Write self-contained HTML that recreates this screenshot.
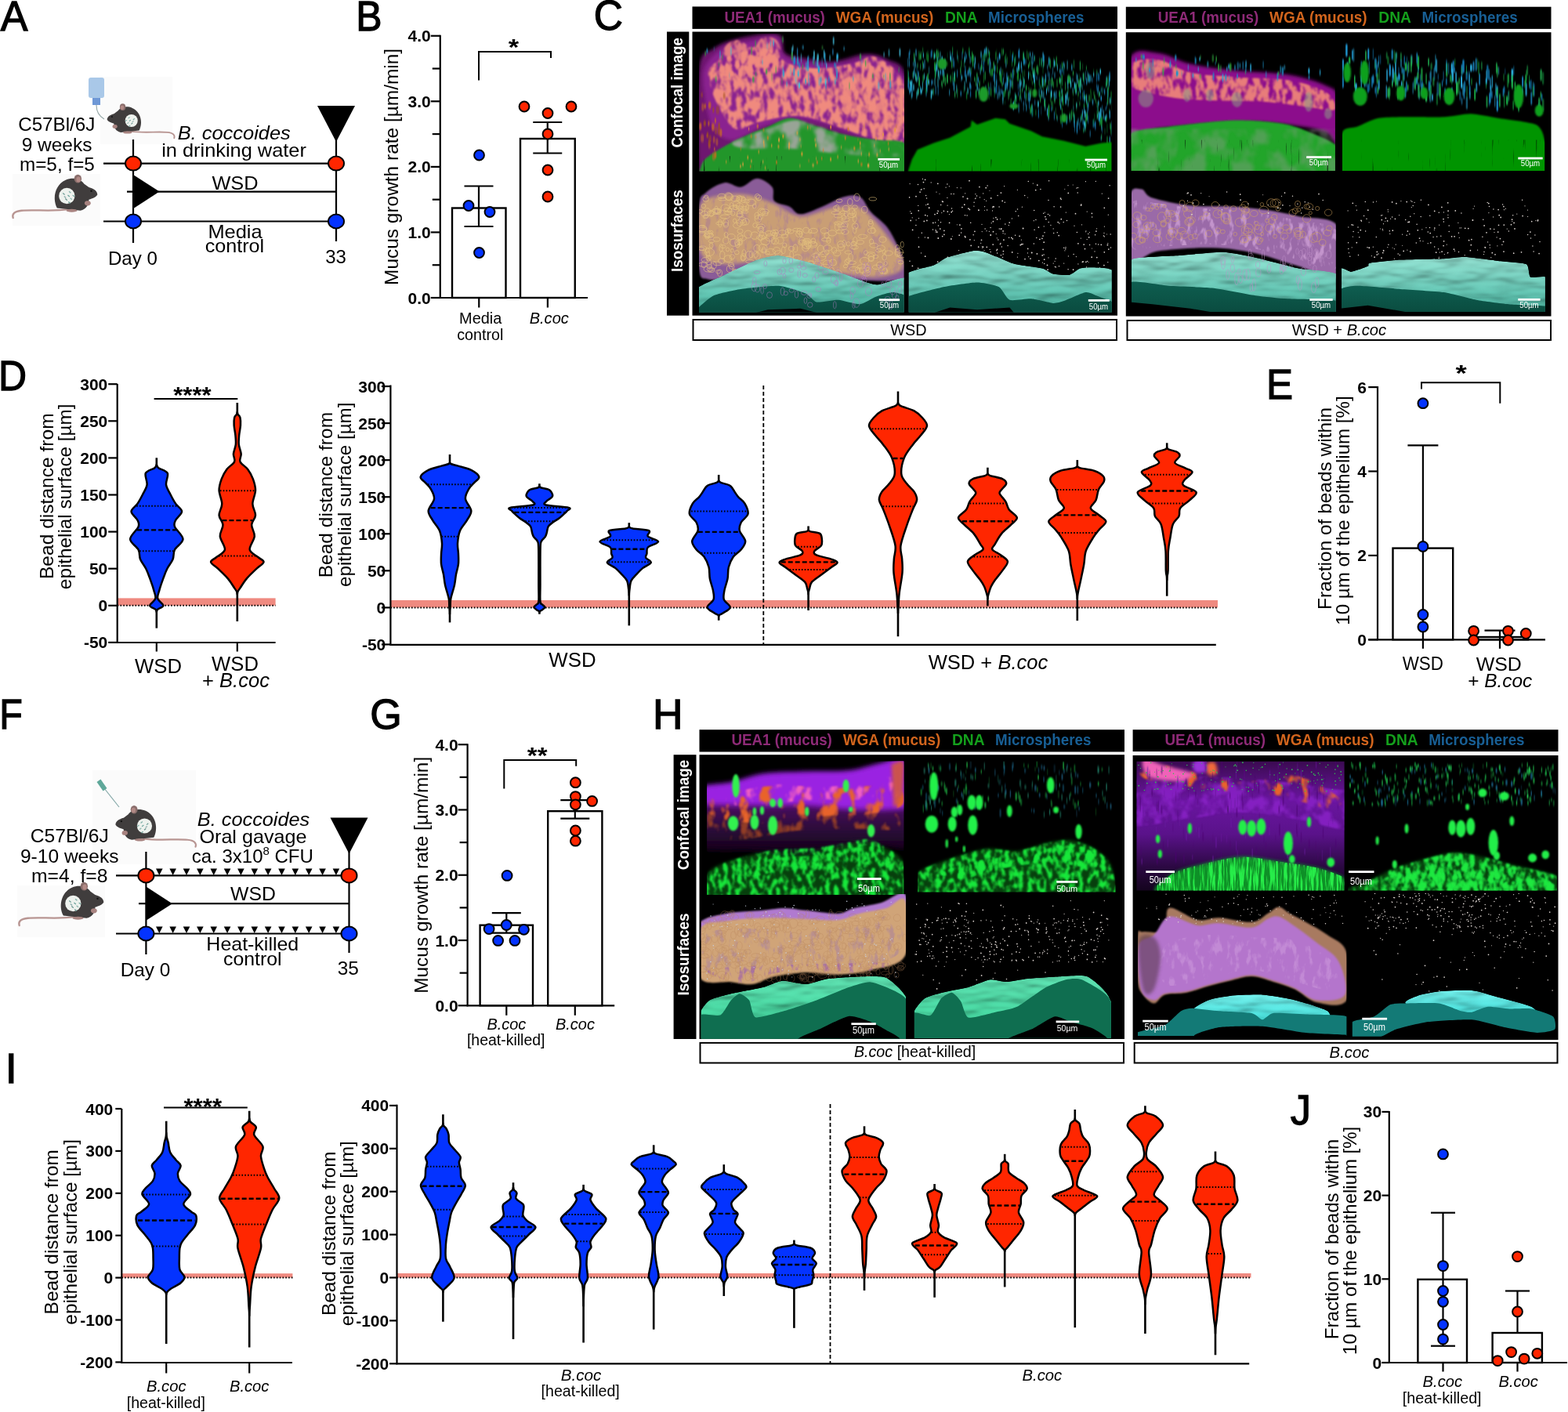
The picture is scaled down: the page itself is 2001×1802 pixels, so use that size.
<!DOCTYPE html>
<html><head><meta charset="utf-8"><title>Figure</title>
<style>
html,body{margin:0;padding:0;background:#fff;}
body{width:2001px;height:1802px;overflow:hidden;}
svg{display:block;font-family:'Liberation Sans', Arial, sans-serif;}
</style></head><body>
<svg xmlns="http://www.w3.org/2000/svg" width="2001" height="1802" viewBox="0 0 2001 1802">
<defs><filter id="b1" x="-20%" y="-20%" width="140%" height="140%"><feGaussianBlur stdDeviation="1"/></filter>
<filter id="b2" x="-20%" y="-20%" width="140%" height="140%"><feGaussianBlur stdDeviation="2"/></filter>
<filter id="b3" x="-20%" y="-20%" width="140%" height="140%"><feGaussianBlur stdDeviation="3.5"/></filter>
<filter id="bs" x="-50%" y="-50%" width="200%" height="200%"><feGaussianBlur stdDeviation="0.6 1.6"/></filter>
<filter id="mt1" x="-8%" y="-8%" width="116%" height="116%"><feTurbulence type="fractalNoise" baseFrequency="0.15 0.07" numOctaves="3" seed="3" result="n"/><feColorMatrix in="n" type="matrix" values="0 0 0 0 0  0 0 0 0 0  0 0 0 0 0  5 0 0 0 -1.75" result="a"/><feComposite in="SourceGraphic" in2="a" operator="in" result="c"/><feGaussianBlur in="c" stdDeviation="0.8"/></filter>
<filter id="mt2" x="-8%" y="-8%" width="116%" height="116%"><feTurbulence type="fractalNoise" baseFrequency="0.08 0.04" numOctaves="3" seed="7" result="n"/><feColorMatrix in="n" type="matrix" values="0 0 0 0 0  0 0 0 0 0  0 0 0 0 0  6 0 0 0 -2.9" result="a"/><feComposite in="SourceGraphic" in2="a" operator="in" result="c"/><feGaussianBlur in="c" stdDeviation="0.8"/></filter>
<filter id="st1" x="-8%" y="-8%" width="116%" height="116%"><feTurbulence type="fractalNoise" baseFrequency="0.30 0.025" numOctaves="3" seed="11" result="n"/><feColorMatrix in="n" type="matrix" values="0 0 0 0 0  0 0 0 0 0  0 0 0 0 0  6 0 0 0 -3" result="a"/><feComposite in="SourceGraphic" in2="a" operator="in" result="c"/><feGaussianBlur in="c" stdDeviation="0.5"/></filter>
<filter id="st2" x="-8%" y="-8%" width="116%" height="116%"><feTurbulence type="fractalNoise" baseFrequency="0.35 0.03" numOctaves="3" seed="5" result="n"/><feColorMatrix in="n" type="matrix" values="0 0 0 0 0  0 0 0 0 0  0 0 0 0 0  5 0 0 0 -2.2" result="a"/><feComposite in="SourceGraphic" in2="a" operator="in" result="c"/><feGaussianBlur in="c" stdDeviation="0.5"/></filter>
<filter id="mt3" x="-8%" y="-8%" width="116%" height="116%"><feTurbulence type="fractalNoise" baseFrequency="0.12 0.06" numOctaves="3" seed="9" result="n"/><feColorMatrix in="n" type="matrix" values="0 0 0 0 0  0 0 0 0 0  0 0 0 0 0  5 0 0 0 -2.6" result="a"/><feComposite in="SourceGraphic" in2="a" operator="in" result="c"/><feGaussianBlur in="c" stdDeviation="0.6"/></filter>
<filter id="gs1" x="-8%" y="-8%" width="116%" height="116%"><feTurbulence type="fractalNoise" baseFrequency="0.05 0.035" numOctaves="3" seed="21" result="n"/><feColorMatrix in="n" type="matrix" values="0 0 0 0 0  0 0 0 0 0  0 0 0 0 0  4 0 0 0 -1.7" result="a"/><feComposite in="SourceGraphic" in2="a" operator="in" result="c"/><feGaussianBlur in="c" stdDeviation="1.5"/></filter>
<filter id="gs2" x="-8%" y="-8%" width="116%" height="116%"><feTurbulence type="fractalNoise" baseFrequency="0.25 0.08" numOctaves="3" seed="22" result="n"/><feColorMatrix in="n" type="matrix" values="0 0 0 0 0  0 0 0 0 0  0 0 0 0 0  6 0 0 0 -2.6" result="a"/><feComposite in="SourceGraphic" in2="a" operator="in" result="c"/><feGaussianBlur in="c" stdDeviation="0.6"/></filter>
<filter id="dk1" x="-8%" y="-8%" width="116%" height="116%"><feTurbulence type="fractalNoise" baseFrequency="0.30 0.02" numOctaves="3" seed="31" result="n"/><feColorMatrix in="n" type="matrix" values="0 0 0 0 0  0 0 0 0 0  0 0 0 0 0  6 0 0 0 -4.2" result="a"/><feComposite in="SourceGraphic" in2="a" operator="in" result="c"/><feGaussianBlur in="c" stdDeviation="0.4"/></filter>
<filter id="bump" x="0" y="0" width="100%" height="100%"><feTurbulence type="fractalNoise" baseFrequency="0.025 0.07" numOctaves="2" seed="4" result="n"/><feDiffuseLighting in="n" surfaceScale="4" lighting-color="#fff" result="l"><feDistantLight azimuth="250" elevation="55"/></feDiffuseLighting><feComposite in="l" in2="SourceGraphic" operator="arithmetic" k1="1.0" k2="0" k3="0.12" k4="0" result="m"/><feComposite in="m" in2="SourceGraphic" operator="in"/></filter>
<clipPath id="cl1"><rect x="892" y="42.8" width="262" height="175.8"/></clipPath>
<clipPath id="cl2"><rect x="1158.3" y="42.8" width="260.2" height="175.8"/></clipPath>
<clipPath id="cl3"><rect x="892" y="220.8" width="261.6" height="177.8"/></clipPath>
<linearGradient id="tealtop" x1="0" y1="0" x2="0" y2="1"><stop offset="0" stop-color="#90dccd"/><stop offset="0.6" stop-color="#62c2b0"/><stop offset="1" stop-color="#3c9e8c"/></linearGradient>
<linearGradient id="tealfront" x1="0" y1="0" x2="0" y2="1"><stop offset="0" stop-color="#0e5e50"/><stop offset="1" stop-color="#0a4a3e"/></linearGradient>
<clipPath id="cl4"><rect x="1159.7" y="220.8" width="259.1" height="177.8"/></clipPath>
<clipPath id="cl5"><rect x="1443.6" y="42.8" width="260.3" height="175.2"/></clipPath>
<clipPath id="cl6"><rect x="1713" y="42.8" width="258.2" height="175.2"/></clipPath>
<clipPath id="cl7"><rect x="1444" y="220.8" width="260.8" height="177.2"/></clipPath>
<clipPath id="cl8"><rect x="1712" y="220.8" width="259.9" height="177.2"/></clipPath>
<linearGradient id="minttop" x1="0" y1="0" x2="0" y2="1"><stop offset="0" stop-color="#5ee0b0"/><stop offset="1" stop-color="#34c890"/></linearGradient>
<linearGradient id="cyantop" x1="0" y1="0" x2="0" y2="1"><stop offset="0" stop-color="#70eae6"/><stop offset="1" stop-color="#40d8d4"/></linearGradient>
<filter id="gsp" x="-8%" y="-8%" width="116%" height="116%"><feTurbulence type="fractalNoise" baseFrequency="0.17 0.09" numOctaves="3" seed="41" result="n"/><feColorMatrix in="n" type="matrix" values="0 0 0 0 0  0 0 0 0 0  0 0 0 0 0  5 0 0 0 -2.2" result="a"/><feComposite in="SourceGraphic" in2="a" operator="in" result="c"/><feGaussianBlur in="c" stdDeviation="0.8"/></filter>
<filter id="gsp2" x="-8%" y="-8%" width="116%" height="116%"><feTurbulence type="fractalNoise" baseFrequency="0.16 0.08" numOctaves="3" seed="43" result="n"/><feColorMatrix in="n" type="matrix" values="0 0 0 0 0  0 0 0 0 0  0 0 0 0 0  5 0 0 0 -2.3" result="a"/><feComposite in="SourceGraphic" in2="a" operator="in" result="c"/><feGaussianBlur in="c" stdDeviation="0.8"/></filter>
<filter id="vio" x="-8%" y="-8%" width="116%" height="116%"><feTurbulence type="fractalNoise" baseFrequency="0.06 0.05" numOctaves="3" seed="51" result="n"/><feColorMatrix in="n" type="matrix" values="0 0 0 0 0  0 0 0 0 0  0 0 0 0 0  4 0 0 0 -1.6" result="a"/><feComposite in="SourceGraphic" in2="a" operator="in" result="c"/><feGaussianBlur in="c" stdDeviation="1.2"/></filter>
<filter id="org" x="-8%" y="-8%" width="116%" height="116%"><feTurbulence type="fractalNoise" baseFrequency="0.07 0.04" numOctaves="3" seed="52" result="n"/><feColorMatrix in="n" type="matrix" values="0 0 0 0 0  0 0 0 0 0  0 0 0 0 0  6 0 0 0 -3.2" result="a"/><feComposite in="SourceGraphic" in2="a" operator="in" result="c"/><feGaussianBlur in="c" stdDeviation="1"/></filter>
<filter id="pnk" x="-8%" y="-8%" width="116%" height="116%"><feTurbulence type="fractalNoise" baseFrequency="0.07 0.04" numOctaves="3" seed="53" result="n"/><feColorMatrix in="n" type="matrix" values="0 0 0 0 0  0 0 0 0 0  0 0 0 0 0  6 0 0 0 -3.4" result="a"/><feComposite in="SourceGraphic" in2="a" operator="in" result="c"/><feGaussianBlur in="c" stdDeviation="1"/></filter>
<clipPath id="cl9"><rect x="902.2" y="971.5" width="251.1" height="170.5"/></clipPath>
<linearGradient id="hdk" x1="0" y1="0" x2="0" y2="1"><stop offset="0" stop-color="#6a1888"/><stop offset="0.5" stop-color="#3a0c4c"/><stop offset="1" stop-color="#120316"/></linearGradient>
<clipPath id="cl10"><rect x="1171" y="971.5" width="252.4" height="167.1"/></clipPath>
<clipPath id="cl11"><rect x="1171" y="971.5" width="252.4" height="167.1"/></clipPath>
<clipPath id="cl12"><rect x="894.7" y="1141" width="261.3" height="184.5"/></clipPath>
<clipPath id="cl13"><rect x="1166.9" y="1141" width="251" height="183.8"/></clipPath>
<clipPath id="cl14"><rect x="1450.5" y="971.7" width="265.1" height="164.7"/></clipPath>
<linearGradient id="hpur" x1="0" y1="0" x2="0" y2="1"><stop offset="0" stop-color="#3a0a50"/><stop offset="0.3" stop-color="#6a16a0"/><stop offset="0.55" stop-color="#5a128a"/><stop offset="0.8" stop-color="#2a0840"/><stop offset="1" stop-color="#100318"/></linearGradient>
<clipPath id="cl15"><rect x="1720.3" y="971.7" width="266.5" height="164.7"/></clipPath>
<clipPath id="cl16"><rect x="1720.3" y="971.7" width="266.5" height="164.7"/></clipPath>
<clipPath id="cl17"><rect x="1452" y="1140" width="266.4" height="182"/></clipPath>
<clipPath id="cl18"><rect x="1725.8" y="1140" width="260.7" height="182.8"/></clipPath></defs>
<rect width="2001" height="1802" fill="#fff"/>
<text x="18" y="38.75" font-size="53.5" text-anchor="middle" stroke="#000" stroke-width="1.3" textLength="34.7" lengthAdjust="spacingAndGlyphs">A</text>
<text x="470.88" y="38.75" font-size="53.5" text-anchor="middle" stroke="#000" stroke-width="1.3" textLength="33.3" lengthAdjust="spacingAndGlyphs">B</text>
<text x="776.45" y="38.2" font-size="53.5" text-anchor="middle" stroke="#000" stroke-width="1.3" textLength="37.21" lengthAdjust="spacingAndGlyphs">C</text>
<text x="16" y="497.6" font-size="53.5" text-anchor="middle" stroke="#000" stroke-width="1.3" textLength="36.05" lengthAdjust="spacingAndGlyphs">D</text>
<text x="1633" y="508.6" font-size="53.5" text-anchor="middle" stroke="#000" stroke-width="1.3" textLength="34.05" lengthAdjust="spacingAndGlyphs">E</text>
<text x="14.05" y="929.8" font-size="53.5" text-anchor="middle" stroke="#000" stroke-width="1.3" textLength="29.55" lengthAdjust="spacingAndGlyphs">F</text>
<text x="492.5" y="930.3" font-size="53.5" text-anchor="middle" stroke="#000" stroke-width="1.3" textLength="40.52" lengthAdjust="spacingAndGlyphs">G</text>
<text x="852.35" y="929.6" font-size="53.5" text-anchor="middle" stroke="#000" stroke-width="1.3" textLength="38.56" lengthAdjust="spacingAndGlyphs">H</text>
<text x="14.35" y="1382" font-size="53.5" text-anchor="middle" stroke="#000" stroke-width="1.3" textLength="15.03" lengthAdjust="spacingAndGlyphs">I</text>
<text x="1659.85" y="1435" font-size="53.5" text-anchor="middle" stroke="#000" stroke-width="1.3" textLength="26.28" lengthAdjust="spacingAndGlyphs">J</text>
<rect x="128" y="98" width="92" height="86" fill="#fbfbfb"/>
<rect x="16" y="222" width="112" height="66" fill="#fbfbfb"/>
<g transform="translate(164 154) scale(-0.62 0.62)">
<path d="M-4,22 C-30,26 -60,22 -80,24 C-92,25 -96,30 -94,36" fill="none" stroke="#b89592" stroke-width="3" stroke-linecap="round"/>
<path d="M-22,20 C-30,5 -26,-18 -8,-26 C4,-31 16,-28 22,-20 L30,-14 C38,-12 44,-8 44,-2 C42,2 36,4 30,6 C30,14 26,22 16,24 Z" fill="#403d3d"/>
<ellipse cx="12" cy="-28" rx="6" ry="7" fill="#8a6e6c"/><ellipse cx="13" cy="-27" rx="3.5" ry="4.5" fill="#b38a86"/>
<ellipse cx="28" cy="12" rx="5" ry="4" fill="#a88380"/><ellipse cx="2" cy="24" rx="9" ry="2.5" fill="#a88380"/>
<circle cx="-6" cy="0" r="13" fill="#eef2ee"/>
<rect x="-12" y="-5" width="4" height="1.6" fill="#6a9c94" transform="rotate(40 -12 -5)"/>
<rect x="-2" y="-8" width="4" height="1.6" fill="#7fb0a8" transform="rotate(40 -2 -8)"/>
<rect x="-8" y="4" width="4" height="1.6" fill="#5b8a84" transform="rotate(40 -8 4)"/>
<rect x="0" y="3" width="4" height="1.6" fill="#8fb8b0" transform="rotate(40 0 3)"/>
<rect x="-4" y="-2" width="4" height="1.6" fill="#6aa29a" transform="rotate(40 -4 -2)"/>
<rect x="4" y="-2" width="4" height="1.6" fill="#77a9a0" transform="rotate(40 4 -2)"/>
<rect x="-10" y="0" width="4" height="1.6" fill="#8aa" transform="rotate(40 -10 0)"/>
<rect x="-3" y="9" width="4" height="1.6" fill="#6a9c94" transform="rotate(40 -3 9)"/>
<circle cx="34" cy="-8" r="1.6" fill="#111"/>
</g>
<g transform="translate(90 250) scale(0.78 0.78)">
<path d="M-4,22 C-30,26 -60,22 -80,24 C-92,25 -96,30 -94,36" fill="none" stroke="#b89592" stroke-width="3" stroke-linecap="round"/>
<path d="M-22,20 C-30,5 -26,-18 -8,-26 C4,-31 16,-28 22,-20 L30,-14 C38,-12 44,-8 44,-2 C42,2 36,4 30,6 C30,14 26,22 16,24 Z" fill="#403d3d"/>
<ellipse cx="12" cy="-28" rx="6" ry="7" fill="#8a6e6c"/><ellipse cx="13" cy="-27" rx="3.5" ry="4.5" fill="#b38a86"/>
<ellipse cx="28" cy="12" rx="5" ry="4" fill="#a88380"/><ellipse cx="2" cy="24" rx="9" ry="2.5" fill="#a88380"/>
<circle cx="-6" cy="0" r="13" fill="#eef2ee"/>
<rect x="-12" y="-5" width="4" height="1.6" fill="#6a9c94" transform="rotate(40 -12 -5)"/>
<rect x="-2" y="-8" width="4" height="1.6" fill="#7fb0a8" transform="rotate(40 -2 -8)"/>
<rect x="-8" y="4" width="4" height="1.6" fill="#5b8a84" transform="rotate(40 -8 4)"/>
<rect x="0" y="3" width="4" height="1.6" fill="#8fb8b0" transform="rotate(40 0 3)"/>
<rect x="-4" y="-2" width="4" height="1.6" fill="#6aa29a" transform="rotate(40 -4 -2)"/>
<rect x="4" y="-2" width="4" height="1.6" fill="#77a9a0" transform="rotate(40 4 -2)"/>
<rect x="-10" y="0" width="4" height="1.6" fill="#8aa" transform="rotate(40 -10 0)"/>
<rect x="-3" y="9" width="4" height="1.6" fill="#6a9c94" transform="rotate(40 -3 9)"/>
<circle cx="34" cy="-8" r="1.6" fill="#111"/>
</g>
<rect x="113" y="99" width="20" height="26" rx="3" fill="#a9c8e8"/>
<rect x="118" y="125" width="10" height="9" fill="#6f98d6"/>
<path d="M123,134 C123,142 126,148 133,152" fill="none" stroke="#9aa" stroke-width="1.2"/>
<line x1="170" y1="178" x2="170" y2="310" stroke="#000" stroke-width="2.2"/>
<line x1="429" y1="175" x2="429" y2="308" stroke="#000" stroke-width="2.2"/>
<line x1="132" y1="208.6" x2="429" y2="208.6" stroke="#000" stroke-width="2.2"/>
<line x1="132" y1="282.5" x2="429" y2="282.5" stroke="#000" stroke-width="2.2"/>
<line x1="162" y1="244.6" x2="429" y2="244.6" stroke="#000" stroke-width="2.2"/>
<polygon points="170,223 203.5,244.6 170,266.2" fill="#000"/>
<polygon points="405,135 453,135 429,181" fill="#000"/>
<ellipse cx="170" cy="208.6" rx="10" ry="9" fill="#FF2600" stroke="#000" stroke-width="2"/>
<ellipse cx="429" cy="208.6" rx="10" ry="9" fill="#FF2600" stroke="#000" stroke-width="2"/>
<ellipse cx="170" cy="282.5" rx="10" ry="9" fill="#0433FF" stroke="#000" stroke-width="2"/>
<ellipse cx="429" cy="282.5" rx="10" ry="9" fill="#0433FF" stroke="#000" stroke-width="2"/>
<text x="72.25" y="166.7" font-size="24" textLength="98.18" lengthAdjust="spacingAndGlyphs" text-anchor="middle">C57Bl/6J</text>
<text x="72.55" y="192.5" font-size="24" textLength="89.78" lengthAdjust="spacingAndGlyphs" text-anchor="middle">9 weeks</text>
<text x="72.9" y="218" font-size="24" textLength="95.88" lengthAdjust="spacingAndGlyphs" text-anchor="middle">m=5, f=5</text>
<text x="298.75" y="178" font-size="24" textLength="144.18" lengthAdjust="spacingAndGlyphs" text-anchor="middle" font-style="italic">B. coccoides</text>
<text x="298.5" y="200" font-size="24" textLength="184.68" lengthAdjust="spacingAndGlyphs" text-anchor="middle">in drinking water</text>
<text x="300" y="242" font-size="24" textLength="59.18" lengthAdjust="spacingAndGlyphs" text-anchor="middle">WSD</text>
<text x="300" y="303.5" font-size="24" textLength="69.18" lengthAdjust="spacingAndGlyphs" text-anchor="middle">Media</text>
<text x="299.4" y="321.5" font-size="24" textLength="75.43" lengthAdjust="spacingAndGlyphs" text-anchor="middle">control</text>
<text x="169.4" y="338" font-size="24" textLength="62.93" lengthAdjust="spacingAndGlyphs" text-anchor="middle">Day 0</text>
<text x="428.5" y="335.5" font-size="24" textLength="26.68" lengthAdjust="spacingAndGlyphs" text-anchor="middle">33</text>
<rect x="118" y="983" width="132" height="120" fill="#fbfbfb"/>
<rect x="22" y="1130" width="112" height="66" fill="#fbfbfb"/>
<g transform="translate(180 1054) scale(-0.74 0.74)">
<path d="M-4,22 C-30,26 -60,22 -80,24 C-92,25 -96,30 -94,36" fill="none" stroke="#b89592" stroke-width="3" stroke-linecap="round"/>
<path d="M-22,20 C-30,5 -26,-18 -8,-26 C4,-31 16,-28 22,-20 L30,-14 C38,-12 44,-8 44,-2 C42,2 36,4 30,6 C30,14 26,22 16,24 Z" fill="#403d3d"/>
<ellipse cx="12" cy="-28" rx="6" ry="7" fill="#8a6e6c"/><ellipse cx="13" cy="-27" rx="3.5" ry="4.5" fill="#b38a86"/>
<ellipse cx="28" cy="12" rx="5" ry="4" fill="#a88380"/><ellipse cx="2" cy="24" rx="9" ry="2.5" fill="#a88380"/>
<circle cx="-6" cy="0" r="13" fill="#eef2ee"/>
<rect x="-12" y="-5" width="4" height="1.6" fill="#6a9c94" transform="rotate(40 -12 -5)"/>
<rect x="-2" y="-8" width="4" height="1.6" fill="#7fb0a8" transform="rotate(40 -2 -8)"/>
<rect x="-8" y="4" width="4" height="1.6" fill="#5b8a84" transform="rotate(40 -8 4)"/>
<rect x="0" y="3" width="4" height="1.6" fill="#8fb8b0" transform="rotate(40 0 3)"/>
<rect x="-4" y="-2" width="4" height="1.6" fill="#6aa29a" transform="rotate(40 -4 -2)"/>
<rect x="4" y="-2" width="4" height="1.6" fill="#77a9a0" transform="rotate(40 4 -2)"/>
<rect x="-10" y="0" width="4" height="1.6" fill="#8aa" transform="rotate(40 -10 0)"/>
<rect x="-3" y="9" width="4" height="1.6" fill="#6a9c94" transform="rotate(40 -3 9)"/>
<circle cx="34" cy="-8" r="1.6" fill="#111"/>
</g>
<g transform="translate(98 1153) scale(0.78 0.78)">
<path d="M-4,22 C-30,26 -60,22 -80,24 C-92,25 -96,30 -94,36" fill="none" stroke="#b89592" stroke-width="3" stroke-linecap="round"/>
<path d="M-22,20 C-30,5 -26,-18 -8,-26 C4,-31 16,-28 22,-20 L30,-14 C38,-12 44,-8 44,-2 C42,2 36,4 30,6 C30,14 26,22 16,24 Z" fill="#403d3d"/>
<ellipse cx="12" cy="-28" rx="6" ry="7" fill="#8a6e6c"/><ellipse cx="13" cy="-27" rx="3.5" ry="4.5" fill="#b38a86"/>
<ellipse cx="28" cy="12" rx="5" ry="4" fill="#a88380"/><ellipse cx="2" cy="24" rx="9" ry="2.5" fill="#a88380"/>
<circle cx="-6" cy="0" r="13" fill="#eef2ee"/>
<rect x="-12" y="-5" width="4" height="1.6" fill="#6a9c94" transform="rotate(40 -12 -5)"/>
<rect x="-2" y="-8" width="4" height="1.6" fill="#7fb0a8" transform="rotate(40 -2 -8)"/>
<rect x="-8" y="4" width="4" height="1.6" fill="#5b8a84" transform="rotate(40 -8 4)"/>
<rect x="0" y="3" width="4" height="1.6" fill="#8fb8b0" transform="rotate(40 0 3)"/>
<rect x="-4" y="-2" width="4" height="1.6" fill="#6aa29a" transform="rotate(40 -4 -2)"/>
<rect x="4" y="-2" width="4" height="1.6" fill="#77a9a0" transform="rotate(40 4 -2)"/>
<rect x="-10" y="0" width="4" height="1.6" fill="#8aa" transform="rotate(40 -10 0)"/>
<rect x="-3" y="9" width="4" height="1.6" fill="#6a9c94" transform="rotate(40 -3 9)"/>
<circle cx="34" cy="-8" r="1.6" fill="#111"/>
</g>
<path d="M133,1006 L152,1030" stroke="#8aa" stroke-width="1.2"/>
<rect x="127" y="995" width="6" height="14" fill="#5fa89a" transform="rotate(-35 130 1002)"/>
<line x1="186.4" y1="1087" x2="186.4" y2="1218" stroke="#000" stroke-width="2.2"/>
<line x1="445.5" y1="1083.5" x2="445.5" y2="1216" stroke="#000" stroke-width="2.2"/>
<line x1="148" y1="1117.4" x2="445.5" y2="1117.4" stroke="#000" stroke-width="2.2"/>
<line x1="148" y1="1191.5" x2="445.5" y2="1191.5" stroke="#000" stroke-width="2.2"/>
<line x1="177" y1="1153.2" x2="445.5" y2="1153.2" stroke="#000" stroke-width="2.2"/>
<polygon points="186.4,1131.6 219.9,1153.2 186.4,1174.8" fill="#000"/>
<polygon points="421.5,1043.5 469.5,1043.5 445.5,1089.5" fill="#000"/>
<polygon points="199,1108.4 207.6,1108.4 203.3,1117" fill="#000"/>
<polygon points="199,1182.5 207.6,1182.5 203.3,1191.1" fill="#000"/>
<polygon points="216.35,1108.4 224.95,1108.4 220.65,1117" fill="#000"/>
<polygon points="216.35,1182.5 224.95,1182.5 220.65,1191.1" fill="#000"/>
<polygon points="233.71,1108.4 242.31,1108.4 238.01,1117" fill="#000"/>
<polygon points="233.71,1182.5 242.31,1182.5 238.01,1191.1" fill="#000"/>
<polygon points="251.06,1108.4 259.66,1108.4 255.36,1117" fill="#000"/>
<polygon points="251.06,1182.5 259.66,1182.5 255.36,1191.1" fill="#000"/>
<polygon points="268.42,1108.4 277.02,1108.4 272.72,1117" fill="#000"/>
<polygon points="268.42,1182.5 277.02,1182.5 272.72,1191.1" fill="#000"/>
<polygon points="285.77,1108.4 294.37,1108.4 290.07,1117" fill="#000"/>
<polygon points="285.77,1182.5 294.37,1182.5 290.07,1191.1" fill="#000"/>
<polygon points="303.12,1108.4 311.72,1108.4 307.42,1117" fill="#000"/>
<polygon points="303.12,1182.5 311.72,1182.5 307.42,1191.1" fill="#000"/>
<polygon points="320.48,1108.4 329.08,1108.4 324.78,1117" fill="#000"/>
<polygon points="320.48,1182.5 329.08,1182.5 324.78,1191.1" fill="#000"/>
<polygon points="337.83,1108.4 346.43,1108.4 342.13,1117" fill="#000"/>
<polygon points="337.83,1182.5 346.43,1182.5 342.13,1191.1" fill="#000"/>
<polygon points="355.18,1108.4 363.78,1108.4 359.48,1117" fill="#000"/>
<polygon points="355.18,1182.5 363.78,1182.5 359.48,1191.1" fill="#000"/>
<polygon points="372.54,1108.4 381.14,1108.4 376.84,1117" fill="#000"/>
<polygon points="372.54,1182.5 381.14,1182.5 376.84,1191.1" fill="#000"/>
<polygon points="389.89,1108.4 398.49,1108.4 394.19,1117" fill="#000"/>
<polygon points="389.89,1182.5 398.49,1182.5 394.19,1191.1" fill="#000"/>
<polygon points="407.25,1108.4 415.85,1108.4 411.55,1117" fill="#000"/>
<polygon points="407.25,1182.5 415.85,1182.5 411.55,1191.1" fill="#000"/>
<polygon points="424.6,1108.4 433.2,1108.4 428.9,1117" fill="#000"/>
<polygon points="424.6,1182.5 433.2,1182.5 428.9,1191.1" fill="#000"/>
<ellipse cx="186.4" cy="1117.4" rx="10" ry="9" fill="#FF2600" stroke="#000" stroke-width="2"/>
<ellipse cx="445.5" cy="1117.4" rx="10" ry="9" fill="#FF2600" stroke="#000" stroke-width="2"/>
<ellipse cx="186.4" cy="1191.5" rx="10" ry="9" fill="#0433FF" stroke="#000" stroke-width="2"/>
<ellipse cx="445.5" cy="1191.5" rx="10" ry="9" fill="#0433FF" stroke="#000" stroke-width="2"/>
<text x="88.75" y="1075.3" font-size="24" textLength="99.98" lengthAdjust="spacingAndGlyphs" text-anchor="middle">C57Bl/6J</text>
<text x="88.7" y="1100.8" font-size="24" textLength="125.48" lengthAdjust="spacingAndGlyphs" text-anchor="middle">9-10 weeks</text>
<text x="88.7" y="1126.4" font-size="24" textLength="97.48" lengthAdjust="spacingAndGlyphs" text-anchor="middle">m=4, f=8</text>
<text x="323.55" y="1054.4" font-size="24" textLength="143.38" lengthAdjust="spacingAndGlyphs" text-anchor="middle" font-style="italic">B. coccoides</text>
<text x="322.95" y="1076" font-size="24" textLength="136.98" lengthAdjust="spacingAndGlyphs" text-anchor="middle">Oral gavage</text>
<text x="322.3" y="1100.8" font-size="24" text-anchor="middle">ca. 3x10<tspan dy="-10" font-size="15">8</tspan><tspan dy="10"> CFU</tspan></text>
<text x="323" y="1148.6" font-size="24" textLength="57.78" lengthAdjust="spacingAndGlyphs" text-anchor="middle">WSD</text>
<text x="322.3" y="1213.2" font-size="24" textLength="117.88" lengthAdjust="spacingAndGlyphs" text-anchor="middle">Heat-killed</text>
<text x="322.3" y="1231.8" font-size="24" textLength="74.48" lengthAdjust="spacingAndGlyphs" text-anchor="middle">control</text>
<text x="185.5" y="1246.3" font-size="24" textLength="63.68" lengthAdjust="spacingAndGlyphs" text-anchor="middle">Day 0</text>
<text x="444.25" y="1243.8" font-size="24" textLength="27.18" lengthAdjust="spacingAndGlyphs" text-anchor="middle">35</text>
<line x1="561.75" y1="44.75" x2="561.75" y2="381" stroke="#000" stroke-width="2.2"/>
<line x1="560.75" y1="380" x2="750" y2="380" stroke="#000" stroke-width="2.2"/>
<line x1="549.75" y1="380" x2="561.75" y2="380" stroke="#000" stroke-width="2.2"/>
<text x="549.8" y="387.5" font-size="21" text-anchor="end" font-weight="bold">0.0</text>
<line x1="549.75" y1="296.44" x2="561.75" y2="296.44" stroke="#000" stroke-width="2.2"/>
<text x="549.8" y="303.94" font-size="21" text-anchor="end" font-weight="bold">1.0</text>
<line x1="549.75" y1="212.88" x2="561.75" y2="212.88" stroke="#000" stroke-width="2.2"/>
<text x="549.8" y="220.38" font-size="21" text-anchor="end" font-weight="bold">2.0</text>
<line x1="549.75" y1="129.31" x2="561.75" y2="129.31" stroke="#000" stroke-width="2.2"/>
<text x="549.8" y="136.81" font-size="21" text-anchor="end" font-weight="bold">3.0</text>
<line x1="549.75" y1="45.75" x2="561.75" y2="45.75" stroke="#000" stroke-width="2.2"/>
<text x="549.8" y="53.25" font-size="21" text-anchor="end" font-weight="bold">4.0</text>
<line x1="551.75" y1="338.22" x2="561.75" y2="338.22" stroke="#000" stroke-width="2.2"/>
<line x1="551.75" y1="254.66" x2="561.75" y2="254.66" stroke="#000" stroke-width="2.2"/>
<line x1="551.75" y1="171.09" x2="561.75" y2="171.09" stroke="#000" stroke-width="2.2"/>
<line x1="551.75" y1="87.53" x2="561.75" y2="87.53" stroke="#000" stroke-width="2.2"/>
<rect x="577" y="265.5" width="68.5" height="114.5" fill="#fff" stroke="#000" stroke-width="2.4"/>
<line x1="611.25" y1="380" x2="611.25" y2="392.5" stroke="#000" stroke-width="2.2"/>
<rect x="664" y="177" width="69.75" height="203" fill="#fff" stroke="#000" stroke-width="2.4"/>
<line x1="698.88" y1="380" x2="698.88" y2="392.5" stroke="#000" stroke-width="2.2"/>
<line x1="611" y1="237.5" x2="611" y2="289" stroke="#000" stroke-width="2.2"/>
<line x1="592.5" y1="237.5" x2="629.5" y2="237.5" stroke="#000" stroke-width="2.2"/>
<line x1="592.5" y1="289" x2="629.5" y2="289" stroke="#000" stroke-width="2.2"/>
<line x1="698.75" y1="156" x2="698.75" y2="195.5" stroke="#000" stroke-width="2.2"/>
<line x1="680.25" y1="156" x2="717.25" y2="156" stroke="#000" stroke-width="2.2"/>
<line x1="680.25" y1="195.5" x2="717.25" y2="195.5" stroke="#000" stroke-width="2.2"/>
<circle cx="611.5" cy="198" r="6.4" fill="#0433FF" stroke="#000" stroke-width="2"/>
<circle cx="598" cy="262.5" r="6.4" fill="#0433FF" stroke="#000" stroke-width="2"/>
<circle cx="625" cy="270.5" r="6.4" fill="#0433FF" stroke="#000" stroke-width="2"/>
<circle cx="611.5" cy="322.5" r="6.4" fill="#0433FF" stroke="#000" stroke-width="2"/>
<circle cx="669" cy="136" r="6.4" fill="#FF2600" stroke="#000" stroke-width="2"/>
<circle cx="729" cy="136" r="6.4" fill="#FF2600" stroke="#000" stroke-width="2"/>
<circle cx="699" cy="144.5" r="6.4" fill="#FF2600" stroke="#000" stroke-width="2"/>
<circle cx="699" cy="171" r="6.4" fill="#FF2600" stroke="#000" stroke-width="2"/>
<circle cx="699" cy="217" r="6.4" fill="#FF2600" stroke="#000" stroke-width="2"/>
<circle cx="699" cy="251" r="6.4" fill="#FF2600" stroke="#000" stroke-width="2"/>
<text x="508.3" y="212.9" font-size="24.2" textLength="302.09" lengthAdjust="spacingAndGlyphs" text-anchor="middle" transform="rotate(-90 508.3 212.9)">Mucus growth rate [µm/min]</text>
<text x="613.2" y="412.8" font-size="19.7" textLength="54.18" lengthAdjust="spacingAndGlyphs" text-anchor="middle">Media</text>
<text x="612.8" y="433.6" font-size="19.7" textLength="58.98" lengthAdjust="spacingAndGlyphs" text-anchor="middle">control</text>
<text x="700.75" y="412.8" font-size="19.7" textLength="50.08" lengthAdjust="spacingAndGlyphs" text-anchor="middle" font-style="italic">B.coc</text>
<polyline points="611,102.5 611,66 703,66 703,74" fill="none" stroke="#000" stroke-width="2"/>
<text x="655.35" y="69.9" font-size="30" textLength="13.4" lengthAdjust="spacingAndGlyphs" text-anchor="middle" font-weight="bold">*</text>
<line x1="596.6" y1="949.2" x2="596.6" y2="1284.3" stroke="#000" stroke-width="2.2"/>
<line x1="595.6" y1="1283.3" x2="784.2" y2="1283.3" stroke="#000" stroke-width="2.2"/>
<line x1="584.6" y1="1283.3" x2="596.6" y2="1283.3" stroke="#000" stroke-width="2.2"/>
<text x="584.6" y="1290.8" font-size="21" text-anchor="end" font-weight="bold">0.0</text>
<line x1="584.6" y1="1200.03" x2="596.6" y2="1200.03" stroke="#000" stroke-width="2.2"/>
<text x="584.6" y="1207.53" font-size="21" text-anchor="end" font-weight="bold">1.0</text>
<line x1="584.6" y1="1116.75" x2="596.6" y2="1116.75" stroke="#000" stroke-width="2.2"/>
<text x="584.6" y="1124.25" font-size="21" text-anchor="end" font-weight="bold">2.0</text>
<line x1="584.6" y1="1033.47" x2="596.6" y2="1033.47" stroke="#000" stroke-width="2.2"/>
<text x="584.6" y="1040.97" font-size="21" text-anchor="end" font-weight="bold">3.0</text>
<line x1="584.6" y1="950.2" x2="596.6" y2="950.2" stroke="#000" stroke-width="2.2"/>
<text x="584.6" y="957.7" font-size="21" text-anchor="end" font-weight="bold">4.0</text>
<line x1="586.6" y1="1241.66" x2="596.6" y2="1241.66" stroke="#000" stroke-width="2.2"/>
<line x1="586.6" y1="1158.39" x2="596.6" y2="1158.39" stroke="#000" stroke-width="2.2"/>
<line x1="586.6" y1="1075.11" x2="596.6" y2="1075.11" stroke="#000" stroke-width="2.2"/>
<line x1="586.6" y1="991.84" x2="596.6" y2="991.84" stroke="#000" stroke-width="2.2"/>
<rect x="612.6" y="1180.7" width="67.4" height="102.6" fill="#fff" stroke="#000" stroke-width="2.4"/>
<line x1="646.3" y1="1283.3" x2="646.3" y2="1295.8" stroke="#000" stroke-width="2.2"/>
<rect x="699.2" y="1035.2" width="69.2" height="248.1" fill="#fff" stroke="#000" stroke-width="2.4"/>
<line x1="733.8" y1="1283.3" x2="733.8" y2="1295.8" stroke="#000" stroke-width="2.2"/>
<line x1="646.3" y1="1165.1" x2="646.3" y2="1190.7" stroke="#000" stroke-width="2.2"/>
<line x1="627.8" y1="1165.1" x2="664.8" y2="1165.1" stroke="#000" stroke-width="2.2"/>
<line x1="627.8" y1="1190.7" x2="664.8" y2="1190.7" stroke="#000" stroke-width="2.2"/>
<line x1="733.8" y1="1021.2" x2="733.8" y2="1044.6" stroke="#000" stroke-width="2.2"/>
<line x1="715.3" y1="1021.2" x2="752.3" y2="1021.2" stroke="#000" stroke-width="2.2"/>
<line x1="715.3" y1="1044.6" x2="752.3" y2="1044.6" stroke="#000" stroke-width="2.2"/>
<circle cx="647.1" cy="1117.4" r="6.4" fill="#0433FF" stroke="#000" stroke-width="2"/>
<circle cx="646.3" cy="1180.5" r="6.4" fill="#0433FF" stroke="#000" stroke-width="2"/>
<circle cx="624.1" cy="1185.6" r="6.4" fill="#0433FF" stroke="#000" stroke-width="2"/>
<circle cx="668.5" cy="1186.3" r="6.4" fill="#0433FF" stroke="#000" stroke-width="2"/>
<circle cx="635.6" cy="1200.4" r="6.4" fill="#0433FF" stroke="#000" stroke-width="2"/>
<circle cx="657" cy="1200.4" r="6.4" fill="#0433FF" stroke="#000" stroke-width="2"/>
<circle cx="734.4" cy="998.7" r="6.4" fill="#FF2600" stroke="#000" stroke-width="2"/>
<circle cx="734.4" cy="1016.6" r="6.4" fill="#FF2600" stroke="#000" stroke-width="2"/>
<circle cx="755.6" cy="1022.4" r="6.4" fill="#FF2600" stroke="#000" stroke-width="2"/>
<circle cx="734.4" cy="1026.8" r="6.4" fill="#FF2600" stroke="#000" stroke-width="2"/>
<circle cx="734.4" cy="1060" r="6.4" fill="#FF2600" stroke="#000" stroke-width="2"/>
<circle cx="734.4" cy="1073.2" r="6.4" fill="#FF2600" stroke="#000" stroke-width="2"/>
<text x="546.3" y="1116.8" font-size="24.2" textLength="302.09" lengthAdjust="spacingAndGlyphs" text-anchor="middle" transform="rotate(-90 546.3 1116.8)">Mucus growth rate [µm/min]</text>
<text x="646.35" y="1314" font-size="19.7" textLength="49.88" lengthAdjust="spacingAndGlyphs" text-anchor="middle" font-style="italic">B.coc</text>
<text x="645.7" y="1334.4" font-size="19.7" textLength="99.58" lengthAdjust="spacingAndGlyphs" text-anchor="middle">[heat-killed]</text>
<text x="733.9" y="1314" font-size="19.7" textLength="49.98" lengthAdjust="spacingAndGlyphs" text-anchor="middle" font-style="italic">B.coc</text>
<polyline points="643.3,1006.4 643.3,970.1 735.2,970.1 735.2,977.8" fill="none" stroke="#000" stroke-width="2"/>
<text x="685.65" y="974.4" font-size="30" textLength="25.6" lengthAdjust="spacingAndGlyphs" text-anchor="middle" font-weight="bold">**</text>
<rect x="149.7" y="763.38" width="201.9" height="9.42" fill="#EF8A80"/>
<line x1="149.7" y1="772.8" x2="351.6" y2="772.8" stroke="#000" stroke-width="2" stroke-dasharray="1.6 2.2"/>
<line x1="199.8" y1="584.31" x2="199.8" y2="801.65" stroke="#000" stroke-width="2.6"/>
<path d="M199.8,592.86 C200.22,593.59 199.99,595.42 202.31,597.25 C204.63,599.08 212.1,600.31 213.72,603.85 C215.34,607.39 211.4,614.02 212.01,618.5 C212.62,622.98 215.35,626.64 217.38,630.71 C219.42,634.78 221.78,639.26 224.22,642.92 C226.66,646.58 232.03,649.23 232.03,652.69 C232.03,656.15 225.73,660.42 224.22,663.68 C222.71,666.93 221.45,668.15 223,672.22 C224.55,676.29 233.5,683.21 233.5,688.1 C233.5,692.98 225.16,697.25 223,701.53 C220.84,705.8 222.19,709.67 220.56,713.74 C218.93,717.81 215.27,721.88 213.23,725.95 C211.2,730.02 209.98,733.68 208.35,738.16 C206.72,742.63 204.64,748.53 203.46,752.81 C202.28,757.08 200.45,760.46 201.27,763.8 C202.08,767.13 208.33,770.52 208.35,772.83 C208.36,775.14 202.76,776.32 201.34,777.67 C199.91,779.01 200.06,780.35 199.8,780.89 C199.54,780.35 199.69,779.01 198.26,777.67 C196.84,776.32 191.24,775.14 191.25,772.83 C191.27,770.52 197.52,767.13 198.33,763.8 C199.15,760.46 197.32,757.08 196.14,752.81 C194.96,748.53 192.88,742.63 191.25,738.16 C189.62,733.68 188.4,730.02 186.37,725.95 C184.33,721.88 180.67,717.81 179.04,713.74 C177.41,709.67 178.76,705.8 176.6,701.53 C174.44,697.25 166.1,692.98 166.1,688.1 C166.1,683.21 175.05,676.29 176.6,672.22 C178.15,668.15 176.89,666.93 175.38,663.68 C173.87,660.42 167.57,656.15 167.57,652.69 C167.57,649.23 172.94,646.58 175.38,642.92 C177.82,639.26 180.18,634.78 182.22,630.71 C184.25,626.64 186.98,622.98 187.59,618.5 C188.2,614.02 184.26,607.39 185.88,603.85 C187.5,600.31 194.97,599.08 197.29,597.25 C199.61,595.42 199.38,593.59 199.8,592.86 Z" fill="#0433FF" stroke="#000" stroke-width="2.5" stroke-linejoin="round"/>
<line x1="175.05" y1="676.37" x2="224.55" y2="676.37" stroke="#000" stroke-width="2.4" stroke-dasharray="6 3"/>
<line x1="174.24" y1="645.85" x2="225.36" y2="645.85" stroke="#000" stroke-width="2" stroke-dasharray="1.6 2.2"/>
<line x1="178.14" y1="703.24" x2="221.46" y2="703.24" stroke="#000" stroke-width="2" stroke-dasharray="1.6 2.2"/>
<line x1="302.8" y1="513.98" x2="302.8" y2="793.1" stroke="#000" stroke-width="2.6"/>
<path d="M302.8,525.7 C302.91,526.19 302.85,527.41 303.46,528.63 C304.07,529.85 305.88,530.67 306.46,533.03 C307.05,535.39 307.15,539.13 306.95,542.8 C306.75,546.46 305.61,550.94 305.24,555.01 C304.88,559.08 304.35,563.15 304.75,567.22 C305.16,571.29 307.4,575.76 307.68,579.43 C307.97,583.09 305.04,585.94 306.46,589.19 C307.89,592.45 313.5,595.3 316.23,598.96 C318.96,602.63 321.2,606.7 322.82,611.17 C324.45,615.65 326.08,620.53 326,625.82 C325.92,631.12 322.34,637.63 322.34,642.92 C322.34,648.21 326.2,653.09 326,657.57 C325.8,662.05 321.32,665.3 321.12,669.78 C320.91,674.26 325.19,679.14 324.78,684.43 C324.37,689.72 317.86,697.05 318.67,701.53 C319.49,706 326.69,708.65 329.66,711.29 C332.63,713.94 336.91,714.96 336.5,717.4 C336.09,719.84 330.8,722.49 327.22,725.95 C323.64,729.41 318.47,734.09 315.01,738.16 C311.55,742.23 308.39,747.55 306.46,750.37 C304.54,753.18 304.07,753.75 303.46,755.05 C302.85,756.36 302.91,757.66 302.8,758.18 C302.69,757.66 302.75,756.36 302.14,755.05 C301.53,753.75 301.06,753.18 299.14,750.37 C297.21,747.55 294.05,742.23 290.59,738.16 C287.13,734.09 281.96,729.41 278.38,725.95 C274.8,722.49 269.51,719.84 269.1,717.4 C268.69,714.96 272.97,713.94 275.94,711.29 C278.91,708.65 286.11,706 286.93,701.53 C287.74,697.05 281.23,689.72 280.82,684.43 C280.41,679.14 284.69,674.26 284.48,669.78 C284.28,665.3 279.8,662.05 279.6,657.57 C279.4,653.09 283.26,648.21 283.26,642.92 C283.26,637.63 279.68,631.12 279.6,625.82 C279.52,620.53 281.15,615.65 282.78,611.17 C284.4,606.7 286.64,602.63 289.37,598.96 C292.1,595.3 297.71,592.45 299.14,589.19 C300.56,585.94 297.63,583.09 297.92,579.43 C298.2,575.76 300.44,571.29 300.85,567.22 C301.25,563.15 300.72,559.08 300.36,555.01 C299.99,550.94 298.85,546.46 298.65,542.8 C298.45,539.13 298.55,535.39 299.14,533.03 C299.72,530.67 301.53,529.85 302.14,528.63 C302.75,527.41 302.69,526.19 302.8,525.7 Z" fill="#FF2600" stroke="#000" stroke-width="2.5" stroke-linejoin="round"/>
<line x1="283.44" y1="664.16" x2="322.16" y2="664.16" stroke="#000" stroke-width="2.4" stroke-dasharray="6 3"/>
<line x1="280.91" y1="626.31" x2="324.69" y2="626.31" stroke="#000" stroke-width="2" stroke-dasharray="1.6 2.2"/>
<line x1="279.06" y1="709.58" x2="326.54" y2="709.58" stroke="#000" stroke-width="2" stroke-dasharray="1.6 2.2"/>
<line x1="149.7" y1="490" x2="149.7" y2="821" stroke="#000" stroke-width="2.2"/>
<line x1="148.7" y1="820" x2="351.6" y2="820" stroke="#000" stroke-width="2.2"/>
<line x1="138.2" y1="490.2" x2="149.7" y2="490.2" stroke="#000" stroke-width="2.2"/>
<text x="137.3" y="497.7" font-size="21" text-anchor="end" font-weight="bold">300</text>
<line x1="138.2" y1="537.3" x2="149.7" y2="537.3" stroke="#000" stroke-width="2.2"/>
<text x="137.3" y="544.8" font-size="21" text-anchor="end" font-weight="bold">250</text>
<line x1="138.2" y1="584.4" x2="149.7" y2="584.4" stroke="#000" stroke-width="2.2"/>
<text x="137.3" y="591.9" font-size="21" text-anchor="end" font-weight="bold">200</text>
<line x1="138.2" y1="631.5" x2="149.7" y2="631.5" stroke="#000" stroke-width="2.2"/>
<text x="137.3" y="639" font-size="21" text-anchor="end" font-weight="bold">150</text>
<line x1="138.2" y1="678.6" x2="149.7" y2="678.6" stroke="#000" stroke-width="2.2"/>
<text x="137.3" y="686.1" font-size="21" text-anchor="end" font-weight="bold">100</text>
<line x1="138.2" y1="725.7" x2="149.7" y2="725.7" stroke="#000" stroke-width="2.2"/>
<text x="137.3" y="733.2" font-size="21" text-anchor="end" font-weight="bold">50</text>
<line x1="138.2" y1="772.8" x2="149.7" y2="772.8" stroke="#000" stroke-width="2.2"/>
<text x="137.3" y="780.3" font-size="21" text-anchor="end" font-weight="bold">0</text>
<line x1="138.2" y1="819.9" x2="149.7" y2="819.9" stroke="#000" stroke-width="2.2"/>
<text x="137.3" y="827.4" font-size="21" text-anchor="end" font-weight="bold">-50</text>
<line x1="199.8" y1="820" x2="199.8" y2="831.5" stroke="#000" stroke-width="2.2"/>
<line x1="302.8" y1="820" x2="302.8" y2="831.5" stroke="#000" stroke-width="2.2"/>
<line x1="196.6" y1="509" x2="303.3" y2="509" stroke="#000" stroke-width="2.2"/>
<text x="245.4" y="513.9" font-size="30" textLength="48.5" lengthAdjust="spacingAndGlyphs" text-anchor="middle" font-weight="bold">****</text>
<text x="68" y="633.2" font-size="24" textLength="211.68" lengthAdjust="spacingAndGlyphs" text-anchor="middle" transform="rotate(-90 68 633.2)">Bead distance from</text>
<text x="91.5" y="633.8" font-size="24" textLength="236.68" lengthAdjust="spacingAndGlyphs" text-anchor="middle" transform="rotate(-90 91.5 633.8)">epithelial surface [µm]</text>
<text x="202.1" y="859" font-size="25.5" textLength="59.98" lengthAdjust="spacingAndGlyphs" text-anchor="middle">WSD</text>
<text x="300" y="855.5" font-size="25.5" textLength="59.78" lengthAdjust="spacingAndGlyphs" text-anchor="middle">WSD</text>
<text x="301" y="876.5" font-size="25.5" textLength="85.78" lengthAdjust="spacingAndGlyphs" text-anchor="middle">+ <tspan font-style="italic">B.coc</tspan></text>
<rect x="498.4" y="765.99" width="1055.6" height="9.41" fill="#EF8A80"/>
<line x1="498.4" y1="775.4" x2="1554" y2="775.4" stroke="#000" stroke-width="2" stroke-dasharray="1.6 2.2"/>
<line x1="974.3" y1="492" x2="974.3" y2="822" stroke="#000" stroke-width="1.8" stroke-dasharray="5 3"/>
<line x1="574" y1="579.98" x2="574" y2="794.39" stroke="#000" stroke-width="2.6"/>
<path d="M574,590.63 C574.32,590.9 574.14,591.56 575.92,592.23 C577.69,592.89 580.42,593.34 584.65,594.63 C588.88,595.91 596.86,597.62 601.3,599.95 C605.74,602.28 610.62,605.94 611.29,608.61 C611.95,611.27 607.45,613.38 605.3,615.93 C603.14,618.49 600.26,620.48 598.37,623.92 C596.48,627.36 593.49,631.91 593.98,636.57 C594.46,641.24 600.97,647.34 601.3,651.89 C601.63,656.44 598.35,659.66 595.97,663.88 C593.6,668.09 589.05,672.31 587.05,677.19 C585.05,682.08 584.34,688.29 583.99,693.17 C583.63,698.06 584.76,702.05 584.92,706.49 C585.08,710.93 585.41,715.37 584.92,719.81 C584.43,724.25 582.81,728.69 581.99,733.13 C581.17,737.56 581.1,741.34 579.99,746.44 C578.88,751.55 576.22,759.32 575.33,763.76 C574.44,768.19 574.87,770.46 574.67,773.08 C574.46,775.7 574.23,777.69 574.12,779.47 C574.01,781.25 574.02,783.02 574,783.73 C573.98,783.02 573.99,781.25 573.88,779.47 C573.77,777.69 573.54,775.7 573.33,773.08 C573.13,770.46 573.56,768.19 572.67,763.76 C571.78,759.32 569.12,751.55 568.01,746.44 C566.9,741.34 566.83,737.56 566.01,733.13 C565.19,728.69 563.57,724.25 563.08,719.81 C562.59,715.37 562.92,710.93 563.08,706.49 C563.24,702.05 564.37,698.06 564.01,693.17 C563.66,688.29 562.95,682.08 560.95,677.19 C558.95,672.31 554.4,668.09 552.03,663.88 C549.65,659.66 546.37,656.44 546.7,651.89 C547.03,647.34 553.54,641.24 554.02,636.57 C554.51,631.91 551.52,627.36 549.63,623.92 C547.74,620.48 544.86,618.49 542.7,615.93 C540.55,613.38 536.05,611.27 536.71,608.61 C537.38,605.94 542.26,602.28 546.7,599.95 C551.14,597.62 559.12,595.91 563.35,594.63 C567.58,593.34 570.31,592.89 572.08,592.23 C573.86,591.56 573.68,590.9 574,590.63 Z" fill="#0433FF" stroke="#000" stroke-width="2.5" stroke-linejoin="round"/>
<line x1="549.68" y1="648.16" x2="598.32" y2="648.16" stroke="#000" stroke-width="2.4" stroke-dasharray="6 3"/>
<line x1="545.87" y1="618.2" x2="602.13" y2="618.2" stroke="#000" stroke-width="2" stroke-dasharray="1.6 2.2"/>
<line x1="563.6" y1="684.78" x2="584.4" y2="684.78" stroke="#000" stroke-width="2" stroke-dasharray="1.6 2.2"/>
<line x1="688.4" y1="617.26" x2="688.4" y2="783.73" stroke="#000" stroke-width="2.6"/>
<path d="M688.4,620.59 C688.78,620.9 688.57,621.68 690.68,622.46 C692.79,623.24 698.66,623.46 701.05,625.26 C703.45,627.05 705.71,630.8 705.05,633.25 C704.38,635.69 698.45,638.02 697.06,639.9 C695.66,641.79 691.88,643.23 696.66,644.57 C701.43,645.9 721.18,646.67 725.69,647.89 C730.19,649.12 724.69,650.56 723.69,651.89 C722.69,653.22 721.36,654.33 719.7,655.88 C718.03,657.44 716.03,659.44 713.7,661.21 C711.37,662.99 708.04,664.76 705.71,666.54 C703.38,668.31 701.05,669.65 699.72,671.87 C698.39,674.09 698.39,677.64 697.72,679.86 C697.06,682.08 696.83,683.41 695.72,685.18 C694.61,686.96 692.08,688.07 691.06,690.51 C690.04,692.95 689.86,690.51 689.6,699.83 C689.33,709.15 689.49,735.12 689.47,746.44 C689.44,757.76 688.98,763.53 689.47,767.75 C689.95,771.97 691.42,770.53 692.4,771.75 C693.37,772.97 695.44,773.97 695.33,775.08 C695.21,776.19 692.78,777.58 691.73,778.4 C690.68,779.23 689.55,779.56 689,780 C688.44,780.45 688.5,780.89 688.4,781.07 C688.3,780.89 688.36,780.45 687.8,780 C687.25,779.56 686.12,779.23 685.07,778.4 C684.02,777.58 681.59,776.19 681.47,775.08 C681.36,773.97 683.43,772.97 684.4,771.75 C685.38,770.53 686.85,771.97 687.33,767.75 C687.82,763.53 687.36,757.76 687.33,746.44 C687.31,735.12 687.47,709.15 687.2,699.83 C686.94,690.51 686.76,692.95 685.74,690.51 C684.72,688.07 682.19,686.96 681.08,685.18 C679.97,683.41 679.74,682.08 679.08,679.86 C678.41,677.64 678.41,674.09 677.08,671.87 C675.75,669.65 673.42,668.31 671.09,666.54 C668.76,664.76 665.43,662.99 663.1,661.21 C660.77,659.44 658.77,657.44 657.1,655.88 C655.44,654.33 654.11,653.22 653.11,651.89 C652.11,650.56 646.61,649.12 651.11,647.89 C655.62,646.67 675.37,645.9 680.14,644.57 C684.92,643.23 681.14,641.79 679.74,639.9 C678.35,638.02 672.42,635.69 671.75,633.25 C671.09,630.8 673.35,627.05 675.75,625.26 C678.14,623.46 684.01,623.24 686.12,622.46 C688.23,621.68 688.02,620.9 688.4,620.59 Z" fill="#0433FF" stroke="#000" stroke-width="2.5" stroke-linejoin="round"/>
<line x1="656.31" y1="653.89" x2="720.49" y2="653.89" stroke="#000" stroke-width="2.4" stroke-dasharray="6 3"/>
<line x1="652.31" y1="647.89" x2="724.49" y2="647.89" stroke="#000" stroke-width="2" stroke-dasharray="1.6 2.2"/>
<line x1="670.29" y1="665.21" x2="706.51" y2="665.21" stroke="#000" stroke-width="2" stroke-dasharray="1.6 2.2"/>
<line x1="802.8" y1="667.2" x2="802.8" y2="798.38" stroke="#000" stroke-width="2.6"/>
<path d="M802.8,672.53 C803.56,672.84 803.14,673.62 807.35,674.4 C811.57,675.17 824.87,675.51 828.1,677.19 C831.34,678.88 824.77,682.19 826.77,684.52 C828.77,686.85 840.09,688.85 840.09,691.18 C840.09,693.51 829.21,695.95 826.77,698.5 C824.33,701.05 825.88,704.27 825.44,706.49 C825,708.71 823.22,709.93 824.11,711.82 C825,713.7 831.43,715.59 830.77,717.81 C830.1,720.03 823.22,722.58 820.11,725.14 C817.01,727.69 814.56,730.46 812.12,733.13 C809.68,735.79 806.91,738.01 805.46,741.12 C804.02,744.22 803.89,749.2 803.47,751.77 C803.04,754.34 803.03,755.23 802.92,756.56 C802.81,757.9 802.82,759.23 802.8,759.76 C802.78,759.23 802.79,757.9 802.68,756.56 C802.57,755.23 802.56,754.34 802.13,751.77 C801.71,749.2 801.58,744.22 800.14,741.12 C798.69,738.01 795.92,735.79 793.48,733.13 C791.04,730.46 788.59,727.69 785.49,725.14 C782.38,722.58 775.5,720.03 774.83,717.81 C774.17,715.59 780.6,713.7 781.49,711.82 C782.38,709.93 780.6,708.71 780.16,706.49 C779.72,704.27 781.27,701.05 778.83,698.5 C776.39,695.95 765.51,693.51 765.51,691.18 C765.51,688.85 776.83,686.85 778.83,684.52 C780.83,682.19 774.26,678.88 777.5,677.19 C780.73,675.51 794.03,675.17 798.25,674.4 C802.46,673.62 802.04,672.84 802.8,672.53 Z" fill="#0433FF" stroke="#000" stroke-width="2.5" stroke-linejoin="round"/>
<line x1="780.41" y1="700.76" x2="825.19" y2="700.76" stroke="#000" stroke-width="2.4" stroke-dasharray="6 3"/>
<line x1="770.71" y1="689.18" x2="834.89" y2="689.18" stroke="#000" stroke-width="2" stroke-dasharray="1.6 2.2"/>
<line x1="776.77" y1="717.14" x2="828.83" y2="717.14" stroke="#000" stroke-width="2" stroke-dasharray="1.6 2.2"/>
<line x1="917.2" y1="605.94" x2="917.2" y2="791.72" stroke="#000" stroke-width="2.6"/>
<path d="M917.2,613.27 C917.64,613.71 917.4,614.82 919.84,615.93 C922.28,617.04 928.74,617.71 931.85,619.93 C934.96,622.15 936.73,626.81 938.51,629.25 C940.28,631.69 940.51,632.36 942.5,634.58 C944.5,636.8 948.5,639.02 950.49,642.57 C952.49,646.12 955.27,651.89 954.49,655.88 C953.71,659.88 947.61,662.99 945.83,666.54 C944.06,670.09 942.95,673.2 943.83,677.19 C944.72,681.19 950.83,686.51 951.16,690.51 C951.49,694.51 948.38,697.83 945.83,701.16 C943.28,704.49 938.51,706.71 935.84,710.49 C933.18,714.26 931.07,719.14 929.85,723.8 C928.63,728.46 929.41,733.57 928.52,738.45 C927.63,743.34 925.3,748.66 924.52,753.1 C923.75,757.54 922.64,761.42 923.86,765.09 C925.08,768.75 932.07,772.19 931.85,775.08 C931.63,777.96 924.81,780.78 922.53,782.4 C920.25,784.02 919.05,784.13 918.16,784.8 C917.27,785.46 917.36,786.13 917.2,786.39 C917.04,786.13 917.13,785.46 916.24,784.8 C915.35,784.13 914.15,784.02 911.87,782.4 C909.59,780.78 902.77,777.96 902.55,775.08 C902.33,772.19 909.32,768.75 910.54,765.09 C911.76,761.42 910.65,757.54 909.88,753.1 C909.1,748.66 906.77,743.34 905.88,738.45 C904.99,733.57 905.77,728.46 904.55,723.8 C903.33,719.14 901.22,714.26 898.56,710.49 C895.89,706.71 891.12,704.49 888.57,701.16 C886.02,697.83 882.91,694.51 883.24,690.51 C883.57,686.51 889.68,681.19 890.57,677.19 C891.45,673.2 890.34,670.09 888.57,666.54 C886.79,662.99 880.69,659.88 879.91,655.88 C879.13,651.89 881.91,646.12 883.91,642.57 C885.9,639.02 889.9,636.8 891.9,634.58 C893.89,632.36 894.12,631.69 895.89,629.25 C897.67,626.81 899.44,622.15 902.55,619.93 C905.66,617.71 912.12,617.04 914.56,615.93 C917,614.82 916.76,613.71 917.2,613.27 Z" fill="#0433FF" stroke="#000" stroke-width="2.5" stroke-linejoin="round"/>
<line x1="890.81" y1="678.92" x2="943.59" y2="678.92" stroke="#000" stroke-width="2.4" stroke-dasharray="6 3"/>
<line x1="882.11" y1="652.56" x2="952.29" y2="652.56" stroke="#000" stroke-width="2" stroke-dasharray="1.6 2.2"/>
<line x1="894.76" y1="705.83" x2="939.64" y2="705.83" stroke="#000" stroke-width="2" stroke-dasharray="1.6 2.2"/>
<line x1="1031.6" y1="671.46" x2="1031.6" y2="778.96" stroke="#000" stroke-width="2.6"/>
<path d="M1031.6,676.62 C1032.04,676.91 1031.79,677.62 1034.23,678.34 C1036.67,679.06 1043.79,679.34 1046.22,680.92 C1048.65,682.5 1048.51,685.22 1048.8,687.8 C1049.09,690.38 1049.52,693.82 1047.94,696.4 C1046.36,698.98 1040.34,701.27 1039.34,703.28 C1038.34,705.28 1038.34,706.72 1041.92,708.44 C1045.5,710.16 1056.4,712.02 1060.84,713.6 C1065.28,715.17 1068.58,716.18 1068.58,717.9 C1068.58,719.62 1064.42,721.19 1060.84,723.92 C1057.26,726.64 1051.24,731.08 1047.08,734.24 C1042.92,737.39 1038.25,739.97 1035.9,742.84 C1033.55,745.7 1033.65,749.32 1032.98,751.44 C1032.3,753.56 1032.08,754.42 1031.85,755.57 C1031.62,756.71 1031.64,757.86 1031.6,758.32 C1031.56,757.86 1031.58,756.71 1031.35,755.57 C1031.12,754.42 1030.9,753.56 1030.22,751.44 C1029.55,749.32 1029.65,745.7 1027.3,742.84 C1024.95,739.97 1020.28,737.39 1016.12,734.24 C1011.96,731.08 1005.94,726.64 1002.36,723.92 C998.78,721.19 994.62,719.62 994.62,717.9 C994.62,716.18 997.92,715.17 1002.36,713.6 C1006.8,712.02 1017.7,710.16 1021.28,708.44 C1024.86,706.72 1024.86,705.28 1023.86,703.28 C1022.86,701.27 1016.84,698.98 1015.26,696.4 C1013.68,693.82 1014.11,690.38 1014.4,687.8 C1014.69,685.22 1014.55,682.5 1016.98,680.92 C1019.41,679.34 1026.53,679.06 1028.97,678.34 C1031.41,677.62 1031.16,676.91 1031.6,676.62 Z" fill="#FF2600" stroke="#000" stroke-width="2.5" stroke-linejoin="round"/>
<line x1="996.75" y1="717.38" x2="1066.45" y2="717.38" stroke="#000" stroke-width="2.4" stroke-dasharray="6 3"/>
<line x1="1018.18" y1="697.77" x2="1045.02" y2="697.77" stroke="#000" stroke-width="2" stroke-dasharray="1.6 2.2"/>
<line x1="1007.69" y1="727.01" x2="1055.51" y2="727.01" stroke="#000" stroke-width="2" stroke-dasharray="1.6 2.2"/>
<line x1="1146" y1="499.46" x2="1146" y2="812.15" stroke="#000" stroke-width="2.6"/>
<path d="M1146,514.08 C1146.62,514.77 1146.28,516.49 1149.72,518.21 C1153.16,519.93 1162.1,521.93 1166.64,524.4 C1171.18,526.87 1174.24,529.85 1176.96,533 C1179.68,536.15 1183.27,539.59 1182.98,543.32 C1182.69,547.05 1178.25,551.35 1175.24,555.36 C1172.23,559.37 1168.5,562.53 1164.92,567.4 C1161.34,572.27 1156.18,578.29 1153.74,584.6 C1151.3,590.91 1149.73,599.79 1150.3,605.24 C1150.87,610.69 1154.46,613.55 1157.18,617.28 C1159.9,621.01 1164.49,624.16 1166.64,627.6 C1168.79,631.04 1170.37,634.19 1170.08,637.92 C1169.79,641.65 1167.07,644.51 1164.92,649.96 C1162.77,655.41 1159.76,662.86 1157.18,670.6 C1154.6,678.34 1150.44,689.23 1149.44,696.4 C1148.44,703.56 1150.82,707.86 1151.16,713.6 C1151.5,719.33 1152.08,723.63 1151.5,730.8 C1150.93,737.96 1148.55,749.43 1147.72,756.6 C1146.89,763.76 1146.79,770.07 1146.52,773.8 C1146.24,777.52 1146.18,777.52 1146.09,778.96 C1146.01,780.39 1146.02,781.82 1146,782.4 C1145.98,781.82 1145.99,780.39 1145.91,778.96 C1145.82,777.52 1145.76,777.52 1145.48,773.8 C1145.21,770.07 1145.11,763.76 1144.28,756.6 C1143.45,749.43 1141.07,737.96 1140.5,730.8 C1139.92,723.63 1140.5,719.33 1140.84,713.6 C1141.18,707.86 1143.56,703.56 1142.56,696.4 C1141.56,689.23 1137.4,678.34 1134.82,670.6 C1132.24,662.86 1129.23,655.41 1127.08,649.96 C1124.93,644.51 1122.21,641.65 1121.92,637.92 C1121.63,634.19 1123.21,631.04 1125.36,627.6 C1127.51,624.16 1132.1,621.01 1134.82,617.28 C1137.54,613.55 1141.13,610.69 1141.7,605.24 C1142.27,599.79 1140.7,590.91 1138.26,584.6 C1135.82,578.29 1130.66,572.27 1127.08,567.4 C1123.5,562.53 1119.77,559.37 1116.76,555.36 C1113.75,551.35 1109.31,547.05 1109.02,543.32 C1108.73,539.59 1112.32,536.15 1115.04,533 C1117.76,529.85 1120.82,526.87 1125.36,524.4 C1129.9,521.93 1138.84,519.93 1142.28,518.21 C1145.72,516.49 1145.38,514.77 1146,514.08 Z" fill="#FF2600" stroke="#000" stroke-width="2.5" stroke-linejoin="round"/>
<line x1="1139.52" y1="584.94" x2="1152.48" y2="584.94" stroke="#000" stroke-width="2.4" stroke-dasharray="6 3"/>
<line x1="1112.76" y1="547.28" x2="1179.24" y2="547.28" stroke="#000" stroke-width="2" stroke-dasharray="1.6 2.2"/>
<line x1="1126.66" y1="646.17" x2="1165.34" y2="646.17" stroke="#000" stroke-width="2" stroke-dasharray="1.6 2.2"/>
<line x1="1260.4" y1="596.73" x2="1260.4" y2="773.45" stroke="#000" stroke-width="2.6"/>
<path d="M1260.4,604.38 C1260.96,604.83 1260.65,605.96 1263.76,607.09 C1266.88,608.23 1275.69,609.5 1279.09,611.17 C1282.5,612.84 1284.33,614.85 1284.19,617.12 C1284.05,619.39 1279.66,622.64 1278.24,624.77 C1276.83,626.89 1274.84,627.32 1275.69,629.86 C1276.54,632.41 1281.36,636.66 1283.34,640.06 C1285.32,643.46 1285.18,646.86 1287.59,650.25 C1290,653.65 1297.22,657.34 1297.78,660.45 C1298.35,663.57 1294.24,665.55 1290.99,668.95 C1287.73,672.34 1281.78,676.59 1278.24,680.84 C1274.7,685.09 1271.73,691.04 1269.75,694.44 C1267.76,697.83 1265.21,698.97 1266.35,701.23 C1267.48,703.5 1273.29,705.48 1276.54,708.03 C1279.8,710.58 1285.46,713.13 1285.89,716.53 C1286.31,719.92 1281.78,724.45 1279.09,728.42 C1276.4,732.38 1272.15,736.92 1269.75,740.31 C1267.34,743.71 1266.06,745.7 1264.65,748.81 C1263.23,751.93 1261.93,756.8 1261.25,759.01 C1260.57,761.21 1260.69,761.21 1260.55,762.06 C1260.41,762.91 1260.43,763.76 1260.4,764.1 C1260.37,763.76 1260.39,762.91 1260.25,762.06 C1260.11,761.21 1260.23,761.21 1259.55,759.01 C1258.87,756.8 1257.57,751.93 1256.15,748.81 C1254.74,745.7 1253.46,743.71 1251.05,740.31 C1248.65,736.92 1244.4,732.38 1241.71,728.42 C1239.02,724.45 1234.49,719.92 1234.91,716.53 C1235.34,713.13 1241,710.58 1244.26,708.03 C1247.51,705.48 1253.32,703.5 1254.45,701.23 C1255.59,698.97 1253.04,697.83 1251.05,694.44 C1249.07,691.04 1246.1,685.09 1242.56,680.84 C1239.02,676.59 1233.07,672.34 1229.81,668.95 C1226.56,665.55 1222.45,663.57 1223.02,660.45 C1223.58,657.34 1230.8,653.65 1233.21,650.25 C1235.62,646.86 1235.48,643.46 1237.46,640.06 C1239.44,636.66 1244.26,632.41 1245.11,629.86 C1245.96,627.32 1243.97,626.89 1242.56,624.77 C1241.14,622.64 1236.75,619.39 1236.61,617.12 C1236.47,614.85 1238.3,612.84 1241.71,611.17 C1245.11,609.5 1253.92,608.23 1257.04,607.09 C1260.15,605.96 1259.84,604.83 1260.4,604.38 Z" fill="#FF2600" stroke="#000" stroke-width="2.5" stroke-linejoin="round"/>
<line x1="1228.02" y1="665.21" x2="1292.78" y2="665.21" stroke="#000" stroke-width="2.4" stroke-dasharray="6 3"/>
<line x1="1237.6" y1="642.61" x2="1283.2" y2="642.61" stroke="#000" stroke-width="2" stroke-dasharray="1.6 2.2"/>
<line x1="1242.65" y1="710.58" x2="1278.15" y2="710.58" stroke="#000" stroke-width="2" stroke-dasharray="1.6 2.2"/>
<line x1="1374.8" y1="587.04" x2="1374.8" y2="792.14" stroke="#000" stroke-width="2.6"/>
<path d="M1374.8,595.03 C1375.46,595.43 1375.09,596.42 1378.78,597.41 C1382.46,598.4 1392.03,599.25 1396.89,600.98 C1401.75,602.7 1405.95,605.51 1407.94,607.77 C1409.92,610.04 1409.78,611.74 1408.78,614.57 C1407.79,617.4 1403.69,620.8 1401.99,624.77 C1400.29,628.73 1400.29,634.4 1398.59,638.36 C1396.89,642.33 1391.23,645.44 1391.79,648.56 C1392.36,651.67 1398.73,654.22 1401.99,657.05 C1405.24,659.88 1411.19,662.43 1411.33,665.55 C1411.48,668.66 1405.53,672.34 1402.84,675.74 C1400.15,679.14 1398.02,681.41 1395.19,685.94 C1392.36,690.47 1387.83,697.27 1385.85,702.93 C1383.86,708.6 1384.29,714.26 1383.3,719.92 C1382.3,725.59 1381.09,731.25 1379.9,736.92 C1378.71,742.58 1376.97,750.06 1376.16,753.91 C1375.35,757.76 1375.27,758.33 1375.04,760.03 C1374.82,761.72 1374.84,763.42 1374.8,764.1 C1374.76,763.42 1374.78,761.72 1374.56,760.03 C1374.33,758.33 1374.25,757.76 1373.44,753.91 C1372.63,750.06 1370.89,742.58 1369.7,736.92 C1368.51,731.25 1367.3,725.59 1366.3,719.92 C1365.31,714.26 1365.74,708.6 1363.75,702.93 C1361.77,697.27 1357.24,690.47 1354.41,685.94 C1351.58,681.41 1349.45,679.14 1346.76,675.74 C1344.07,672.34 1338.12,668.66 1338.27,665.55 C1338.41,662.43 1344.36,659.88 1347.61,657.05 C1350.87,654.22 1357.24,651.67 1357.81,648.56 C1358.37,645.44 1352.71,642.33 1351.01,638.36 C1349.31,634.4 1349.31,628.73 1347.61,624.77 C1345.91,620.8 1341.81,617.4 1340.82,614.57 C1339.82,611.74 1339.68,610.04 1341.66,607.77 C1343.65,605.51 1347.85,602.7 1352.71,600.98 C1357.57,599.25 1367.14,598.4 1370.82,597.41 C1374.51,596.42 1374.14,595.43 1374.8,595.03 Z" fill="#FF2600" stroke="#000" stroke-width="2.5" stroke-linejoin="round"/>
<line x1="1348.44" y1="657.39" x2="1401.16" y2="657.39" stroke="#000" stroke-width="2.4" stroke-dasharray="6 3"/>
<line x1="1348.9" y1="625.11" x2="1400.7" y2="625.11" stroke="#000" stroke-width="2" stroke-dasharray="1.6 2.2"/>
<line x1="1351.15" y1="679.99" x2="1398.45" y2="679.99" stroke="#000" stroke-width="2" stroke-dasharray="1.6 2.2"/>
<line x1="1489.2" y1="565.29" x2="1489.2" y2="760.71" stroke="#000" stroke-width="2.6"/>
<path d="M1489.2,571.24 C1489.61,571.64 1489.38,572.63 1491.65,573.62 C1493.91,574.61 1500.51,575.74 1502.79,577.19 C1505.08,578.63 1505.91,580.02 1505.34,582.29 C1504.78,584.55 1498.12,588.23 1499.4,590.78 C1500.67,593.33 1509.31,595.6 1512.99,597.58 C1516.67,599.56 1521.77,600.13 1521.49,602.68 C1521.2,605.23 1513.13,610.04 1511.29,612.87 C1509.45,615.7 1507.89,617.12 1510.44,619.67 C1512.99,622.22 1525.31,625.05 1526.58,628.16 C1527.86,631.28 1521.49,634.96 1518.09,638.36 C1514.69,641.76 1508.46,645.16 1506.19,648.56 C1503.93,651.95 1506.05,655.35 1504.49,658.75 C1502.94,662.15 1498.69,664.42 1496.85,668.95 C1495.01,673.48 1494.44,680.27 1493.45,685.94 C1492.46,691.6 1491.38,695.85 1490.9,702.93 C1490.42,710.01 1490.8,722.98 1490.56,728.42 C1490.32,733.86 1489.67,733.57 1489.44,735.56 C1489.22,737.54 1489.24,739.52 1489.2,740.31 C1489.16,739.52 1489.18,737.54 1488.96,735.56 C1488.73,733.57 1488.08,733.86 1487.84,728.42 C1487.6,722.98 1487.98,710.01 1487.5,702.93 C1487.02,695.85 1485.94,691.6 1484.95,685.94 C1483.96,680.27 1483.39,673.48 1481.55,668.95 C1479.71,664.42 1475.46,662.15 1473.91,658.75 C1472.35,655.35 1474.47,651.95 1472.21,648.56 C1469.94,645.16 1463.71,641.76 1460.31,638.36 C1456.91,634.96 1450.54,631.28 1451.82,628.16 C1453.09,625.05 1465.41,622.22 1467.96,619.67 C1470.51,617.12 1468.95,615.7 1467.11,612.87 C1465.27,610.04 1457.2,605.23 1456.91,602.68 C1456.63,600.13 1461.73,599.56 1465.41,597.58 C1469.09,595.6 1477.73,593.33 1479,590.78 C1480.28,588.23 1473.62,584.55 1473.06,582.29 C1472.49,580.02 1473.32,578.63 1475.61,577.19 C1477.89,575.74 1484.49,574.61 1486.75,573.62 C1489.02,572.63 1488.79,571.64 1489.2,571.24 Z" fill="#FF2600" stroke="#000" stroke-width="2.5" stroke-linejoin="round"/>
<line x1="1456.25" y1="626.47" x2="1522.15" y2="626.47" stroke="#000" stroke-width="2.4" stroke-dasharray="6 3"/>
<line x1="1461.17" y1="605.73" x2="1517.23" y2="605.73" stroke="#000" stroke-width="2" stroke-dasharray="1.6 2.2"/>
<line x1="1466.47" y1="642.61" x2="1511.93" y2="642.61" stroke="#000" stroke-width="2" stroke-dasharray="1.6 2.2"/>
<line x1="498.4" y1="491.4" x2="498.4" y2="823.8" stroke="#000" stroke-width="2.2"/>
<line x1="497.4" y1="822.8" x2="1551.8" y2="822.8" stroke="#000" stroke-width="2.2"/>
<line x1="486.9" y1="493.04" x2="498.4" y2="493.04" stroke="#000" stroke-width="2.2"/>
<text x="492.3" y="500.54" font-size="21" text-anchor="end" font-weight="bold">300</text>
<line x1="486.9" y1="540.1" x2="498.4" y2="540.1" stroke="#000" stroke-width="2.2"/>
<text x="492.3" y="547.6" font-size="21" text-anchor="end" font-weight="bold">250</text>
<line x1="486.9" y1="587.16" x2="498.4" y2="587.16" stroke="#000" stroke-width="2.2"/>
<text x="492.3" y="594.66" font-size="21" text-anchor="end" font-weight="bold">200</text>
<line x1="486.9" y1="634.22" x2="498.4" y2="634.22" stroke="#000" stroke-width="2.2"/>
<text x="492.3" y="641.72" font-size="21" text-anchor="end" font-weight="bold">150</text>
<line x1="486.9" y1="681.28" x2="498.4" y2="681.28" stroke="#000" stroke-width="2.2"/>
<text x="492.3" y="688.78" font-size="21" text-anchor="end" font-weight="bold">100</text>
<line x1="486.9" y1="728.34" x2="498.4" y2="728.34" stroke="#000" stroke-width="2.2"/>
<text x="492.3" y="735.84" font-size="21" text-anchor="end" font-weight="bold">50</text>
<line x1="486.9" y1="775.4" x2="498.4" y2="775.4" stroke="#000" stroke-width="2.2"/>
<text x="492.3" y="782.9" font-size="21" text-anchor="end" font-weight="bold">0</text>
<line x1="486.9" y1="822.46" x2="498.4" y2="822.46" stroke="#000" stroke-width="2.2"/>
<text x="492.3" y="829.96" font-size="21" text-anchor="end" font-weight="bold">-50</text>
<text x="424" y="631.6" font-size="24" textLength="211.48" lengthAdjust="spacingAndGlyphs" text-anchor="middle" transform="rotate(-90 424 631.6)">Bead distance from</text>
<text x="447.5" y="631.25" font-size="24" textLength="235.38" lengthAdjust="spacingAndGlyphs" text-anchor="middle" transform="rotate(-90 447.5 631.25)">epithelial surface [µm]</text>
<text x="730.5" y="851.3" font-size="25.5" textLength="60.28" lengthAdjust="spacingAndGlyphs" text-anchor="middle">WSD</text>
<text x="1261" y="854.1" font-size="25.5" textLength="152.69" lengthAdjust="spacingAndGlyphs" text-anchor="middle">WSD + <tspan font-style="italic">B.coc</tspan></text>
<rect x="155.3" y="1625.21" width="218.1" height="5.39" fill="#EF8A80"/>
<line x1="155.3" y1="1630.6" x2="373.4" y2="1630.6" stroke="#000" stroke-width="2" stroke-dasharray="1.6 2.2"/>
<line x1="212.2" y1="1430.66" x2="212.2" y2="1715" stroke="#000" stroke-width="2.6"/>
<path d="M212.2,1445.87 C212.27,1446.69 212.23,1448.73 212.64,1450.78 C213.05,1452.82 213.91,1454.86 214.65,1458.14 C215.4,1461.41 215.47,1466.72 217.11,1470.4 C218.74,1474.08 222.22,1477.35 224.47,1480.22 C226.72,1483.08 230.19,1484.71 230.6,1487.58 C231.01,1490.44 227.12,1494.12 226.92,1497.39 C226.72,1500.66 227.33,1503.93 229.37,1507.2 C231.42,1510.47 236.94,1514.15 239.19,1517.02 C241.44,1519.88 243.69,1521.11 242.87,1524.38 C242.05,1527.65 234.08,1532.96 234.28,1536.64 C234.48,1540.32 241.44,1544 244.09,1546.46 C246.75,1548.91 249.41,1548.5 250.23,1551.36 C251.05,1554.23 250.84,1559.54 249,1563.63 C247.16,1567.72 242.05,1572.22 239.19,1575.9 C236.32,1579.58 233.46,1582.85 231.83,1585.71 C230.19,1588.57 229.86,1589.8 229.37,1593.07 C228.88,1596.34 228.88,1600.84 228.88,1605.34 C228.88,1609.84 228.27,1615.97 229.37,1620.06 C230.48,1624.15 235.3,1627.01 235.51,1629.87 C235.71,1632.73 233.46,1634.78 230.6,1637.23 C227.74,1639.69 221.22,1642.63 218.33,1644.59 C215.45,1646.56 214.33,1647.78 213.3,1649.01 C212.28,1650.24 212.38,1651.46 212.2,1651.95 C212.02,1651.46 212.12,1650.24 211.1,1649.01 C210.07,1647.78 208.95,1646.56 206.07,1644.59 C203.18,1642.63 196.66,1639.69 193.8,1637.23 C190.94,1634.78 188.69,1632.73 188.89,1629.87 C189.1,1627.01 193.92,1624.15 195.03,1620.06 C196.13,1615.97 195.52,1609.84 195.52,1605.34 C195.52,1600.84 195.52,1596.34 195.03,1593.07 C194.54,1589.8 194.21,1588.57 192.57,1585.71 C190.94,1582.85 188.08,1579.58 185.21,1575.9 C182.35,1572.22 177.24,1567.72 175.4,1563.63 C173.56,1559.54 173.35,1554.23 174.17,1551.36 C174.99,1548.5 177.65,1548.91 180.31,1546.46 C182.96,1544 189.92,1540.32 190.12,1536.64 C190.32,1532.96 182.35,1527.65 181.53,1524.38 C180.71,1521.11 182.96,1519.88 185.21,1517.02 C187.46,1514.15 192.98,1510.47 195.03,1507.2 C197.07,1503.93 197.68,1500.66 197.48,1497.39 C197.28,1494.12 193.39,1490.44 193.8,1487.58 C194.21,1484.71 197.68,1483.08 199.93,1480.22 C202.18,1477.35 205.66,1474.08 207.29,1470.4 C208.93,1466.72 209,1461.41 209.75,1458.14 C210.49,1454.86 211.35,1452.82 211.76,1450.78 C212.17,1448.73 212.13,1446.69 212.2,1445.87 Z" fill="#0433FF" stroke="#000" stroke-width="2.5" stroke-linejoin="round"/>
<line x1="175.99" y1="1557.5" x2="248.41" y2="1557.5" stroke="#000" stroke-width="2.4" stroke-dasharray="6 3"/>
<line x1="182.73" y1="1524.38" x2="241.67" y2="1524.38" stroke="#000" stroke-width="2" stroke-dasharray="1.6 2.2"/>
<line x1="195.41" y1="1590.62" x2="228.99" y2="1590.62" stroke="#000" stroke-width="2" stroke-dasharray="1.6 2.2"/>
<line x1="318.2" y1="1417.65" x2="318.2" y2="1719.42" stroke="#000" stroke-width="2.6"/>
<path d="M318.2,1427.47 C318.46,1428.2 318.31,1430.04 319.75,1431.88 C321.18,1433.72 326.02,1435.77 326.79,1438.51 C327.55,1441.25 322.9,1444.23 324.33,1448.32 C325.76,1452.41 333.94,1458.54 335.37,1463.04 C336.8,1467.54 332.72,1470.81 332.92,1475.31 C333.12,1479.81 335.17,1485.53 336.6,1490.03 C338.03,1494.53 339.26,1497.8 341.51,1502.3 C343.76,1506.79 347.64,1512.52 350.09,1517.02 C352.55,1521.51 356.64,1524.79 356.23,1529.28 C355.82,1533.78 350.3,1538.69 347.64,1544 C344.98,1549.32 342.73,1555.04 340.28,1561.18 C337.83,1567.31 334.15,1575.49 332.92,1580.8 C331.69,1586.12 334.15,1586.94 332.92,1593.07 C331.69,1599.21 327.6,1609.43 325.56,1617.61 C323.52,1625.78 321.76,1633.96 320.65,1642.14 C319.55,1650.32 319.32,1661.36 318.94,1666.67 C318.55,1671.99 318.46,1671.99 318.33,1674.03 C318.21,1676.08 318.22,1678.12 318.2,1678.94 C318.18,1678.12 318.19,1676.08 318.07,1674.03 C317.94,1671.99 317.85,1671.99 317.46,1666.67 C317.08,1661.36 316.85,1650.32 315.75,1642.14 C314.64,1633.96 312.88,1625.78 310.84,1617.61 C308.8,1609.43 304.71,1599.21 303.48,1593.07 C302.25,1586.94 304.71,1586.12 303.48,1580.8 C302.25,1575.49 298.57,1567.31 296.12,1561.18 C293.67,1555.04 291.42,1549.32 288.76,1544 C286.1,1538.69 280.58,1533.78 280.17,1529.28 C279.76,1524.79 283.85,1521.51 286.31,1517.02 C288.76,1512.52 292.64,1506.79 294.89,1502.3 C297.14,1497.8 298.37,1494.53 299.8,1490.03 C301.23,1485.53 303.28,1479.81 303.48,1475.31 C303.68,1470.81 299.6,1467.54 301.03,1463.04 C302.46,1458.54 310.64,1452.41 312.07,1448.32 C313.5,1444.23 308.85,1441.25 309.61,1438.51 C310.38,1435.77 315.22,1433.72 316.65,1431.88 C318.09,1430.04 317.94,1428.2 318.2,1427.47 Z" fill="#FF2600" stroke="#000" stroke-width="2.5" stroke-linejoin="round"/>
<line x1="281.66" y1="1529.77" x2="354.74" y2="1529.77" stroke="#000" stroke-width="2.4" stroke-dasharray="6 3"/>
<line x1="297.07" y1="1499.84" x2="339.33" y2="1499.84" stroke="#000" stroke-width="2" stroke-dasharray="1.6 2.2"/>
<line x1="297.78" y1="1562.4" x2="338.62" y2="1562.4" stroke="#000" stroke-width="2" stroke-dasharray="1.6 2.2"/>
<line x1="155.3" y1="1415" x2="155.3" y2="1740" stroke="#000" stroke-width="2.2"/>
<line x1="154.3" y1="1739" x2="372.9" y2="1739" stroke="#000" stroke-width="2.2"/>
<line x1="147.3" y1="1415" x2="155.3" y2="1415" stroke="#000" stroke-width="2.2"/>
<text x="144.3" y="1422.5" font-size="21" text-anchor="end" font-weight="bold">400</text>
<line x1="147.3" y1="1468.9" x2="155.3" y2="1468.9" stroke="#000" stroke-width="2.2"/>
<text x="144.3" y="1476.4" font-size="21" text-anchor="end" font-weight="bold">300</text>
<line x1="147.3" y1="1522.8" x2="155.3" y2="1522.8" stroke="#000" stroke-width="2.2"/>
<text x="144.3" y="1530.3" font-size="21" text-anchor="end" font-weight="bold">200</text>
<line x1="147.3" y1="1576.7" x2="155.3" y2="1576.7" stroke="#000" stroke-width="2.2"/>
<text x="144.3" y="1584.2" font-size="21" text-anchor="end" font-weight="bold">100</text>
<line x1="147.3" y1="1630.6" x2="155.3" y2="1630.6" stroke="#000" stroke-width="2.2"/>
<text x="144.3" y="1638.1" font-size="21" text-anchor="end" font-weight="bold">0</text>
<line x1="147.3" y1="1684.5" x2="155.3" y2="1684.5" stroke="#000" stroke-width="2.2"/>
<text x="144.3" y="1692" font-size="21" text-anchor="end" font-weight="bold">-100</text>
<line x1="147.3" y1="1738.4" x2="155.3" y2="1738.4" stroke="#000" stroke-width="2.2"/>
<text x="144.3" y="1745.9" font-size="21" text-anchor="end" font-weight="bold">-200</text>
<line x1="212.2" y1="1739" x2="212.2" y2="1752.5" stroke="#000" stroke-width="2.2"/>
<line x1="318.2" y1="1739" x2="318.2" y2="1752.5" stroke="#000" stroke-width="2.2"/>
<line x1="209" y1="1413.5" x2="315.8" y2="1413.5" stroke="#000" stroke-width="2.2"/>
<text x="258.8" y="1421.6" font-size="30" textLength="48.7" lengthAdjust="spacingAndGlyphs" text-anchor="middle" font-weight="bold">****</text>
<text x="74.5" y="1572.3" font-size="24" textLength="210.18" lengthAdjust="spacingAndGlyphs" text-anchor="middle" transform="rotate(-90 74.5 1572.3)">Bead distance from</text>
<text x="98" y="1572.3" font-size="24" textLength="236.68" lengthAdjust="spacingAndGlyphs" text-anchor="middle" transform="rotate(-90 98 1572.3)">epithelial surface [µm]</text>
<text x="212.25" y="1776.3" font-size="19.7" textLength="50.48" lengthAdjust="spacingAndGlyphs" text-anchor="middle" font-style="italic">B.coc</text>
<text x="211.85" y="1797.2" font-size="19.7" textLength="100.28" lengthAdjust="spacingAndGlyphs" text-anchor="middle">[heat-killed]</text>
<text x="318.2" y="1776.3" font-size="19.7" textLength="50.38" lengthAdjust="spacingAndGlyphs" text-anchor="middle" font-style="italic">B.coc</text>
<rect x="506.5" y="1625.01" width="1090" height="5.49" fill="#EF8A80"/>
<line x1="506.5" y1="1630.5" x2="1596.5" y2="1630.5" stroke="#000" stroke-width="2" stroke-dasharray="1.6 2.2"/>
<line x1="1059.5" y1="1409" x2="1059.5" y2="1740" stroke="#000" stroke-width="1.8" stroke-dasharray="5 3"/>
<line x1="565.4" y1="1422.2" x2="565.4" y2="1686.86" stroke="#000" stroke-width="2.6"/>
<path d="M565.4,1433.75 C565.53,1434.22 565.46,1435.41 566.2,1436.59 C566.94,1437.77 568.79,1438.96 569.84,1440.85 C570.89,1442.75 571.91,1445 572.5,1447.96 C573.1,1450.92 572.06,1455.36 573.39,1458.61 C574.73,1461.87 578.13,1464.54 580.5,1467.5 C582.87,1470.46 586.71,1473.71 587.6,1476.38 C588.49,1479.04 585.83,1480.82 585.83,1483.48 C585.83,1486.15 587.16,1489.11 587.6,1492.36 C588.05,1495.62 587.45,1499.62 588.49,1503.02 C589.53,1506.42 593.82,1509.24 593.82,1512.79 C593.82,1516.34 590.41,1520.63 588.49,1524.33 C586.57,1528.03 584.35,1531.14 582.27,1534.99 C580.2,1538.84 577.54,1543.28 576.06,1547.42 C574.58,1551.57 574.28,1555.42 573.39,1559.86 C572.5,1564.3 571.47,1569.33 570.73,1574.07 C569.99,1578.8 569.25,1582.95 568.95,1588.28 C568.66,1593.61 568.06,1601.3 568.95,1606.04 C569.84,1610.78 572.5,1612.55 574.28,1616.7 C576.06,1620.84 580.2,1626.76 579.61,1630.91 C579.02,1635.05 572.94,1639.08 570.73,1641.56 C568.52,1644.05 567.25,1644.64 566.36,1645.83 C565.47,1647.01 565.56,1648.19 565.4,1648.67 C565.24,1648.19 565.33,1647.01 564.44,1645.83 C563.55,1644.64 562.28,1644.05 560.07,1641.56 C557.86,1639.08 551.78,1635.05 551.19,1630.91 C550.6,1626.76 554.74,1620.84 556.52,1616.7 C558.3,1612.55 560.96,1610.78 561.85,1606.04 C562.74,1601.3 562.14,1593.61 561.85,1588.28 C561.55,1582.95 560.81,1578.8 560.07,1574.07 C559.33,1569.33 558.3,1564.3 557.41,1559.86 C556.52,1555.42 556.22,1551.57 554.74,1547.42 C553.26,1543.28 550.6,1538.84 548.53,1534.99 C546.45,1531.14 544.23,1528.03 542.31,1524.33 C540.39,1520.63 536.98,1516.34 536.98,1512.79 C536.98,1509.24 541.27,1506.42 542.31,1503.02 C543.35,1499.62 542.75,1495.62 543.2,1492.36 C543.64,1489.11 544.97,1486.15 544.97,1483.48 C544.97,1480.82 542.31,1479.04 543.2,1476.38 C544.09,1473.71 547.93,1470.46 550.3,1467.5 C552.67,1464.54 556.07,1461.87 557.41,1458.61 C558.74,1455.36 557.7,1450.92 558.3,1447.96 C558.89,1445 559.91,1442.75 560.96,1440.85 C562.01,1438.96 563.86,1437.77 564.6,1436.59 C565.34,1435.41 565.27,1434.22 565.4,1433.75 Z" fill="#0433FF" stroke="#000" stroke-width="2.5" stroke-linejoin="round"/>
<line x1="538.59" y1="1513.68" x2="592.21" y2="1513.68" stroke="#000" stroke-width="2.4" stroke-dasharray="6 3"/>
<line x1="545.11" y1="1488.81" x2="585.69" y2="1488.81" stroke="#000" stroke-width="2" stroke-dasharray="1.6 2.2"/>
<line x1="554.17" y1="1543.87" x2="576.63" y2="1543.87" stroke="#000" stroke-width="2" stroke-dasharray="1.6 2.2"/>
<line x1="655" y1="1509.24" x2="655" y2="1709.06" stroke="#000" stroke-width="2.6"/>
<path d="M655,1515.45 C655.13,1515.93 655.06,1517.11 655.8,1518.29 C656.54,1519.48 658.98,1520.66 659.44,1522.56 C659.9,1524.45 657.22,1527.29 658.55,1529.66 C659.88,1532.03 665.81,1534.7 667.43,1536.77 C669.06,1538.84 668.32,1539.73 668.32,1542.1 C668.32,1544.46 666.69,1548.31 667.43,1550.98 C668.17,1553.64 670.1,1555.57 672.76,1558.08 C675.43,1560.6 683.12,1563.11 683.42,1566.07 C683.72,1569.03 677.5,1572.74 674.54,1575.84 C671.58,1578.95 668.17,1582.06 665.66,1584.72 C663.14,1587.39 660.86,1588.57 659.44,1591.83 C658.02,1595.09 657.58,1599.23 657.13,1604.26 C656.69,1609.3 656.24,1617.58 656.78,1622.02 C657.31,1626.47 660.39,1628.54 660.33,1630.91 C660.27,1633.27 657.27,1633.39 656.42,1636.23 C655.58,1639.08 655.49,1644.7 655.26,1647.96 C655.02,1651.21 655.04,1654.47 655,1655.77 C654.96,1654.47 654.98,1651.21 654.74,1647.96 C654.51,1644.7 654.42,1639.08 653.58,1636.23 C652.73,1633.39 649.73,1633.27 649.67,1630.91 C649.61,1628.54 652.69,1626.47 653.22,1622.02 C653.76,1617.58 653.31,1609.3 652.87,1604.26 C652.42,1599.23 651.98,1595.09 650.56,1591.83 C649.14,1588.57 646.86,1587.39 644.34,1584.72 C641.83,1582.06 638.42,1578.95 635.46,1575.84 C632.5,1572.74 626.28,1569.03 626.58,1566.07 C626.88,1563.11 634.57,1560.6 637.24,1558.08 C639.9,1555.57 641.83,1553.64 642.57,1550.98 C643.31,1548.31 641.68,1544.46 641.68,1542.1 C641.68,1539.73 640.94,1538.84 642.57,1536.77 C644.19,1534.7 650.12,1532.03 651.45,1529.66 C652.78,1527.29 650.1,1524.45 650.56,1522.56 C651.02,1520.66 653.46,1519.48 654.2,1518.29 C654.94,1517.11 654.87,1515.93 655,1515.45 Z" fill="#0433FF" stroke="#000" stroke-width="2.5" stroke-linejoin="round"/>
<line x1="627.78" y1="1566.07" x2="682.22" y2="1566.07" stroke="#000" stroke-width="2.4" stroke-dasharray="6 3"/>
<line x1="642.7" y1="1552.4" x2="667.3" y2="1552.4" stroke="#000" stroke-width="2" stroke-dasharray="1.6 2.2"/>
<line x1="638.44" y1="1577.62" x2="671.56" y2="1577.62" stroke="#000" stroke-width="2" stroke-dasharray="1.6 2.2"/>
<line x1="744.6" y1="1511.9" x2="744.6" y2="1713.5" stroke="#000" stroke-width="2.6"/>
<path d="M744.6,1517.23 C744.92,1517.7 744.74,1518.89 746.52,1520.07 C748.29,1521.26 754.1,1522.44 755.26,1524.33 C756.42,1526.23 752.59,1528.48 753.48,1531.44 C754.37,1534.4 757.33,1538.25 760.59,1542.1 C763.84,1545.94 771.54,1550.98 773.02,1554.53 C774.5,1558.08 771.84,1559.86 769.47,1563.41 C767.1,1566.96 761.47,1572.29 758.81,1575.84 C756.15,1579.4 754.22,1582.06 753.48,1584.72 C752.74,1587.39 754.96,1589.46 754.37,1591.83 C753.78,1594.2 750.91,1595.38 749.93,1598.93 C748.95,1602.49 748.51,1607.82 748.51,1613.14 C748.51,1618.47 750.34,1626.47 749.93,1630.91 C749.51,1635.35 746.87,1635.64 746.02,1639.79 C745.18,1643.93 745.09,1651.33 744.86,1655.77 C744.62,1660.21 744.64,1664.65 744.6,1666.43 C744.56,1664.65 744.58,1660.21 744.34,1655.77 C744.11,1651.33 744.02,1643.93 743.18,1639.79 C742.33,1635.64 739.69,1635.35 739.27,1630.91 C738.86,1626.47 740.69,1618.47 740.69,1613.14 C740.69,1607.82 740.25,1602.49 739.27,1598.93 C738.29,1595.38 735.42,1594.2 734.83,1591.83 C734.24,1589.46 736.46,1587.39 735.72,1584.72 C734.98,1582.06 733.05,1579.4 730.39,1575.84 C727.73,1572.29 722.1,1566.96 719.73,1563.41 C717.36,1559.86 714.7,1558.08 716.18,1554.53 C717.66,1550.98 725.36,1545.94 728.61,1542.1 C731.87,1538.25 734.83,1534.4 735.72,1531.44 C736.61,1528.48 732.78,1526.23 733.94,1524.33 C735.1,1522.44 740.91,1521.26 742.68,1520.07 C744.46,1518.89 744.28,1517.7 744.6,1517.23 Z" fill="#0433FF" stroke="#000" stroke-width="2.5" stroke-linejoin="round"/>
<line x1="720.22" y1="1561.63" x2="768.98" y2="1561.63" stroke="#000" stroke-width="2.4" stroke-dasharray="6 3"/>
<line x1="721.82" y1="1550.09" x2="767.38" y2="1550.09" stroke="#000" stroke-width="2" stroke-dasharray="1.6 2.2"/>
<line x1="736.6" y1="1584.19" x2="752.6" y2="1584.19" stroke="#000" stroke-width="2" stroke-dasharray="1.6 2.2"/>
<line x1="834.2" y1="1461.28" x2="834.2" y2="1696.63" stroke="#000" stroke-width="2.6"/>
<path d="M834.2,1470.16 C834.73,1470.57 834.44,1471.61 837.4,1472.65 C840.36,1473.68 848.35,1474.87 851.96,1476.38 C855.57,1477.89 857.29,1480.08 859.07,1481.71 C860.84,1483.33 863.21,1484.37 862.62,1486.15 C862.03,1487.92 857.88,1490.14 855.51,1492.36 C853.15,1494.58 850.19,1496.8 848.41,1499.47 C846.63,1502.13 844.71,1505.68 844.86,1508.35 C845.01,1511.01 847.97,1513.08 849.3,1515.45 C850.63,1517.82 853.29,1519.89 852.85,1522.56 C852.41,1525.22 847.82,1528.77 846.63,1531.44 C845.45,1534.1 844.71,1535.88 845.75,1538.54 C846.78,1541.21 852.7,1544.46 852.85,1547.42 C853,1550.38 848.41,1553.05 846.63,1556.31 C844.86,1559.56 843.82,1563.41 842.19,1566.96 C840.56,1570.52 837.96,1572.88 836.86,1577.62 C835.77,1582.36 835.47,1589.46 835.62,1595.38 C835.77,1601.3 836.95,1607.52 837.75,1613.14 C838.55,1618.77 840.77,1624.39 840.42,1629.13 C840.06,1633.87 836.61,1638.78 835.62,1641.56 C834.63,1644.35 834.69,1644.64 834.46,1645.83 C834.22,1647.01 834.24,1648.19 834.2,1648.67 C834.16,1648.19 834.18,1647.01 833.94,1645.83 C833.71,1644.64 833.77,1644.35 832.78,1641.56 C831.79,1638.78 828.34,1633.87 827.98,1629.13 C827.63,1624.39 829.85,1618.77 830.65,1613.14 C831.45,1607.52 832.63,1601.3 832.78,1595.38 C832.93,1589.46 832.63,1582.36 831.54,1577.62 C830.44,1572.88 827.84,1570.52 826.21,1566.96 C824.58,1563.41 823.54,1559.56 821.77,1556.31 C819.99,1553.05 815.4,1550.38 815.55,1547.42 C815.7,1544.46 821.62,1541.21 822.65,1538.54 C823.69,1535.88 822.95,1534.1 821.77,1531.44 C820.58,1528.77 815.99,1525.22 815.55,1522.56 C815.11,1519.89 817.77,1517.82 819.1,1515.45 C820.43,1513.08 823.39,1511.01 823.54,1508.35 C823.69,1505.68 821.77,1502.13 819.99,1499.47 C818.21,1496.8 815.25,1494.58 812.89,1492.36 C810.52,1490.14 806.37,1487.92 805.78,1486.15 C805.19,1484.37 807.56,1483.33 809.33,1481.71 C811.11,1480.08 812.83,1477.89 816.44,1476.38 C820.05,1474.87 828.04,1473.68 831,1472.65 C833.96,1471.61 833.67,1470.57 834.2,1470.16 Z" fill="#0433FF" stroke="#000" stroke-width="2.5" stroke-linejoin="round"/>
<line x1="817.46" y1="1521.14" x2="850.94" y2="1521.14" stroke="#000" stroke-width="2.4" stroke-dasharray="6 3"/>
<line x1="813.07" y1="1491.47" x2="855.33" y2="1491.47" stroke="#000" stroke-width="2" stroke-dasharray="1.6 2.2"/>
<line x1="817.03" y1="1547.07" x2="851.37" y2="1547.07" stroke="#000" stroke-width="2" stroke-dasharray="1.6 2.2"/>
<line x1="923.8" y1="1486.15" x2="923.8" y2="1654" stroke="#000" stroke-width="2.6"/>
<path d="M923.8,1495.03 C924.33,1495.56 924.04,1496.89 927,1498.22 C929.96,1499.56 937.8,1501.04 941.56,1503.02 C945.32,1505 947.78,1508.05 949.55,1510.12 C951.33,1512.2 953.26,1513.08 952.22,1515.45 C951.18,1517.82 946.45,1521.08 943.34,1524.33 C940.23,1527.59 934.75,1531.73 933.57,1534.99 C932.38,1538.25 934.9,1541.5 936.23,1543.87 C937.57,1546.24 941.27,1546.54 941.56,1549.2 C941.86,1551.87 937.42,1556.6 938.01,1559.86 C938.6,1563.11 943.34,1566.37 945.11,1568.74 C946.89,1571.11 948.96,1571.4 948.67,1574.07 C948.37,1576.73 945.85,1581.17 943.34,1584.72 C940.82,1588.28 936.23,1592.13 933.57,1595.38 C930.9,1598.64 928.63,1600.71 927.35,1604.26 C926.08,1607.82 925.78,1612.55 925.93,1616.7 C926.08,1620.84 928.46,1625.81 928.24,1629.13 C928.02,1632.45 925.34,1634.52 924.6,1636.59 C923.86,1638.66 923.93,1640.73 923.8,1641.56 C923.67,1640.73 923.74,1638.66 923,1636.59 C922.26,1634.52 919.58,1632.45 919.36,1629.13 C919.14,1625.81 921.52,1620.84 921.67,1616.7 C921.82,1612.55 921.52,1607.82 920.25,1604.26 C918.97,1600.71 916.7,1598.64 914.03,1595.38 C911.37,1592.13 906.78,1588.28 904.26,1584.72 C901.75,1581.17 899.23,1576.73 898.93,1574.07 C898.64,1571.4 900.71,1571.11 902.49,1568.74 C904.26,1566.37 909,1563.11 909.59,1559.86 C910.18,1556.6 905.74,1551.87 906.04,1549.2 C906.33,1546.54 910.03,1546.24 911.37,1543.87 C912.7,1541.5 915.22,1538.25 914.03,1534.99 C912.85,1531.73 907.37,1527.59 904.26,1524.33 C901.15,1521.08 896.42,1517.82 895.38,1515.45 C894.34,1513.08 896.27,1512.2 898.05,1510.12 C899.82,1508.05 902.28,1505 906.04,1503.02 C909.8,1501.04 917.64,1499.56 920.6,1498.22 C923.56,1496.89 923.27,1495.56 923.8,1495.03 Z" fill="#0433FF" stroke="#000" stroke-width="2.5" stroke-linejoin="round"/>
<line x1="907.59" y1="1548.85" x2="940.01" y2="1548.85" stroke="#000" stroke-width="2.4" stroke-dasharray="6 3"/>
<line x1="899.25" y1="1518.12" x2="948.35" y2="1518.12" stroke="#000" stroke-width="2" stroke-dasharray="1.6 2.2"/>
<line x1="900.58" y1="1574.96" x2="947.02" y2="1574.96" stroke="#000" stroke-width="2" stroke-dasharray="1.6 2.2"/>
<line x1="1013.4" y1="1582.59" x2="1013.4" y2="1694.85" stroke="#000" stroke-width="2.6"/>
<path d="M1013.4,1587.39 C1014.04,1587.74 1013.68,1588.63 1017.24,1589.52 C1020.79,1590.41 1030.91,1591.15 1034.71,1592.72 C1038.52,1594.29 1039.75,1596.71 1040.04,1598.93 C1040.34,1601.15 1036.19,1603.82 1036.49,1606.04 C1036.79,1608.26 1041.67,1609.89 1041.82,1612.26 C1041.97,1614.62 1037.97,1617.73 1037.38,1620.25 C1036.79,1622.76 1038.41,1624.99 1038.27,1627.35 C1038.12,1629.72 1037.08,1632.53 1036.49,1634.46 C1035.9,1636.38 1037.38,1637.57 1034.71,1638.9 C1032.05,1640.23 1023.84,1641.59 1020.5,1642.45 C1017.17,1643.31 1015.86,1643.61 1014.68,1644.05 C1013.49,1644.49 1013.61,1644.94 1013.4,1645.12 C1013.19,1644.94 1013.31,1644.49 1012.12,1644.05 C1010.94,1643.61 1009.63,1643.31 1006.3,1642.45 C1002.96,1641.59 994.75,1640.23 992.09,1638.9 C989.42,1637.57 990.9,1636.38 990.31,1634.46 C989.72,1632.53 988.68,1629.72 988.53,1627.35 C988.39,1624.99 990.01,1622.76 989.42,1620.25 C988.83,1617.73 984.83,1614.62 984.98,1612.26 C985.13,1609.89 990.01,1608.26 990.31,1606.04 C990.61,1603.82 986.46,1601.15 986.76,1598.93 C987.05,1596.71 988.28,1594.29 992.09,1592.72 C995.89,1591.15 1006.01,1590.41 1009.56,1589.52 C1013.12,1588.63 1012.76,1587.74 1013.4,1587.39 Z" fill="#0433FF" stroke="#000" stroke-width="2.5" stroke-linejoin="round"/>
<line x1="987.17" y1="1614.03" x2="1039.63" y2="1614.03" stroke="#000" stroke-width="2.4" stroke-dasharray="6 3"/>
<line x1="990.44" y1="1603.91" x2="1036.36" y2="1603.91" stroke="#000" stroke-width="2" stroke-dasharray="1.6 2.2"/>
<line x1="989.73" y1="1627.35" x2="1037.07" y2="1627.35" stroke="#000" stroke-width="2" stroke-dasharray="1.6 2.2"/>
<line x1="1103" y1="1437.3" x2="1103" y2="1646.89" stroke="#000" stroke-width="2.6"/>
<path d="M1103,1446.18 C1103.48,1446.6 1103.21,1447.63 1105.88,1448.67 C1108.54,1449.7 1115.47,1450.74 1118.99,1452.4 C1122.5,1454.06 1126.24,1456.1 1126.98,1458.61 C1127.72,1461.13 1124.31,1464.54 1123.43,1467.5 C1122.54,1470.46 1121.5,1473.42 1121.65,1476.38 C1121.8,1479.34 1122.69,1482.3 1124.31,1485.26 C1125.94,1488.22 1130.98,1490.59 1131.42,1494.14 C1131.86,1497.69 1129.35,1502.72 1126.98,1506.57 C1124.61,1510.42 1120.32,1513.08 1117.21,1517.23 C1114.1,1521.37 1108.92,1527.29 1108.33,1531.44 C1107.74,1535.58 1112.03,1538.54 1113.66,1542.1 C1115.29,1545.65 1118.25,1549.2 1118.1,1552.75 C1117.95,1556.31 1114.69,1559.27 1112.77,1563.41 C1110.84,1567.55 1107.74,1572.29 1106.55,1577.62 C1105.37,1582.95 1105.96,1589.46 1105.66,1595.38 C1105.37,1601.3 1105.17,1608.41 1104.78,1613.14 C1104.39,1617.88 1103.62,1620.84 1103.32,1623.8 C1103.02,1626.76 1103.05,1629.72 1103,1630.91 C1102.95,1629.72 1102.98,1626.76 1102.68,1623.8 C1102.38,1620.84 1101.61,1617.88 1101.22,1613.14 C1100.83,1608.41 1100.63,1601.3 1100.34,1595.38 C1100.04,1589.46 1100.63,1582.95 1099.45,1577.62 C1098.26,1572.29 1095.16,1567.55 1093.23,1563.41 C1091.31,1559.27 1088.05,1556.31 1087.9,1552.75 C1087.75,1549.2 1090.71,1545.65 1092.34,1542.1 C1093.97,1538.54 1098.26,1535.58 1097.67,1531.44 C1097.08,1527.29 1091.9,1521.37 1088.79,1517.23 C1085.68,1513.08 1081.39,1510.42 1079.02,1506.57 C1076.65,1502.72 1074.14,1497.69 1074.58,1494.14 C1075.02,1490.59 1080.06,1488.22 1081.69,1485.26 C1083.31,1482.3 1084.2,1479.34 1084.35,1476.38 C1084.5,1473.42 1083.46,1470.46 1082.57,1467.5 C1081.69,1464.54 1078.28,1461.13 1079.02,1458.61 C1079.76,1456.1 1083.5,1454.06 1087.01,1452.4 C1090.53,1450.74 1097.46,1449.7 1100.12,1448.67 C1102.79,1447.63 1102.52,1446.6 1103,1446.18 Z" fill="#FF2600" stroke="#000" stroke-width="2.5" stroke-linejoin="round"/>
<line x1="1077.37" y1="1498.58" x2="1128.63" y2="1498.58" stroke="#000" stroke-width="2.4" stroke-dasharray="6 3"/>
<line x1="1085.39" y1="1476.91" x2="1120.61" y2="1476.91" stroke="#000" stroke-width="2" stroke-dasharray="1.6 2.2"/>
<line x1="1096.87" y1="1528.24" x2="1109.13" y2="1528.24" stroke="#000" stroke-width="2" stroke-dasharray="1.6 2.2"/>
<line x1="1192.6" y1="1511.01" x2="1192.6" y2="1655.77" stroke="#000" stroke-width="2.6"/>
<path d="M1192.6,1516.34 C1192.87,1516.76 1192.72,1517.79 1194.2,1518.83 C1195.68,1519.86 1200.42,1520.75 1201.48,1522.56 C1202.55,1524.36 1201.33,1526.41 1200.59,1529.66 C1199.85,1532.92 1197.93,1538.54 1197.04,1542.1 C1196.15,1545.65 1195.12,1547.42 1195.26,1550.98 C1195.41,1554.53 1197.63,1559.86 1197.93,1563.41 C1198.22,1566.96 1195.86,1569.63 1197.04,1572.29 C1198.22,1574.96 1201.04,1577.03 1205.03,1579.4 C1209.03,1581.76 1219.54,1583.84 1221.02,1586.5 C1222.5,1589.17 1216.28,1592.13 1213.91,1595.38 C1211.55,1598.64 1209.18,1602.49 1206.81,1606.04 C1204.44,1609.59 1201.86,1614.21 1199.7,1616.7 C1197.55,1619.18 1195.06,1619.78 1193.88,1620.96 C1192.69,1622.14 1192.81,1623.33 1192.6,1623.8 C1192.39,1623.33 1192.51,1622.14 1191.32,1620.96 C1190.14,1619.78 1187.65,1619.18 1185.5,1616.7 C1183.34,1614.21 1180.76,1609.59 1178.39,1606.04 C1176.02,1602.49 1173.65,1598.64 1171.29,1595.38 C1168.92,1592.13 1162.7,1589.17 1164.18,1586.5 C1165.66,1583.84 1176.17,1581.76 1180.17,1579.4 C1184.16,1577.03 1186.98,1574.96 1188.16,1572.29 C1189.34,1569.63 1186.98,1566.96 1187.27,1563.41 C1187.57,1559.86 1189.79,1554.53 1189.94,1550.98 C1190.08,1547.42 1189.05,1545.65 1188.16,1542.1 C1187.27,1538.54 1185.35,1532.92 1184.61,1529.66 C1183.87,1526.41 1182.65,1524.36 1183.72,1522.56 C1184.78,1520.75 1189.52,1519.86 1191,1518.83 C1192.48,1517.79 1192.33,1516.76 1192.6,1516.34 Z" fill="#FF2600" stroke="#000" stroke-width="2.5" stroke-linejoin="round"/>
<line x1="1167.8" y1="1589.52" x2="1217.4" y2="1589.52" stroke="#000" stroke-width="2.4" stroke-dasharray="6 3"/>
<line x1="1188.96" y1="1572.65" x2="1196.24" y2="1572.65" stroke="#000" stroke-width="2" stroke-dasharray="1.6 2.2"/>
<line x1="1176.39" y1="1601.24" x2="1208.81" y2="1601.24" stroke="#000" stroke-width="2" stroke-dasharray="1.6 2.2"/>
<line x1="1282.2" y1="1472.82" x2="1282.2" y2="1642.45" stroke="#000" stroke-width="2.6"/>
<path d="M1282.2,1479.93 C1282.33,1480.28 1282.26,1481.17 1283,1482.06 C1283.74,1482.95 1285.89,1482.95 1286.64,1485.26 C1287.4,1487.57 1285.9,1492.95 1287.53,1495.91 C1289.16,1498.88 1293.15,1500.65 1296.41,1503.02 C1299.67,1505.39 1304.7,1507.76 1307.07,1510.12 C1309.44,1512.49 1311.21,1514.56 1310.62,1517.23 C1310.03,1519.89 1304.85,1522.85 1303.51,1526.11 C1302.18,1529.37 1303.22,1533.21 1302.63,1536.77 C1302.03,1540.32 1299.37,1543.58 1299.96,1547.42 C1300.55,1551.27 1305.73,1556.01 1306.18,1559.86 C1306.62,1563.71 1304.85,1566.67 1302.63,1570.52 C1300.41,1574.36 1295.67,1579.4 1292.86,1582.95 C1290.04,1586.5 1287.42,1589.82 1285.75,1591.83 C1284.08,1593.84 1283.43,1594.14 1282.84,1595.03 C1282.25,1595.91 1282.31,1596.8 1282.2,1597.16 C1282.09,1596.8 1282.15,1595.91 1281.56,1595.03 C1280.97,1594.14 1280.32,1593.84 1278.65,1591.83 C1276.98,1589.82 1274.36,1586.5 1271.54,1582.95 C1268.73,1579.4 1263.99,1574.36 1261.77,1570.52 C1259.55,1566.67 1257.78,1563.71 1258.22,1559.86 C1258.67,1556.01 1263.85,1551.27 1264.44,1547.42 C1265.03,1543.58 1262.37,1540.32 1261.77,1536.77 C1261.18,1533.21 1262.22,1529.37 1260.89,1526.11 C1259.55,1522.85 1254.37,1519.89 1253.78,1517.23 C1253.19,1514.56 1254.96,1512.49 1257.33,1510.12 C1259.7,1507.76 1264.73,1505.39 1267.99,1503.02 C1271.25,1500.65 1275.24,1498.88 1276.87,1495.91 C1278.5,1492.95 1277,1487.57 1277.76,1485.26 C1278.51,1482.95 1280.66,1482.95 1281.4,1482.06 C1282.14,1481.17 1282.07,1480.28 1282.2,1479.93 Z" fill="#FF2600" stroke="#000" stroke-width="2.5" stroke-linejoin="round"/>
<line x1="1263.42" y1="1538.54" x2="1300.98" y2="1538.54" stroke="#000" stroke-width="2.4" stroke-dasharray="6 3"/>
<line x1="1256.4" y1="1519.01" x2="1308" y2="1519.01" stroke="#000" stroke-width="2" stroke-dasharray="1.6 2.2"/>
<line x1="1260.13" y1="1561.99" x2="1304.27" y2="1561.99" stroke="#000" stroke-width="2" stroke-dasharray="1.6 2.2"/>
<line x1="1371.8" y1="1416.04" x2="1371.8" y2="1694.34" stroke="#000" stroke-width="2.6"/>
<path d="M1371.8,1427.36 C1371.97,1427.8 1371.88,1428.9 1372.82,1430 C1373.76,1431.1 1376.37,1431.73 1377.46,1433.96 C1378.55,1436.19 1378.56,1440.57 1379.35,1443.4 C1380.13,1446.23 1380.45,1448.11 1382.18,1450.94 C1383.91,1453.77 1388.31,1456.6 1389.72,1460.38 C1391.14,1464.15 1391.14,1470.13 1390.67,1473.58 C1390.2,1477.04 1388.62,1478.3 1386.89,1481.13 C1385.16,1483.96 1382.11,1487.11 1380.29,1490.57 C1378.47,1494.03 1376.89,1498.11 1375.95,1501.89 C1375.01,1505.66 1373.44,1510.38 1374.63,1513.21 C1375.83,1516.04 1378.88,1516.67 1383.12,1518.87 C1387.37,1521.07 1398.84,1523.9 1400.1,1526.42 C1401.36,1528.93 1394.28,1531.13 1390.67,1533.96 C1387.05,1536.79 1381.35,1541.07 1378.4,1543.4 C1375.46,1545.72 1374.09,1546.67 1372.99,1547.92 C1371.89,1549.18 1372,1550.44 1371.8,1550.94 C1371.6,1550.44 1371.71,1549.18 1370.61,1547.92 C1369.51,1546.67 1368.14,1545.72 1365.2,1543.4 C1362.25,1541.07 1356.55,1536.79 1352.93,1533.96 C1349.32,1531.13 1342.24,1528.93 1343.5,1526.42 C1344.76,1523.9 1356.23,1521.07 1360.48,1518.87 C1364.72,1516.67 1367.77,1516.04 1368.97,1513.21 C1370.16,1510.38 1368.59,1505.66 1367.65,1501.89 C1366.71,1498.11 1365.13,1494.03 1363.31,1490.57 C1361.49,1487.11 1358.44,1483.96 1356.71,1481.13 C1354.98,1478.3 1353.4,1477.04 1352.93,1473.58 C1352.46,1470.13 1352.46,1464.15 1353.88,1460.38 C1355.29,1456.6 1359.69,1453.77 1361.42,1450.94 C1363.15,1448.11 1363.47,1446.23 1364.25,1443.4 C1365.04,1440.57 1365.05,1436.19 1366.14,1433.96 C1367.23,1431.73 1369.84,1431.1 1370.78,1430 C1371.72,1428.9 1371.63,1427.8 1371.8,1427.36 Z" fill="#FF2600" stroke="#000" stroke-width="2.5" stroke-linejoin="round"/>
<line x1="1358.3" y1="1481.7" x2="1385.3" y2="1481.7" stroke="#000" stroke-width="2.4" stroke-dasharray="6 3"/>
<line x1="1354.83" y1="1463.77" x2="1388.77" y2="1463.77" stroke="#000" stroke-width="2" stroke-dasharray="1.6 2.2"/>
<line x1="1345.97" y1="1525.85" x2="1397.63" y2="1525.85" stroke="#000" stroke-width="2" stroke-dasharray="1.6 2.2"/>
<line x1="1461.4" y1="1411.32" x2="1461.4" y2="1701.89" stroke="#000" stroke-width="2.6"/>
<path d="M1461.4,1417.92 C1461.8,1418.36 1461.58,1419.47 1463.78,1420.57 C1465.98,1421.67 1471.23,1421.98 1474.61,1424.53 C1477.98,1427.08 1483.88,1432.08 1484.04,1435.85 C1484.2,1439.62 1478.54,1443.4 1475.55,1447.17 C1472.56,1450.94 1468.22,1454.72 1466.12,1458.49 C1464.01,1462.26 1463.22,1466.35 1462.91,1469.81 C1462.59,1473.27 1462.12,1476.1 1464.23,1479.25 C1466.34,1482.39 1472.25,1484.91 1475.55,1488.68 C1478.85,1492.45 1483.57,1497.8 1484.04,1501.89 C1484.51,1505.97 1480.27,1509.43 1478.38,1513.21 C1476.49,1516.98 1472.41,1521.38 1472.72,1524.53 C1473.04,1527.67 1477.44,1529.09 1480.27,1532.08 C1483.1,1535.06 1489.7,1538.68 1489.7,1542.45 C1489.7,1546.23 1482.94,1550.16 1480.27,1554.72 C1477.59,1559.28 1475.55,1564.15 1473.66,1569.81 C1471.78,1575.47 1470.21,1583.96 1468.95,1588.68 C1467.69,1593.4 1466.12,1591.82 1466.12,1598.11 C1466.12,1604.4 1469.26,1618.55 1468.95,1626.42 C1468.63,1634.28 1465.4,1640.25 1464.23,1645.28 C1463.06,1650.31 1462.38,1653.46 1461.91,1656.6 C1461.44,1659.75 1461.48,1662.89 1461.4,1664.15 C1461.32,1662.89 1461.36,1659.75 1460.89,1656.6 C1460.42,1653.46 1459.74,1650.31 1458.57,1645.28 C1457.4,1640.25 1454.17,1634.28 1453.85,1626.42 C1453.54,1618.55 1456.68,1604.4 1456.68,1598.11 C1456.68,1591.82 1455.11,1593.4 1453.85,1588.68 C1452.59,1583.96 1451.02,1575.47 1449.14,1569.81 C1447.25,1564.15 1445.21,1559.28 1442.53,1554.72 C1439.86,1550.16 1433.1,1546.23 1433.1,1542.45 C1433.1,1538.68 1439.7,1535.06 1442.53,1532.08 C1445.36,1529.09 1449.76,1527.67 1450.08,1524.53 C1450.39,1521.38 1446.31,1516.98 1444.42,1513.21 C1442.53,1509.43 1438.29,1505.97 1438.76,1501.89 C1439.23,1497.8 1443.95,1492.45 1447.25,1488.68 C1450.55,1484.91 1456.46,1482.39 1458.57,1479.25 C1460.68,1476.1 1460.21,1473.27 1459.89,1469.81 C1459.58,1466.35 1458.79,1462.26 1456.68,1458.49 C1454.58,1454.72 1450.24,1450.94 1447.25,1447.17 C1444.26,1443.4 1438.6,1439.62 1438.76,1435.85 C1438.92,1432.08 1444.82,1427.08 1448.19,1424.53 C1451.57,1421.98 1456.82,1421.67 1459.02,1420.57 C1461.22,1419.47 1461,1418.36 1461.4,1417.92 Z" fill="#FF2600" stroke="#000" stroke-width="2.5" stroke-linejoin="round"/>
<line x1="1442.36" y1="1533.58" x2="1480.44" y2="1533.58" stroke="#000" stroke-width="2.4" stroke-dasharray="6 3"/>
<line x1="1444.2" y1="1495.28" x2="1478.6" y2="1495.28" stroke="#000" stroke-width="2" stroke-dasharray="1.6 2.2"/>
<line x1="1445.22" y1="1558.11" x2="1477.58" y2="1558.11" stroke="#000" stroke-width="2" stroke-dasharray="1.6 2.2"/>
<line x1="1551" y1="1469.43" x2="1551" y2="1729.25" stroke="#000" stroke-width="2.6"/>
<path d="M1551,1481.13 C1551.45,1481.64 1551.2,1482.89 1553.72,1484.15 C1556.23,1485.41 1562.62,1486.04 1566.09,1488.68 C1569.57,1491.32 1573.01,1495.28 1574.58,1500 C1576.16,1504.72 1574.74,1511.64 1575.53,1516.98 C1576.31,1522.33 1579.93,1527.67 1579.3,1532.08 C1578.67,1536.48 1574.74,1539.62 1571.75,1543.4 C1568.77,1547.17 1563.74,1550.31 1561.38,1554.72 C1559.02,1559.12 1557.92,1564.15 1557.6,1569.81 C1557.29,1575.47 1558.7,1583.02 1559.49,1588.68 C1560.28,1594.34 1562.32,1597.48 1562.32,1603.77 C1562.32,1610.06 1560.59,1617.92 1559.49,1626.42 C1558.39,1634.91 1556.82,1645.28 1555.72,1654.72 C1554.62,1664.15 1553.62,1676.42 1552.89,1683.02 C1552.16,1689.62 1551.65,1691.19 1551.34,1694.34 C1551.03,1697.48 1551.06,1700.63 1551,1701.89 C1550.94,1700.63 1550.97,1697.48 1550.66,1694.34 C1550.35,1691.19 1549.84,1689.62 1549.11,1683.02 C1548.38,1676.42 1547.38,1664.15 1546.28,1654.72 C1545.18,1645.28 1543.61,1634.91 1542.51,1626.42 C1541.41,1617.92 1539.68,1610.06 1539.68,1603.77 C1539.68,1597.48 1541.72,1594.34 1542.51,1588.68 C1543.3,1583.02 1544.71,1575.47 1544.4,1569.81 C1544.08,1564.15 1542.98,1559.12 1540.62,1554.72 C1538.26,1550.31 1533.23,1547.17 1530.25,1543.4 C1527.26,1539.62 1523.33,1536.48 1522.7,1532.08 C1522.07,1527.67 1525.69,1522.33 1526.47,1516.98 C1527.26,1511.64 1525.84,1504.72 1527.42,1500 C1528.99,1495.28 1532.43,1491.32 1535.91,1488.68 C1539.38,1486.04 1545.77,1485.41 1548.28,1484.15 C1550.8,1482.89 1550.55,1481.64 1551,1481.13 Z" fill="#FF2600" stroke="#000" stroke-width="2.5" stroke-linejoin="round"/>
<line x1="1527.04" y1="1536.79" x2="1574.96" y2="1536.79" stroke="#000" stroke-width="2.4" stroke-dasharray="6 3"/>
<line x1="1527.78" y1="1515.09" x2="1574.22" y2="1515.09" stroke="#000" stroke-width="2" stroke-dasharray="1.6 2.2"/>
<line x1="1541.59" y1="1600" x2="1560.41" y2="1600" stroke="#000" stroke-width="2" stroke-dasharray="1.6 2.2"/>
<line x1="506.5" y1="1409.8" x2="506.5" y2="1741.3" stroke="#000" stroke-width="2.2"/>
<line x1="505.5" y1="1740.3" x2="1594.2" y2="1740.3" stroke="#000" stroke-width="2.2"/>
<line x1="497" y1="1410.9" x2="506.5" y2="1410.9" stroke="#000" stroke-width="2.2"/>
<text x="496.2" y="1418.4" font-size="21" text-anchor="end" font-weight="bold">400</text>
<line x1="497" y1="1465.8" x2="506.5" y2="1465.8" stroke="#000" stroke-width="2.2"/>
<text x="496.2" y="1473.3" font-size="21" text-anchor="end" font-weight="bold">300</text>
<line x1="497" y1="1520.7" x2="506.5" y2="1520.7" stroke="#000" stroke-width="2.2"/>
<text x="496.2" y="1528.2" font-size="21" text-anchor="end" font-weight="bold">200</text>
<line x1="497" y1="1575.6" x2="506.5" y2="1575.6" stroke="#000" stroke-width="2.2"/>
<text x="496.2" y="1583.1" font-size="21" text-anchor="end" font-weight="bold">100</text>
<line x1="497" y1="1630.5" x2="506.5" y2="1630.5" stroke="#000" stroke-width="2.2"/>
<text x="496.2" y="1638" font-size="21" text-anchor="end" font-weight="bold">0</text>
<line x1="497" y1="1685.4" x2="506.5" y2="1685.4" stroke="#000" stroke-width="2.2"/>
<text x="496.2" y="1692.9" font-size="21" text-anchor="end" font-weight="bold">-100</text>
<line x1="497" y1="1740.3" x2="506.5" y2="1740.3" stroke="#000" stroke-width="2.2"/>
<text x="496.2" y="1747.8" font-size="21" text-anchor="end" font-weight="bold">-200</text>
<text x="428" y="1574.2" font-size="24" textLength="209.68" lengthAdjust="spacingAndGlyphs" text-anchor="middle" transform="rotate(-90 428 1574.2)">Bead distance from</text>
<text x="451.5" y="1574.2" font-size="24" textLength="236.08" lengthAdjust="spacingAndGlyphs" text-anchor="middle" transform="rotate(-90 451.5 1574.2)">epithelial surface [µm]</text>
<text x="741.5" y="1761.7" font-size="19.7" textLength="51.58" lengthAdjust="spacingAndGlyphs" text-anchor="middle" font-style="italic">B.coc</text>
<text x="740.7" y="1781.8" font-size="19.7" textLength="100.18" lengthAdjust="spacingAndGlyphs" text-anchor="middle">[heat-killed]</text>
<text x="1329.85" y="1762" font-size="19.7" textLength="50.68" lengthAdjust="spacingAndGlyphs" text-anchor="middle" font-style="italic">B.coc</text>
<line x1="1758" y1="493" x2="1758" y2="817.3" stroke="#000" stroke-width="2.2"/>
<line x1="1746.2" y1="816.3" x2="1972" y2="816.3" stroke="#000" stroke-width="2.2"/>
<line x1="1746.2" y1="494.1" x2="1758" y2="494.1" stroke="#000" stroke-width="2.2"/>
<text x="1743.9" y="501.6" font-size="21" text-anchor="end" font-weight="bold">6</text>
<line x1="1746.2" y1="601.5" x2="1758" y2="601.5" stroke="#000" stroke-width="2.2"/>
<text x="1743.9" y="609" font-size="21" text-anchor="end" font-weight="bold">4</text>
<line x1="1746.2" y1="708.9" x2="1758" y2="708.9" stroke="#000" stroke-width="2.2"/>
<text x="1743.9" y="716.4" font-size="21" text-anchor="end" font-weight="bold">2</text>
<line x1="1746.2" y1="816.3" x2="1758" y2="816.3" stroke="#000" stroke-width="2.2"/>
<text x="1743.9" y="823.8" font-size="21" text-anchor="end" font-weight="bold">0</text>
<line x1="1815.9" y1="816.3" x2="1815.9" y2="827.8" stroke="#000" stroke-width="2.2"/>
<line x1="1914" y1="816.3" x2="1914" y2="827.8" stroke="#000" stroke-width="2.2"/>
<rect x="1777.5" y="699.6" width="76.7" height="116.7" fill="#fff" stroke="#000" stroke-width="2.4"/>
<rect x="1880.6" y="813" width="69.4" height="3.3" fill="#fff" stroke="#000" stroke-width="2.4"/>
<line x1="1815.9" y1="568.4" x2="1815.9" y2="816.3" stroke="#000" stroke-width="2.2"/>
<line x1="1796.4" y1="568.4" x2="1835.4" y2="568.4" stroke="#000" stroke-width="2.2"/>
<line x1="1914" y1="804.6" x2="1914" y2="816.3" stroke="#000" stroke-width="2.2"/>
<line x1="1894.5" y1="804.6" x2="1933.5" y2="804.6" stroke="#000" stroke-width="2.2"/>
<circle cx="1815.9" cy="514.7" r="6.4" fill="#0433FF" stroke="#000" stroke-width="2"/>
<circle cx="1815.9" cy="697.4" r="6.4" fill="#0433FF" stroke="#000" stroke-width="2"/>
<circle cx="1815.9" cy="784.5" r="6.4" fill="#0433FF" stroke="#000" stroke-width="2"/>
<circle cx="1815.9" cy="800" r="6.4" fill="#0433FF" stroke="#000" stroke-width="2"/>
<circle cx="1880.6" cy="805.3" r="6.4" fill="#FF2600" stroke="#000" stroke-width="2"/>
<circle cx="1880.6" cy="817" r="6.4" fill="#FF2600" stroke="#000" stroke-width="2"/>
<circle cx="1924.5" cy="805.3" r="6.4" fill="#FF2600" stroke="#000" stroke-width="2"/>
<circle cx="1924.5" cy="817" r="6.4" fill="#FF2600" stroke="#000" stroke-width="2"/>
<circle cx="1947.3" cy="808.5" r="6.4" fill="#FF2600" stroke="#000" stroke-width="2"/>
<text x="1698.5" y="649" font-size="24" textLength="258.08" lengthAdjust="spacingAndGlyphs" text-anchor="middle" transform="rotate(-90 1698.5 649)">Fraction of beads within</text>
<text x="1722" y="651.5" font-size="24" textLength="292.28" lengthAdjust="spacingAndGlyphs" text-anchor="middle" transform="rotate(-90 1722 651.5)">10 µm of the epithelium [%]</text>
<text x="1815.75" y="855" font-size="24" textLength="52.18" lengthAdjust="spacingAndGlyphs" text-anchor="middle">WSD</text>
<text x="1912.75" y="856" font-size="24" textLength="58.18" lengthAdjust="spacingAndGlyphs" text-anchor="middle">WSD</text>
<text x="1914.25" y="876.5" font-size="24" textLength="82.18" lengthAdjust="spacingAndGlyphs" text-anchor="middle">+ <tspan font-style="italic">B.coc</tspan></text>
<polyline points="1814,496.4 1814,488.3 1914.3,488.3 1914.3,514.7" fill="none" stroke="#000" stroke-width="2"/>
<text x="1864.7" y="485.8" font-size="30" textLength="14.3" lengthAdjust="spacingAndGlyphs" text-anchor="middle" font-weight="bold">*</text>
<line x1="1772.8" y1="1417.9" x2="1772.8" y2="1740" stroke="#000" stroke-width="2.2"/>
<line x1="1763.5" y1="1739" x2="2000" y2="1739" stroke="#000" stroke-width="2.2"/>
<line x1="1763.5" y1="1418.9" x2="1772.8" y2="1418.9" stroke="#000" stroke-width="2.2"/>
<text x="1763.1" y="1426.4" font-size="21" text-anchor="end" font-weight="bold">30</text>
<line x1="1763.5" y1="1525.6" x2="1772.8" y2="1525.6" stroke="#000" stroke-width="2.2"/>
<text x="1763.1" y="1533.1" font-size="21" text-anchor="end" font-weight="bold">20</text>
<line x1="1763.5" y1="1632.3" x2="1772.8" y2="1632.3" stroke="#000" stroke-width="2.2"/>
<text x="1763.1" y="1639.8" font-size="21" text-anchor="end" font-weight="bold">10</text>
<line x1="1763.5" y1="1739" x2="1772.8" y2="1739" stroke="#000" stroke-width="2.2"/>
<text x="1763.1" y="1746.5" font-size="21" text-anchor="end" font-weight="bold">0</text>
<line x1="1841.5" y1="1739" x2="1841.5" y2="1750.5" stroke="#000" stroke-width="2.2"/>
<line x1="1936.5" y1="1739" x2="1936.5" y2="1750.5" stroke="#000" stroke-width="2.2"/>
<rect x="1809.4" y="1632.8" width="62.6" height="106.2" fill="#fff" stroke="#000" stroke-width="2.4"/>
<rect x="1904.6" y="1701" width="63.3" height="38" fill="#fff" stroke="#000" stroke-width="2.4"/>
<line x1="1841.5" y1="1547.7" x2="1841.5" y2="1717.7" stroke="#000" stroke-width="2.2"/>
<line x1="1826" y1="1547.7" x2="1857" y2="1547.7" stroke="#000" stroke-width="2.2"/>
<line x1="1826" y1="1717.7" x2="1857" y2="1717.7" stroke="#000" stroke-width="2.2"/>
<line x1="1936.5" y1="1647.5" x2="1936.5" y2="1701" stroke="#000" stroke-width="2.2"/>
<line x1="1921" y1="1647.5" x2="1952" y2="1647.5" stroke="#000" stroke-width="2.2"/>
<circle cx="1841.5" cy="1472.9" r="6.4" fill="#0433FF" stroke="#000" stroke-width="2"/>
<circle cx="1841.5" cy="1615.6" r="6.4" fill="#0433FF" stroke="#000" stroke-width="2"/>
<circle cx="1841.5" cy="1647.5" r="6.4" fill="#0433FF" stroke="#000" stroke-width="2"/>
<circle cx="1841.5" cy="1661.3" r="6.4" fill="#0433FF" stroke="#000" stroke-width="2"/>
<circle cx="1841.5" cy="1690.5" r="6.4" fill="#0433FF" stroke="#000" stroke-width="2"/>
<circle cx="1841.5" cy="1709.1" r="6.4" fill="#0433FF" stroke="#000" stroke-width="2"/>
<circle cx="1936.5" cy="1603.6" r="6.4" fill="#FF2600" stroke="#000" stroke-width="2"/>
<circle cx="1936.5" cy="1674" r="6.4" fill="#FF2600" stroke="#000" stroke-width="2"/>
<circle cx="1928.6" cy="1725.6" r="6.4" fill="#FF2600" stroke="#000" stroke-width="2"/>
<circle cx="1961.8" cy="1727.3" r="6.4" fill="#FF2600" stroke="#000" stroke-width="2"/>
<circle cx="1911.2" cy="1736.6" r="6.4" fill="#FF2600" stroke="#000" stroke-width="2"/>
<circle cx="1945.1" cy="1734.1" r="6.4" fill="#FF2600" stroke="#000" stroke-width="2"/>
<text x="1708" y="1581.5" font-size="24" textLength="255.58" lengthAdjust="spacingAndGlyphs" text-anchor="middle" transform="rotate(-90 1708 1581.5)">Fraction of beads within</text>
<text x="1731.5" y="1583.3" font-size="24" textLength="291.18" lengthAdjust="spacingAndGlyphs" text-anchor="middle" transform="rotate(-90 1731.5 1583.3)">10 µm of the epithelium [%]</text>
<text x="1840.8" y="1769.7" font-size="19.7" textLength="50.38" lengthAdjust="spacingAndGlyphs" text-anchor="middle" font-style="italic">B.coc</text>
<text x="1937.7" y="1769.7" font-size="19.7" textLength="50.38" lengthAdjust="spacingAndGlyphs" text-anchor="middle" font-style="italic">B.coc</text>
<text x="1840.2" y="1790.6" font-size="19.7" textLength="100.78" lengthAdjust="spacingAndGlyphs" text-anchor="middle">[heat-killed]</text>
<rect x="883.5" y="8.4" width="542.5" height="28.5" fill="#000"/>
<text x="988.65" y="28.5" font-size="20" textLength="128.5" lengthAdjust="spacingAndGlyphs" text-anchor="middle" font-weight="bold" fill="#8e2a77">UEA1 (mucus)</text>
<text x="1129.05" y="28.5" font-size="20" textLength="124.7" lengthAdjust="spacingAndGlyphs" text-anchor="middle" font-weight="bold" fill="#d2651d">WGA (mucus)</text>
<text x="1226.8" y="28.5" font-size="20" textLength="41.6" lengthAdjust="spacingAndGlyphs" text-anchor="middle" font-weight="bold" fill="#14a01c">DNA</text>
<text x="1322.3" y="28.5" font-size="20" textLength="122.4" lengthAdjust="spacingAndGlyphs" text-anchor="middle" font-weight="bold" fill="#185f95">Microspheres</text>
<rect x="1436.8" y="8.7" width="542.7" height="28.2" fill="#000"/>
<text x="1541.95" y="28.8" font-size="20" textLength="128.5" lengthAdjust="spacingAndGlyphs" text-anchor="middle" font-weight="bold" fill="#8e2a77">UEA1 (mucus)</text>
<text x="1682.35" y="28.8" font-size="20" textLength="124.7" lengthAdjust="spacingAndGlyphs" text-anchor="middle" font-weight="bold" fill="#d2651d">WGA (mucus)</text>
<text x="1780.1" y="28.8" font-size="20" textLength="41.6" lengthAdjust="spacingAndGlyphs" text-anchor="middle" font-weight="bold" fill="#14a01c">DNA</text>
<text x="1875.6" y="28.8" font-size="20" textLength="122.4" lengthAdjust="spacingAndGlyphs" text-anchor="middle" font-weight="bold" fill="#185f95">Microspheres</text>
<rect x="851" y="40.5" width="28.3" height="362.2" fill="#000"/>
<text x="870.55" y="118.2" font-size="20.5" textLength="140.44" lengthAdjust="spacingAndGlyphs" text-anchor="middle" font-weight="bold" fill="#fff" transform="rotate(-90 870.55 118.2)">Confocal image</text>
<text x="870.55" y="294.6" font-size="20.5" textLength="104.84" lengthAdjust="spacingAndGlyphs" text-anchor="middle" font-weight="bold" fill="#fff" transform="rotate(-90 870.55 294.6)">Isosurfaces</text>
<rect x="883.5" y="40.5" width="542.5" height="362.2" fill="#000"/>
<rect x="1436.8" y="41.2" width="542.7" height="362.4" fill="#000"/>
<rect x="884.5" y="408" width="540.5" height="26" fill="#fff" stroke="#000" stroke-width="2"/>
<text x="1159.4" y="427.5" font-size="19.5" textLength="46.27" lengthAdjust="spacingAndGlyphs" text-anchor="middle">WSD</text>
<rect x="1438.5" y="409" width="540.5" height="25" fill="#fff" stroke="#000" stroke-width="2"/>
<text x="1708.9" y="428" font-size="19.5" textLength="120.36" lengthAdjust="spacingAndGlyphs" text-anchor="middle">WSD + <tspan font-style="italic">B.coc</tspan></text>
<g clip-path="url(#cl1)">
<path d="M892,88.45 C895.11,62.15 901.8,68.84 910.69,62.15 C919.57,55.46 931.45,51.3 945.29,48.31 C959.14,45.31 984.28,40.92 993.74,44.15 C1003.2,47.38 996.28,62.61 1002.05,67.69 C1007.82,72.76 1018.2,72.76 1028.35,74.61 C1038.5,76.45 1050.27,79.68 1062.96,78.76 C1075.64,77.84 1092.95,69.53 1104.48,69.07 C1116.02,68.61 1123.63,71.15 1132.17,75.99 C1140.71,80.84 1151.78,77.61 1155.7,98.14 C1159.62,118.67 1164.24,184.66 1155.7,199.19 C1147.17,213.73 1122.25,191.12 1104.48,185.35 C1086.72,179.58 1065.26,169.2 1049.11,164.58 C1032.96,159.97 1021.43,156.51 1007.58,157.66 C993.74,158.82 979.9,164.58 966.06,171.51 C952.21,178.43 934.91,192.27 924.53,199.19 C914.15,206.11 909.19,209.57 903.76,213.03 C898.34,216.5 893.96,240.72 892,219.96 C890.04,199.19 888.88,114.75 892,88.45 Z" fill="#6e1470" filter="url(#b2)"/>
<path d="M899.61,85.68 C903.76,75.3 914.61,66.3 924.53,60.76 C934.45,55.23 948.06,54.53 959.14,52.46 C970.21,50.38 984.05,45.08 990.97,48.31 C997.89,51.54 993.28,66.3 1000.66,71.84 C1008.05,77.38 1022.58,79.91 1035.27,81.53 C1047.96,83.14 1064.11,82.91 1076.8,81.53 C1089.49,80.14 1101.02,72.53 1111.41,73.22 C1121.79,73.91 1131.71,79.68 1139.09,85.68 C1146.47,91.68 1152.93,92.6 1155.7,109.21 C1158.47,125.83 1164.24,174.27 1155.7,185.35 C1147.17,196.42 1121.1,180.04 1104.48,175.66 C1087.87,171.28 1071.03,163.2 1056.03,159.05 C1041.04,154.89 1028.35,150.28 1014.51,150.74 C1000.66,151.2 986.13,157.2 972.98,161.82 C959.83,166.43 945.98,177.97 935.6,178.43 C925.22,178.89 916.68,173.81 910.69,164.58 C904.69,155.36 901.46,136.21 899.61,123.06 C897.77,109.91 895.46,96.06 899.61,85.68 Z" fill="#8a2490" filter="url(#b2)"/>
<path d="M906.53,85.68 C911.84,78.99 926.14,72.99 938.37,69.07 C950.6,65.15 968.36,60.07 979.9,62.15 C991.43,64.22 996.05,77.38 1007.58,81.53 C1019.12,85.68 1035.27,87.3 1049.11,87.07 C1062.96,86.83 1079.11,82.45 1090.64,80.14 C1102.18,77.84 1107.76,68.84 1118.33,73.22 C1128.89,77.61 1148.09,88.91 1154.04,106.45 C1159.99,123.98 1159.99,166.43 1154.04,178.43 C1148.09,190.42 1131.2,180.73 1118.33,178.43 C1105.45,176.12 1090.64,169.2 1076.8,164.58 C1062.96,159.97 1046.81,153.51 1035.27,150.74 C1023.73,147.97 1019.12,147.05 1007.58,147.97 C996.05,148.9 977.59,153.51 966.06,156.28 C954.52,159.05 946.45,167.81 938.37,164.58 C930.3,161.35 922.91,146.13 917.61,136.9 C912.3,127.67 908.38,117.75 906.53,109.21 C904.69,100.68 901.23,92.37 906.53,85.68 Z" fill="#f08a7e" filter="url(#mt1)"/>
<path d="M917.61,88.45 C914.15,82.22 920.61,66.99 924.53,60.76 C928.45,54.53 935.14,51.07 941.14,51.07 C947.14,51.07 955.21,61.23 960.52,60.76 C965.83,60.3 967.9,49.92 972.98,48.31 C978.05,46.69 987.05,46.69 990.97,51.07 C994.9,55.46 998.36,67.22 996.51,74.61 C994.66,81.99 988.44,91.45 979.9,95.37 C971.36,99.29 955.67,99.29 945.29,98.14 C934.91,96.99 921.07,94.68 917.61,88.45 Z" fill="#f08a7e" filter="url(#mt1)" opacity="0.85"/>
<path d="M1056.03,109.21 C1058.34,99.52 1079.11,89.14 1090.64,85.68 C1102.18,82.22 1114.87,83.37 1125.25,88.45 C1135.63,93.53 1148.32,103.45 1152.93,116.14 C1157.55,128.82 1158.7,156.97 1152.93,164.58 C1147.17,172.2 1131.02,165.28 1118.33,161.82 C1105.64,158.36 1087.18,152.59 1076.8,143.82 C1066.42,135.05 1053.73,118.9 1056.03,109.21 Z" fill="#f08a7e" filter="url(#mt2)" opacity="0.9"/>
<path d="M892,219.96 C893.84,216.73 894.19,208.88 899.61,203.34 C905.03,197.81 915.76,191.81 924.53,186.73 C933.3,181.66 942.99,177.04 952.21,172.89 C961.44,168.74 970.67,165.51 979.9,161.82 C989.13,158.12 998.36,151.2 1007.58,150.74 C1016.81,150.28 1023.73,155.59 1035.27,159.05 C1046.81,162.51 1062.96,168.28 1076.8,171.51 C1090.64,174.74 1105.18,176.35 1118.33,178.43 C1131.48,180.5 1149.01,176.58 1155.7,183.96 C1162.39,191.35 1203,216.26 1158.47,222.72 C1113.94,229.18 932.95,223.19 888.54,222.72 C844.12,222.26 890.15,223.19 892,219.96 Z" fill="#22962a" filter="url(#b1)"/>
<path d="M935.6,181.2 C940.22,177.04 966.75,169.2 979.9,164.58 C993.05,159.97 1002.97,153.97 1014.51,153.51 C1026.04,153.05 1036.42,158.12 1049.11,161.82 C1061.8,165.51 1074.49,171.97 1090.64,175.66 C1106.79,179.35 1136.78,180.04 1146.01,183.96 C1155.24,187.89 1157.55,197.12 1146.01,199.19 C1134.48,201.27 1099.87,198.04 1076.8,196.42 C1053.73,194.81 1028.35,190.66 1007.58,189.5 C986.82,188.35 964.21,190.89 952.21,189.5 C940.22,188.12 930.99,185.35 935.6,181.2 Z" fill="#98a496" filter="url(#gs1)"/>
<path d="M892,199.19 L1154.32,199.19 L1154.32,219.96 L892,219.96 Z" fill="#000" filter="url(#dk1)" opacity="0.85"/>
<g filter="url(#bs)" stroke-linecap="round" fill="none"><path d="M926.7 205.7v1.9M975.1 184.8v2.5M976.6 213.2v2.3M968.3 192.4v2.6M1040.2 177.8v1.7M1069.1 198.9v2.7" stroke="#e89a30" stroke-width="1.5" stroke-opacity="0.75"/><path d="M1060.1 202.5v1.8M999.4 172.8v2.1M1060.2 161v2.3M1142.2 164.8v2.6M1023.4 195.3v2.5" stroke="#e89a30" stroke-width="2" stroke-opacity="1"/><path d="M1048.7 201.4v1.5M1078.7 175.1v2.3M957.8 211.4v1.9M1030.7 161.5v2.3" stroke="#d87a20" stroke-width="1.5" stroke-opacity="1"/><path d="M1135.9 209v1.1M1100.4 164.4v1.2" stroke="#e89a30" stroke-width="1" stroke-opacity="0.75"/><path d="M1119.4 196.6v2.4M1041.1 184.1v2.3M945 211.5v1.5M1007 186.5v2.8M958.9 205v1.3M1017.4 168.8v1.9" stroke="#f0a040" stroke-width="2" stroke-opacity="0.75"/><path d="M1134.3 189.5v1.9M1099.3 194.9v2.7M1073.6 186.9v2.1M1123.3 191.7v1.6M1095.3 204.2v2.7M1115.8 185v1.6M973.7 205.5v2.1" stroke="#f0a040" stroke-width="1.5" stroke-opacity="0.75"/><path d="M966.8 160.1v2.2M1099.4 209.1v1.6" stroke="#d87a20" stroke-width="2.5" stroke-opacity="0.75"/><path d="M1133.6 181.8v2.8M1050.6 190.4v2.8M1090.8 188.3v2.7M964.5 174.1v1.4M911.8 189v2.6M902.3 172.5v1.4M1032.1 204.4v1.3M1143.9 160.4v1.3" stroke="#d87a20" stroke-width="1.5" stroke-opacity="0.75"/><path d="M1020.8 211v1.5" stroke="#f0a040" stroke-width="2" stroke-opacity="0.5"/><path d="M1097.7 181.6v2.4M1117.9 175.7v2.4M954.3 199.7v2.5M984.7 185v1.7" stroke="#e89a30" stroke-width="1.5" stroke-opacity="1"/><path d="M1082.5 163.8v2M1042.8 206.6v1.5M979.8 175v1.9" stroke="#d87a20" stroke-width="2" stroke-opacity="1"/><path d="M993.5 185.7v2.5M1109.2 195.8v2.4M1090.1 188.6v1.4" stroke="#e89a30" stroke-width="2" stroke-opacity="0.75"/><path d="M991 205.9v2.4M958.7 172.9v2.1M974.5 165.2v1.3" stroke="#d87a20" stroke-width="2" stroke-opacity="0.75"/><path d="M1022.2 185.7v2" stroke="#f0a040" stroke-width="1.5" stroke-opacity="0.5"/><path d="M1094.9 177.5v1.4M945.3 188.7v2.6" stroke="#d87a20" stroke-width="1" stroke-opacity="0.75"/><path d="M1102.8 159.8v2.7" stroke="#e89a30" stroke-width="1.5" stroke-opacity="0.5"/><path d="M1097.8 187.3v2.3" stroke="#e89a30" stroke-width="2" stroke-opacity="0.5"/><path d="M948.1 208.2v2.8M974.6 180.1v2.7M955.6 163.8v1.3" stroke="#f0a040" stroke-width="1.5" stroke-opacity="1"/><path d="M1020.9 177.2v1.5" stroke="#f0a040" stroke-width="2.5" stroke-opacity="0.5"/><path d="M1108.1 210.3v2" stroke="#f0a040" stroke-width="2.5" stroke-opacity="1"/><path d="M1127 170.8v1.7M1007.2 182.7v1.9M994.1 177.3v2.7" stroke="#f0a040" stroke-width="2" stroke-opacity="1"/><path d="M1041.6 201.1v2.6" stroke="#f0a040" stroke-width="1" stroke-opacity="0.75"/><path d="M1037.6 210.3v1.2" stroke="#f0a040" stroke-width="2.5" stroke-opacity="0.75"/><path d="M1034.2 162.7v2.4" stroke="#e89a30" stroke-width="1" stroke-opacity="0.5"/></g>
<g filter="url(#bs)" stroke-linecap="round" fill="none"><path d="M915.8 137v6.7" stroke="#a05018" stroke-width="4" stroke-opacity="0.5"/><path d="M917.4 164.8v6.5M903 170v4.8M917.6 158.1v6.6" stroke="#a05018" stroke-width="2.5" stroke-opacity="0.75"/><path d="M895.7 119.2v3.7" stroke="#a05018" stroke-width="2.5" stroke-opacity="0.5"/><path d="M911.2 175.5v5.5M905.3 184.2v3.9M896.8 133.2v6.8M914.9 178v6.4" stroke="#c86a20" stroke-width="3" stroke-opacity="0.5"/><path d="M896.2 173.3v6.1M910.8 196.4v6.3" stroke="#c86a20" stroke-width="4" stroke-opacity="0.5"/><path d="M919.9 165.9v6.9M893.8 158.2v6M912.9 195v5.5" stroke="#c86a20" stroke-width="3" stroke-opacity="0.75"/><path d="M905.2 179.9v4.6M899.3 155.3v4.2" stroke="#a05018" stroke-width="3" stroke-opacity="0.75"/><path d="M912.9 151.7v4.5M904.4 155.4v4.3" stroke="#c86a20" stroke-width="2" stroke-opacity="0.75"/><path d="M909.9 159v6.3M905.7 131.7v5.3" stroke="#c86a20" stroke-width="3.5" stroke-opacity="0.75"/><path d="M899.6 133.7v3.9" stroke="#c86a20" stroke-width="2.5" stroke-opacity="0.75"/><path d="M924.2 119.8v4.9" stroke="#a05018" stroke-width="3" stroke-opacity="0.5"/><path d="M910.3 138.3v4.4" stroke="#a05018" stroke-width="2" stroke-opacity="0.75"/><path d="M906.1 174.2v5.6M913.8 163.6v6.1" stroke="#a05018" stroke-width="3.5" stroke-opacity="0.5"/></g>
<g filter="url(#bs)" stroke-linecap="round" fill="none"><path d="M1031 73.7v6.3M1020.5 82v4.6M1013.9 75.3v6.4" stroke="#2080c0" stroke-width="2" stroke-opacity="0.75"/><path d="M1037.7 72.8v7.8M1012.6 73.5v7.7" stroke="#2aa0d0" stroke-width="2" stroke-opacity="0.5"/><path d="M1054.7 81.3v5.3M1051.6 64.6v9.5M1010.9 61.1v8.3" stroke="#40c0e0" stroke-width="1.5" stroke-opacity="0.75"/><path d="M1052.6 68.1v8.4M1013.3 87.9v7.9M1018.7 92.5v4.8M1017.8 73.3v8.6M1031.2 78.2v10.6M1028.1 101.1v5.1" stroke="#2aa0d0" stroke-width="2" stroke-opacity="0.75"/><path d="M1022.5 69.3v10" stroke="#40c0e0" stroke-width="1.5" stroke-opacity="0.5"/><path d="M1041.4 78.4v6.3" stroke="#2080c0" stroke-width="2" stroke-opacity="0.5"/><path d="M1054.1 106.9v5.8M1017.6 61.9v9.2M1062.9 62.9v6.5M1057.7 98.4v5.9M1019.4 79.1v5.1" stroke="#2080c0" stroke-width="1.5" stroke-opacity="0.75"/><path d="M1043.7 69.9v5.8" stroke="#40c0e0" stroke-width="2.5" stroke-opacity="0.75"/><path d="M1067.8 92.5v8.6" stroke="#2080c0" stroke-width="1" stroke-opacity="1"/><path d="M1029 80.1v8.6" stroke="#2aa0d0" stroke-width="2.5" stroke-opacity="0.5"/><path d="M1019.9 106.2v5.2" stroke="#40c0e0" stroke-width="2" stroke-opacity="1"/><path d="M1066.7 81.1v9.2M1031.7 94.3v9" stroke="#2aa0d0" stroke-width="1.5" stroke-opacity="0.5"/><path d="M1014.1 72.5v5.5M1015.5 98.4v6.4" stroke="#40c0e0" stroke-width="2" stroke-opacity="0.5"/><path d="M1053.4 102.4v5" stroke="#40c0e0" stroke-width="1.5" stroke-opacity="1"/><path d="M1068.4 72.8v5.7M1043.4 74.6v10.5M1038.9 65.8v10.1" stroke="#40c0e0" stroke-width="2" stroke-opacity="0.75"/><path d="M1052.9 77.5v4.8" stroke="#2080c0" stroke-width="1.5" stroke-opacity="0.5"/><path d="M1065.1 80.8v4.3" stroke="#2080c0" stroke-width="1.5" stroke-opacity="1"/><path d="M1049.1 73.6v10.1" stroke="#2aa0d0" stroke-width="1" stroke-opacity="0.5"/><path d="M1068.2 89v9.7" stroke="#2aa0d0" stroke-width="1.5" stroke-opacity="0.75"/><path d="M1014.2 74v6" stroke="#2080c0" stroke-width="2" stroke-opacity="1"/><path d="M1068.6 69.5v4.6M1044.9 85.3v6.2" stroke="#2aa0d0" stroke-width="2.5" stroke-opacity="1"/></g>
<g filter="url(#bs)" stroke-linecap="round" fill="none"><path d="M964.5 93.1v3.6M959.2 60.7v8.1M1049.5 59.3v3.1M964.1 52.5v6" stroke="#30a040" stroke-width="2" stroke-opacity="0.5"/><path d="M1128.2 67.4v4.4M1059.1 71.3v5.6M1045.5 100.1v7.8M1011.9 58.5v5.8M1134.5 63.7v7.2M1017.3 105.7v2.8M932.8 61.3v8.2M1054.5 100.2v2.9M1032.4 105v3.4" stroke="#40b8d8" stroke-width="2" stroke-opacity="0.5"/><path d="M1010.8 67.9v8M1098 69.9v5M961.4 98.9v5.1M978.1 89.4v4" stroke="#30a040" stroke-width="2.5" stroke-opacity="0.75"/><path d="M1130.2 94.3v7.6M983.5 52.6v5.8" stroke="#2aa0d0" stroke-width="1.5" stroke-opacity="0.5"/><path d="M902.4 63.1v3.8M1047.5 99v5.8M1136.3 104.4v7.5" stroke="#2aa0d0" stroke-width="2" stroke-opacity="0.75"/><path d="M999.8 90.4v6.6" stroke="#2aa0d0" stroke-width="2.5" stroke-opacity="0.75"/><path d="M1077.2 60.6v3.2M1004.1 104.9v4.7M1088.8 98.5v4.2M918.9 65.7v8.1M1031.6 72.1v3.1" stroke="#2aa0d0" stroke-width="2" stroke-opacity="0.5"/><path d="M913.6 98.4v5.2M998.9 47.7v5.5M1038.6 78.8v2.8" stroke="#30a040" stroke-width="2.5" stroke-opacity="0.5"/><path d="M1135.9 93.8v8.3M1104.6 77.5v6.4M900.1 66.1v4.4M1024.4 83v3.7" stroke="#30a040" stroke-width="1.5" stroke-opacity="0.75"/><path d="M998 99.2v7.6M984.9 94.2v8" stroke="#30a040" stroke-width="2" stroke-opacity="0.25"/><path d="M1148.4 62.9v8.1M1063.7 48.3v7.8" stroke="#40b8d8" stroke-width="2" stroke-opacity="0.75"/><path d="M999.1 85.2v5.3" stroke="#40b8d8" stroke-width="2" stroke-opacity="0.25"/><path d="M930.8 93.8v5.2M911.4 60.3v4.2M1053.7 76.7v4.2" stroke="#2aa0d0" stroke-width="1.5" stroke-opacity="0.25"/><path d="M1065.8 101.2v5.4M1030.9 83.8v5.5M1024.7 59.1v2.9" stroke="#2aa0d0" stroke-width="2.5" stroke-opacity="0.5"/><path d="M1099.9 77.1v3.8" stroke="#2aa0d0" stroke-width="2" stroke-opacity="0.25"/><path d="M1018.9 90.3v5.2M1121.4 105.9v7.3" stroke="#40b8d8" stroke-width="2.5" stroke-opacity="0.5"/><path d="M1084 106.1v7.2M922 70.6v5.1M1127.8 95.9v2.8M1147.2 86.8v5.3M917.4 80.6v3.5M990.2 85.6v7.3" stroke="#30a040" stroke-width="1.5" stroke-opacity="0.5"/><path d="M1113.8 95.4v3.5" stroke="#30a040" stroke-width="2" stroke-opacity="0.75"/><path d="M1009.1 87.1v7.6M979.1 55.4v6" stroke="#40b8d8" stroke-width="2.5" stroke-opacity="0.25"/><path d="M973 77.1v4.7" stroke="#40b8d8" stroke-width="1.5" stroke-opacity="0.5"/><path d="M987.2 51.4v6.7" stroke="#40b8d8" stroke-width="1.5" stroke-opacity="0.75"/></g>
<rect x="1120.4" y="201.9" width="27.6" height="2.8" fill="#fff"/>
<text x="1134" y="213.7" font-size="10.5" textLength="24.36" lengthAdjust="spacingAndGlyphs" text-anchor="middle" fill="#fff">50µm</text>
</g>
<g clip-path="url(#cl2)">
<g filter="url(#bs)" stroke-linecap="round" fill="none"><path d="M1258 109.5v6.3M1256.1 67.5v10.8M1231.9 66.6v10.2" stroke="#1e90c8" stroke-width="1.5" stroke-opacity="0.5"/><path d="M1338 135.2v9.9M1328.4 110.9v8M1345.8 116.4v6.7M1412.4 131.1v7.2M1354.6 123.4v7.3M1399.6 106.9v5.2M1352.7 121.6v6.4M1238.9 92.4v11.1M1357.6 87.6v7.7M1353.3 82.5v4.4" stroke="#1e90c8" stroke-width="1" stroke-opacity="0.5"/><path d="M1166 108.1v7.1M1290.1 102.3v8.8M1400.5 145.8v4.6M1182.8 97.8v7M1395.7 93.1v4.3M1312.6 91.8v9M1252 65.9v7.3M1159.2 103v7.5M1366.6 103.9v7.8M1374.9 95.3v11M1235.1 112.4v7.1M1178.3 67.8v5.6M1161.4 103.7v4.6M1386.7 121.3v10.6M1318.5 91.6v7.5M1355.3 123.6v5.7M1379.6 106.6v4.2M1197.3 89.7v8.5M1249.2 112.7v7.5" stroke="#30c0d8" stroke-width="1" stroke-opacity="1"/><path d="M1169 63.3v8.1M1303.1 103.4v5.3M1314.4 117.4v11M1357.5 79.8v4.6M1279.9 116.8v10.4M1182.4 103.3v9.9M1196.8 73.3v6.8M1378.6 114.3v4.5M1235.2 90v6.5M1314.6 67.1v4.8M1330.7 102.2v8.6M1336.5 138.4v9.2M1335.5 113.2v6.9M1416.2 174.7v8.5M1306.9 101.7v9.9M1373.2 110.4v9.7" stroke="#2aa8d8" stroke-width="1" stroke-opacity="1"/><path d="M1363.1 125.9v9.1M1374.6 154.8v7.1M1416.4 126.6v6.1M1165.5 91v9.1M1290.5 94.1v5.5M1177.4 104.9v10.1M1317.3 133.8v6.9M1198.8 90v11.1M1349.4 82.4v7.5M1362.1 77.9v10.7M1338.1 148.6v4.4M1331.6 78.7v7M1232.8 96.5v6.8M1331.8 117.2v8.5M1345.1 117.8v4.5M1197 100.2v10.4M1408.2 140.9v11.1M1333.8 134.1v6.7M1251.1 86.4v8.1M1301.9 105.4v10.9M1202.2 73.8v10.7M1378.6 102.6v10.8M1271.4 103.5v6.7M1392 96.3v7.3M1218.2 92.4v11M1279.9 125.6v6.8M1352.4 88.6v4.6M1300.5 78.6v7.1M1166.9 87.2v9.3M1277.1 86.5v7.2M1179.5 94v7.1M1285.4 99.1v10.3M1231.1 104v11.1M1367.8 82.2v6.9M1369.2 112.4v5.8M1303.5 79.5v7.2M1193 100.2v8.6M1295.4 119.1v7.5M1262.8 83.5v9.2M1188.8 116.5v8.2M1269.4 97.7v10.5M1411.9 146.4v5.3" stroke="#30c0d8" stroke-width="1" stroke-opacity="0.75"/><path d="M1401 135.2v5.3M1412.2 146.5v4.3M1182 115.8v6.9M1194.1 109.5v10.6M1405.2 174v4.9M1323.1 97.2v4.6M1367.8 84v5.7M1381.8 142.2v10.2M1231.9 84.2v7.3M1419.8 108.3v6.5M1161 63.6v5.9M1285.7 109.5v4.5M1418.3 159.8v5.7M1159.2 91.6v11.1M1345.4 142.9v9.4M1388.1 133.2v7.6M1391.2 166.9v7.4M1216.8 74v11.1M1339.8 74.8v5.2M1221.6 89.6v8.9M1416.3 124.4v6.2M1411.1 136.5v4.3M1318.1 76.1v5.4M1276.2 113.8v8.5M1261.2 62.8v5.5M1182.5 109.9v6.4M1377.4 107.3v8.3M1401.5 109v8.2M1353.5 133.4v6M1164.1 112.7v10.6" stroke="#1e90c8" stroke-width="1" stroke-opacity="0.75"/><path d="M1418.9 155.2v6.7M1371.1 154.8v7.3M1175 111.9v7.7M1163.7 103.1v8.7M1160.3 67v8.2M1226.3 116.8v5.3M1238 106.1v6.5M1168.5 94.7v7.7M1374.5 159.6v10.1M1416.1 92.4v11.2M1300.6 63.1v10.6M1190 102.8v4.4M1353.4 99.9v5.9M1278.4 114.4v5M1386.7 99.8v7.7M1346 119v8.6M1319.8 90.4v7.3M1189 64.3v8.1M1333.4 125.4v10.1M1217.9 92.7v8.3M1163.5 118.4v6.3M1403.4 117.3v4.6" stroke="#1e90c8" stroke-width="1.5" stroke-opacity="0.75"/><path d="M1355.5 95.2v7.8M1158.5 89.6v11M1277.1 94.1v10.1M1349 101.6v9M1298.4 96.2v6M1355 96.5v6.9M1270.9 66.7v9.4M1292.6 93.9v6.4M1261.4 106v6.3M1382.7 163.5v5.1M1402.9 142.6v6.7M1254.6 112.9v6M1181.9 111.7v7.2M1329.9 101.2v10M1233.6 117.7v8.3M1403.5 148.8v10.7M1313.9 78.9v5.5M1292.7 66.9v7.3M1320.4 100.8v10.2M1315.4 137.6v7.1" stroke="#108a30" stroke-width="1.5" stroke-opacity="0.75"/><path d="M1326.4 115.1v8.3M1226.9 77.2v7.8M1302.3 95.2v7.3M1327.4 108.4v4.7M1343.3 130.1v9.8M1353.7 101.9v10.9M1259.4 61.1v11M1170.6 116v6.6M1404.5 148.6v10.1M1340.6 118.4v10.7M1324.8 86.2v8.5" stroke="#18a040" stroke-width="1.5" stroke-opacity="0.5"/><path d="M1283.8 76.3v9.2M1199.9 66.6v7.2M1317.1 79.3v9.6M1204 82.6v9.9M1356.1 121.4v8.9M1358.2 82.1v5M1405.8 159.2v6.7M1252.9 77v10.7M1220.7 108.9v9.9M1169.8 116.9v9.1" stroke="#30c0d8" stroke-width="1.5" stroke-opacity="0.5"/><path d="M1184.1 94.6v7.4M1338.3 144.5v4.9M1309.6 109.1v6.1M1241.9 69.9v7.1M1193.6 88v11.1M1252.4 83.2v6.4M1352.1 116.6v6.6M1159.6 99v6.9M1200.3 80.5v4.9M1245.6 115.5v9.2M1338.5 134.3v9.5" stroke="#18a040" stroke-width="1.5" stroke-opacity="1"/><path d="M1281.4 116.4v7.2M1192.8 79.7v9.7M1174.5 69.4v6M1306.6 72.2v10.2M1411.8 149.2v5.9M1299 88.4v10.3M1356.5 125.4v8.6M1277.7 95.4v10.2M1418.3 117.2v8.7M1404.7 146.1v10.3M1184.2 69.7v8.8" stroke="#108a30" stroke-width="1.5" stroke-opacity="1"/><path d="M1262.5 66v5.2M1376.9 102.3v8.7M1365.2 97.7v8.2M1209 95.2v10.3M1342.6 99.8v9.7M1352.3 99.5v6.5M1333.2 127.4v8.6M1384.7 121.8v5.5M1173.1 98.7v11.1M1386.9 145.1v8.5M1358.8 147v5.7" stroke="#20b050" stroke-width="1.5" stroke-opacity="1"/><path d="M1256.5 63.3v7.4M1206 76.5v11.1M1405.3 123.1v4.8M1306.6 74.3v7.1M1161.4 110.1v7.1" stroke="#1e90c8" stroke-width="1.5" stroke-opacity="1"/><path d="M1256.8 115.8v11M1412.9 158.5v10.8M1331.6 107.5v7.6M1312.5 110.8v4.6M1345.1 121.8v6M1295.8 119.9v7M1396.9 145.4v9.4M1262.3 118.8v7.9M1395.6 88.6v4.5M1164.4 92.6v6M1307.5 73.5v7.8M1401.5 136.7v9.5M1331 83.3v10.7M1272.4 78.4v10.1M1406.3 110.8v9.3M1369.2 91.8v5.6M1283.3 114.3v8.3M1310.4 119.1v9.6M1289.3 112.4v8.4M1365.7 142.6v8.8M1237.3 61v5.4M1249.8 102.9v7.6M1222.8 71.8v7.9" stroke="#108a30" stroke-width="1" stroke-opacity="0.5"/><path d="M1162.9 103.8v5.8M1213.3 72.6v4.3M1384.8 141.5v8.1M1175.9 114.3v4.6M1404.3 88.7v5.4M1192.4 69.4v5.3M1185.2 102.3v5.2M1293.3 130.6v9M1324.9 129.6v6.6M1341.7 116.1v7.8M1383.8 154.8v5.4" stroke="#30c0d8" stroke-width="1.5" stroke-opacity="1"/><path d="M1300.6 83.1v6.6M1201.9 103.5v6.1M1355.5 114.1v10.7M1413.6 122.7v10.4M1380.2 146v7.1M1396.9 121.7v5M1360.1 119.9v4.8M1246.8 93.6v4.8M1316.2 134.1v9.6M1402.6 117.5v5.4M1166.6 68.2v10.2M1268.1 79.5v10.8M1243.9 98.8v4.8M1413.8 112.5v8.7M1323.1 85.3v6.3M1204 95.4v10.4M1369.9 142.9v6.1M1280.4 63.1v6.1M1218.4 92.9v10.9M1417 157.4v7.2M1261.1 75.1v7.1M1195.5 64v10.3" stroke="#20b050" stroke-width="1.5" stroke-opacity="0.75"/><path d="M1292.4 108.2v5.5M1209.2 67.3v6.6M1258.1 70.7v7.6M1377.6 94.3v5.8M1357.2 81.5v10.6M1282.4 128.2v4.5" stroke="#108a30" stroke-width="0.5" stroke-opacity="0.75"/><path d="M1262.3 112.1v8.1M1317.3 138.5v9.4M1284.9 93.3v7.7M1171.5 90.9v10.8M1382 153.6v5M1355.6 85v7.1M1353.7 88.8v7.4M1289.1 101.5v7.5M1388.6 131.9v4.5M1401.5 93.5v8.8M1383.3 122.5v4.4M1271.8 102.1v8.5M1238.5 116.6v6.9M1269 94.9v4.2M1238.1 87.6v9.7M1271.8 111.5v7M1370.7 146.7v10.3M1182 102.4v6.8M1417 126v5.8" stroke="#1478b0" stroke-width="1.5" stroke-opacity="0.75"/><path d="M1326.1 112.6v10.9M1252.5 69v6.4M1306.2 128.9v5.2M1341.7 108.4v7.6M1407.7 112v6.4M1303.5 124.6v5.6M1370.7 146.5v8.8M1362.1 103.2v5.4M1373.4 93.1v8.5M1276.4 69.3v5.1M1170 82.3v9.3M1305.2 107.9v7.8M1406.8 162.5v6.8M1387.8 90.6v6.6M1271.7 95.6v6.3M1383.5 102.9v4.9M1326.1 98.4v10M1226.7 92.9v10.8M1308.1 74.8v9.2" stroke="#1478b0" stroke-width="1" stroke-opacity="0.5"/><path d="M1239.7 86.3v8.1M1177.4 80.7v9.2M1230.3 78.6v7.3M1340.5 101.4v7.1M1357.4 144v4.7M1387.5 142.2v11.1M1202.5 107.8v4.3M1225.8 87.8v8.2M1184 65.4v4.8M1173 68.2v8.3M1316 95.1v7.7M1221.6 65.2v9.6M1305.8 69.2v6.3M1346.8 78.9v5.1" stroke="#20b050" stroke-width="1" stroke-opacity="0.5"/><path d="M1231.2 72.9v6.6M1373.3 107.3v10.2M1244.4 72.9v8.1M1247.2 106.4v8.5M1401.8 129v5.2M1188.4 115.3v10.5M1171.4 113.6v7.3M1362 117.8v9.2M1192.8 68.6v5.1M1301.6 102.1v8.7M1237 86.7v6.1M1169.9 98.2v6M1296.4 122.1v4.4M1382.5 93.7v8M1412.2 98.5v10.9M1373.8 131.6v5.4M1329.6 115.7v8.4M1227.5 96.9v4.3M1388.9 94.2v10M1379.2 99.7v7.4M1189.9 115.1v5M1285.8 98.6v10.2" stroke="#30c0d8" stroke-width="1.5" stroke-opacity="0.75"/><path d="M1195.4 85v4.3M1359.5 105.1v10M1355.7 104.4v4.7M1362.9 110.6v9.1M1290.1 125.9v10.7M1194.9 78.3v10.4M1326.7 74.1v10M1192 66v9M1195.1 67.1v4.9M1294 89.5v6.2M1317.4 103.3v4.5M1348.4 146.9v5.1M1215.7 60.4v9.6M1336.5 109.4v5.6M1411.3 105.3v6.5M1304.5 113.1v4.2M1344.5 104.2v7.3M1312.4 67.7v8.4M1287.3 96.9v7.4M1174.6 81.8v6.5M1221.8 113.4v10.9M1256.6 67.4v10.4M1172.5 112.4v7.3M1369.6 117.2v4.6M1400.1 130.5v6.8M1355.5 138.3v10.2M1396 116.8v5" stroke="#18a040" stroke-width="1" stroke-opacity="0.75"/><path d="M1309.8 133.2v8.2M1325.3 139.2v11M1341.9 136.1v5.6M1395.2 153.5v8.9M1361.7 147.8v9.4M1397.7 156.2v5.4M1159.2 102.8v6.6M1403.7 144.1v10.7M1397.9 155.1v10.2M1255.4 77.7v5.5M1300.5 81.9v4.9M1268.2 92.9v10.6M1383.3 116v9.6" stroke="#1478b0" stroke-width="1" stroke-opacity="1"/><path d="M1264.2 105.6v8M1268.7 109.1v7.8M1385.3 91.2v10.4M1353.3 127.6v10.9M1258 62.6v5.4M1308.8 124.1v10.4M1165.9 107.5v7.5M1306.2 130.3v10.9M1400.7 112.6v7.6M1159.1 100.9v4.4M1233.4 94.7v11.1M1213.2 68.9v9.7M1343.6 86.2v8.6M1301.5 106.8v4.5" stroke="#2aa8d8" stroke-width="1" stroke-opacity="0.5"/><path d="M1204.7 90.7v4.8M1160.3 77.2v7.9M1273.1 119v7.2M1369 100.2v4.4M1264.1 79v7.8M1292.2 103.6v5.4M1346 92.6v6.8M1306.5 67.8v9.7M1329.1 74.3v8M1381.3 140.3v6.9M1336.8 83.1v5.2M1280.3 99.5v8M1365.4 145.9v9.4M1238 105.8v8.2M1379.1 149.3v6.2M1317.8 67.1v8.6M1160.9 113.9v6M1178.5 80.8v6.8M1180 76.3v11M1159.3 107.4v6.8M1339 92.9v9.5M1383.6 136.4v7.8M1384.1 124.6v6.1M1238.1 72.4v8.4M1211.7 114.5v7M1354.9 113.9v5.1M1360.9 153v5M1273.2 73.2v6.7" stroke="#2aa8d8" stroke-width="1" stroke-opacity="0.75"/><path d="M1279.4 88.7v6.8M1326.6 101.6v7.6M1379 105.4v9.6M1213.4 97.5v7.3M1414.2 112.2v10.7M1313.6 112.5v6.9M1392.2 118.3v10.5M1344.8 74.3v11.1M1314.3 91.9v4.3M1395.4 152.4v7.5M1269.2 115.9v8.1" stroke="#108a30" stroke-width="1.5" stroke-opacity="0.5"/><path d="M1294.7 74.4v9.5M1376 117v5M1390 121.8v7.4M1348.3 73.1v10.7M1206.4 98.9v9.8M1290.4 93.2v5.8M1306 67v9.4M1418 162.3v8.8M1365 145.6v6.2M1372.2 107.6v10.5M1214.7 77v9.4M1405.7 150.7v10.7M1319.8 87.3v8.5M1412.4 101.8v6.3M1382.7 93.6v10M1340.3 76.4v9.9M1264 88.6v7.3M1385.6 150.9v10.3M1413 100.3v5.9M1178.1 96.1v8.3M1363.9 96v9.4" stroke="#18a040" stroke-width="1.5" stroke-opacity="0.75"/><path d="M1416 96.3v5.4M1284 105v8.7M1200.5 89.3v5.7M1415.6 100.3v9.2M1300 65v8.6M1255.1 85v7M1307.8 116.5v8.7M1409.7 113.8v6.6M1158.2 74.7v10.5M1292.7 88.8v9.8" stroke="#1e90c8" stroke-width="1" stroke-opacity="1"/><path d="M1283 106.7v8.4M1248.2 99.1v5.7M1307.2 75.4v5.8M1231.7 90.4v7.4M1159.1 106.7v5.4M1390.5 96.3v8.1M1292.1 70v8M1332.1 70.7v7.7M1338.5 73.8v9.1M1419.2 126.1v5.5" stroke="#1478b0" stroke-width="1.5" stroke-opacity="1"/><path d="M1246.2 100.5v4.7M1340 107.3v10.6M1302.7 119.4v7.7M1342.1 93.6v7.5" stroke="#1478b0" stroke-width="0.5" stroke-opacity="0.75"/><path d="M1299.4 92.9v10.6M1177.4 78.1v4.3M1272.7 85.3v7.5M1373.8 107.4v7.8M1262.5 65.9v10.2M1320.5 71.4v6M1329.1 74.3v10.6M1387.3 129.2v7.4M1217 99v6.7M1240 73.3v5.9M1266.5 88.1v8.4M1352.8 116.2v10.9M1246.7 97.1v6.1M1309.2 118v7.2" stroke="#108a30" stroke-width="1" stroke-opacity="1"/><path d="M1418.9 164.8v9.6M1188.1 66.2v7.4M1295.4 73v5.9M1292.5 90.9v9.9M1239.2 108.6v5M1270 111.3v7.8M1313.5 127.7v10.6M1274.8 109.7v11.2M1402.9 95.3v7.4M1217.7 77.9v8.1M1238.4 91.2v6.5M1388.6 147.6v9.7M1405.4 112.5v4.5M1167.5 91.6v6.6M1399.9 109.3v6.2M1355.6 155.2v7M1399.4 94.9v9.2M1299.8 116.8v5.6M1374.4 158.2v9.5M1394 99.2v5.5M1248.9 81.4v7.1M1388 140.8v4.7M1413.6 116.1v8.6M1197.2 110v11M1319.8 71.2v6.9M1362.4 119.2v6.9M1299.4 106.8v7.2M1320.7 127.8v6.2M1216.1 102.9v6M1288.9 109.7v8.7M1221.9 70.1v6M1236.8 88.6v7.6M1396.2 157v4.6M1233.5 69.4v5.5M1183.2 106.8v10.8M1188.5 102.4v6.4" stroke="#1478b0" stroke-width="1" stroke-opacity="0.75"/><path d="M1362.7 97.2v9.3M1314.7 115.6v4.9M1369.7 90.8v4.5M1419.2 132.8v8.5M1306.2 100.6v10.4M1197.7 67.3v6M1169 93.8v8.4M1218.7 117v7.1M1327.7 121.2v8.9M1279 105.6v4.4M1312.5 82.4v4.8M1378.4 78.7v10.7M1355.6 80.1v7.1M1346 125.9v5.2" stroke="#20b050" stroke-width="1" stroke-opacity="1"/><path d="M1166.5 81.8v10.4M1218.7 89.5v5.1M1273.9 69.7v9.8" stroke="#1478b0" stroke-width="0.5" stroke-opacity="0.5"/><path d="M1310.3 134.2v4.9M1289.3 64.3v8.6M1375.9 122.7v7.5" stroke="#18a040" stroke-width="0.5" stroke-opacity="0.5"/><path d="M1321.9 140.4v6.6M1295.4 126.8v6M1285.3 72.9v8.9M1241.9 75.2v9.9M1255.3 94.7v11M1310.7 65v9.8M1282.4 71.8v8.8M1402.4 147.9v6.9M1320.8 106.8v8.7M1391.9 113.8v4.3M1177.7 61.2v5.7M1278.6 62.5v8.7M1236.4 61.1v9.5M1404.5 146.2v9.9M1283.7 68.9v7.2M1329.7 97.6v7.4M1182.4 67.3v9.3M1172.9 65.4v10.8M1294.5 127.8v5M1291.5 78.3v6.2M1318 138.6v8.9M1257.8 111.2v8M1353.3 147.4v6.8M1237.6 86.1v6.2M1305.3 90.3v10.7M1332.9 101v8.7M1265.5 88.1v9.1M1367.8 139.7v7.3M1406.6 148.9v8.9M1296 70.8v10.7" stroke="#108a30" stroke-width="1" stroke-opacity="0.75"/><path d="M1257.2 91.6v10.3M1354 153.1v4.6M1352.3 126.2v8.2M1269.4 111.1v7M1295.1 128.4v8.6M1296.9 121.5v8.1M1413 174.4v9.2M1324 83.6v11M1228.8 61.9v6.3M1383.4 132.7v4.4M1264.6 113.1v9.1M1333.8 101.6v8.1M1240.6 66.5v8.5M1307.3 101.5v5.5M1367.4 143v10.1M1318 87.7v6.4" stroke="#18a040" stroke-width="1" stroke-opacity="1"/><path d="M1338.1 109.9v6.8M1276.5 91.8v4.4M1376 151.5v8M1347.9 116.6v8.8M1167.8 73.9v11M1362.7 102.1v10.1M1303.7 84.5v7.4M1300.2 132.6v10.5M1165.6 79.4v4.5" stroke="#2aa8d8" stroke-width="1.5" stroke-opacity="0.5"/><path d="M1174.5 109.9v6.6M1286.9 116.2v6.2M1389 130.3v10.2" stroke="#2aa8d8" stroke-width="0.5" stroke-opacity="0.75"/><path d="M1250.2 103.5v6.3M1183.5 101.6v7.9M1205 94.6v8.7M1414.8 108.9v5.1M1417 126.1v6.3M1378.9 100.8v6.6M1254.4 69.9v7.2M1206 75.8v6.1M1171.1 80.8v5.6M1341.8 128.8v5.7M1363.7 96.4v9.6M1275.4 89.2v6.4M1377.9 129.9v4.7M1338.5 102.8v5.4M1399.8 89.7v5.2M1245.5 104.4v5.2M1405.8 171.4v6.4M1195.8 74.6v8.3M1195.8 65.1v8.5M1241.4 76.5v8.1M1200.8 80.2v7M1257.9 67.8v4.8M1301.3 122.1v5.9M1225.9 85.5v6.9M1212.9 96.3v5.9M1400.2 141v10.9M1386.4 84.7v4.5" stroke="#20b050" stroke-width="1" stroke-opacity="0.75"/><path d="M1237.2 65.8v7.4M1284.9 102.4v8M1377.8 157.1v7.7M1227.9 66.4v8.4M1306.4 98.9v10.3M1378.8 121.6v5.4M1194.7 86.3v8.3M1270.2 111v7.8M1215.2 67.2v10M1383.4 160.7v6.8M1406.6 135.1v7.6M1337.4 90.7v6.7" stroke="#1478b0" stroke-width="1.5" stroke-opacity="0.5"/><path d="M1381.6 117.8v6.4M1415.7 139v5.8M1237.6 68.2v4.5M1215.4 92.1v10.9M1347.2 137.8v9.2M1288.2 115v8.4M1314.7 137.7v6.7M1307.6 89.7v8.1M1197.3 63.8v8.6M1230.2 109.8v8.2M1388.9 97.5v4.8M1414.2 96.7v10.8M1364.3 123.9v4.5M1339.1 73.5v11.1M1354.5 133.3v6.5M1373.8 131.2v9.5" stroke="#18a040" stroke-width="1" stroke-opacity="0.5"/><path d="M1369.7 125.3v10.3M1162.9 119.3v7.1" stroke="#20b050" stroke-width="0.5" stroke-opacity="0.5"/><path d="M1314.6 72.4v8.9M1271.9 62.9v6M1196.9 96.3v6" stroke="#108a30" stroke-width="0.5" stroke-opacity="0.5"/><path d="M1370.5 77.3v9.1M1398.4 126.4v4.7M1287 117v9.8M1385.1 157.9v9.6M1191.3 113.3v7.4M1193.2 81.9v7.6M1276 91.7v11.1M1283.1 112.6v5.4M1315.7 113.2v10.5M1332.4 78v5.6M1292.2 102v10.6M1371 146.1v9.1M1175.4 66.2v9M1302.3 115.3v10.1" stroke="#20b050" stroke-width="1.5" stroke-opacity="0.5"/><path d="M1195.9 80.9v8.5M1297.9 86v6.3M1243.8 80.9v6.4M1258.5 60.9v7.9M1217.5 106v9.2M1394.5 127.2v5.8M1334.4 95.1v9.6M1416.3 141.4v9.4M1330.8 98.7v10M1263.1 74.9v7.1M1203 85.6v10.4M1384.8 156.9v7.2M1269.7 83.7v6.3M1194.7 82.4v7.8M1312.7 118.6v9.8M1331.1 67.6v10.7" stroke="#2aa8d8" stroke-width="1.5" stroke-opacity="0.75"/><path d="M1371.5 161.9v6.1" stroke="#1e90c8" stroke-width="0.5" stroke-opacity="1"/><path d="M1296.8 129v8.5M1413.2 109v7.5M1381.8 118.5v9.9" stroke="#30c0d8" stroke-width="0.5" stroke-opacity="0.5"/><path d="M1212.6 65.5v9.6M1320.8 92.8v5.7M1182.7 108.5v6M1381.2 107.7v6.9M1185.6 85.7v8.7M1172.3 92.4v5.3M1275 117.3v8M1269.5 90.1v7M1309.2 76.2v5.1M1349.3 147.9v6.2M1316.3 72v8.7M1366.6 99.2v11.2M1168 78.6v8.2M1199.7 75.1v8.4" stroke="#30c0d8" stroke-width="1" stroke-opacity="0.5"/><path d="M1293.6 85v6M1410 164v7.3" stroke="#20b050" stroke-width="0.5" stroke-opacity="0.75"/><path d="M1163 110.1v6.2M1410.5 148.5v5.1M1319.9 96.7v8.5M1371.5 105.7v7M1345.5 77.6v7.2M1404.7 138.6v10.7M1360.2 121.6v10.9M1202.3 72.7v8.5M1299.8 81.5v7.2M1402.5 143.3v10M1275.6 68.6v6.7" stroke="#2aa8d8" stroke-width="1.5" stroke-opacity="1"/><path d="M1281.2 93.1v7.4M1328.7 136v10.1" stroke="#1e90c8" stroke-width="0.5" stroke-opacity="0.75"/><path d="M1302.9 78.8v8.2" stroke="#1478b0" stroke-width="0.5" stroke-opacity="1"/><path d="M1381.7 81.6v7.2" stroke="#18a040" stroke-width="0.5" stroke-opacity="0.75"/><path d="M1369.9 135.7v4.9" stroke="#30c0d8" stroke-width="0.5" stroke-opacity="1"/></g>
<ellipse cx="1202.6" cy="81.53" rx="6.23" ry="6.92" fill="#1a9a2a" filter="url(#b1)"/>
<ellipse cx="1255.2" cy="120.29" rx="6.23" ry="9.69" fill="#1a9a2a" filter="url(#b1)"/>
<ellipse cx="1293.96" cy="135.51" rx="5.54" ry="3.46" fill="#1a9a2a" filter="url(#b1)"/>
<ellipse cx="1320.27" cy="118.9" rx="3.05" ry="5.54" fill="#1a9a2a" filter="url(#b1)"/>
<ellipse cx="1357.64" cy="150.74" rx="4.15" ry="5.54" fill="#1a9a2a" filter="url(#b1)"/>
<path d="M1158.31,219.96 L1163.84,203.34 L1170.76,190.89 L1191.53,182.58 L1212.29,175.66 L1238.59,161.82 L1239.98,153.51 L1246.9,159.05 L1270.43,150.74 L1282.89,152.13 L1288.43,157.66 L1316.11,167.35 L1329.96,174.27 L1357.64,179.81 L1385.33,186.73 L1406.09,182.58 L1419.93,181.2 L1419.93,219.96 Z" fill="#009400" filter="url(#b1)"/>
<path d="M1158.31,203.34 L1419.93,203.34 L1419.93,219.96 L1158.31,219.96 Z" fill="#000" filter="url(#dk1)" opacity="0.5"/>
<rect x="1384.6" y="202.6" width="28.4" height="2.8" fill="#fff"/>
<text x="1399" y="214.4" font-size="10.5" textLength="24.36" lengthAdjust="spacingAndGlyphs" text-anchor="middle" fill="#fff">50µm</text>
</g>
<g clip-path="url(#cl3)">
<path d="M892,263.68 C893.5,247.53 895.57,250.76 901,245.69 C906.42,240.61 917.15,234.38 924.53,233.23 C931.91,232.07 938.37,239.69 945.29,238.76 C952.21,237.84 959.37,227.69 966.06,227.69 C972.75,227.69 981.74,233.92 985.44,238.76 C989.13,243.61 984.51,252.61 988.2,256.76 C991.9,260.91 1002.05,260.91 1007.58,263.68 C1013.12,266.45 1014.51,273.37 1021.43,273.37 C1028.35,273.37 1039.88,267.37 1049.11,263.68 C1058.34,259.99 1068.72,253.3 1076.8,251.22 C1084.87,249.15 1091.79,247.99 1097.56,251.22 C1103.33,254.45 1105.64,264.14 1111.41,270.6 C1117.17,277.06 1126.4,282.6 1132.17,289.98 C1137.94,297.37 1142.32,307.29 1146.01,314.9 C1149.7,322.51 1152.93,328.74 1154.32,335.66 C1155.7,342.58 1164.93,352.97 1154.32,356.43 C1143.71,359.89 1110.48,358.73 1090.64,356.43 C1070.8,354.12 1051.42,345.35 1035.27,342.58 C1019.12,339.82 1009.89,337.97 993.74,339.82 C977.59,341.66 953.37,350.89 938.37,353.66 C923.37,356.43 911.49,358.27 903.76,356.43 C896.04,354.58 893.96,358.04 892,342.58 C890.04,327.13 890.5,279.83 892,263.68 Z" fill="#8a5c98" filter="url(#b1)"/>
<path d="M894.07,263.68 C898,251.68 907.92,252.38 917.61,249.84 C927.3,247.3 940.68,246.84 952.21,248.45 C963.75,250.07 975.28,254.91 986.82,259.53 C998.36,264.14 1008.74,275.22 1021.43,276.14 C1034.12,277.06 1050.27,266.91 1062.96,265.07 C1075.64,263.22 1086.03,259.07 1097.56,265.07 C1109.1,271.06 1122.94,288.6 1132.17,301.06 C1141.4,313.51 1155.24,331.05 1152.93,339.82 C1150.63,348.58 1133.32,352.51 1118.33,353.66 C1103.33,354.81 1079.11,349.28 1062.96,346.74 C1046.81,344.2 1035.27,340.97 1021.43,338.43 C1007.58,335.89 996.05,331.74 979.9,331.51 C963.75,331.28 938.83,338.66 924.53,337.05 C910.22,335.43 899.15,334.05 894.07,321.82 C889,309.59 890.15,275.68 894.07,263.68 Z" fill="#d0a672" filter="url(#b2)" opacity="0.9"/>
<path d="M894.07,263.68 C898,251.68 907.92,252.38 917.61,249.84 C927.3,247.3 940.68,246.84 952.21,248.45 C963.75,250.07 975.28,254.91 986.82,259.53 C998.36,264.14 1008.74,275.22 1021.43,276.14 C1034.12,277.06 1050.27,266.91 1062.96,265.07 C1075.64,263.22 1086.03,259.07 1097.56,265.07 C1109.1,271.06 1122.94,288.6 1132.17,301.06 C1141.4,313.51 1155.24,331.05 1152.93,339.82 C1150.63,348.58 1133.32,352.51 1118.33,353.66 C1103.33,354.81 1079.11,349.28 1062.96,346.74 C1046.81,344.2 1035.27,340.97 1021.43,338.43 C1007.58,335.89 996.05,331.74 979.9,331.51 C963.75,331.28 938.83,338.66 924.53,337.05 C910.22,335.43 899.15,334.05 894.07,321.82 C889,309.59 890.15,275.68 894.07,263.68 Z" fill="#9a6aa8" filter="url(#mt3)" opacity="0.35"/>
<g fill="none" stroke="#e8c880" stroke-width="0.8" opacity="0.75"><ellipse cx="937.6" cy="281.7" rx="2.1" ry="2.7"/><ellipse cx="1084.8" cy="258.1" rx="3.2" ry="4.4"/><ellipse cx="918.6" cy="348.4" rx="2.9" ry="4.3"/><ellipse cx="986.6" cy="297.2" rx="3.3" ry="3.6"/><ellipse cx="1008.7" cy="295.6" rx="4.1" ry="2.3"/><ellipse cx="918.2" cy="285" rx="4.5" ry="2"/><ellipse cx="938" cy="346.3" rx="3.7" ry="2.1"/><ellipse cx="1082.5" cy="322" rx="4.4" ry="2.1"/><ellipse cx="1062.1" cy="297.4" rx="5.4" ry="3.6"/><ellipse cx="1010.2" cy="325" rx="2.3" ry="4.2"/><ellipse cx="1020.5" cy="295.1" rx="3.6" ry="3.9"/><ellipse cx="1040.6" cy="325.9" rx="4.6" ry="2.3"/><ellipse cx="1091.3" cy="307.3" rx="2.6" ry="4.8"/><ellipse cx="948.7" cy="328" rx="3.4" ry="4.2"/><ellipse cx="1047.3" cy="317.9" rx="4" ry="4.8"/><ellipse cx="902.8" cy="319.4" rx="2.4" ry="3.5"/><ellipse cx="933.7" cy="340.4" rx="3.4" ry="3"/><ellipse cx="941.1" cy="312" rx="2.9" ry="3.9"/><ellipse cx="933.5" cy="262.7" rx="2.2" ry="4.1"/><ellipse cx="1027.9" cy="316.2" rx="4.3" ry="4.5"/><ellipse cx="1069.5" cy="348.8" rx="4.7" ry="4.2"/><ellipse cx="1001.2" cy="313" rx="2.7" ry="3"/><ellipse cx="1099.5" cy="340.4" rx="5" ry="2.5"/><ellipse cx="988.4" cy="340" rx="5.4" ry="4"/><ellipse cx="1126.7" cy="344.5" rx="5.2" ry="4.8"/><ellipse cx="1001.5" cy="342.4" rx="2.6" ry="3.8"/><ellipse cx="1055" cy="300.5" rx="3.1" ry="3.9"/><ellipse cx="1023.9" cy="309.6" rx="5" ry="3.5"/><ellipse cx="1017.9" cy="329.1" rx="5.5" ry="4.3"/><ellipse cx="1111.4" cy="324.5" rx="5.9" ry="2.7"/><ellipse cx="928.9" cy="267.7" rx="4.8" ry="2.3"/><ellipse cx="907.8" cy="345.3" rx="4.2" ry="2.2"/><ellipse cx="1022" cy="298.7" rx="2.1" ry="3.5"/><ellipse cx="966.4" cy="326.7" rx="3.9" ry="4.5"/><ellipse cx="973.5" cy="316.3" rx="5.4" ry="4.8"/><ellipse cx="1079.1" cy="280.4" rx="5.2" ry="2.3"/><ellipse cx="1091" cy="264.4" rx="3.4" ry="2.5"/><ellipse cx="943.9" cy="274.7" rx="4.5" ry="2.1"/><ellipse cx="979.1" cy="342" rx="3.5" ry="3.1"/><ellipse cx="1051.2" cy="324.2" rx="5" ry="3.4"/><ellipse cx="1069.8" cy="284.9" rx="5.1" ry="2.1"/><ellipse cx="898.2" cy="337.3" rx="3" ry="4.3"/><ellipse cx="1147.6" cy="321.7" rx="4.9" ry="5"/><ellipse cx="990.3" cy="344.3" rx="4.1" ry="5"/><ellipse cx="944" cy="272.9" rx="3.3" ry="4.3"/><ellipse cx="1080.7" cy="334.4" rx="3" ry="3.2"/><ellipse cx="975.3" cy="336.9" rx="2.8" ry="4"/><ellipse cx="954.7" cy="299" rx="4.9" ry="4.9"/><ellipse cx="1108" cy="344.2" rx="3.3" ry="3.3"/><ellipse cx="1068.2" cy="323.2" rx="4.7" ry="3.5"/><ellipse cx="1071" cy="256.3" rx="3.9" ry="2.3"/><ellipse cx="935.2" cy="272.2" rx="2.7" ry="2.9"/><ellipse cx="994.6" cy="348.9" rx="2.8" ry="3.8"/><ellipse cx="896.5" cy="316.7" rx="5" ry="2.8"/><ellipse cx="902.9" cy="270.6" rx="3.9" ry="4.9"/><ellipse cx="949" cy="284" rx="3.9" ry="3.5"/><ellipse cx="1076.9" cy="277.7" rx="2.6" ry="3.2"/><ellipse cx="1118.5" cy="340.9" rx="5.2" ry="2.7"/><ellipse cx="998.3" cy="296.9" rx="4.9" ry="3.2"/><ellipse cx="893.4" cy="269.9" rx="3.4" ry="2.3"/><ellipse cx="902.7" cy="299.5" rx="2.8" ry="4"/><ellipse cx="974.8" cy="320.3" rx="4" ry="2.6"/><ellipse cx="1100.9" cy="344.5" rx="4.1" ry="3.7"/><ellipse cx="930.7" cy="251.4" rx="5" ry="4.4"/><ellipse cx="938.3" cy="264.7" rx="2.7" ry="3.2"/><ellipse cx="1043.2" cy="337.8" rx="5.3" ry="4.8"/><ellipse cx="1090.2" cy="272.6" rx="2.3" ry="4.2"/><ellipse cx="1013.2" cy="344.2" rx="2.7" ry="4.8"/><ellipse cx="1000.2" cy="338.8" rx="4.3" ry="3.8"/><ellipse cx="939.9" cy="260.3" rx="4.3" ry="4.5"/><ellipse cx="1076.3" cy="271" rx="4.1" ry="2"/><ellipse cx="1105.7" cy="348.6" rx="5" ry="3.6"/><ellipse cx="944.4" cy="302.3" rx="3.6" ry="3.8"/><ellipse cx="989.2" cy="298.9" rx="3.9" ry="2.2"/><ellipse cx="979.1" cy="322.6" rx="3" ry="2.4"/><ellipse cx="970.7" cy="288.8" rx="5.5" ry="2.8"/><ellipse cx="1079.5" cy="266.1" rx="4.2" ry="3.8"/><ellipse cx="1016.7" cy="293.2" rx="4.9" ry="2"/><ellipse cx="906.4" cy="296.3" rx="3.7" ry="2.1"/><ellipse cx="965.7" cy="275.3" rx="2.6" ry="4.1"/><ellipse cx="995.4" cy="306.9" rx="4.8" ry="4.3"/><ellipse cx="1091.2" cy="288.5" rx="4" ry="3.8"/><ellipse cx="914" cy="268" rx="2.1" ry="4.9"/><ellipse cx="914.5" cy="305.5" rx="4.3" ry="2.6"/><ellipse cx="1029.6" cy="308.4" rx="5.6" ry="2.6"/><ellipse cx="921.1" cy="250.3" rx="5.1" ry="3.1"/><ellipse cx="1082.7" cy="311.3" rx="2.6" ry="2.7"/><ellipse cx="1126.4" cy="305.7" rx="4.5" ry="3.6"/><ellipse cx="1043.2" cy="346.5" rx="2.6" ry="2.2"/><ellipse cx="1020.2" cy="348.9" rx="2.8" ry="3.2"/><ellipse cx="982.3" cy="303.2" rx="5.5" ry="4.6"/><ellipse cx="950.3" cy="270.4" rx="4.5" ry="2"/><ellipse cx="933.3" cy="302" rx="4.9" ry="3.5"/><ellipse cx="962.7" cy="263" rx="2.3" ry="3"/><ellipse cx="944.5" cy="294.9" rx="3.6" ry="2.8"/><ellipse cx="1027.6" cy="346.7" rx="3.5" ry="2.1"/><ellipse cx="1087.2" cy="270.2" rx="3.6" ry="4.3"/><ellipse cx="964.6" cy="324.4" rx="2.7" ry="4.1"/><ellipse cx="983.4" cy="321.2" rx="5.9" ry="3.7"/><ellipse cx="989.7" cy="295.7" rx="3.5" ry="2.4"/><ellipse cx="906.9" cy="272.3" rx="4.5" ry="3.1"/><ellipse cx="1037.1" cy="311.3" rx="5.7" ry="2.9"/><ellipse cx="1038" cy="294.4" rx="5.5" ry="3.1"/><ellipse cx="940.4" cy="287.7" rx="4.8" ry="3.4"/><ellipse cx="1055.2" cy="321.8" rx="2.8" ry="3"/><ellipse cx="1111.6" cy="328.1" rx="3.7" ry="4.7"/><ellipse cx="1006.7" cy="294.1" rx="2.3" ry="2.6"/><ellipse cx="921.9" cy="254" rx="5.4" ry="2"/><ellipse cx="1094.5" cy="344.7" rx="3" ry="3.8"/><ellipse cx="1066.5" cy="271.5" rx="5.3" ry="2.1"/><ellipse cx="1090.4" cy="315.6" rx="4.8" ry="2.4"/><ellipse cx="978.3" cy="334" rx="5.3" ry="2.2"/><ellipse cx="971.7" cy="298.7" rx="2.6" ry="3.7"/><ellipse cx="947.3" cy="280.7" rx="4.4" ry="3.7"/><ellipse cx="967.3" cy="279.4" rx="4.2" ry="4.9"/><ellipse cx="1029.3" cy="312.4" rx="5.8" ry="5"/><ellipse cx="971.2" cy="291.7" rx="2.9" ry="2.5"/><ellipse cx="949.4" cy="265.6" rx="4.8" ry="2.2"/><ellipse cx="1105" cy="322.6" rx="2.5" ry="2.9"/><ellipse cx="895.8" cy="292.6" rx="5.9" ry="4.6"/><ellipse cx="907.6" cy="313.3" rx="2.5" ry="3.2"/><ellipse cx="1014.9" cy="316.9" rx="2.9" ry="4.9"/><ellipse cx="1028.6" cy="293.9" rx="3.8" ry="3.7"/><ellipse cx="965.9" cy="316.8" rx="4.1" ry="4.4"/><ellipse cx="1030.9" cy="311.3" rx="4.1" ry="3.6"/><ellipse cx="938.1" cy="253.6" rx="5.5" ry="3.6"/><ellipse cx="977.3" cy="343.1" rx="4.5" ry="4.1"/><ellipse cx="1100.9" cy="301.8" rx="5.9" ry="2.7"/><ellipse cx="947.1" cy="304" rx="5.2" ry="3.2"/><ellipse cx="1079" cy="339.7" rx="2.7" ry="2.1"/><ellipse cx="902.4" cy="302.3" rx="2.5" ry="2.9"/><ellipse cx="1115.1" cy="313.2" rx="5.2" ry="3"/><ellipse cx="947.9" cy="345.6" rx="2.6" ry="2.8"/><ellipse cx="1117.5" cy="327.5" rx="3.4" ry="2.1"/><ellipse cx="948.2" cy="268.2" rx="4.6" ry="2.6"/><ellipse cx="896.2" cy="291.6" rx="5.8" ry="4.1"/><ellipse cx="1122.7" cy="338.1" rx="4.4" ry="3.9"/><ellipse cx="1087.2" cy="335.2" rx="5.4" ry="2.2"/><ellipse cx="997.7" cy="349.1" rx="5.2" ry="3.2"/><ellipse cx="971.9" cy="270.5" rx="4.5" ry="4.6"/><ellipse cx="900.7" cy="254.1" rx="3.8" ry="3.2"/><ellipse cx="1034.2" cy="337.5" rx="5.1" ry="4.5"/><ellipse cx="1048" cy="328.3" rx="5.7" ry="4.1"/><ellipse cx="929" cy="330.2" rx="4.8" ry="4.4"/><ellipse cx="897.1" cy="337.6" rx="5.7" ry="2.7"/><ellipse cx="997.8" cy="337.8" rx="4.4" ry="2.5"/><ellipse cx="912.9" cy="270" rx="5.3" ry="3.7"/><ellipse cx="1133.9" cy="323" rx="5.4" ry="3.1"/><ellipse cx="1079.8" cy="273.1" rx="2.4" ry="3.8"/><ellipse cx="982.8" cy="347.1" rx="6" ry="3.3"/><ellipse cx="999.8" cy="319.3" rx="2.3" ry="4.4"/><ellipse cx="1056.2" cy="316.5" rx="5.5" ry="3.8"/><ellipse cx="975.5" cy="269.9" rx="5.9" ry="3.1"/><ellipse cx="1068.2" cy="289.3" rx="2.8" ry="4.9"/><ellipse cx="976.6" cy="308" rx="5.7" ry="4.8"/><ellipse cx="916.2" cy="270" rx="3.8" ry="3.7"/><ellipse cx="944" cy="284.2" rx="3.8" ry="4.5"/><ellipse cx="970.6" cy="303.6" rx="2.3" ry="3.7"/><ellipse cx="926.2" cy="283.8" rx="3.5" ry="4.7"/><ellipse cx="1066.4" cy="265.3" rx="3" ry="2.7"/><ellipse cx="1077.1" cy="288.7" rx="4.5" ry="4.2"/><ellipse cx="971.1" cy="303.1" rx="5.4" ry="3"/><ellipse cx="1022" cy="335.8" rx="2.1" ry="3.2"/><ellipse cx="1072.4" cy="295.7" rx="5.5" ry="2.3"/><ellipse cx="1112.7" cy="294.6" rx="5.3" ry="3.3"/><ellipse cx="940.2" cy="322.2" rx="2.9" ry="2.6"/><ellipse cx="1082.5" cy="332.5" rx="2.9" ry="3.2"/><ellipse cx="1072.9" cy="287.3" rx="4.4" ry="2.4"/><ellipse cx="1065.3" cy="349" rx="5.2" ry="2.8"/><ellipse cx="957.1" cy="333.7" rx="5.5" ry="2.2"/><ellipse cx="1006.2" cy="330" rx="5.4" ry="3"/><ellipse cx="914.9" cy="269.1" rx="5.8" ry="2.7"/><ellipse cx="984.7" cy="336.5" rx="4.3" ry="4.9"/><ellipse cx="1103.2" cy="267.6" rx="3.8" ry="4.3"/><ellipse cx="900.3" cy="276.6" rx="3.2" ry="2.3"/><ellipse cx="900.4" cy="331.8" rx="5.3" ry="3.4"/><ellipse cx="1010" cy="317.3" rx="3.7" ry="3.1"/><ellipse cx="1121.1" cy="319.5" rx="3.6" ry="2.3"/><ellipse cx="1111.8" cy="330.5" rx="3.4" ry="3.2"/><ellipse cx="1019.1" cy="347.9" rx="4.6" ry="4.5"/><ellipse cx="929.5" cy="271.7" rx="4.9" ry="2"/><ellipse cx="1150.8" cy="325.5" rx="5.7" ry="3.5"/><ellipse cx="982" cy="342.3" rx="2.4" ry="2.6"/><ellipse cx="1073.3" cy="315.5" rx="4.2" ry="4.4"/><ellipse cx="958.5" cy="324.7" rx="2.4" ry="4.3"/><ellipse cx="1112.1" cy="308.3" rx="2.6" ry="3.4"/><ellipse cx="952" cy="282.8" rx="4.2" ry="4.2"/><ellipse cx="926.2" cy="307" rx="3.6" ry="4.2"/><ellipse cx="1113.8" cy="253.9" rx="4.8" ry="2.1"/><ellipse cx="904" cy="298.4" rx="4.9" ry="3.4"/><ellipse cx="1023.6" cy="307.1" rx="3.6" ry="4.3"/><ellipse cx="958.6" cy="258.4" rx="5.8" ry="4.3"/><ellipse cx="974.8" cy="318.9" rx="2.2" ry="3.9"/><ellipse cx="976.4" cy="272.7" rx="3.7" ry="2.7"/><ellipse cx="966.4" cy="250.5" rx="2.9" ry="3.2"/><ellipse cx="970.9" cy="292.6" rx="4" ry="3.8"/><ellipse cx="1093.5" cy="251.8" rx="3.8" ry="4.8"/><ellipse cx="1003.3" cy="333.5" rx="2.9" ry="3.1"/><ellipse cx="1063.1" cy="335" rx="4.2" ry="3.9"/><ellipse cx="899" cy="272.6" rx="5" ry="3.1"/><ellipse cx="903.4" cy="324.3" rx="2.3" ry="3.9"/><ellipse cx="916.6" cy="346.9" rx="2.9" ry="2.3"/><ellipse cx="926.4" cy="286.9" rx="3.1" ry="3.5"/><ellipse cx="1090.7" cy="279.4" rx="2.5" ry="4"/><ellipse cx="965.5" cy="338" rx="5.7" ry="3.5"/><ellipse cx="1032" cy="313.1" rx="2.8" ry="4.2"/><ellipse cx="937" cy="309.5" rx="6" ry="4.8"/><ellipse cx="911.1" cy="338.1" rx="3.1" ry="4.7"/><ellipse cx="992.6" cy="331.1" rx="3.5" ry="4.7"/><ellipse cx="986.8" cy="307.3" rx="2.5" ry="4.2"/><ellipse cx="934.3" cy="319.8" rx="2" ry="2.4"/><ellipse cx="945.1" cy="308.7" rx="2.2" ry="4.3"/><ellipse cx="926.6" cy="299.6" rx="2.4" ry="3.2"/><ellipse cx="991.2" cy="328.4" rx="4.4" ry="2.4"/><ellipse cx="1041.9" cy="326.7" rx="3.3" ry="4.7"/><ellipse cx="1077.3" cy="310.7" rx="2.3" ry="4.3"/><ellipse cx="1061.6" cy="345.9" rx="2.8" ry="4.3"/><ellipse cx="1103.2" cy="332.9" rx="5.7" ry="4.5"/><ellipse cx="920.1" cy="316.3" rx="2.1" ry="4.8"/><ellipse cx="1035.6" cy="335.8" rx="4.4" ry="2.8"/><ellipse cx="1130.2" cy="336.1" rx="2.1" ry="2.6"/><ellipse cx="937.8" cy="346.4" rx="2.5" ry="3.1"/><ellipse cx="1064.6" cy="319.4" rx="3.2" ry="3.8"/><ellipse cx="949" cy="255.3" rx="2.9" ry="3.3"/><ellipse cx="953.6" cy="264.8" rx="2" ry="3.4"/><ellipse cx="931.2" cy="343.3" rx="3.9" ry="4.3"/><ellipse cx="1073" cy="311.7" rx="4.4" ry="4"/><ellipse cx="1000.9" cy="337.2" rx="5.6" ry="4.2"/><ellipse cx="989.7" cy="300.3" rx="2" ry="3"/><ellipse cx="918.9" cy="285.2" rx="2.2" ry="4.6"/><ellipse cx="1069.3" cy="275.5" rx="4.9" ry="2.4"/><ellipse cx="1151.3" cy="312.1" rx="2.2" ry="3.7"/><ellipse cx="974" cy="300.7" rx="4.7" ry="4.1"/><ellipse cx="970.2" cy="276.8" rx="3.1" ry="3.5"/><ellipse cx="1111.2" cy="286" rx="3.2" ry="3.7"/><ellipse cx="1021.5" cy="349.2" rx="5.9" ry="4.3"/><ellipse cx="989.5" cy="307.8" rx="4.3" ry="3.6"/><ellipse cx="1047.9" cy="348.1" rx="3.9" ry="4.8"/><ellipse cx="975.3" cy="336" rx="4.1" ry="2.7"/><ellipse cx="1129.2" cy="346.2" rx="3.4" ry="3.6"/><ellipse cx="1124.3" cy="316.7" rx="5" ry="3.8"/><ellipse cx="946.5" cy="253.3" rx="4.5" ry="2.6"/><ellipse cx="1111.1" cy="283.1" rx="2.7" ry="2.7"/><ellipse cx="1001.4" cy="301.1" rx="4" ry="2.4"/><ellipse cx="1013.7" cy="342.2" rx="4.2" ry="2.4"/><ellipse cx="896.3" cy="292.9" rx="5.3" ry="2.8"/><ellipse cx="982.4" cy="344.3" rx="3.8" ry="3.9"/><ellipse cx="1019.6" cy="298.7" rx="4" ry="3.9"/><ellipse cx="981.2" cy="297.9" rx="4.7" ry="3.2"/><ellipse cx="928.5" cy="318.4" rx="2.1" ry="2.5"/><ellipse cx="1053.3" cy="340.4" rx="5.7" ry="3.2"/><ellipse cx="1078.1" cy="286.3" rx="4.1" ry="3.2"/><ellipse cx="922.8" cy="314.6" rx="3.4" ry="2"/><ellipse cx="948.1" cy="329.5" rx="2.3" ry="3.7"/><ellipse cx="947.4" cy="349" rx="4.1" ry="3.4"/><ellipse cx="897.9" cy="263" rx="2.7" ry="2.7"/><ellipse cx="1114" cy="293.9" rx="2.6" ry="3.9"/><ellipse cx="963.6" cy="287.5" rx="2.8" ry="3"/><ellipse cx="968.3" cy="252.3" rx="3.5" ry="3.5"/><ellipse cx="1089.9" cy="313.1" rx="2.9" ry="5"/><ellipse cx="1037.9" cy="307.4" rx="2.7" ry="3.5"/><ellipse cx="940.9" cy="309.6" rx="3.3" ry="3.5"/><ellipse cx="1085.6" cy="328.2" rx="2.8" ry="4.5"/><ellipse cx="1106.4" cy="341.6" rx="2.9" ry="3.9"/><ellipse cx="955.7" cy="325.4" rx="4.3" ry="4.7"/><ellipse cx="1052.5" cy="294.5" rx="5.4" ry="3.7"/><ellipse cx="991.1" cy="319.8" rx="4.9" ry="4.3"/><ellipse cx="1029.9" cy="306.9" rx="4.7" ry="2.5"/><ellipse cx="952.9" cy="256.9" rx="3.3" ry="2.2"/><ellipse cx="925.4" cy="265.1" rx="5.4" ry="4.3"/><ellipse cx="943.6" cy="309.3" rx="3.1" ry="3.1"/><ellipse cx="904" cy="300.5" rx="5.9" ry="2.2"/><ellipse cx="1089.3" cy="343" rx="5.5" ry="2.6"/><ellipse cx="1086.8" cy="274.9" rx="4.9" ry="2.6"/><ellipse cx="934.3" cy="327.9" rx="3.1" ry="3.2"/><ellipse cx="1149.5" cy="334.7" rx="3.5" ry="2.2"/><ellipse cx="1033.8" cy="295.5" rx="2" ry="2.4"/><ellipse cx="943.8" cy="263" rx="4.6" ry="4"/><ellipse cx="895.1" cy="317.4" rx="3.5" ry="2.1"/><ellipse cx="1057.4" cy="306.7" rx="2.6" ry="3.9"/><ellipse cx="1145.2" cy="317.2" rx="2.8" ry="4.6"/><ellipse cx="1004.3" cy="296" rx="2.3" ry="4"/><ellipse cx="932.9" cy="337.9" rx="3.7" ry="2.6"/><ellipse cx="1006" cy="332.2" rx="5.3" ry="4.9"/><ellipse cx="1089.1" cy="310.8" rx="3.1" ry="2.6"/><ellipse cx="904.3" cy="329.4" rx="3" ry="3.5"/><ellipse cx="915.4" cy="336.3" rx="5.2" ry="2.4"/><ellipse cx="914.7" cy="269.2" rx="4" ry="3.3"/><ellipse cx="903.7" cy="343.5" rx="5.6" ry="3.5"/><ellipse cx="945.4" cy="267.6" rx="2.9" ry="4.6"/><ellipse cx="993.5" cy="323.5" rx="4.8" ry="3.8"/><ellipse cx="996.8" cy="333" rx="4.9" ry="4.6"/><ellipse cx="1128.2" cy="321.4" rx="2.2" ry="2.8"/><ellipse cx="907.8" cy="272.4" rx="2.9" ry="3.9"/><ellipse cx="943.6" cy="253.9" rx="3.2" ry="4.3"/><ellipse cx="1054.2" cy="305.7" rx="5.9" ry="2.1"/><ellipse cx="1068.3" cy="265.2" rx="2.6" ry="3.9"/><ellipse cx="905.1" cy="340.2" rx="3" ry="2.6"/><ellipse cx="901" cy="275.6" rx="2.9" ry="2.4"/><ellipse cx="907.8" cy="307.7" rx="3.7" ry="2.1"/><ellipse cx="1128.7" cy="328.4" rx="2.9" ry="3.7"/><ellipse cx="1145.1" cy="322.5" rx="3.1" ry="4.8"/><ellipse cx="920.8" cy="333.1" rx="4.1" ry="3.2"/><ellipse cx="1037.4" cy="312.4" rx="5.4" ry="3.9"/><ellipse cx="921.8" cy="325.6" rx="3.1" ry="4.9"/><ellipse cx="904.7" cy="334.4" rx="2.8" ry="3.9"/><ellipse cx="1056" cy="336.7" rx="5.9" ry="4.6"/><ellipse cx="905.5" cy="321.7" rx="5.9" ry="4.8"/><ellipse cx="937.5" cy="264.7" rx="5.9" ry="2.7"/><ellipse cx="925.2" cy="276.5" rx="6" ry="2.5"/><ellipse cx="907" cy="343.7" rx="4.8" ry="2.1"/><ellipse cx="929.5" cy="250.6" rx="4.7" ry="4.8"/><ellipse cx="901.2" cy="251.3" rx="2.7" ry="2.1"/><ellipse cx="904.7" cy="300.2" rx="5.8" ry="3.3"/><ellipse cx="963.1" cy="300.6" rx="5.4" ry="4.7"/><ellipse cx="1097.9" cy="309" rx="4.5" ry="2.7"/><ellipse cx="1090.7" cy="293.5" rx="2.1" ry="4.3"/><ellipse cx="1078.2" cy="296" rx="4.9" ry="3.2"/><ellipse cx="931.3" cy="268.6" rx="2.7" ry="3"/><ellipse cx="949.4" cy="322.9" rx="2.4" ry="4.2"/></g>
<path d="M888.54,368.89 C892.14,363.9 916.78,354.63 924.53,350.89 C932.28,347.15 959.14,334 966.06,331.51 C972.98,329.02 986.82,325.56 993.74,325.97 C1000.66,326.39 1026.96,333.31 1035.27,335.66 C1043.58,338.02 1068.49,346.74 1076.8,349.51 C1085.1,352.27 1110.3,362.8 1118.33,363.35 C1126.36,363.9 1153.21,351.31 1157.09,355.04 C1160.96,358.78 1183.94,396.16 1157.09,400.72 C1130.23,405.29 915.39,403.91 888.54,400.72 C861.68,397.54 884.94,373.87 888.54,368.89 Z" fill="url(#tealtop)" filter="url(#bump)"/>
<path d="M888.54,395.19 C890.75,392.83 905.01,379.82 910.69,377.19 C916.36,374.56 936.99,370.13 945.29,368.89 C953.6,367.64 985.44,364.18 993.74,364.73 C1002.05,365.29 1023.5,372.35 1028.35,374.42 C1033.19,376.5 1038.04,384.67 1042.19,385.5 C1046.34,386.33 1064.34,382.45 1069.88,382.73 C1075.41,383.01 1092.72,388.68 1097.56,388.27 C1102.41,387.85 1114.17,380.1 1118.33,378.58 C1122.48,377.05 1135.21,373.04 1139.09,373.04 C1142.97,373.04 1155.29,375.81 1157.09,378.58 C1158.89,381.34 1183.94,398.51 1157.09,400.72 C1130.23,402.94 915.39,401.28 888.54,400.72 C861.68,400.17 886.32,397.54 888.54,395.19 Z" fill="url(#tealfront)"/>
<path d="M952.21,402.11 L979.9,395.19 L1021.43,393.8 L1049.11,400.72 Z" fill="#000"/>
<g fill="none" stroke="#b07ac0" stroke-width="0.7" opacity="0.7"><ellipse cx="1086.8" cy="377.54" rx="1.82" ry="4.47"/><ellipse cx="1026.17" cy="373.83" rx="3.63" ry="2.64"/><ellipse cx="1038.75" cy="356.49" rx="1.92" ry="3.45"/><ellipse cx="1107.07" cy="345.89" rx="3.92" ry="5.86"/><ellipse cx="1027.25" cy="351.3" rx="3.15" ry="2.66"/><ellipse cx="1069.55" cy="346.53" rx="1.94" ry="4.11"/><ellipse cx="1009.78" cy="344.65" rx="3.08" ry="2.82"/><ellipse cx="1088.15" cy="370.77" rx="3.14" ry="4.67"/><ellipse cx="1019.8" cy="340.31" rx="2.42" ry="2.02"/><ellipse cx="962.36" cy="365.93" rx="3.39" ry="5.93"/><ellipse cx="1092.96" cy="386.65" rx="3.98" ry="5.62"/><ellipse cx="1089.46" cy="389.14" rx="1.71" ry="4.3"/><ellipse cx="976.83" cy="336.23" rx="1.95" ry="3.44"/><ellipse cx="1128.04" cy="343.22" rx="2.42" ry="3.66"/><ellipse cx="1064.03" cy="356.26" rx="3.6" ry="5.24"/><ellipse cx="1133.91" cy="361.97" rx="3.81" ry="4.82"/><ellipse cx="1103.13" cy="357.56" rx="2.93" ry="3.55"/><ellipse cx="1027.91" cy="383.68" rx="1.77" ry="3.79"/><ellipse cx="982.03" cy="376.58" rx="3.47" ry="3.92"/><ellipse cx="1047.29" cy="341.37" rx="3.56" ry="3.5"/><ellipse cx="1101.9" cy="353.98" rx="2.79" ry="2.13"/><ellipse cx="1059.86" cy="334.63" rx="3.06" ry="5.66"/><ellipse cx="962.74" cy="359.1" rx="2.28" ry="5.3"/><ellipse cx="1123.87" cy="340.37" rx="2.33" ry="2.97"/><ellipse cx="966.06" cy="347.65" rx="3.84" ry="2.1"/><ellipse cx="1148.08" cy="370.38" rx="2.62" ry="4.49"/><ellipse cx="1019.78" cy="349.33" rx="1.83" ry="5.22"/><ellipse cx="1141.26" cy="376.43" rx="2.89" ry="4.45"/><ellipse cx="1124.95" cy="349.02" rx="3.11" ry="2.7"/><ellipse cx="1147.11" cy="332.49" rx="3.51" ry="2.07"/><ellipse cx="1065.31" cy="389.25" rx="1.85" ry="4.65"/><ellipse cx="1148.63" cy="362.15" rx="2.63" ry="3.05"/><ellipse cx="1023.54" cy="336.25" rx="2.55" ry="4.55"/><ellipse cx="1042.3" cy="332.21" rx="3.04" ry="5.9"/><ellipse cx="1126.14" cy="362.45" rx="1.52" ry="2.46"/><ellipse cx="1033.74" cy="389.06" rx="3.26" ry="3.17"/><ellipse cx="1042.46" cy="351.56" rx="2.6" ry="3.74"/><ellipse cx="976.2" cy="365.37" rx="2.24" ry="3.17"/><ellipse cx="972.59" cy="370.41" rx="1.76" ry="4.72"/><ellipse cx="1097.87" cy="361.82" rx="3.41" ry="5.1"/><ellipse cx="1107.4" cy="340.96" rx="3.64" ry="5.8"/><ellipse cx="1059.22" cy="331.05" rx="3.47" ry="5.91"/><ellipse cx="1067.86" cy="361.22" rx="1.73" ry="3.83"/><ellipse cx="1000.89" cy="352.08" rx="1.78" ry="2.93"/><ellipse cx="1137.25" cy="388.87" rx="1.91" ry="5.87"/><ellipse cx="998.53" cy="345.7" rx="3.82" ry="4.44"/><ellipse cx="1009.34" cy="332.79" rx="2.32" ry="3.93"/><ellipse cx="1044.56" cy="332.91" rx="2.66" ry="3.45"/><ellipse cx="1025.36" cy="341.78" rx="3.53" ry="2.61"/><ellipse cx="1132.7" cy="382.06" rx="3.63" ry="3.64"/><ellipse cx="1010.22" cy="370.7" rx="3.17" ry="2.49"/><ellipse cx="1002.8" cy="374.29" rx="2.68" ry="2.55"/><ellipse cx="1066.55" cy="360.92" rx="2.38" ry="3.13"/><ellipse cx="1103.48" cy="339.73" rx="2.42" ry="5.21"/><ellipse cx="1001.01" cy="332.83" rx="2.15" ry="3.33"/><ellipse cx="994.98" cy="347.04" rx="3.02" ry="3.52"/><ellipse cx="998.6" cy="372.04" rx="2.39" ry="4.77"/><ellipse cx="1053.33" cy="347.04" rx="3.71" ry="3.03"/><ellipse cx="1044.32" cy="369.12" rx="3.44" ry="2.82"/><ellipse cx="1032.73" cy="377.92" rx="2.89" ry="2.45"/><ellipse cx="1033.64" cy="376.07" rx="2.06" ry="2.27"/><ellipse cx="966.55" cy="367.99" rx="3.1" ry="4.91"/><ellipse cx="1108.45" cy="372.05" rx="3.94" ry="5.32"/><ellipse cx="1016.44" cy="375.49" rx="2.14" ry="4.62"/><ellipse cx="1073.1" cy="353.37" rx="1.59" ry="5.46"/><ellipse cx="1144.77" cy="379.05" rx="2.19" ry="2.15"/><ellipse cx="1107.45" cy="344.14" rx="3.69" ry="4.92"/><ellipse cx="1089.23" cy="350.34" rx="2.63" ry="5.97"/><ellipse cx="1102.93" cy="352.88" rx="1.74" ry="4.18"/><ellipse cx="1139.2" cy="370.94" rx="3.4" ry="5.16"/></g>
<rect x="1121.8" y="381.3" width="26.3" height="2.8" fill="#fff"/>
<text x="1135" y="393.1" font-size="10.5" textLength="24.36" lengthAdjust="spacingAndGlyphs" text-anchor="middle" fill="#fff">50µm</text>
</g>
<g clip-path="url(#cl4)">
<g stroke="#d8d0cc" stroke-linecap="round" fill="none"><path d="M1401.6 335.4h0M1357.2 283.5h0M1190.5 293.1h0M1361.5 281.4h0M1351.5 339.8h0M1344.7 297.4h0M1319.7 268.6h0M1339.6 275h0M1280.2 324.3h0M1176.3 297.2h0M1374.4 296.4h0M1282.3 258.3h0M1357.7 316.3h0M1398.5 311.3h0M1179.2 240.8h0M1264.1 321.5h0M1333 296.8h0M1349.3 296.8h0M1401.7 312h0M1264.3 341.1h0M1275.3 292.1h0M1271.8 319.7h0M1390.6 312.4h0M1243.1 258.2h0M1282.8 286h0M1231.5 274.8h0M1182.5 253h0M1181.6 249.4h0M1287.6 303.3h0M1215.5 269.3h0M1346.4 340.4h0M1381.2 334.4h0M1321.9 280.5h0M1276.4 311.8h0M1208.9 235h0M1197.2 269.7h0M1171.5 235.5h0M1320.1 293.2h0M1296.2 269.7h0M1202.4 256.9h0M1200.7 261.4h0M1360 315.8h0M1363.1 343.7h0M1175.4 242.3h0M1298.5 267h0M1416.1 236.8h0M1213.9 247.4h0M1273.8 305.9h0M1200.5 283.7h0M1278.4 315.1h0M1246.5 250h0M1327.9 241.5h0M1277.4 325.8h0M1168.9 287.4h0M1386.6 341.1h0M1375.2 245.9h0M1331.7 272.2h0M1305.3 311.5h0M1338 255.5h0M1370.1 324.5h0M1332.1 325h0M1183.5 275.5h0M1242.2 299.8h0M1272.6 322.9h0M1307.7 249.5h0M1408.4 300.9h0M1193.7 283.9h0M1322.8 303.5h0M1273.1 249.5h0M1264.1 290.6h0M1338.6 230.8h0M1184.5 260.6h0M1257.1 292.1h0M1393.6 276.9h0M1275.1 264h0M1417.2 299.1h0M1194.4 294.5h0M1259.6 268h0M1234.1 275h0M1337.5 273.6h0M1238.7 284.3h0M1347.2 329.9h0M1388.8 298.6h0M1351.9 285h0M1345.1 263.7h0M1417.5 315.9h0M1266.8 264.8h0M1226.6 297.1h0M1197.5 287.9h0M1214.5 266.1h0M1326.6 305.6h0M1183.6 260.7h0M1267.2 263.6h0M1295.6 300.3h0M1359.8 317.8h0M1319.4 311h0M1163.2 272.2h0M1338.2 283.5h0M1312.3 231.4h0M1260.1 236.9h0M1397.6 299.7h0M1299.7 275.5h0M1354.2 254.6h0M1276.9 310.6h0M1332.7 336.6h0M1161 333.3h0M1286.1 313.6h0M1217.1 247.4h0M1270.8 332.7h0M1387.6 333.4h0" stroke-width="1.5"/><path d="M1164.2 277.8h0M1245.2 252.8h0M1266.5 268.9h0M1250.5 251.9h0M1264.2 339h0M1390.3 296.6h0M1358.9 319.8h0M1338 328.9h0M1413.8 310.7h0M1298.9 323.3h0M1162.8 272.3h0M1272.3 303.8h0M1363 236.7h0M1211.5 273.5h0M1251.7 310.3h0M1387.2 270.1h0M1403.5 341.8h0M1375.9 336.9h0M1409 297.4h0M1346.1 333.3h0M1279.6 328.4h0M1208.9 252.4h0M1238.5 341.4h0M1332.2 288.9h0M1256 319.8h0M1253.3 314.8h0M1172.2 303h0M1194.1 296.2h0M1409.4 289h0M1196.9 268.8h0M1291.4 278.9h0M1253.2 295.6h0M1207.1 239.2h0M1209.1 262.2h0M1280.1 297.7h0M1357.7 336h0M1318.3 234.1h0M1376 239.6h0M1373.4 327.6h0M1161.7 269.8h0M1371 288.2h0M1181.7 261.5h0M1363.4 326.9h0M1265.2 284.7h0M1262.4 295.3h0M1171.8 262.4h0M1180.4 302.9h0M1360.3 271h0M1223.6 319.6h0M1406.3 247.1h0M1259 294.7h0M1175.5 322.9h0M1399.6 291.8h0M1254.7 246.9h0M1303.4 306.1h0M1385.9 294.9h0M1263.1 318.4h0M1387.1 305.6h0M1340.9 287.4h0M1347.6 340.9h0M1169.1 280.8h0M1161.1 234.6h0M1177.4 228.4h0M1330.4 335h0M1271.2 298.6h0M1311.4 322.9h0M1287.3 287.4h0M1385.4 231.7h0M1344.2 291.9h0M1231.7 246.8h0M1304.4 264.2h0M1380.5 286.8h0M1244.9 247.7h0M1194 293h0M1398.3 231.4h0M1243.3 306.6h0M1312.7 327.7h0M1188.2 232.9h0M1256.2 254.5h0M1344.2 336h0M1213.8 305.1h0M1319.3 281.7h0M1172.5 278.7h0M1258.7 256.3h0M1244.5 253.5h0M1253 286.3h0M1414.3 274.2h0M1409.5 301.9h0M1298.4 242.3h0M1176 241.4h0M1197.6 280.9h0M1256.6 263.7h0M1281.6 237.5h0M1226.2 239.8h0M1201.8 271.5h0M1374.5 239.5h0M1282.6 298.6h0M1211.4 237.8h0M1195 245h0M1267.9 278.3h0M1298.4 328.1h0M1221.4 239.5h0M1242.9 263.2h0M1333.3 271h0M1413.8 334.7h0M1379.3 304.1h0M1397 320.9h0" stroke-width="1.25"/><path d="M1409.3 265.3h0M1329.9 304.3h0M1196.2 272.2h0M1301.1 301.3h0M1384.5 317.5h0M1254.8 322.7h0M1288.2 284.1h0M1204.9 294.3h0M1227.9 264.6h0M1214.2 270.7h0M1196.7 334h0M1213.8 304.9h0M1381.8 334.1h0M1162.2 281.4h0M1290.8 303.3h0M1337.1 344.2h0M1350.2 283.6h0M1202.7 301.6h0M1267.4 282.7h0M1204.9 299.3h0M1331.1 318.3h0M1180.8 274.5h0M1224.2 300.2h0M1379.6 262h0M1280.9 306.2h0M1196.8 234.3h0M1280.1 294.9h0M1354.3 279.7h0M1291.7 321.9h0M1332.7 331.2h0M1172.5 315.2h0M1264.7 252.9h0M1398.9 295h0M1379.8 261.1h0M1311.7 317.4h0M1268.2 263.8h0M1272.5 318.4h0M1180.6 229.3h0M1323.4 323.9h0M1199.8 292h0M1393.4 272.3h0M1230.8 261.2h0M1353.6 264.1h0M1252.5 306.3h0M1195.8 296.2h0M1259.3 315.3h0M1383.2 312h0M1267.2 312.1h0M1164.6 293.4h0M1323.8 236.2h0M1333.9 276.5h0M1336.5 338.4h0M1325.4 290h0M1280.4 320.5h0M1182.9 281.4h0M1235.9 266.2h0M1272.6 279.9h0M1160.5 251.8h0M1231.9 302.7h0M1277.8 291.9h0M1237 230.7h0M1308 330.5h0M1237.9 305.8h0M1292.2 304.8h0M1231.4 301.5h0M1321.7 242.5h0M1239.2 313.4h0M1267.5 295.7h0M1405.3 312.3h0M1229 251h0M1414.8 318.1h0M1369.6 344.2h0M1211.6 284.3h0M1331 301h0M1204.4 269.3h0M1174.1 245h0M1302.3 312.7h0M1258.2 239.7h0M1413.4 312.7h0M1243.9 295.3h0M1277.4 246h0M1382.1 333.9h0M1249.9 238.6h0M1315 330h0M1203.2 257.4h0M1399.8 328.5h0M1237.4 267.4h0M1248.7 315.2h0M1393.2 328.2h0M1172.2 268.8h0M1209.3 270h0M1363.3 246.4h0M1351.2 300.5h0M1372.5 272.7h0M1279.2 256.4h0M1226.9 291.8h0M1375.9 310.8h0M1414.6 253h0M1171.6 342.3h0M1389.7 302.9h0M1178.5 232.5h0M1270.9 277.5h0M1254.5 315.2h0M1277.4 292.3h0M1408.9 338.5h0M1332.2 309.2h0M1334.9 279.7h0M1179.3 282.4h0M1330.2 325.9h0M1224.9 287.1h0M1190.8 284.4h0M1180.7 327.2h0M1325.8 332.5h0M1164.4 339.4h0M1193 273.5h0M1409.3 321.8h0M1353.5 253.1h0M1385.9 334.3h0M1169 250.7h0" stroke-width="1.75"/><path d="M1369.2 236h0M1276.5 279.4h0M1389.1 334.8h0M1412.4 299h0M1256.4 268.6h0M1262.9 243.3h0M1393.5 317.1h0M1385.6 295.9h0M1221.3 286.8h0M1327.4 305.2h0M1253.7 316.7h0M1215.3 301.6h0M1358.8 241.4h0M1199 247.4h0M1373.9 240.4h0M1311.4 252.1h0" stroke-width="1"/><path d="M1303.8 311.8h0M1209.4 328.6h0M1185.7 265.2h0M1316.7 322.4h0M1184.4 303.4h0M1234.6 253.4h0M1305.6 291.4h0M1248.9 268.3h0M1264.2 300.1h0M1197.3 303.9h0" stroke-width="2"/></g>
<path d="M1155.54,350.89 C1159.14,344.66 1186.27,340.65 1191.53,338.43 C1196.79,336.22 1203.29,330.54 1208.14,328.74 C1212.98,326.94 1235.27,321.2 1239.98,320.44 C1244.68,319.67 1251.74,320.3 1255.2,321.13 C1258.67,321.96 1270.57,327.15 1274.58,328.74 C1278.6,330.33 1289.81,335.66 1295.35,337.05 C1300.89,338.43 1325.11,341.34 1329.96,342.58 C1334.8,343.83 1340.34,348.68 1343.8,349.51 C1347.26,350.34 1361.1,351.58 1364.56,350.89 C1368.02,350.2 1375.64,343.55 1378.41,342.58 C1381.17,341.62 1388.79,341.2 1392.25,341.2 C1395.71,341.2 1409.69,341.62 1413.01,342.58 C1416.33,343.55 1424.22,345.08 1425.47,350.89 C1426.72,356.7 1452.46,395.74 1425.47,400.72 C1398.48,405.71 1182.53,405.71 1155.54,400.72 C1128.54,395.74 1151.94,357.12 1155.54,350.89 Z" fill="url(#tealtop)" filter="url(#bump)"/>
<path d="M1155.54,379.96 C1160.52,376.5 1196.23,368.06 1205.37,366.12 C1214.51,364.18 1239.98,360.58 1246.9,360.58 C1253.82,360.58 1270.43,363.9 1274.58,366.12 C1278.74,368.33 1284.27,381.21 1288.43,382.73 C1292.58,384.25 1310.58,380.93 1316.11,381.34 C1321.65,381.76 1339.65,386.6 1343.8,386.88 C1347.95,387.16 1353.49,385.5 1357.64,384.11 C1361.79,382.73 1381.17,373.73 1385.33,373.04 C1389.48,372.35 1395.16,375.67 1399.17,377.19 C1403.18,378.71 1422.84,385.91 1425.47,388.27 C1428.1,390.62 1452.46,399.48 1425.47,400.72 C1398.48,401.97 1182.53,402.8 1155.54,400.72 C1128.54,398.65 1150.55,383.42 1155.54,379.96 Z" fill="url(#tealfront)"/>
<path d="M1191.53,399.34 L1212.29,392.42 L1246.9,395.19 L1288.43,392.42 L1295.35,400.72 Z" fill="#000"/>
<rect x="1388.8" y="382" width="27" height="2.8" fill="#fff"/>
<text x="1402" y="394.5" font-size="10.5" textLength="24.36" lengthAdjust="spacingAndGlyphs" text-anchor="middle" fill="#fff">50µm</text>
</g>
<g clip-path="url(#cl5)">
<path d="M1441.54,75.99 C1447.54,58.69 1464.61,66.76 1477.53,67.69 C1490.45,68.61 1502.91,77.84 1519.06,81.53 C1535.21,85.22 1553.66,87.53 1574.43,89.83 C1595.19,92.14 1624.03,92.14 1643.64,95.37 C1663.25,98.6 1681.48,104.14 1692.09,109.21 C1702.7,114.29 1704.78,111.98 1707.32,125.83 C1709.86,139.67 1709.86,185.12 1707.32,192.27 C1704.78,199.42 1705.01,174.51 1692.09,168.74 C1679.17,162.97 1649.41,159.74 1629.8,157.66 C1610.19,155.59 1592.88,155.82 1574.43,156.28 C1555.97,156.74 1535.21,159.05 1519.06,160.43 C1502.91,161.82 1490.45,162.74 1477.53,164.58 C1464.61,166.43 1447.54,186.27 1441.54,171.51 C1435.54,156.74 1435.54,93.29 1441.54,75.99 Z" fill="#8c0a8c" filter="url(#b2)"/>
<path d="M1444.31,81.53 C1449.84,75.99 1465.07,74.15 1477.53,75.99 C1489.99,77.84 1502.91,88.91 1519.06,92.6 C1535.21,96.29 1553.66,96.52 1574.43,98.14 C1595.19,99.75 1624.03,99.06 1643.64,102.29 C1663.25,105.52 1682.17,111.29 1692.09,117.52 C1702.01,123.75 1706.63,136.44 1703.17,139.67 C1699.7,142.9 1685.86,138.51 1671.33,136.9 C1656.79,135.28 1634.41,131.36 1615.96,129.98 C1597.5,128.59 1579.04,129.29 1560.58,128.59 C1542.13,127.9 1521.36,127.67 1505.21,125.83 C1489.06,123.98 1473.84,120.29 1463.69,117.52 C1453.53,114.75 1447.54,115.21 1444.31,109.21 C1441.08,103.22 1438.77,87.07 1444.31,81.53 Z" fill="#f28a78" filter="url(#mt1)" opacity="0.9"/>
<ellipse cx="1462.3" cy="125.83" rx="9.69" ry="11.07" fill="#8c9a86" filter="url(#b1)" opacity="0.55"/>
<ellipse cx="1514.9" cy="121.67" rx="4.84" ry="8.31" fill="#8c9a86" filter="url(#b1)" opacity="0.55"/>
<ellipse cx="1543.97" cy="121.67" rx="4.84" ry="7.61" fill="#8c9a86" filter="url(#b1)" opacity="0.55"/>
<ellipse cx="1578.58" cy="127.21" rx="6.92" ry="9.69" fill="#8c9a86" filter="url(#b1)" opacity="0.55"/>
<ellipse cx="1669.94" cy="129.98" rx="5.54" ry="12.46" fill="#8c9a86" filter="url(#b1)" opacity="0.55"/>
<ellipse cx="1694.86" cy="145.2" rx="4.84" ry="6.92" fill="#8c9a86" filter="url(#b1)" opacity="0.55"/>
<ellipse cx="1467.84" cy="89.83" rx="5.54" ry="11.07" fill="#8c9a86" filter="url(#b1)" opacity="0.55"/>
<g filter="url(#bs)" stroke-linecap="round" fill="none"><path d="M1576 83.5v5.7M1526 74.4v6.5" stroke="#1e90c8" stroke-width="1.5" stroke-opacity="0.75"/><path d="M1568.3 82.9v4.2" stroke="#2aa8d8" stroke-width="2.5" stroke-opacity="0.75"/><path d="M1670.5 97.1v3.2M1548.6 93.5v7.4M1630.4 94v7.7M1493.4 80.1v5.4M1460 71.1v4M1579 95.5v3.4" stroke="#1e90c8" stroke-width="2" stroke-opacity="0.75"/><path d="M1639.3 84v4.6M1634.2 84.9v7.7M1449.8 74.7v3.2M1582.4 81.5v4.5" stroke="#2aa8d8" stroke-width="2" stroke-opacity="0.5"/><path d="M1590.1 77.9v7.2M1684.6 89.6v6M1565.7 86v4.2" stroke="#2aa8d8" stroke-width="1.5" stroke-opacity="0.75"/><path d="M1531.8 96v3.2M1547.8 70.9v6.8" stroke="#30b040" stroke-width="2.5" stroke-opacity="0.5"/><path d="M1579.7 80.4v7.6" stroke="#1e90c8" stroke-width="2.5" stroke-opacity="0.5"/><path d="M1458.8 79.9v8M1557.8 84.2v7.8M1485.6 74.6v5.1M1500.8 83v3.4" stroke="#30b040" stroke-width="2" stroke-opacity="0.5"/><path d="M1529.2 86.1v4.4" stroke="#2aa8d8" stroke-width="1" stroke-opacity="1"/><path d="M1525.2 73v8.3M1493.5 77.2v6.5M1612.1 78.7v7.9" stroke="#1e90c8" stroke-width="1.5" stroke-opacity="0.5"/><path d="M1500.3 71.3v5.1M1564.3 96.1v5.3M1636.9 86.8v8.2M1458.8 70.7v3.7" stroke="#1e90c8" stroke-width="2.5" stroke-opacity="0.75"/><path d="M1552.2 72.6v6" stroke="#30b040" stroke-width="1.5" stroke-opacity="0.75"/><path d="M1508 91.6v4.3" stroke="#1e90c8" stroke-width="1" stroke-opacity="0.5"/><path d="M1502 91.4v4.7" stroke="#1e90c8" stroke-width="2.5" stroke-opacity="1"/><path d="M1531.1 74v2.8M1596.1 82.6v8.1M1522.4 94.8v3.4M1467.2 87.5v3.4M1560.5 95.2v8" stroke="#2aa8d8" stroke-width="2" stroke-opacity="0.75"/><path d="M1589.4 90.1v4.5M1532.1 71.3v3.5" stroke="#30b040" stroke-width="1.5" stroke-opacity="0.5"/><path d="M1541.3 79.5v5.3" stroke="#2aa8d8" stroke-width="2.5" stroke-opacity="0.5"/><path d="M1516.4 82.9v6.3M1568.6 96.9v3.1" stroke="#2aa8d8" stroke-width="1.5" stroke-opacity="0.5"/><path d="M1555.1 82.3v7.8M1484.4 87.7v7.9M1456.6 70.6v3.5M1631.5 92.2v2.9" stroke="#30b040" stroke-width="2" stroke-opacity="0.75"/><path d="M1570.3 82.1v7.6" stroke="#30b040" stroke-width="2.5" stroke-opacity="0.75"/><path d="M1503.7 91.7v4" stroke="#2aa8d8" stroke-width="1" stroke-opacity="0.75"/><path d="M1615.7 92v6.2M1471.4 76v7.3M1589.8 83.3v8M1586.3 79.6v8.3" stroke="#1e90c8" stroke-width="2" stroke-opacity="0.5"/><path d="M1670.4 87.9v5.7" stroke="#2aa8d8" stroke-width="2" stroke-opacity="1"/><path d="M1551.1 79.3v3" stroke="#1e90c8" stroke-width="1" stroke-opacity="0.75"/></g>
<path d="M1441.54,171.51 C1447.67,164.72 1475.87,163.92 1491.37,161.82 C1506.87,159.72 1556.66,153.83 1574.43,153.51 C1592.19,153.19 1628.14,155.17 1643.64,159.05 C1659.15,162.92 1699.57,179.63 1707.32,186.73 C1715.07,193.84 1741.42,216.08 1710.09,219.96 C1678.76,223.83 1470.1,225.61 1438.77,219.96 C1407.44,214.3 1435.4,178.29 1441.54,171.51 Z" fill="#22a52a" filter="url(#b1)"/>
<path d="M1441.54,164.58 L1707.32,164.58 L1707.32,219.96 L1441.54,219.96 Z" fill="#8a9c88" filter="url(#gs1)" opacity="0.45"/>
<path d="M1441.54,178.43 L1707.32,178.43 L1707.32,219.96 L1441.54,219.96 Z" fill="#000" filter="url(#dk1)" opacity="0.6"/>
<rect x="1667.2" y="199.2" width="31.8" height="2.8" fill="#fff"/>
<text x="1683" y="211" font-size="10.5" textLength="24.36" lengthAdjust="spacingAndGlyphs" text-anchor="middle" fill="#fff">50µm</text>
</g>
<g clip-path="url(#cl6)">
<g filter="url(#bs)" stroke-linecap="round" fill="none"><path d="M1823.9 104.6v10.2M1776.7 64.5v10.3M1752.1 98.5v6.6M1755.3 75.4v10.8" stroke="#1e90c8" stroke-width="2.5" stroke-opacity="0.75"/><path d="M1952.1 104.2v7.9M1845.8 100.8v6.9M1967.5 120.6v7.1M1752.4 96.2v10M1750.9 98.8v11.9M1868.5 111.5v13.9M1755.3 111.9v6.5M1844.1 113.5v7.5M1919.6 111.1v7.5M1810.4 106.8v7.9" stroke="#1478b0" stroke-width="2" stroke-opacity="0.75"/><path d="M1833.2 76.5v15.3M1741.6 104.4v5.7M1902.5 110v11.7M1963.7 133.3v11.3M1781 80.5v13.2M1858.2 92.7v12.7M1770.1 89.2v13.8M1884.3 106.4v10" stroke="#2aa8d8" stroke-width="2" stroke-opacity="0.75"/><path d="M1737.4 96.3v7.3M1713.9 76.6v12.5M1746.3 63.1v12.2M1896.7 100.9v6.1" stroke="#1e90c8" stroke-width="2" stroke-opacity="1"/><path d="M1747.4 78.6v14.9M1756.5 109.1v14.5M1846.2 81.4v8.5M1743.7 103.8v6.6" stroke="#1e90c8" stroke-width="1.5" stroke-opacity="0.5"/><path d="M1859.1 109.1v11.6M1810.1 72.5v15.4M1852.2 114.2v12.5M1882.2 114.2v12.7" stroke="#18a040" stroke-width="2" stroke-opacity="1"/><path d="M1856.2 86.4v6.7M1918.4 113.6v9M1875.7 110.7v9.6M1806.2 99.5v12.4M1901.9 99.5v14.5M1713.6 84v14.2M1737.7 88.1v10.9" stroke="#1e90c8" stroke-width="1.5" stroke-opacity="0.75"/><path d="M1830.4 87.2v14.5M1865.5 125.8v6.6" stroke="#1e90c8" stroke-width="2" stroke-opacity="0.5"/><path d="M1898.3 84.2v15.3M1825 106.6v6M1871.7 92.3v8.9M1869.1 104.8v11.9M1756.7 83.2v14M1899.8 89.4v11.6M1713.4 103.4v6.2M1745.9 108.3v8.7" stroke="#1478b0" stroke-width="2.5" stroke-opacity="0.75"/><path d="M1801.3 71.2v9.3M1871.9 125.3v12.6M1717.9 86.2v14.9M1867.3 107.8v13.3M1965.3 135.4v6.8M1825.4 116.1v12.8" stroke="#2aa8d8" stroke-width="2.5" stroke-opacity="0.5"/><path d="M1788.7 104.2v6.7M1828.1 120.7v7" stroke="#2aa8d8" stroke-width="1.5" stroke-opacity="1"/><path d="M1771.6 113.3v10.3M1781.2 94.9v11.6" stroke="#20b050" stroke-width="2" stroke-opacity="1"/><path d="M1910.6 110.7v14.8M1783.1 99.1v8.9M1759.6 103.3v9.9M1814.6 107.1v13.8M1808.1 99v7.4M1743.6 89.5v12.8M1947.6 107.2v14" stroke="#2aa8d8" stroke-width="2.5" stroke-opacity="0.75"/><path d="M1956.6 105.5v15.1M1777.4 83.9v12.5M1809.8 86.3v6.7M1803.2 105.8v13.1M1796.3 82.8v14.4M1852.5 88.9v15M1907.6 122.8v13M1912.5 85.9v8.6M1831.9 70.4v13.7" stroke="#2aa8d8" stroke-width="1.5" stroke-opacity="0.5"/><path d="M1718.4 57.6v13.3M1785.4 95.2v6.4" stroke="#1e90c8" stroke-width="2.5" stroke-opacity="1"/><path d="M1789.5 86.7v6.2M1954.3 118.3v14.5M1888.1 94.8v12.9M1883.7 75.6v14M1791.6 88.3v13.6" stroke="#1e90c8" stroke-width="2" stroke-opacity="0.75"/><path d="M1781.1 102.2v7.2M1956.8 110.8v11.4M1800.8 80v11.3M1947.1 96v10.9M1851 96.2v7.9" stroke="#18a040" stroke-width="2" stroke-opacity="0.75"/><path d="M1778.8 92.6v11.2M1938.1 133.4v7.8M1909.9 81.1v11.7M1757.6 94.4v11.3M1897.5 123.4v12.8M1801.2 73v10.9" stroke="#20b050" stroke-width="2" stroke-opacity="0.75"/><path d="M1773.6 82.7v13.8M1865.6 83.1v11.6M1943.1 98.4v11.9M1854.7 78.6v11.4M1880.5 79.4v10.4M1793.4 112.4v11.1" stroke="#1478b0" stroke-width="2" stroke-opacity="1"/><path d="M1942.8 113.3v7.5M1853 112.5v13.6M1725.8 64.5v11.2M1774.1 83.9v12.4" stroke="#1e90c8" stroke-width="1.5" stroke-opacity="1"/><path d="M1964.3 126.1v13.4M1837.4 107v15.1M1846.2 81.4v15.4M1743 87.3v13M1966.6 89.8v12M1809.4 93.3v6.9" stroke="#20b050" stroke-width="2.5" stroke-opacity="0.75"/><path d="M1758.4 111.9v7.2M1913.9 120.6v15.3M1783.9 113.9v12.2M1728.8 96.9v14.3M1823.1 75.1v8.5M1743 65.3v11.8M1776.8 103.3v6.6" stroke="#20b050" stroke-width="1.5" stroke-opacity="1"/><path d="M1759.5 71.5v10M1924.8 117v11.7M1790.7 106.9v13.2M1848.8 80.8v13.4" stroke="#1478b0" stroke-width="1" stroke-opacity="0.75"/><path d="M1852.7 81.5v10.8M1865.1 97.8v13.9M1777.7 88v11.2M1719.6 80.6v9.1M1853.9 89.2v14" stroke="#2aa8d8" stroke-width="2" stroke-opacity="1"/><path d="M1951.7 96.6v11.2M1896.5 104.9v7.5" stroke="#18a040" stroke-width="1" stroke-opacity="0.75"/><path d="M1773 111.6v14.4M1824.4 114.2v11.1M1865.7 86.8v6.5M1769.7 67.4v6.8M1837.8 112.6v13.4M1790.5 95.3v15M1890.8 79.8v8.5M1910.8 86.7v11M1949.2 84.4v10.7" stroke="#20b050" stroke-width="2" stroke-opacity="0.5"/><path d="M1761.6 71v10.2M1795.4 73v15.2M1785 86.2v7.8M1835.4 94.9v6.3M1824.8 92.8v7.7M1931.8 84.9v10.5M1752.4 63v12.5M1903.4 119v5.9M1842.1 91.5v12.1M1756.8 77.3v13.7" stroke="#1478b0" stroke-width="1.5" stroke-opacity="0.5"/><path d="M1783.6 101.4v13.1M1919.7 121.8v14.5M1747.8 100.8v6.2M1887.1 79.5v14.4M1878 100.8v6.9M1948.1 89.9v12.2M1810.1 109v14.6" stroke="#18a040" stroke-width="2" stroke-opacity="0.5"/><path d="M1862.2 100.1v6.2M1797.7 79.3v12.8M1820.1 94.4v12.3M1966.3 117.7v6.3M1773.6 112.9v9M1808.6 70.3v14.1M1787.9 68v9M1925.3 94.8v10.6M1781 68.1v12.2M1782.4 67.5v6.4" stroke="#20b050" stroke-width="1.5" stroke-opacity="0.75"/><path d="M1933.3 114.4v13.6M1919 94.7v7.8M1754.9 80.1v7.9M1856.7 75.7v7.9M1760 87.1v14.8M1779.5 65v15.2M1852.8 98.5v9" stroke="#18a040" stroke-width="1.5" stroke-opacity="0.5"/><path d="M1846 76.9v14M1904.1 117.1v7.3M1812.9 95.4v14.6M1874.7 91.5v12.4M1875.6 109.5v15.3M1957.9 107.4v14.7M1804.8 103.3v8.2M1747.6 107.8v7.5M1900.7 127.5v6.7M1781.8 68v10.9" stroke="#1478b0" stroke-width="2" stroke-opacity="0.5"/><path d="M1792.3 72.1v10.2M1815.1 103.7v6.3M1737.3 78.8v10.5M1840.6 103v6.8M1953.9 102.7v11.6M1777.2 90.6v14.4" stroke="#1478b0" stroke-width="1.5" stroke-opacity="0.75"/><path d="M1863.4 117.7v9" stroke="#1478b0" stroke-width="2.5" stroke-opacity="0.5"/><path d="M1969.2 93.3v13.1M1833.9 120.4v12.3M1861.4 104.8v14.5M1771.4 73.1v7.9M1924.2 95.8v14.8" stroke="#18a040" stroke-width="2.5" stroke-opacity="0.5"/><path d="M1876 118v8" stroke="#2aa8d8" stroke-width="1" stroke-opacity="0.75"/><path d="M1796.7 108.4v6.3M1933.4 105v8.8" stroke="#18a040" stroke-width="1.5" stroke-opacity="1"/><path d="M1859.3 105.4v12.1M1820.1 121.4v7" stroke="#20b050" stroke-width="2.5" stroke-opacity="1"/><path d="M1769.3 109.7v15.1M1875.1 95.2v13M1937.6 122.3v5.7M1904.4 96.9v14.4M1737.3 98.3v14.4M1831.5 84.1v5.8" stroke="#2aa8d8" stroke-width="1.5" stroke-opacity="0.75"/><path d="M1920.8 88v6.9" stroke="#1478b0" stroke-width="1" stroke-opacity="0.5"/><path d="M1877.4 83.3v6.7M1929.8 89.3v14.2M1730.5 107.5v9.3" stroke="#2aa8d8" stroke-width="2.5" stroke-opacity="1"/><path d="M1901.4 119.4v11.2M1867.5 77.5v14.4M1910.8 128.6v12.2M1713.5 99.5v11.4" stroke="#1478b0" stroke-width="2.5" stroke-opacity="1"/><path d="M1794 81.1v7.9M1845.7 118.4v9.5M1923.2 123.8v9M1722.2 73.7v6.8M1910.3 114.2v7.6" stroke="#18a040" stroke-width="2.5" stroke-opacity="1"/><path d="M1814.4 87.7v14.2M1805.8 99.7v14M1929.7 96.5v14.2" stroke="#18a040" stroke-width="2.5" stroke-opacity="0.75"/><path d="M1910.8 85.1v7.3M1931.1 129.3v10.3M1826.1 109v12.3M1816.7 107.2v7.9" stroke="#18a040" stroke-width="1.5" stroke-opacity="0.75"/><path d="M1794.9 104.6v11.9M1808.3 68v12" stroke="#1478b0" stroke-width="1.5" stroke-opacity="1"/><path d="M1759 79.4v6.1M1826 91.3v13.2M1727.4 62.9v14.5M1811.3 117.5v8.2M1896.9 90.3v14.5M1788 77.3v8.1M1908.9 107.2v14.1" stroke="#2aa8d8" stroke-width="2" stroke-opacity="0.5"/><path d="M1929.9 105.5v7M1946.2 103.4v7.3M1969.3 127.2v12.7M1810.7 109.3v14.8M1829.3 99.8v8.9M1826.6 81.5v6.4" stroke="#20b050" stroke-width="2.5" stroke-opacity="0.5"/><path d="M1872 110.3v14.8M1925.6 116.1v11.8M1930.3 98v14.8" stroke="#20b050" stroke-width="1.5" stroke-opacity="0.5"/><path d="M1871.4 83.8v10.3" stroke="#20b050" stroke-width="1" stroke-opacity="0.75"/><path d="M1834.7 105.5v15" stroke="#1e90c8" stroke-width="2.5" stroke-opacity="0.5"/><path d="M1885.7 75.4v12" stroke="#18a040" stroke-width="1" stroke-opacity="0.5"/></g>
<ellipse cx="1735.84" cy="123.06" rx="9" ry="11.77" fill="#0ea01e" filter="url(#b1)"/>
<ellipse cx="1787.75" cy="118.9" rx="5.54" ry="9.69" fill="#0ea01e" filter="url(#b1)"/>
<ellipse cx="1817.51" cy="118.9" rx="4.84" ry="7.61" fill="#0ea01e" filter="url(#b1)"/>
<ellipse cx="1849.35" cy="123.06" rx="6.92" ry="11.07" fill="#0ea01e" filter="url(#b1)"/>
<ellipse cx="1937.94" cy="123.06" rx="6.23" ry="15.23" fill="#0ea01e" filter="url(#b1)"/>
<ellipse cx="1964.24" cy="141.05" rx="5.54" ry="7.61" fill="#0ea01e" filter="url(#b1)"/>
<ellipse cx="1741.38" cy="92.6" rx="5.54" ry="15.23" fill="#0ea01e" filter="url(#b1)"/>
<ellipse cx="1719.23" cy="92.6" rx="4.84" ry="12.46" fill="#0ea01e" filter="url(#b1)"/>
<path d="M1713,168.74 C1715.58,161.95 1726.28,163.92 1731.69,161.82 C1737.1,159.72 1751.3,152.2 1759.37,150.74 C1767.45,149.29 1791.21,149.52 1800.9,149.36 C1810.59,149.2 1833.55,149.84 1842.43,149.36 C1851.31,148.87 1868.96,145.04 1877.03,145.2 C1885.11,145.37 1901.95,149.13 1911.64,150.74 C1921.33,152.36 1953.15,155.82 1960.09,159.05 C1967.04,162.28 1969.55,171.32 1971.17,178.43 C1972.78,185.53 2004.46,215.11 1973.93,219.96 C1943.41,224.8 1739.98,225.93 1709.54,219.96 C1679.09,213.98 1710.41,175.52 1713,168.74 Z" fill="#009400" filter="url(#b1)"/>
<path d="M1712.31,178.43 L1973.93,178.43 L1973.93,219.96 L1712.31,219.96 Z" fill="#003000" filter="url(#dk1)" opacity="0.6"/>
<rect x="1937.3" y="200.6" width="31.4" height="2.8" fill="#fff"/>
<text x="1953" y="212.3" font-size="10.5" textLength="24.36" lengthAdjust="spacingAndGlyphs" text-anchor="middle" fill="#fff">50µm</text>
</g>
<g clip-path="url(#cl7)">
<path d="M1441.54,251.22 C1444.07,236.23 1451.92,241.3 1456.76,241.53 C1461.61,241.76 1460.22,249.15 1470.61,252.61 C1480.99,256.07 1501.75,260.45 1519.06,262.3 C1536.36,264.14 1558.28,262.76 1574.43,263.68 C1590.58,264.6 1602.11,265.76 1615.96,267.83 C1629.8,269.91 1642.26,272.68 1657.48,276.14 C1672.71,279.6 1699.01,275.68 1707.32,288.6 C1715.62,301.52 1715.62,345.12 1707.32,353.66 C1699.01,362.2 1675.02,344.89 1657.48,339.82 C1639.95,334.74 1620.57,327.13 1602.11,323.2 C1583.66,319.28 1567.51,316.74 1546.74,316.28 C1525.98,315.82 1495.06,317.9 1477.53,320.44 C1459.99,322.97 1447.54,343.05 1441.54,331.51 C1435.54,319.97 1439,266.22 1441.54,251.22 Z" fill="#9a6aa8" filter="url(#b1)"/>
<path d="M1444.31,259.53 C1449.84,250.3 1465.07,258.61 1477.53,259.53 C1489.99,260.45 1502.91,263.68 1519.06,265.07 C1535.21,266.45 1558.28,266.45 1574.43,267.83 C1590.58,269.22 1602.11,271.06 1615.96,273.37 C1629.8,275.68 1642.72,278.45 1657.48,281.68 C1672.25,284.91 1696.71,282.6 1704.55,292.75 C1712.39,302.9 1712.39,336.12 1704.55,342.58 C1696.71,349.04 1674.56,335.66 1657.48,331.51 C1640.41,327.36 1620.57,320.9 1602.11,317.67 C1583.66,314.44 1567.51,312.59 1546.74,312.13 C1525.98,311.67 1494.6,314.44 1477.53,314.9 C1460.46,315.36 1449.84,324.13 1444.31,314.9 C1438.77,305.67 1438.77,268.76 1444.31,259.53 Z" fill="#c89ad0" filter="url(#mt3)" opacity="0.9"/>
<g fill="none" stroke="#d8a860" stroke-width="0.8" opacity="0.65"><ellipse cx="1564.54" cy="264.05" rx="2.82" ry="2.32"/><ellipse cx="1469.87" cy="288.15" rx="5.35" ry="4.36"/><ellipse cx="1627.09" cy="301.65" rx="2.42" ry="2.63"/><ellipse cx="1494.77" cy="272.85" rx="4.84" ry="4.17"/><ellipse cx="1588.98" cy="293.59" rx="4.73" ry="5.05"/><ellipse cx="1512.4" cy="266.97" rx="3.25" ry="2.96"/><ellipse cx="1476.03" cy="297.1" rx="4.93" ry="4.22"/><ellipse cx="1490.3" cy="272.62" rx="4.09" ry="4.09"/><ellipse cx="1626.24" cy="277.22" rx="3.82" ry="3.86"/><ellipse cx="1680.46" cy="302.43" rx="5.96" ry="6.05"/><ellipse cx="1606.56" cy="293.09" rx="5.54" ry="5.77"/><ellipse cx="1525.58" cy="259.08" rx="4.46" ry="4.11"/><ellipse cx="1484.58" cy="286.34" rx="3.35" ry="3.46"/><ellipse cx="1446.23" cy="301.36" rx="4.36" ry="4.02"/><ellipse cx="1610.58" cy="298.48" rx="2.02" ry="2.19"/><ellipse cx="1470.98" cy="263.66" rx="2.75" ry="2.54"/><ellipse cx="1695.14" cy="271.24" rx="4.7" ry="4.13"/><ellipse cx="1492.69" cy="301.88" rx="4.53" ry="4.73"/><ellipse cx="1574.07" cy="266.2" rx="3.92" ry="3.53"/><ellipse cx="1610.41" cy="260.92" rx="2.3" ry="2.3"/><ellipse cx="1539.06" cy="273.13" rx="3.18" ry="2.75"/><ellipse cx="1462.82" cy="290.27" rx="2.54" ry="2.4"/><ellipse cx="1515.88" cy="272.74" rx="5.34" ry="5.21"/><ellipse cx="1603.02" cy="284.76" rx="2.74" ry="2.44"/><ellipse cx="1629.13" cy="258.78" rx="5.38" ry="4.94"/><ellipse cx="1533.56" cy="278.02" rx="2.5" ry="2.29"/><ellipse cx="1560.32" cy="295.65" rx="3.06" ry="2.49"/><ellipse cx="1590.93" cy="268.23" rx="3.86" ry="3.71"/><ellipse cx="1504.67" cy="301.43" rx="4.25" ry="4.64"/><ellipse cx="1676.22" cy="303.92" rx="5.24" ry="5.58"/><ellipse cx="1476.42" cy="265.36" rx="2.13" ry="2.03"/><ellipse cx="1657.55" cy="300.16" rx="5.06" ry="4.84"/><ellipse cx="1604.24" cy="289.75" rx="2.86" ry="3"/><ellipse cx="1667.52" cy="263.7" rx="3.42" ry="3.18"/><ellipse cx="1478.44" cy="262.07" rx="2.4" ry="2.24"/><ellipse cx="1656.18" cy="298.2" rx="4.07" ry="3.88"/><ellipse cx="1671.14" cy="263.62" rx="4.64" ry="3.95"/><ellipse cx="1649.5" cy="271.73" rx="4.46" ry="4.36"/><ellipse cx="1554.49" cy="294.33" rx="3.19" ry="3.43"/><ellipse cx="1687.77" cy="309.47" rx="4.25" ry="3.87"/><ellipse cx="1511.19" cy="299.66" rx="5.08" ry="4.6"/><ellipse cx="1622.28" cy="258.9" rx="5.74" ry="5.21"/><ellipse cx="1564.25" cy="278.24" rx="5.91" ry="6.4"/><ellipse cx="1634" cy="293.81" rx="3.74" ry="3.1"/><ellipse cx="1589.43" cy="306.16" rx="3.76" ry="3.15"/><ellipse cx="1612.77" cy="268.04" rx="5.91" ry="4.84"/><ellipse cx="1588.83" cy="261.08" rx="4.46" ry="3.91"/><ellipse cx="1451.08" cy="275.13" rx="5.13" ry="4.63"/><ellipse cx="1464.49" cy="288.06" rx="5.19" ry="4.58"/><ellipse cx="1589.67" cy="274.67" rx="5.53" ry="4.54"/><ellipse cx="1587.14" cy="305" rx="5.5" ry="4.98"/><ellipse cx="1588.95" cy="268.48" rx="4.62" ry="4.67"/><ellipse cx="1489.85" cy="281.66" rx="2.83" ry="2.95"/><ellipse cx="1620.27" cy="291.02" rx="5.34" ry="5.22"/><ellipse cx="1507.91" cy="294.53" rx="5.1" ry="4.3"/><ellipse cx="1592.67" cy="296" rx="5.49" ry="4.83"/><ellipse cx="1450.17" cy="286.55" rx="4.38" ry="3.96"/><ellipse cx="1656.66" cy="295.16" rx="5.81" ry="4.67"/><ellipse cx="1464.79" cy="267.29" rx="2.4" ry="2.06"/><ellipse cx="1519.88" cy="302.76" rx="3.24" ry="3.48"/><ellipse cx="1457.32" cy="306.11" rx="3.67" ry="3.45"/><ellipse cx="1600.33" cy="272.48" rx="4.78" ry="4.01"/><ellipse cx="1453.67" cy="306.81" rx="5.05" ry="4.74"/><ellipse cx="1556.78" cy="271.62" rx="2.76" ry="2.84"/><ellipse cx="1468.17" cy="267.75" rx="2.31" ry="1.93"/><ellipse cx="1518.28" cy="263.94" rx="5.44" ry="5.97"/><ellipse cx="1494.13" cy="295.61" rx="4.05" ry="3.7"/><ellipse cx="1517.84" cy="282.4" rx="4.81" ry="4.72"/><ellipse cx="1565.59" cy="282.45" rx="4.19" ry="3.49"/><ellipse cx="1617.27" cy="281.65" rx="2.72" ry="2.36"/><ellipse cx="1593.35" cy="291.04" rx="5.95" ry="5.35"/><ellipse cx="1524.83" cy="301.35" rx="3.68" ry="3.13"/><ellipse cx="1662.57" cy="299.33" rx="3.8" ry="4.07"/><ellipse cx="1508.59" cy="259.24" rx="3.54" ry="3.83"/><ellipse cx="1630.79" cy="266.69" rx="2.53" ry="2.36"/><ellipse cx="1596.64" cy="301.27" rx="4.88" ry="5.05"/><ellipse cx="1520.08" cy="281.16" rx="5.2" ry="4.45"/><ellipse cx="1496.99" cy="297.04" rx="5.72" ry="5.89"/><ellipse cx="1576.33" cy="298.78" rx="2.29" ry="2.38"/><ellipse cx="1672.29" cy="271.73" rx="2.1" ry="1.87"/><ellipse cx="1641.26" cy="290.45" rx="4.25" ry="3.5"/><ellipse cx="1461.35" cy="300.66" rx="4.65" ry="4.31"/><ellipse cx="1696.34" cy="291.4" rx="3.85" ry="3.48"/><ellipse cx="1550.79" cy="261.64" rx="4.59" ry="4.13"/><ellipse cx="1644.95" cy="294.67" rx="3.13" ry="3.17"/><ellipse cx="1484.96" cy="284.75" rx="3.77" ry="3.72"/><ellipse cx="1639.01" cy="301.28" rx="4.66" ry="4.02"/><ellipse cx="1486.01" cy="262.88" rx="2.4" ry="2.1"/><ellipse cx="1652.83" cy="269.08" rx="3.81" ry="3.53"/><ellipse cx="1553.66" cy="272.89" rx="5.55" ry="5.21"/><ellipse cx="1542.69" cy="298.03" rx="4.15" ry="4.03"/><ellipse cx="1477.12" cy="305.02" rx="5.43" ry="4.73"/><ellipse cx="1499.46" cy="277.6" rx="5.94" ry="4.94"/><ellipse cx="1657.18" cy="267.94" rx="2.72" ry="2.23"/><ellipse cx="1656.08" cy="260.24" rx="3.62" ry="3.87"/><ellipse cx="1606.53" cy="307.26" rx="4.06" ry="4.41"/><ellipse cx="1681.17" cy="265.98" rx="2.61" ry="2.57"/><ellipse cx="1622.94" cy="282.03" rx="4.26" ry="4.47"/><ellipse cx="1459.51" cy="277.8" rx="3.53" ry="3.23"/><ellipse cx="1609.84" cy="305.97" rx="2.28" ry="2.31"/><ellipse cx="1456.68" cy="294.71" rx="2.44" ry="2.15"/><ellipse cx="1626.5" cy="259.42" rx="5.4" ry="5.1"/><ellipse cx="1693.92" cy="297.22" rx="4.83" ry="3.91"/><ellipse cx="1582.12" cy="283.63" rx="5.9" ry="5.59"/><ellipse cx="1563.49" cy="277.06" rx="5.46" ry="5.82"/><ellipse cx="1667.56" cy="278.85" rx="5.27" ry="5.09"/><ellipse cx="1517.7" cy="283.32" rx="5.97" ry="5.16"/><ellipse cx="1458.18" cy="306.55" rx="3.63" ry="3.67"/><ellipse cx="1585.87" cy="265.01" rx="4.15" ry="3.97"/><ellipse cx="1482.81" cy="276.97" rx="5.66" ry="6.22"/></g>
<path d="M1441.54,335.66 C1443.06,328.47 1450.4,329.71 1456.76,328.74 C1463.13,327.77 1494.83,326.67 1505.21,325.97 C1515.6,325.28 1550.89,321.54 1560.58,321.82 C1570.27,322.1 1592.42,326.67 1602.11,328.74 C1611.8,330.82 1646.96,340.37 1657.48,342.58 C1668,344.8 1702.33,345.08 1707.32,350.89 C1712.3,356.7 1733.9,395.74 1707.32,400.72 C1680.74,405.71 1468.12,407.23 1441.54,400.72 C1414.96,394.22 1440.01,342.86 1441.54,335.66 Z" fill="url(#tealtop)" filter="url(#bump)"/>
<path d="M1441.54,360.58 C1446.52,356.98 1480.85,364.04 1491.37,364.73 C1501.89,365.43 1535.67,366.26 1546.74,367.5 C1557.82,368.75 1592.42,375.81 1602.11,377.19 C1611.8,378.58 1633.12,380.65 1643.64,381.34 C1654.16,382.04 1700.95,382.17 1707.32,384.11 C1713.69,386.05 1733.9,399.06 1707.32,400.72 C1680.74,402.39 1468.12,404.74 1441.54,400.72 C1414.96,396.71 1436.55,364.18 1441.54,360.58 Z" fill="url(#tealfront)"/>
<path d="M1441.54,385.5 L1470.61,388.27 L1519.06,393.8 L1560.58,400.72 L1441.54,400.72 Z" fill="#000"/>
<g fill="none" stroke="#c090c8" stroke-width="0.7" opacity="0.7"><ellipse cx="1638.51" cy="341.18" rx="3.43" ry="5.26"/><ellipse cx="1636.67" cy="341.83" rx="3.41" ry="3.42"/><ellipse cx="1672.7" cy="320.69" rx="1.95" ry="7.68"/><ellipse cx="1605.79" cy="347.86" rx="3.14" ry="5.54"/><ellipse cx="1676.49" cy="366.92" rx="2.99" ry="6.71"/><ellipse cx="1581.43" cy="346.35" rx="1.6" ry="3.34"/><ellipse cx="1635.44" cy="345.62" rx="2.2" ry="4.04"/><ellipse cx="1671.18" cy="327.43" rx="3.25" ry="5.33"/><ellipse cx="1671.18" cy="320.21" rx="2.96" ry="4.91"/><ellipse cx="1660.1" cy="324.43" rx="2.32" ry="5.1"/><ellipse cx="1566.81" cy="350.28" rx="1.89" ry="6.49"/><ellipse cx="1647.45" cy="339.89" rx="1.57" ry="3.3"/><ellipse cx="1578" cy="355.79" rx="2.33" ry="7.77"/><ellipse cx="1619.45" cy="342.64" rx="2.3" ry="5.89"/><ellipse cx="1638.08" cy="341.37" rx="1.81" ry="4.45"/><ellipse cx="1596.89" cy="367.28" rx="1.75" ry="5.1"/><ellipse cx="1600.15" cy="363.77" rx="2.19" ry="7.84"/><ellipse cx="1663.89" cy="322.39" rx="2.44" ry="5.03"/><ellipse cx="1658.88" cy="363.01" rx="2.46" ry="7.37"/><ellipse cx="1680.7" cy="360.32" rx="2.18" ry="6.36"/><ellipse cx="1605.14" cy="337.87" rx="2.69" ry="4.3"/><ellipse cx="1677.83" cy="343.2" rx="2.27" ry="4.48"/><ellipse cx="1592.6" cy="350.15" rx="2.72" ry="7.33"/><ellipse cx="1596.07" cy="327.47" rx="3.07" ry="4.24"/><ellipse cx="1663.39" cy="346.34" rx="3.11" ry="5.44"/><ellipse cx="1612.05" cy="326.04" rx="1.57" ry="7.7"/><ellipse cx="1560.99" cy="337.27" rx="2.25" ry="6.18"/><ellipse cx="1679.6" cy="322.37" rx="2.99" ry="4.5"/><ellipse cx="1695.78" cy="324.89" rx="3" ry="4.92"/><ellipse cx="1671.68" cy="332.63" rx="2.19" ry="6.17"/><ellipse cx="1635.9" cy="337.22" rx="2" ry="6.05"/><ellipse cx="1588.78" cy="350.77" rx="2.84" ry="7.15"/><ellipse cx="1655.44" cy="320.79" rx="1.67" ry="4.05"/><ellipse cx="1560.74" cy="332.59" rx="3.1" ry="5.29"/><ellipse cx="1595.07" cy="323.54" rx="1.8" ry="5.85"/><ellipse cx="1583.19" cy="356.29" rx="2.09" ry="5.09"/><ellipse cx="1638.6" cy="332.81" rx="1.97" ry="6.61"/><ellipse cx="1572.98" cy="331.28" rx="1.61" ry="4.1"/><ellipse cx="1656.22" cy="357.15" rx="1.98" ry="5.45"/><ellipse cx="1572.76" cy="342.37" rx="2.57" ry="5.19"/></g>
<g stroke="#d8d0cc" stroke-linecap="round" fill="none"><path d="M1632.7 258.4h0M1634.2 265.9h0M1532.7 246.6h0M1618.4 261.6h0M1635.5 250.3h0M1521.6 273.7h0M1646 262.5h0M1515.5 256.4h0M1604.7 257.3h0M1559.4 267.5h0M1669.3 258.8h0M1543.3 272.2h0M1556.2 261.7h0M1671.4 264.2h0M1543.9 268.1h0" stroke-width="1.25"/><path d="M1630.8 265.4h0M1520 248.8h0M1582.7 248h0M1639.5 246.1h0M1535.9 260.6h0M1522.6 259.1h0M1516.1 246.2h0M1583.1 255.2h0M1683 247.5h0M1636.9 261.8h0M1510.3 262.5h0" stroke-width="1.75"/><path d="M1665.3 257.8h0M1660.6 272.1h0M1592.8 260h0M1675.4 267.2h0M1520.4 273.7h0M1565.6 245.1h0M1661.8 265.3h0M1649.5 250.3h0M1655.9 260.3h0M1688.2 255.4h0M1515.1 247.1h0" stroke-width="1.5"/><path d="M1618.7 272h0" stroke-width="2"/><path d="M1543.1 250.7h0M1611.7 248.7h0" stroke-width="1"/></g>
<rect x="1671.3" y="381.1" width="29.4" height="2.8" fill="#fff"/>
<text x="1686" y="392.7" font-size="10.5" textLength="24.36" lengthAdjust="spacingAndGlyphs" text-anchor="middle" fill="#fff">50µm</text>
</g>
<g clip-path="url(#cl8)">
<g stroke="#d8d0cc" stroke-linecap="round" fill="none"><path d="M1954.7 282.5h0M1943.1 275.5h0M1964.1 323.6h0M1904.3 322.7h0M1932.1 284.4h0M1901.9 292h0M1929.6 280.2h0M1757.3 321.4h0M1839.9 264.4h0M1830.7 269.4h0M1912.1 267.6h0M1919.3 287h0M1776.6 257.9h0M1809.3 293.8h0M1811.5 304h0M1799.9 320.9h0M1918.6 308.4h0M1928.5 286.7h0M1731.3 309.7h0M1873.8 291.5h0M1726.3 259.3h0M1842 279.5h0M1765.7 320.1h0M1737 281.3h0M1933 291.9h0M1914.4 304.6h0M1777.3 294.2h0M1745.8 268.2h0M1856.1 301.8h0M1848.1 269.2h0M1842.1 313.6h0M1915.2 277.4h0M1764.8 322.6h0M1830.8 291h0M1825.8 309.8h0M1825.2 297.5h0M1795.2 257.6h0M1847.7 258.8h0M1894.1 287.9h0M1822.9 261.4h0M1857.3 268.9h0M1962.4 281.8h0M1911.7 296h0M1919 321h0M1842.6 307.8h0M1899.8 259.5h0M1962.6 280.9h0M1895.1 315.7h0M1952.9 296.1h0M1912.5 287.3h0M1840.1 321.2h0M1869.7 291.3h0M1757.2 325.1h0M1876.4 319.7h0M1941.5 321.8h0M1908 324.8h0M1725.1 286.8h0M1765.6 319.5h0M1796.4 295.1h0M1855.5 318.2h0M1913.2 274.7h0M1736.3 293.7h0M1763 329.2h0M1754.1 328.2h0M1770.6 281.9h0M1768.4 278.4h0M1763.3 280.6h0M1852.6 301.8h0M1797 283.6h0M1874.6 306.7h0M1877.3 312.7h0M1832.7 322.2h0M1931.7 323.2h0M1897 296.8h0M1781.9 259.7h0M1877.9 305.5h0M1918.9 263.5h0M1791.2 320.4h0M1780.4 279.3h0" stroke-width="1.75"/><path d="M1895.7 316.1h0M1720.8 317.6h0M1733 290.1h0M1740.6 275.5h0M1891.9 302.2h0M1835.6 317.7h0M1942.6 255.2h0M1898.2 258.4h0M1742.6 295.1h0M1803.2 262.6h0M1838.8 301.3h0M1745 315.8h0M1733.5 325.6h0M1849.2 295.5h0M1776.6 277h0M1744 279.3h0M1842.4 282.9h0M1727.1 295.6h0M1864.9 272.1h0M1786.3 325.6h0M1953.5 304h0M1799.8 276.3h0M1759 324.1h0M1900.5 263.4h0M1762.7 274.9h0M1742.3 257.5h0M1861.5 321.6h0M1808.1 286.2h0M1906.7 292.4h0M1930.7 274.8h0M1917.6 260.9h0M1784.2 324h0M1949.6 299.6h0M1925.4 294.9h0M1861.4 297.2h0M1822.3 296.1h0M1726.8 287.2h0M1801.9 257.3h0M1813.4 255.3h0M1795.2 300.2h0M1830.7 315.1h0M1807.3 309.9h0M1916.9 312.3h0M1836.3 329.5h0M1894 321.4h0M1813.2 276.4h0M1720.6 309.7h0M1798.8 298.8h0M1901.2 312.7h0M1847.7 322.4h0M1836.3 271.3h0M1722.8 327.2h0M1771.9 312.2h0M1734.8 302.7h0M1833.7 302h0M1892.8 280.3h0M1955.9 314h0M1849.2 288h0M1773.3 294.7h0M1848 277.8h0M1824.5 290.4h0M1829.1 302.4h0M1793.7 280.4h0M1957.1 321h0M1824.8 275.2h0M1905.9 267.1h0M1965 308.5h0M1958.9 300.1h0M1752.5 258h0M1756.3 302.6h0" stroke-width="1.5"/><path d="M1919.5 267.7h0M1756.5 257h0M1726.4 302h0M1949.5 268h0M1856.5 320.2h0M1959.9 281.5h0M1842.4 270.9h0M1721.4 322.7h0M1822.2 310.7h0M1764 274.6h0M1921.4 266.3h0M1795.9 319h0M1901.4 316h0M1771.4 270.1h0M1846.2 312.1h0M1801.3 264.6h0M1910.1 302.9h0M1837.3 322.1h0M1771.2 267.7h0M1923.2 292.1h0M1730.4 262.6h0M1836.7 287.2h0M1752.3 315.2h0M1720.1 268.9h0M1881.5 263h0M1949.6 276.3h0M1773.8 298.4h0M1910.9 313.8h0M1902.8 328.7h0M1805.1 258.4h0M1733.3 296.7h0M1812.4 307.4h0M1899.9 271.6h0M1946 262.8h0M1907 296.5h0M1787.9 256.5h0M1774.6 279.2h0M1864.7 290.8h0M1764.3 292.4h0M1862.9 290.9h0M1880.1 266.3h0M1781.2 312h0M1731.4 268.2h0M1737.5 282.3h0M1770.8 315.6h0M1747.1 283.8h0M1720.8 289.9h0M1785.6 274.6h0M1929.8 282.6h0M1725.2 315.8h0M1862.3 303.3h0M1816 307.8h0M1885.6 319h0M1804.8 272.7h0M1765.5 285.7h0M1869.2 325.7h0M1820 290.6h0M1847.9 274.3h0M1779.4 330h0M1860.9 284.3h0M1935.8 273.1h0M1905.6 276.9h0M1893.5 324.5h0M1764.7 293.9h0M1830.4 293.3h0M1750.3 326.6h0M1898.6 308.9h0M1814.8 292.8h0M1789.6 299.2h0M1800.5 256h0M1843.3 324.6h0M1779.4 317.6h0" stroke-width="1.25"/><path d="M1789.7 313.4h0M1836.3 328h0M1761.4 292h0M1767.7 282.4h0M1777.1 316.2h0M1847.1 323.2h0" stroke-width="1"/><path d="M1747.3 316.2h0M1879.4 280.9h0M1798.3 283.2h0" stroke-width="2"/></g>
<path d="M1709.54,343.97 C1711.06,338.57 1721.17,347.15 1724.76,346.74 C1728.36,346.32 1743.17,340.92 1745.53,339.82 C1747.88,338.71 1744.14,336.49 1748.3,335.66 C1752.45,334.83 1777.64,332.06 1787.06,331.51 C1796.47,330.96 1834.12,330.47 1842.43,330.13 C1850.73,329.78 1863.19,327.77 1870.11,328.05 C1877.03,328.33 1903.89,332 1911.64,332.89 C1919.39,333.79 1943.48,334.97 1947.63,337.05 C1951.79,339.12 1950.4,351.86 1953.17,353.66 C1955.94,355.46 1973.1,350.34 1975.32,355.04 C1977.53,359.75 2001.9,396.16 1975.32,400.72 C1948.74,405.29 1736.12,406.4 1709.54,400.72 C1682.96,395.05 1708.01,349.37 1709.54,343.97 Z" fill="url(#tealtop)" filter="url(#bump)"/>
<path d="M1709.54,370.27 C1711.75,366.67 1723.93,364.87 1731.69,364.73 C1739.44,364.59 1775.98,368.06 1787.06,368.89 C1798.13,369.72 1832.74,371.65 1842.43,373.04 C1852.12,374.42 1875.65,381.21 1883.96,382.73 C1892.26,384.25 1916.35,387.44 1925.48,388.27 C1934.62,389.1 1970.33,389.79 1975.32,391.03 C1980.3,392.28 2001.9,399.76 1975.32,400.72 C1948.74,401.69 1736.12,403.77 1709.54,400.72 C1682.96,397.68 1707.32,373.87 1709.54,370.27 Z" fill="url(#tealfront)"/>
<path d="M1709.54,393.8 L1745.53,389.65 L1800.9,399.34 L1709.54,400.72 Z" fill="#000"/>
<rect x="1937.3" y="380.9" width="28.3" height="2.8" fill="#fff"/>
<text x="1951.5" y="393.1" font-size="10.5" textLength="24.36" lengthAdjust="spacingAndGlyphs" text-anchor="middle" fill="#fff">50µm</text>
</g>
<rect x="892.5" y="931.2" width="542.5" height="28.3" fill="#000"/>
<text x="997.65" y="951.3" font-size="20" textLength="128.5" lengthAdjust="spacingAndGlyphs" text-anchor="middle" font-weight="bold" fill="#8e2a77">UEA1 (mucus)</text>
<text x="1138.05" y="951.3" font-size="20" textLength="124.7" lengthAdjust="spacingAndGlyphs" text-anchor="middle" font-weight="bold" fill="#d2651d">WGA (mucus)</text>
<text x="1235.8" y="951.3" font-size="20" textLength="41.6" lengthAdjust="spacingAndGlyphs" text-anchor="middle" font-weight="bold" fill="#14a01c">DNA</text>
<text x="1331.3" y="951.3" font-size="20" textLength="122.4" lengthAdjust="spacingAndGlyphs" text-anchor="middle" font-weight="bold" fill="#185f95">Microspheres</text>
<rect x="1445.6" y="931.2" width="542.9" height="27.9" fill="#000"/>
<text x="1550.75" y="951.3" font-size="20" textLength="128.5" lengthAdjust="spacingAndGlyphs" text-anchor="middle" font-weight="bold" fill="#8e2a77">UEA1 (mucus)</text>
<text x="1691.15" y="951.3" font-size="20" textLength="124.7" lengthAdjust="spacingAndGlyphs" text-anchor="middle" font-weight="bold" fill="#d2651d">WGA (mucus)</text>
<text x="1788.9" y="951.3" font-size="20" textLength="41.6" lengthAdjust="spacingAndGlyphs" text-anchor="middle" font-weight="bold" fill="#14a01c">DNA</text>
<text x="1884.4" y="951.3" font-size="20" textLength="122.4" lengthAdjust="spacingAndGlyphs" text-anchor="middle" font-weight="bold" fill="#185f95">Microspheres</text>
<rect x="859.6" y="963.2" width="28.9" height="362.8" fill="#000"/>
<text x="879.45" y="1040" font-size="20.5" textLength="140.44" lengthAdjust="spacingAndGlyphs" text-anchor="middle" font-weight="bold" fill="#fff" transform="rotate(-90 879.45 1040)">Confocal image</text>
<text x="879.45" y="1218" font-size="20.5" textLength="104.84" lengthAdjust="spacingAndGlyphs" text-anchor="middle" font-weight="bold" fill="#fff" transform="rotate(-90 879.45 1218)">Isosurfaces</text>
<rect x="892.5" y="963.2" width="542.5" height="362.8" fill="#000"/>
<rect x="1445.6" y="964" width="542.9" height="363" fill="#000"/>
<rect x="893.5" y="1330.9" width="540.5" height="25.6" fill="#fff" stroke="#000" stroke-width="2"/>
<text x="1167.6" y="1349" font-size="19.5" textLength="155.27" lengthAdjust="spacingAndGlyphs" text-anchor="middle"><tspan font-style="italic">B.coc</tspan> [heat-killed]</text>
<rect x="1447.7" y="1330.9" width="539.8" height="25.6" fill="#fff" stroke="#000" stroke-width="2"/>
<text x="1722" y="1350" font-size="19.5" textLength="50.77" lengthAdjust="spacingAndGlyphs" text-anchor="middle"><tspan font-style="italic">B.coc</tspan></text>
<g clip-path="url(#cl9)">
<path d="M886.54,1019.3 C896.55,1009.07 925.2,1017.48 946.57,1016.57 C967.94,1015.66 992.05,1014.98 1014.78,1013.84 C1037.52,1012.7 1057.98,1011.57 1083,1009.75 C1108.01,1007.93 1151.21,991.56 1164.85,1002.93 C1178.49,1014.3 1176.22,1066.14 1164.85,1077.96 C1153.48,1089.79 1119.38,1072.05 1096.64,1073.87 C1073.9,1075.69 1051.16,1087.06 1028.43,1088.88 C1005.69,1090.69 983.86,1086.6 960.21,1084.78 C936.57,1082.96 898.82,1088.88 886.54,1077.96 C874.26,1067.05 876.54,1029.53 886.54,1019.3 Z" fill="url(#hdk)" filter="url(#b3)" opacity="0.9"/>
<path d="M902.91,1038.4 C912.46,1032.94 941.57,1034.31 960.21,1032.94 C978.86,1031.58 994.32,1031.12 1014.78,1030.21 C1035.25,1029.3 1062.53,1027.03 1083,1027.48 C1103.46,1027.94 1127.33,1027.94 1137.57,1032.94 C1147.8,1037.94 1153.48,1053.41 1144.39,1057.5 C1135.29,1061.59 1104.6,1057.04 1083,1057.5 C1061.4,1057.95 1037.52,1057.95 1014.78,1060.23 C992.05,1062.5 965.22,1070.23 946.57,1071.14 C927.93,1072.05 910.19,1071.14 902.91,1065.68 C895.64,1060.23 893.36,1043.86 902.91,1038.4 Z" fill="#a84a20" filter="url(#org)" opacity="0.8"/>
<path d="M886.54,1007.02 C894.27,1002.93 918.38,1003.16 932.93,1000.2 C947.48,997.24 957.94,991.56 973.86,989.29 C989.77,987.01 1010.24,987.24 1028.43,986.56 C1046.62,985.87 1067.08,987.01 1083,985.19 C1098.91,983.37 1110.28,978.37 1123.92,975.64 C1137.57,972.91 1158.03,960.41 1164.85,968.82 C1171.67,977.23 1176.22,1015.43 1164.85,1026.12 C1153.48,1036.81 1119.38,1032.71 1096.64,1032.94 C1073.9,1033.17 1051.16,1028.39 1028.43,1027.48 C1005.69,1026.57 983.86,1027.94 960.21,1027.48 C936.57,1027.03 898.82,1028.17 886.54,1024.76 C874.26,1021.35 878.81,1011.11 886.54,1007.02 Z" fill="#9a22e2" filter="url(#b3)"/>
<path d="M905.64,1020.66 C912.46,1015.43 930.65,1009.98 946.57,1007.02 C962.49,1004.06 982.95,1003.16 1001.14,1002.93 C1019.33,1002.7 1037.52,1005.66 1055.71,1005.66 C1073.9,1005.66 1095.5,1003.84 1110.28,1002.93 C1125.06,1002.02 1137.57,996.11 1144.39,1000.2 C1151.21,1004.29 1156.89,1021.12 1151.21,1027.48 C1145.52,1033.85 1126.2,1036.12 1110.28,1038.4 C1094.36,1040.67 1073.9,1039.76 1055.71,1041.13 C1037.52,1042.49 1019.33,1045.22 1001.14,1046.58 C982.95,1047.95 962.49,1050.68 946.57,1049.31 C930.65,1047.95 912.46,1043.17 905.64,1038.4 C898.82,1033.62 898.82,1025.89 905.64,1020.66 Z" fill="#e8642a" filter="url(#org)"/>
<path d="M932.93,1013.84 C942.02,1009.52 969.31,1003.16 987.5,1001.56 C1005.69,999.97 1023.88,1004.52 1042.07,1004.29 C1060.26,1004.06 1080.72,1002.25 1096.64,1000.2 C1112.55,998.15 1129.61,989.29 1137.57,992.01 C1145.52,994.74 1151.21,1011.8 1144.39,1016.57 C1137.57,1021.35 1113.69,1019.98 1096.64,1020.66 C1079.59,1021.35 1060.26,1019.98 1042.07,1020.66 C1023.88,1021.35 1005.69,1023.62 987.5,1024.76 C969.31,1025.89 942.02,1029.3 932.93,1027.48 C923.83,1025.67 923.83,1018.16 932.93,1013.84 Z" fill="#f060c0" filter="url(#pnk)"/>
<path d="M1137.57,975.64 L1151.21,970.19 L1153.94,975.64 L1151.21,1023.39 L1140.29,1030.21 Z" fill="#d8602a" filter="url(#b2)" opacity="0.8"/>
<path d="M902.91,1143.45 C869.63,1139.26 901.64,1118.07 905.64,1112.07 C909.64,1106.07 922.01,1102.06 932.93,1098.43 C943.84,1094.79 972.95,1086.97 987.5,1084.78 C1002.05,1082.6 1028.43,1083.51 1042.07,1082.05 C1055.71,1080.6 1080.72,1075.32 1089.82,1073.87 C1098.91,1072.41 1104.82,1070.05 1110.28,1071.14 C1115.74,1072.23 1125.29,1078.42 1130.74,1082.05 C1136.2,1085.69 1147.93,1090.24 1151.21,1098.43 C1154.48,1106.61 1188.41,1137.44 1155.3,1143.45 C1122.2,1149.45 936.2,1147.63 902.91,1143.45 Z" fill="#0a6a18" filter="url(#b2)" opacity="0.6"/>
<path d="M886.54,1019.3 C896.55,1009.07 925.2,1017.48 946.57,1016.57 C967.94,1015.66 992.05,1014.98 1014.78,1013.84 C1037.52,1012.7 1057.98,1011.57 1083,1009.75 C1108.01,1007.93 1151.21,991.56 1164.85,1002.93 C1178.49,1014.3 1176.22,1066.14 1164.85,1077.96 C1153.48,1089.79 1119.38,1072.05 1096.64,1073.87 C1073.9,1075.69 1051.16,1087.06 1028.43,1088.88 C1005.69,1090.69 983.86,1086.6 960.21,1084.78 C936.57,1082.96 898.82,1088.88 886.54,1077.96 C874.26,1067.05 876.54,1029.53 886.54,1019.3 Z" fill="url(#hdk)" filter="url(#b3)" opacity="0.9"/>
<path d="M902.91,1038.4 C912.46,1032.94 941.57,1034.31 960.21,1032.94 C978.86,1031.58 994.32,1031.12 1014.78,1030.21 C1035.25,1029.3 1062.53,1027.03 1083,1027.48 C1103.46,1027.94 1127.33,1027.94 1137.57,1032.94 C1147.8,1037.94 1153.48,1053.41 1144.39,1057.5 C1135.29,1061.59 1104.6,1057.04 1083,1057.5 C1061.4,1057.95 1037.52,1057.95 1014.78,1060.23 C992.05,1062.5 965.22,1070.23 946.57,1071.14 C927.93,1072.05 910.19,1071.14 902.91,1065.68 C895.64,1060.23 893.36,1043.86 902.91,1038.4 Z" fill="#a84a20" filter="url(#org)" opacity="0.8"/>
<path d="M886.54,1007.02 C894.27,1002.93 918.38,1003.16 932.93,1000.2 C947.48,997.24 957.94,991.56 973.86,989.29 C989.77,987.01 1010.24,987.24 1028.43,986.56 C1046.62,985.87 1067.08,987.01 1083,985.19 C1098.91,983.37 1110.28,978.37 1123.92,975.64 C1137.57,972.91 1158.03,960.41 1164.85,968.82 C1171.67,977.23 1176.22,1015.43 1164.85,1026.12 C1153.48,1036.81 1119.38,1032.71 1096.64,1032.94 C1073.9,1033.17 1051.16,1028.39 1028.43,1027.48 C1005.69,1026.57 983.86,1027.94 960.21,1027.48 C936.57,1027.03 898.82,1028.17 886.54,1024.76 C874.26,1021.35 878.81,1011.11 886.54,1007.02 Z" fill="#9a22e2" filter="url(#b3)"/>
<path d="M905.64,1020.66 C912.46,1015.43 930.65,1009.98 946.57,1007.02 C962.49,1004.06 982.95,1003.16 1001.14,1002.93 C1019.33,1002.7 1037.52,1005.66 1055.71,1005.66 C1073.9,1005.66 1095.5,1003.84 1110.28,1002.93 C1125.06,1002.02 1137.57,996.11 1144.39,1000.2 C1151.21,1004.29 1156.89,1021.12 1151.21,1027.48 C1145.52,1033.85 1126.2,1036.12 1110.28,1038.4 C1094.36,1040.67 1073.9,1039.76 1055.71,1041.13 C1037.52,1042.49 1019.33,1045.22 1001.14,1046.58 C982.95,1047.95 962.49,1050.68 946.57,1049.31 C930.65,1047.95 912.46,1043.17 905.64,1038.4 C898.82,1033.62 898.82,1025.89 905.64,1020.66 Z" fill="#e8642a" filter="url(#org)"/>
<path d="M932.93,1013.84 C942.02,1009.52 969.31,1003.16 987.5,1001.56 C1005.69,999.97 1023.88,1004.52 1042.07,1004.29 C1060.26,1004.06 1080.72,1002.25 1096.64,1000.2 C1112.55,998.15 1129.61,989.29 1137.57,992.01 C1145.52,994.74 1151.21,1011.8 1144.39,1016.57 C1137.57,1021.35 1113.69,1019.98 1096.64,1020.66 C1079.59,1021.35 1060.26,1019.98 1042.07,1020.66 C1023.88,1021.35 1005.69,1023.62 987.5,1024.76 C969.31,1025.89 942.02,1029.3 932.93,1027.48 C923.83,1025.67 923.83,1018.16 932.93,1013.84 Z" fill="#f060c0" filter="url(#pnk)"/>
<path d="M1137.57,975.64 L1151.21,970.19 L1153.94,975.64 L1151.21,1023.39 L1140.29,1030.21 Z" fill="#d8602a" filter="url(#b2)" opacity="0.8"/>
<path d="M902.91,1143.45 C869.63,1139.26 901.64,1118.07 905.64,1112.07 C909.64,1106.07 922.01,1102.06 932.93,1098.43 C943.84,1094.79 972.95,1086.97 987.5,1084.78 C1002.05,1082.6 1028.43,1083.51 1042.07,1082.05 C1055.71,1080.6 1080.72,1075.32 1089.82,1073.87 C1098.91,1072.41 1104.82,1070.05 1110.28,1071.14 C1115.74,1072.23 1125.29,1078.42 1130.74,1082.05 C1136.2,1085.69 1147.93,1090.24 1151.21,1098.43 C1154.48,1106.61 1188.41,1137.44 1155.3,1143.45 C1122.2,1149.45 936.2,1147.63 902.91,1143.45 Z" fill="#18e83a" filter="url(#gsp)"/>
<path d="M932.93,1112.07 C936.57,1108.98 972.95,1098.43 987.5,1095.7 C1002.05,1092.97 1028.43,1093.42 1042.07,1091.6 C1055.71,1089.79 1079.81,1083.33 1089.82,1082.05 C1099.82,1080.78 1110.74,1079.87 1117.1,1082.05 C1123.47,1084.24 1136.66,1095.33 1137.57,1098.43 C1138.48,1101.52 1133.02,1105.25 1123.92,1105.25 C1114.83,1105.25 1083.91,1098.43 1069.35,1098.43 C1054.8,1098.43 1029.34,1102.52 1014.78,1105.25 C1000.23,1107.98 971.13,1117.98 960.21,1118.89 C949.3,1119.8 929.29,1115.16 932.93,1112.07 Z" fill="#18e83a" filter="url(#gsp2)"/>
<ellipse cx="939.07" cy="1002.93" rx="4.77" ry="15.01" fill="#30f050" filter="url(#b1)"/>
<ellipse cx="935.66" cy="1050.68" rx="6.82" ry="9.55" fill="#30f050" filter="url(#b1)"/>
<ellipse cx="962.94" cy="1049.31" rx="5.46" ry="9.55" fill="#30f050" filter="url(#b1)"/>
<ellipse cx="986.13" cy="1053.41" rx="6.14" ry="12.28" fill="#30f050" filter="url(#b1)"/>
<ellipse cx="986.13" cy="1024.76" rx="4.09" ry="5.46" fill="#30f050" filter="url(#b1)"/>
<ellipse cx="995.68" cy="1024.76" rx="3.41" ry="6.14" fill="#30f050" filter="url(#b1)"/>
<ellipse cx="972.49" cy="1034.31" rx="2.73" ry="5.46" fill="#30f050" filter="url(#b1)"/>
<ellipse cx="1029.79" cy="1035.67" rx="2.73" ry="6.14" fill="#30f050" filter="url(#b1)"/>
<ellipse cx="1111.65" cy="1060.23" rx="4.77" ry="8.19" fill="#30f050" filter="url(#b1)"/>
<ellipse cx="1079.59" cy="1002.93" rx="4.09" ry="8.19" fill="#30f050" filter="url(#b1)"/>
<ellipse cx="1085.72" cy="1032.94" rx="2.73" ry="3.41" fill="#30f050" filter="url(#b1)"/>
<ellipse cx="962.94" cy="1035.67" rx="2.46" ry="5.46" fill="#30f050" filter="url(#b1)"/>
<rect x="1093.9" y="1120.2" width="30.7" height="2.8" fill="#fff"/>
<text x="1109" y="1138" font-size="12" textLength="27.84" lengthAdjust="spacingAndGlyphs" text-anchor="middle" fill="#fff">50µm</text>
</g>
<g clip-path="url(#cl10)">
<g filter="url(#bs)" stroke-linecap="round" fill="none"><path d="M1252.3 983.1v3.3" stroke="#1a9a3a" stroke-width="1.5" stroke-opacity="0.75"/><path d="M1316.5 1032.5v3.2M1381.7 1005.8v5.8M1226.7 985.6v8.3M1325.5 979.9v5.9" stroke="#1a5a7a" stroke-width="1.5" stroke-opacity="0.5"/><path d="M1194.5 999.4v6.3M1205 998.6v7.4M1408.1 1017.5v3.4M1178.3 1027.8v8.2M1306.7 975.1v3.3M1323.3 971.4v7.5M1244.7 986.9v7.5M1366.5 980.4v3M1323.9 1005v5.6M1223.1 1002.5v2.9M1379 998.5v4.1M1254.3 1015.9v2.9" stroke="#1a9a3a" stroke-width="1.5" stroke-opacity="0.5"/><path d="M1407 1009.6v5.9M1415.1 978.7v8M1332.5 1036.3v6.5M1232.1 992.6v2.8M1226 984.1v5.6M1317.5 997.6v6.1M1361.5 1018.6v6.4" stroke="#20806a" stroke-width="1.5" stroke-opacity="0.5"/><path d="M1216.8 1009.4v6.8M1321 979.2v4.8M1262.3 992.5v7.7" stroke="#1a9a3a" stroke-width="1.5" stroke-opacity="0.25"/><path d="M1312 1013v4.6M1353.3 1036.2v6.2M1281.2 972.1v8.2M1229.2 1014.5v5.5" stroke="#20806a" stroke-width="2" stroke-opacity="0.5"/><path d="M1317.2 1000.9v7.2" stroke="#20806a" stroke-width="1.5" stroke-opacity="0.25"/><path d="M1192.3 992.3v4.4M1185.7 1016.1v4.4M1179.7 981v5.3" stroke="#20806a" stroke-width="2.5" stroke-opacity="0.5"/><path d="M1276.6 1033.7v7.7M1329.3 977.3v3.4M1343.6 1006.8v3.6M1308.1 981.8v3.4M1357.9 981.9v4.2M1212 975.4v5.8M1356.9 1002.3v7" stroke="#1a5a7a" stroke-width="2.5" stroke-opacity="0.5"/><path d="M1249.8 1018.6v3.2M1299.8 1011.3v7.7M1367.7 992.6v8.1M1202.3 1023.4v4.2M1221.3 1030v4.7M1182.9 1025.6v7.3M1342.2 1024.8v4.1M1184.6 974.8v2.8M1341.6 1021.8v6.2" stroke="#1a9a3a" stroke-width="2" stroke-opacity="0.5"/><path d="M1195.2 989.2v6.7" stroke="#1a9a3a" stroke-width="2" stroke-opacity="0.25"/><path d="M1177.6 1003v4M1292 977.8v5.5M1377.1 1030.6v2.9M1281.6 977.5v4.5M1399 1013.7v3.4" stroke="#1a5a7a" stroke-width="2" stroke-opacity="0.5"/><path d="M1243.3 1021.4v3.3M1339.6 1033.5v6" stroke="#20806a" stroke-width="1.5" stroke-opacity="0.75"/><path d="M1283.4 1008.5v4.4M1321.4 1003.1v5.4M1196.2 1001.8v5.3" stroke="#1a5a7a" stroke-width="2.5" stroke-opacity="0.75"/><path d="M1275 996.4v3.8M1229.5 988v4.4" stroke="#20806a" stroke-width="2.5" stroke-opacity="0.25"/><path d="M1208.1 1006.4v6.7M1234.1 973.2v5.7M1206.5 1007.6v2.9" stroke="#1a9a3a" stroke-width="2" stroke-opacity="0.75"/><path d="M1296.7 1012.6v7.6M1257.4 1025.1v4.8" stroke="#1a9a3a" stroke-width="2.5" stroke-opacity="0.75"/><path d="M1371.9 1025.4v5.6M1201.7 998.4v3.8M1334.7 1012.4v4.8M1206 1002.6v5.5M1232.9 1001.3v5.6M1303.2 1020.7v6.1" stroke="#1a9a3a" stroke-width="2.5" stroke-opacity="0.5"/><path d="M1351.8 983.3v5.4" stroke="#1a5a7a" stroke-width="1" stroke-opacity="0.5"/><path d="M1187.1 1020.2v5.7" stroke="#20806a" stroke-width="2" stroke-opacity="0.75"/><path d="M1281.2 985.1v3.6M1236.4 1009.6v3.5M1200 1032.6v4.3M1345.7 976.9v7.8M1238.7 972.3v7.6" stroke="#1a5a7a" stroke-width="2.5" stroke-opacity="0.25"/><path d="M1372.2 1004v8.1M1417.5 1026.6v5.1M1185.5 980.8v5.2" stroke="#1a5a7a" stroke-width="2" stroke-opacity="0.75"/><path d="M1276.5 995.2v5.9" stroke="#1a5a7a" stroke-width="2" stroke-opacity="0.25"/><path d="M1181.8 1021.9v7.6" stroke="#20806a" stroke-width="2.5" stroke-opacity="0.75"/><path d="M1188.5 1028.5v5.1" stroke="#20806a" stroke-width="1" stroke-opacity="0.75"/><path d="M1221.8 1006v3.6" stroke="#1a5a7a" stroke-width="1.5" stroke-opacity="0.75"/><path d="M1369.8 1020.8v5.7" stroke="#1a9a3a" stroke-width="2.5" stroke-opacity="0.25"/></g>
<path d="M1171.03,1141.31 C1137.38,1137.63 1168.37,1119.24 1172.41,1113.72 C1176.46,1108.21 1190.16,1103.98 1201.38,1099.93 C1212.6,1095.89 1243.68,1085.22 1256.55,1083.38 C1269.43,1081.54 1286.9,1087.24 1297.93,1086.14 C1308.97,1085.03 1330.11,1076.94 1339.31,1075.1 C1348.51,1073.26 1359.54,1071.43 1366.9,1072.34 C1374.25,1073.26 1388.05,1078.32 1394.48,1082 C1400.92,1085.68 1411.31,1093.86 1415.17,1099.93 C1419.03,1106 1422.16,1122 1423.45,1127.52 C1424.74,1133.03 1458.48,1139.47 1424.83,1141.31 C1391.17,1143.15 1204.69,1144.99 1171.03,1141.31 Z" fill="#0a6a18" filter="url(#b2)" opacity="0.6"/>
<path d="M1201.38,1113.72 C1205.06,1110.6 1241.84,1099.93 1256.55,1097.17 C1271.26,1094.41 1297.93,1094.87 1311.72,1093.03 C1325.52,1091.2 1349.89,1084.67 1360,1083.38 C1370.11,1082.09 1381.15,1081.17 1387.59,1083.38 C1394.02,1085.59 1407.36,1096.8 1408.28,1099.93 C1409.2,1103.06 1403.68,1106.83 1394.48,1106.83 C1385.29,1106.83 1354.02,1099.93 1339.31,1099.93 C1324.6,1099.93 1298.85,1104.07 1284.14,1106.83 C1269.43,1109.59 1240,1119.7 1228.97,1120.62 C1217.93,1121.54 1197.7,1116.85 1201.38,1113.72 Z" fill="#18e83a" filter="url(#gsp2)"/>
<ellipse cx="939.07" cy="1002.93" rx="4.77" ry="15.01" fill="#30f050" filter="url(#b1)"/>
<ellipse cx="935.66" cy="1050.68" rx="6.82" ry="9.55" fill="#30f050" filter="url(#b1)"/>
<ellipse cx="962.94" cy="1049.31" rx="5.46" ry="9.55" fill="#30f050" filter="url(#b1)"/>
<ellipse cx="986.13" cy="1053.41" rx="6.14" ry="12.28" fill="#30f050" filter="url(#b1)"/>
<ellipse cx="986.13" cy="1024.76" rx="4.09" ry="5.46" fill="#30f050" filter="url(#b1)"/>
<ellipse cx="995.68" cy="1024.76" rx="3.41" ry="6.14" fill="#30f050" filter="url(#b1)"/>
<ellipse cx="972.49" cy="1034.31" rx="2.73" ry="5.46" fill="#30f050" filter="url(#b1)"/>
<ellipse cx="1029.79" cy="1035.67" rx="2.73" ry="6.14" fill="#30f050" filter="url(#b1)"/>
<ellipse cx="1111.65" cy="1060.23" rx="4.77" ry="8.19" fill="#30f050" filter="url(#b1)"/>
<ellipse cx="1079.59" cy="1002.93" rx="4.09" ry="8.19" fill="#30f050" filter="url(#b1)"/>
<ellipse cx="1085.72" cy="1032.94" rx="2.73" ry="3.41" fill="#30f050" filter="url(#b1)"/>
<ellipse cx="962.94" cy="1035.67" rx="2.46" ry="5.46" fill="#30f050" filter="url(#b1)"/>
<rect x="1093.9" y="1120.2" width="30.7" height="2.8" fill="#fff"/>
<text x="1109" y="1138" font-size="12" textLength="27.84" lengthAdjust="spacingAndGlyphs" text-anchor="middle" fill="#fff">50µm</text>
</g>
<g clip-path="url(#cl11)">
<g filter="url(#bs)" stroke-linecap="round" fill="none"><path d="M1187 989.7v5.5M1220.3 975v8.2M1366.4 1011.6v4.2M1312.2 975.9v3.6" stroke="#1a9a3a" stroke-width="1.5" stroke-opacity="0.5"/><path d="M1347.8 989.7v7.8M1374.1 1026v4.5M1273.6 989.9v7" stroke="#20806a" stroke-width="2" stroke-opacity="0.25"/><path d="M1221.4 1034.9v7.4M1219.9 995v7.3" stroke="#20806a" stroke-width="1" stroke-opacity="0.5"/><path d="M1412.1 1000.2v8M1352.3 1000.6v2.8" stroke="#20806a" stroke-width="1.5" stroke-opacity="0.75"/><path d="M1190.5 979.1v3.5M1261.3 1017.6v4M1301.5 1015.4v7.8M1357.1 972.9v8.3M1325 989.8v4.5M1401.7 998.4v3.7" stroke="#1a9a3a" stroke-width="2" stroke-opacity="0.75"/><path d="M1375.4 1004.2v7.8M1273.9 1013.4v3.1M1372.7 985.6v5.1M1332.1 992.1v5.2M1250.5 1027.5v4.2M1362.1 976.1v3.1M1190.6 1004.7v7.2" stroke="#1a5a7a" stroke-width="2" stroke-opacity="0.5"/><path d="M1292.6 974.1v5.1M1358.2 1028.1v2.9M1193.1 1021.5v8M1220.9 1020.5v3.7M1246.8 1027.9v3.1M1182.1 1013v6.8" stroke="#1a5a7a" stroke-width="2.5" stroke-opacity="0.5"/><path d="M1355.5 988.4v6.1M1227.4 1011.9v4.4M1332.5 978.2v4.1M1326.7 1013.1v3.1M1244.8 980.8v3.9" stroke="#1a5a7a" stroke-width="2" stroke-opacity="0.75"/><path d="M1261.5 1001.3v3.1M1219.1 996.1v6.3M1308.5 1002.7v3.6M1302 996.5v6M1198.6 1019.4v4.2M1401.5 978.4v7.3M1282.8 1012.7v5" stroke="#20806a" stroke-width="2.5" stroke-opacity="0.5"/><path d="M1336.2 1013.4v5.7M1269.8 982.2v7.3M1281.7 978v8.2M1202.7 1035.4v4.5M1348 1000.2v7.8M1402 1020.1v5.7M1412.7 1024.5v7M1181.5 1025.7v7.6" stroke="#1a5a7a" stroke-width="1.5" stroke-opacity="0.5"/><path d="M1398.5 1032.1v8M1198.1 976.9v5.6M1232.8 982.9v4.2M1336.7 981.7v6.7" stroke="#1a9a3a" stroke-width="1.5" stroke-opacity="0.25"/><path d="M1401.8 981.2v4.2M1355.2 1014.5v5.9M1219.7 978.5v4.9M1239.2 988.9v4.5M1361.4 979v5M1184.9 976.6v4.6M1241.3 990.3v4.2M1366.9 986.7v5.4M1365 1013.9v6.5M1191.8 1022.4v2.9" stroke="#20806a" stroke-width="2" stroke-opacity="0.5"/><path d="M1374 1034v7.8" stroke="#1a5a7a" stroke-width="1" stroke-opacity="0.5"/><path d="M1289.4 1009.2v8M1244.4 1027.7v4.5M1375.4 988.3v3.4M1319.5 1033.1v3.6" stroke="#1a5a7a" stroke-width="1.5" stroke-opacity="0.75"/><path d="M1302.9 1003.6v3.7" stroke="#20806a" stroke-width="1.5" stroke-opacity="0.25"/><path d="M1410.2 1016.9v7.8M1180.5 995.6v2.8M1278.6 1003.6v6.9M1256.3 973.9v7.9M1188.6 995.5v5.7" stroke="#20806a" stroke-width="1.5" stroke-opacity="0.5"/><path d="M1200.1 976.1v8" stroke="#1a5a7a" stroke-width="1.5" stroke-opacity="0.25"/><path d="M1371.4 976.7v7.9M1406.5 980.4v3M1222.4 1023.1v7.3" stroke="#1a9a3a" stroke-width="2" stroke-opacity="0.5"/><path d="M1350.9 1010v7.4" stroke="#1a9a3a" stroke-width="2.5" stroke-opacity="0.25"/><path d="M1376 1022.5v5.4" stroke="#1a9a3a" stroke-width="1.5" stroke-opacity="0.75"/><path d="M1188.1 974.6v5.2" stroke="#1a9a3a" stroke-width="2" stroke-opacity="0.25"/><path d="M1230.3 1007.8v4.4M1233 1005v8.3M1200.2 979v3.7M1175.7 1007.8v6M1188.5 1010.8v8.3" stroke="#1a9a3a" stroke-width="2.5" stroke-opacity="0.5"/><path d="M1197.4 1004.3v3M1391.2 999.5v4.8" stroke="#1a5a7a" stroke-width="2.5" stroke-opacity="0.75"/><path d="M1282.8 1000.8v5.4" stroke="#1a5a7a" stroke-width="1" stroke-opacity="0.75"/></g>
<path d="M1171.03,1141.31 C1137.38,1137.63 1168.37,1119.24 1172.41,1113.72 C1176.46,1108.21 1190.16,1103.98 1201.38,1099.93 C1212.6,1095.89 1243.68,1085.22 1256.55,1083.38 C1269.43,1081.54 1286.9,1087.24 1297.93,1086.14 C1308.97,1085.03 1330.11,1076.94 1339.31,1075.1 C1348.51,1073.26 1359.54,1071.43 1366.9,1072.34 C1374.25,1073.26 1388.05,1078.32 1394.48,1082 C1400.92,1085.68 1411.31,1093.86 1415.17,1099.93 C1419.03,1106 1422.16,1122 1423.45,1127.52 C1424.74,1133.03 1458.48,1139.47 1424.83,1141.31 C1391.17,1143.15 1204.69,1144.99 1171.03,1141.31 Z" fill="#18e83a" filter="url(#gsp)"/>
<path d="M1201.38,1113.72 C1205.06,1110.6 1241.84,1099.93 1256.55,1097.17 C1271.26,1094.41 1299.77,1095.24 1311.72,1093.03 C1323.68,1090.83 1337.01,1082.28 1346.21,1080.62 C1355.4,1078.97 1372.41,1078.05 1380.69,1080.62 C1388.97,1083.2 1406.44,1096.44 1408.28,1099.93 C1410.11,1103.43 1403.68,1106.83 1394.48,1106.83 C1385.29,1106.83 1354.02,1099.93 1339.31,1099.93 C1324.6,1099.93 1298.85,1104.07 1284.14,1106.83 C1269.43,1109.59 1240,1119.7 1228.97,1120.62 C1217.93,1121.54 1197.7,1116.85 1201.38,1113.72 Z" fill="#18e83a" filter="url(#gsp2)"/>
<ellipse cx="1191.72" cy="1003.38" rx="5.52" ry="17.93" fill="#24f048" filter="url(#b1)"/>
<ellipse cx="1240" cy="1024.07" rx="5.52" ry="9.66" fill="#24f048" filter="url(#b1)"/>
<ellipse cx="1249.66" cy="1024.07" rx="4.83" ry="9.66" fill="#24f048" filter="url(#b1)"/>
<ellipse cx="1217.93" cy="1036.48" rx="4.14" ry="6.9" fill="#24f048" filter="url(#b1)"/>
<ellipse cx="1224.83" cy="1033.72" rx="3.45" ry="6.9" fill="#24f048" filter="url(#b1)"/>
<ellipse cx="1188.97" cy="1051.66" rx="8.28" ry="11.03" fill="#24f048" filter="url(#b1)"/>
<ellipse cx="1215.17" cy="1051.66" rx="5.52" ry="9.66" fill="#24f048" filter="url(#b1)"/>
<ellipse cx="1241.38" cy="1053.03" rx="6.21" ry="12.41" fill="#24f048" filter="url(#b1)"/>
<ellipse cx="1288.28" cy="1035.1" rx="3.45" ry="7.59" fill="#24f048" filter="url(#b1)"/>
<ellipse cx="1340.69" cy="1002" rx="4.83" ry="10.34" fill="#24f048" filter="url(#b1)"/>
<ellipse cx="1347.59" cy="1033.72" rx="3.45" ry="4.14" fill="#24f048" filter="url(#b1)"/>
<ellipse cx="1376.55" cy="1061.31" rx="4.14" ry="9.66" fill="#24f048" filter="url(#b1)"/>
<ellipse cx="1208.28" cy="1076.48" rx="1.66" ry="5.52" fill="#24f048" filter="url(#b1)"/>
<ellipse cx="1230.34" cy="1083.38" rx="1.66" ry="4.14" fill="#24f048" filter="url(#b1)"/>
<ellipse cx="1220.69" cy="1070.97" rx="1.66" ry="3.45" fill="#24f048" filter="url(#b1)"/>
<rect x="1348.3" y="1124" width="26.9" height="2.8" fill="#fff"/>
<text x="1361.8" y="1137.9" font-size="11.5" textLength="26.68" lengthAdjust="spacingAndGlyphs" text-anchor="middle" fill="#fff">50µm</text>
</g>
<g clip-path="url(#cl12)">
<path d="M893.36,1176.83 C898.82,1171.15 912.69,1168.42 926.11,1165.92 C939.52,1163.42 961.35,1162.96 973.86,1161.83 C986.36,1160.69 992.05,1159.1 1001.14,1159.1 C1010.24,1159.1 1017.06,1160.69 1028.43,1161.83 C1039.79,1162.96 1059.12,1166.38 1069.35,1165.92 C1079.59,1165.47 1080.72,1161.37 1089.82,1159.1 C1098.91,1156.83 1113.01,1155.23 1123.92,1152.28 C1134.84,1149.32 1150.07,1134.32 1155.3,1141.36 C1160.53,1148.41 1162.8,1185.7 1155.3,1194.57 C1147.8,1203.44 1131.43,1195.03 1110.28,1194.57 C1089.14,1194.12 1053.44,1191.39 1028.43,1191.84 C1003.41,1192.3 982.72,1195.93 960.21,1197.3 C937.7,1198.66 904.51,1203.44 893.36,1200.03 C882.22,1196.62 887.91,1182.52 893.36,1176.83 Z" fill="#b07ad0" filter="url(#b1)"/>
<path d="M893.36,1186.38 C898.82,1174.33 912.69,1177.97 926.11,1175.47 C939.52,1172.97 956.8,1171.83 973.86,1171.38 C990.91,1170.92 1012.51,1172.29 1028.43,1172.74 C1044.34,1173.2 1057.98,1175.24 1069.35,1174.11 C1080.72,1172.97 1086.41,1168.42 1096.64,1165.92 C1106.87,1163.42 1120.97,1161.83 1130.74,1159.1 C1140.52,1156.37 1151.21,1139.55 1155.3,1149.55 C1159.39,1159.55 1162.8,1204.35 1155.3,1219.13 C1147.8,1233.91 1124.61,1234.13 1110.28,1238.23 C1095.96,1242.32 1083,1243.23 1069.35,1243.68 C1055.71,1244.14 1042.07,1240.5 1028.43,1240.95 C1014.78,1241.41 998.87,1243.91 987.5,1246.41 C976.13,1248.91 969.31,1254.82 960.21,1255.96 C951.12,1257.1 944.07,1254.6 932.93,1253.23 C921.79,1251.87 899.96,1258.92 893.36,1247.78 C886.77,1236.63 887.91,1198.44 893.36,1186.38 Z" fill="#d0a478" filter="url(#b1)"/>
<path d="M900.19,1191.84 C912.46,1182.97 952.48,1185.48 973.86,1185.02 C995.23,1184.57 1007.96,1190.02 1028.43,1189.11 C1048.89,1188.2 1076.63,1183.2 1096.64,1179.56 C1116.65,1175.93 1139.84,1161.37 1148.48,1167.29 C1157.12,1173.2 1157.12,1204.12 1148.48,1215.03 C1139.84,1225.95 1116.65,1229.81 1096.64,1232.77 C1076.63,1235.73 1051.16,1231.41 1028.43,1232.77 C1005.69,1234.13 981.59,1240.05 960.21,1240.95 C938.84,1241.86 910.19,1246.41 900.19,1238.23 C890.18,1230.04 887.91,1200.71 900.19,1191.84 Z" fill="#a07aa8" filter="url(#mt3)" opacity="0.45"/>
<g fill="none" stroke="#b8845a" stroke-width="0.7" opacity="0.45"><ellipse cx="1023.4" cy="1246.3" rx="5.7" ry="2.7"/><ellipse cx="1100.2" cy="1244.1" rx="2.3" ry="3.4"/><ellipse cx="1091.9" cy="1178.5" rx="5.6" ry="3.1"/><ellipse cx="1107.2" cy="1177.2" rx="4" ry="5.7"/><ellipse cx="950" cy="1187.3" rx="4" ry="3.3"/><ellipse cx="905.5" cy="1180.5" rx="2.6" ry="5.7"/><ellipse cx="1072" cy="1241.1" rx="2.7" ry="5.1"/><ellipse cx="925.8" cy="1210.1" rx="4.5" ry="3.4"/><ellipse cx="1122.1" cy="1212.2" rx="4.3" ry="5.5"/><ellipse cx="923.1" cy="1249.4" rx="4.5" ry="3.6"/><ellipse cx="1102.6" cy="1187.5" rx="6" ry="4.3"/><ellipse cx="989.3" cy="1230" rx="3.8" ry="2.7"/><ellipse cx="1088.6" cy="1169.1" rx="5.3" ry="3"/><ellipse cx="1061.6" cy="1248.6" rx="4.3" ry="4.7"/><ellipse cx="977" cy="1165.2" rx="2.1" ry="2.6"/><ellipse cx="1055.6" cy="1201.7" rx="4.1" ry="5.6"/><ellipse cx="930.2" cy="1184.3" rx="4.6" ry="2.1"/><ellipse cx="896.7" cy="1195.2" rx="2.4" ry="3.4"/><ellipse cx="954.1" cy="1214.6" rx="4.4" ry="2.8"/><ellipse cx="1057.6" cy="1205.4" rx="2.5" ry="5.7"/><ellipse cx="959.1" cy="1177.7" rx="2.4" ry="4.6"/><ellipse cx="1121.7" cy="1231.5" rx="3.6" ry="3.1"/><ellipse cx="899" cy="1219.8" rx="4.2" ry="3.4"/><ellipse cx="1063.2" cy="1202.7" rx="5.7" ry="4.9"/><ellipse cx="960.4" cy="1241.8" rx="2.2" ry="4.1"/><ellipse cx="1001.2" cy="1185.2" rx="2.2" ry="5.1"/><ellipse cx="899.2" cy="1211.8" rx="5.8" ry="2.6"/><ellipse cx="947.7" cy="1216.7" rx="4" ry="4.6"/><ellipse cx="1106.7" cy="1179.8" rx="3.2" ry="3.2"/><ellipse cx="908.6" cy="1240.6" rx="5.1" ry="4.9"/><ellipse cx="897.6" cy="1236.8" rx="5" ry="3.9"/><ellipse cx="1088.1" cy="1203.5" rx="2.9" ry="2.4"/><ellipse cx="956.2" cy="1168.3" rx="3.3" ry="5"/><ellipse cx="1076" cy="1236.9" rx="4.8" ry="3.1"/><ellipse cx="1039.4" cy="1202.1" rx="5.2" ry="4.1"/><ellipse cx="964.7" cy="1219.6" rx="5.9" ry="2.9"/><ellipse cx="1123.9" cy="1166.3" rx="3" ry="2.9"/><ellipse cx="1088.7" cy="1245.3" rx="5" ry="3.3"/><ellipse cx="1124" cy="1192.9" rx="3" ry="5.6"/><ellipse cx="1059.4" cy="1223.9" rx="4.7" ry="5.9"/><ellipse cx="1017.6" cy="1236.4" rx="4.8" ry="5.4"/><ellipse cx="1009.2" cy="1226.6" rx="4.3" ry="3.2"/><ellipse cx="950.9" cy="1217.9" rx="2.3" ry="5.6"/><ellipse cx="933.5" cy="1167.3" rx="2.4" ry="5.7"/><ellipse cx="985.3" cy="1177.1" rx="2.1" ry="2.2"/><ellipse cx="1075.4" cy="1218.9" rx="4.8" ry="4.9"/><ellipse cx="913" cy="1215.2" rx="3.5" ry="5.3"/><ellipse cx="1108.3" cy="1240.8" rx="2.3" ry="5.5"/><ellipse cx="1132.8" cy="1245.3" rx="2.4" ry="2.8"/><ellipse cx="925" cy="1167.9" rx="5.4" ry="5.2"/><ellipse cx="1060.3" cy="1235.1" rx="4.5" ry="3.1"/><ellipse cx="921.9" cy="1173.3" rx="5" ry="2.8"/><ellipse cx="978.7" cy="1201" rx="2.1" ry="3"/><ellipse cx="969.2" cy="1225.8" rx="3.5" ry="3.3"/><ellipse cx="1145.7" cy="1207.8" rx="5.4" ry="4.5"/><ellipse cx="904" cy="1200.1" rx="3.7" ry="5.1"/><ellipse cx="985.8" cy="1224.9" rx="4.2" ry="2.9"/><ellipse cx="1119.3" cy="1172.7" rx="5.3" ry="2.7"/><ellipse cx="896.3" cy="1182.2" rx="5" ry="5.9"/><ellipse cx="897.1" cy="1206.7" rx="4" ry="5.2"/><ellipse cx="943.8" cy="1207" rx="3.4" ry="5.3"/><ellipse cx="963.5" cy="1245.2" rx="3.1" ry="2.9"/><ellipse cx="1077.2" cy="1207.4" rx="2.4" ry="4.5"/><ellipse cx="916.9" cy="1232" rx="4.8" ry="5.1"/><ellipse cx="1058.6" cy="1195.2" rx="3.6" ry="3.6"/><ellipse cx="1126.6" cy="1172.3" rx="5.6" ry="2.1"/><ellipse cx="949.4" cy="1187.4" rx="5.6" ry="4"/><ellipse cx="994.2" cy="1240.1" rx="2.9" ry="3.8"/><ellipse cx="1033.7" cy="1229.1" rx="5" ry="4.6"/><ellipse cx="986.3" cy="1192.8" rx="2.6" ry="5.4"/><ellipse cx="1067.5" cy="1228.1" rx="2.7" ry="3.8"/><ellipse cx="1096.3" cy="1214.2" rx="2.5" ry="3.8"/><ellipse cx="1125.2" cy="1185.2" rx="2.8" ry="3.2"/><ellipse cx="1078.1" cy="1236.7" rx="2.6" ry="2.6"/><ellipse cx="960.1" cy="1192.8" rx="4.1" ry="2.6"/><ellipse cx="981" cy="1181.1" rx="5.9" ry="4.9"/><ellipse cx="922.4" cy="1246.8" rx="2.4" ry="3.5"/><ellipse cx="1150.8" cy="1232.6" rx="4.9" ry="3.7"/><ellipse cx="946.8" cy="1219.2" rx="2.4" ry="2.8"/><ellipse cx="996.6" cy="1167.9" rx="3.6" ry="5.2"/><ellipse cx="1075.6" cy="1207.5" rx="4.5" ry="3.9"/><ellipse cx="932.7" cy="1216.3" rx="3.6" ry="5"/><ellipse cx="1131.2" cy="1201.6" rx="4.3" ry="5"/><ellipse cx="1005.1" cy="1184.4" rx="4.9" ry="5.5"/><ellipse cx="1096.5" cy="1224.5" rx="5.4" ry="4.7"/><ellipse cx="1062.2" cy="1203.6" rx="3.3" ry="4.5"/><ellipse cx="921.3" cy="1200.7" rx="5.1" ry="4.9"/><ellipse cx="1059.1" cy="1186.3" rx="3.7" ry="3.8"/><ellipse cx="1057" cy="1199.8" rx="4.7" ry="5.7"/><ellipse cx="943.4" cy="1220.6" rx="5.1" ry="3.6"/><ellipse cx="1022.9" cy="1247.8" rx="2.2" ry="4.2"/><ellipse cx="937.7" cy="1231.5" rx="5.8" ry="4.1"/><ellipse cx="922.2" cy="1213.8" rx="4.2" ry="4.9"/><ellipse cx="1028.7" cy="1219.3" rx="5.3" ry="4.1"/><ellipse cx="1002.3" cy="1245.6" rx="2.8" ry="4.7"/><ellipse cx="997.7" cy="1229.8" rx="2.5" ry="5.9"/><ellipse cx="988.1" cy="1169.8" rx="3.1" ry="3.6"/><ellipse cx="899.4" cy="1200.6" rx="3.7" ry="4.8"/><ellipse cx="987.2" cy="1187.5" rx="2.9" ry="5"/><ellipse cx="1139.4" cy="1209.8" rx="2.9" ry="5.2"/><ellipse cx="997.5" cy="1183" rx="2.5" ry="5.1"/><ellipse cx="1105.7" cy="1218.9" rx="3.9" ry="4.2"/><ellipse cx="954.5" cy="1246.9" rx="3.4" ry="4.6"/><ellipse cx="1108.1" cy="1234.4" rx="3.9" ry="3.2"/><ellipse cx="1038" cy="1175.6" rx="5.3" ry="3.4"/><ellipse cx="1116.3" cy="1187.7" rx="3.5" ry="3"/><ellipse cx="1006.4" cy="1180.8" rx="2" ry="4.9"/><ellipse cx="968.8" cy="1185.8" rx="3.2" ry="3.9"/><ellipse cx="1007" cy="1219.2" rx="4.6" ry="3.4"/><ellipse cx="1136.5" cy="1237.6" rx="2.2" ry="5.3"/><ellipse cx="1130.6" cy="1231.6" rx="2.6" ry="5.3"/><ellipse cx="1060" cy="1166.3" rx="2" ry="5.8"/><ellipse cx="1065.9" cy="1186.3" rx="2.4" ry="2.6"/><ellipse cx="956.5" cy="1231" rx="3.4" ry="2.6"/><ellipse cx="1130.2" cy="1232.3" rx="2.7" ry="5.6"/><ellipse cx="1053.6" cy="1231.4" rx="4.7" ry="5.6"/><ellipse cx="1100.1" cy="1236.3" rx="2.8" ry="4.8"/><ellipse cx="1033.5" cy="1228.1" rx="3.8" ry="5.5"/><ellipse cx="1039.8" cy="1187.5" rx="2.9" ry="2.6"/><ellipse cx="1023.7" cy="1170" rx="3.9" ry="2.6"/><ellipse cx="1023.3" cy="1207.3" rx="4.2" ry="5.5"/><ellipse cx="897.7" cy="1236.5" rx="3.9" ry="4.3"/><ellipse cx="1068.3" cy="1236.4" rx="3.5" ry="3.7"/><ellipse cx="1144.8" cy="1171.4" rx="4.5" ry="4.5"/><ellipse cx="903.4" cy="1216.8" rx="4.7" ry="5.7"/><ellipse cx="981.6" cy="1248.4" rx="4" ry="3.9"/><ellipse cx="1128.5" cy="1167.9" rx="4.9" ry="4.5"/><ellipse cx="983.7" cy="1238.2" rx="3.5" ry="3.9"/><ellipse cx="1032.1" cy="1230.5" rx="2.8" ry="3.7"/><ellipse cx="1005.4" cy="1212.1" rx="5.3" ry="3.2"/><ellipse cx="1110.4" cy="1199.3" rx="4" ry="3.1"/><ellipse cx="1027.2" cy="1247.9" rx="4.6" ry="5.2"/><ellipse cx="981.7" cy="1192" rx="3.2" ry="4.3"/><ellipse cx="1060.4" cy="1231.7" rx="2.2" ry="4.9"/><ellipse cx="1125.4" cy="1211.4" rx="2.2" ry="3.2"/><ellipse cx="897.6" cy="1181.1" rx="5.7" ry="4.4"/><ellipse cx="1066.4" cy="1232.1" rx="5.6" ry="4.4"/><ellipse cx="1055.7" cy="1218.3" rx="4.8" ry="4.4"/><ellipse cx="1072.4" cy="1183.1" rx="4.7" ry="3.8"/><ellipse cx="1093.5" cy="1173.6" rx="2.7" ry="2.1"/><ellipse cx="1096.6" cy="1242.7" rx="4.6" ry="3.5"/><ellipse cx="1109.1" cy="1231.9" rx="4.2" ry="3"/><ellipse cx="974.2" cy="1200.9" rx="3.3" ry="3.7"/><ellipse cx="1062.2" cy="1244.4" rx="2.2" ry="4.3"/><ellipse cx="906.2" cy="1175.1" rx="5.2" ry="4.3"/><ellipse cx="1133.9" cy="1203" rx="2.1" ry="3.5"/><ellipse cx="1049.3" cy="1244.7" rx="5.9" ry="3.9"/><ellipse cx="1002.8" cy="1173.7" rx="4.6" ry="2.8"/><ellipse cx="935.3" cy="1166.3" rx="2" ry="4.7"/><ellipse cx="927.5" cy="1247.1" rx="2.4" ry="5.5"/><ellipse cx="929.4" cy="1166.5" rx="4.9" ry="3"/><ellipse cx="1086" cy="1180.9" rx="2.2" ry="5.1"/><ellipse cx="1080.8" cy="1237.7" rx="4.9" ry="2.3"/><ellipse cx="1058.8" cy="1225.3" rx="3.8" ry="5.7"/><ellipse cx="961.8" cy="1247" rx="4.9" ry="2"/><ellipse cx="899.8" cy="1220.3" rx="5.3" ry="2.3"/><ellipse cx="976.6" cy="1227" rx="2.7" ry="5.4"/><ellipse cx="1022" cy="1170.1" rx="3.5" ry="4.3"/><ellipse cx="1009.6" cy="1222.5" rx="2.6" ry="5.2"/><ellipse cx="990.1" cy="1219.8" rx="4.5" ry="3.7"/><ellipse cx="995.9" cy="1231.8" rx="5.8" ry="5.1"/><ellipse cx="1042.8" cy="1189.9" rx="2.2" ry="5.9"/><ellipse cx="1078.1" cy="1235.3" rx="3.3" ry="4.4"/><ellipse cx="1149.2" cy="1235.7" rx="4.4" ry="3.2"/><ellipse cx="1007" cy="1240.5" rx="3.5" ry="4.7"/><ellipse cx="1051.9" cy="1241.2" rx="5.2" ry="3.1"/><ellipse cx="896.4" cy="1187.4" rx="3.7" ry="4.3"/><ellipse cx="1107.3" cy="1240.4" rx="2.2" ry="5.3"/><ellipse cx="1106.2" cy="1238.7" rx="4.3" ry="3.1"/><ellipse cx="1116.5" cy="1233.6" rx="4.7" ry="5.7"/><ellipse cx="985.8" cy="1172.2" rx="4.2" ry="5.2"/><ellipse cx="947.9" cy="1228.8" rx="5.7" ry="2.9"/><ellipse cx="1053.2" cy="1222.6" rx="3.9" ry="2.8"/><ellipse cx="962" cy="1228.8" rx="5.2" ry="3.8"/><ellipse cx="918.7" cy="1233.6" rx="5.1" ry="2.9"/><ellipse cx="1046.1" cy="1241.2" rx="5.5" ry="4.1"/><ellipse cx="1019.4" cy="1215.1" rx="2.8" ry="2.8"/><ellipse cx="942.8" cy="1224.6" rx="3.5" ry="4.3"/><ellipse cx="1000.2" cy="1209" rx="2.6" ry="2.2"/><ellipse cx="1154.3" cy="1196.8" rx="2.4" ry="4.5"/><ellipse cx="1099.9" cy="1178.3" rx="4.4" ry="3.4"/><ellipse cx="1030.5" cy="1166.7" rx="2.1" ry="6"/><ellipse cx="1120.3" cy="1206.3" rx="4.3" ry="3"/><ellipse cx="1097.8" cy="1201.2" rx="5.8" ry="5.1"/><ellipse cx="1108.1" cy="1246.9" rx="3" ry="2.2"/><ellipse cx="948.1" cy="1180.4" rx="2.3" ry="2.2"/><ellipse cx="1040.4" cy="1239" rx="3.8" ry="5.8"/><ellipse cx="1131.7" cy="1170.5" rx="4.4" ry="3.6"/><ellipse cx="927.1" cy="1246.5" rx="3" ry="4.3"/><ellipse cx="1061.9" cy="1246.3" rx="4.7" ry="3.6"/><ellipse cx="1012.1" cy="1178.6" rx="5.9" ry="6"/><ellipse cx="953.4" cy="1168.3" rx="3" ry="3.4"/><ellipse cx="1129.8" cy="1241.9" rx="5.3" ry="2.2"/><ellipse cx="1099.7" cy="1225.3" rx="4.6" ry="5.9"/><ellipse cx="910.4" cy="1177.3" rx="5" ry="5.8"/><ellipse cx="1071.3" cy="1190.4" rx="4.4" ry="5"/><ellipse cx="923.3" cy="1192.5" rx="3" ry="2.5"/><ellipse cx="1020.7" cy="1179.3" rx="3" ry="2.6"/><ellipse cx="1071.5" cy="1166.1" rx="4.9" ry="2.8"/><ellipse cx="905.3" cy="1243.9" rx="2.9" ry="5.7"/><ellipse cx="1120.5" cy="1240.5" rx="2.6" ry="3.8"/><ellipse cx="921.1" cy="1243.9" rx="5.4" ry="4.5"/><ellipse cx="1013.2" cy="1193.9" rx="5.3" ry="3.9"/><ellipse cx="1058.7" cy="1177.1" rx="2.9" ry="2.2"/><ellipse cx="1080.9" cy="1212" rx="2.6" ry="5.5"/><ellipse cx="965" cy="1200" rx="2.6" ry="3.1"/><ellipse cx="1113.4" cy="1193.4" rx="2.7" ry="4"/><ellipse cx="978.4" cy="1241.8" rx="2.5" ry="5.9"/><ellipse cx="910.7" cy="1241.1" rx="4.7" ry="2.8"/><ellipse cx="1019.7" cy="1189.3" rx="3" ry="2.8"/><ellipse cx="990.3" cy="1249.2" rx="6" ry="5.7"/><ellipse cx="921.3" cy="1189.6" rx="5.6" ry="2.2"/><ellipse cx="1084.2" cy="1189.9" rx="5.9" ry="2.1"/><ellipse cx="1105" cy="1194" rx="2.6" ry="2"/><ellipse cx="1111.6" cy="1209.8" rx="2.7" ry="3.7"/><ellipse cx="1132.2" cy="1183.6" rx="4.3" ry="2.6"/><ellipse cx="942.7" cy="1230.5" rx="4.8" ry="2.8"/><ellipse cx="916.5" cy="1172.4" rx="4.4" ry="4"/><ellipse cx="966.9" cy="1182.5" rx="4.4" ry="4.8"/><ellipse cx="1106.2" cy="1214.5" rx="2.8" ry="2.3"/><ellipse cx="1085.8" cy="1199.7" rx="4.9" ry="2.2"/><ellipse cx="1106" cy="1193.5" rx="5.4" ry="5.5"/><ellipse cx="1023.7" cy="1166.3" rx="5.6" ry="3.9"/><ellipse cx="1121.9" cy="1187.6" rx="2.7" ry="5.3"/><ellipse cx="991.1" cy="1178.9" rx="3.5" ry="4.4"/><ellipse cx="897.2" cy="1209.2" rx="3.8" ry="4.1"/><ellipse cx="927.3" cy="1225.7" rx="5.3" ry="5.5"/><ellipse cx="979.1" cy="1225.5" rx="3.5" ry="5"/><ellipse cx="911.9" cy="1239.2" rx="5.8" ry="4"/><ellipse cx="1028.9" cy="1210.1" rx="4.1" ry="2.1"/><ellipse cx="1146.6" cy="1184" rx="2.7" ry="2.4"/><ellipse cx="960.9" cy="1234.5" rx="2.1" ry="2.4"/><ellipse cx="1077" cy="1181.6" rx="2.1" ry="4.4"/><ellipse cx="1045.3" cy="1209.4" rx="4.8" ry="2.4"/><ellipse cx="1121.2" cy="1226" rx="2.2" ry="2.5"/><ellipse cx="1023.8" cy="1207.6" rx="3.1" ry="2.5"/><ellipse cx="1001.1" cy="1176.6" rx="4.4" ry="5.4"/><ellipse cx="934.1" cy="1213.7" rx="5" ry="2.7"/><ellipse cx="1109.9" cy="1244.7" rx="3.6" ry="3.7"/><ellipse cx="1113.5" cy="1209.7" rx="3.6" ry="5.8"/><ellipse cx="1097.2" cy="1193.8" rx="3" ry="3.3"/><ellipse cx="1008.8" cy="1248.4" rx="5.2" ry="5.7"/><ellipse cx="1107.1" cy="1237" rx="2.2" ry="4.1"/><ellipse cx="1144.1" cy="1244.4" rx="3" ry="3.7"/><ellipse cx="1059.9" cy="1196" rx="4.1" ry="2.3"/><ellipse cx="1008.2" cy="1207.9" rx="2.1" ry="2.6"/><ellipse cx="1147.2" cy="1231" rx="5.7" ry="4.5"/><ellipse cx="1105.6" cy="1240.2" rx="5.5" ry="2.1"/><ellipse cx="1062.2" cy="1187.6" rx="4.7" ry="3.1"/><ellipse cx="1036.4" cy="1243.6" rx="4.5" ry="3"/><ellipse cx="1030.8" cy="1201.9" rx="5.8" ry="3.2"/><ellipse cx="975.1" cy="1220" rx="2.5" ry="4.4"/><ellipse cx="1143.6" cy="1208.7" rx="3.1" ry="3.9"/><ellipse cx="1034.3" cy="1177.6" rx="2.5" ry="2.5"/><ellipse cx="972" cy="1199.6" rx="3.2" ry="3"/><ellipse cx="918.8" cy="1211.4" rx="5.4" ry="4.4"/><ellipse cx="1043.7" cy="1220.3" rx="2.8" ry="4.8"/><ellipse cx="1015.4" cy="1211.6" rx="4.5" ry="3.9"/><ellipse cx="976.4" cy="1185.6" rx="2.9" ry="4"/><ellipse cx="995.2" cy="1214.8" rx="2" ry="3.4"/><ellipse cx="1119.2" cy="1185.3" rx="4.2" ry="4"/><ellipse cx="969.8" cy="1248.9" rx="3.2" ry="5.1"/><ellipse cx="937.1" cy="1170.7" rx="5.5" ry="3.8"/><ellipse cx="912.1" cy="1198" rx="3.8" ry="4.9"/><ellipse cx="924.3" cy="1184.1" rx="5.8" ry="5"/><ellipse cx="936" cy="1193.6" rx="3.4" ry="4.7"/><ellipse cx="1055.6" cy="1237.2" rx="5.3" ry="4.1"/><ellipse cx="1087.3" cy="1228.2" rx="5" ry="3.9"/><ellipse cx="1099.3" cy="1225.2" rx="5.7" ry="2.5"/><ellipse cx="1121.5" cy="1165.4" rx="5.1" ry="4.3"/><ellipse cx="1025" cy="1246.8" rx="4.3" ry="3.7"/><ellipse cx="1099" cy="1239.2" rx="4.4" ry="3.5"/><ellipse cx="1013.1" cy="1203.9" rx="4.9" ry="3.2"/><ellipse cx="997.2" cy="1212.2" rx="3.5" ry="3.3"/><ellipse cx="1099.9" cy="1237.2" rx="4" ry="3.8"/><ellipse cx="943.7" cy="1190.8" rx="2.6" ry="4.3"/><ellipse cx="1046.6" cy="1172.5" rx="5.7" ry="3.3"/><ellipse cx="1114.4" cy="1236.2" rx="5.8" ry="2.8"/><ellipse cx="1006.4" cy="1242.4" rx="2" ry="2.2"/><ellipse cx="1042.3" cy="1207.3" rx="5.7" ry="5.1"/><ellipse cx="1035.5" cy="1249.9" rx="4.1" ry="4.1"/><ellipse cx="1073.5" cy="1198.1" rx="3.4" ry="4.4"/><ellipse cx="986.9" cy="1245.6" rx="4.7" ry="4.1"/><ellipse cx="921.6" cy="1196.8" rx="3.6" ry="4.2"/><ellipse cx="1044.7" cy="1239.8" rx="5.9" ry="3.9"/><ellipse cx="1010" cy="1218.1" rx="6" ry="3.4"/><ellipse cx="1033.3" cy="1234.4" rx="2.7" ry="3.3"/><ellipse cx="1149.4" cy="1235.2" rx="4.1" ry="2.4"/><ellipse cx="1127.7" cy="1223.6" rx="5.3" ry="6"/><ellipse cx="1126" cy="1200.8" rx="2.6" ry="3.2"/><ellipse cx="1028.5" cy="1207.9" rx="2.8" ry="2.7"/><ellipse cx="1059.2" cy="1216.3" rx="3.4" ry="6"/><ellipse cx="1060.9" cy="1168.6" rx="3.6" ry="5.2"/><ellipse cx="975.4" cy="1223.7" rx="2" ry="3.2"/><ellipse cx="1114.1" cy="1214.8" rx="4.7" ry="2.8"/><ellipse cx="1024.9" cy="1212" rx="3.1" ry="4.6"/><ellipse cx="1033.7" cy="1249.8" rx="4.3" ry="3.6"/><ellipse cx="927.5" cy="1178.3" rx="5" ry="2.4"/><ellipse cx="921.9" cy="1179.5" rx="4.1" ry="5.3"/><ellipse cx="1054.8" cy="1233.6" rx="2.2" ry="2"/><ellipse cx="1095.6" cy="1192.4" rx="4.9" ry="3.4"/><ellipse cx="939.9" cy="1187.7" rx="2.4" ry="5.6"/><ellipse cx="1046.8" cy="1194.7" rx="3.8" ry="3.5"/><ellipse cx="910.2" cy="1240.7" rx="4.3" ry="5.8"/><ellipse cx="1009.9" cy="1217.7" rx="3" ry="2.2"/><ellipse cx="1137.1" cy="1237.7" rx="3.3" ry="5.6"/><ellipse cx="1107.3" cy="1190.8" rx="4.4" ry="5.8"/><ellipse cx="1024.3" cy="1245.7" rx="3" ry="3.6"/><ellipse cx="1082.1" cy="1183.8" rx="3.2" ry="5.5"/><ellipse cx="1021.5" cy="1232.4" rx="3" ry="2.7"/><ellipse cx="988.8" cy="1180.9" rx="5.9" ry="3.2"/><ellipse cx="1041.4" cy="1174.8" rx="4.1" ry="3.5"/><ellipse cx="1000.4" cy="1170.6" rx="2.5" ry="5.3"/><ellipse cx="987" cy="1185.8" rx="2.8" ry="3.1"/><ellipse cx="957.4" cy="1168" rx="4.7" ry="3.4"/><ellipse cx="936.4" cy="1225" rx="2.4" ry="3.1"/><ellipse cx="1112.3" cy="1175.9" rx="3.8" ry="5.3"/><ellipse cx="1104.5" cy="1178.5" rx="3.4" ry="4.9"/><ellipse cx="993.6" cy="1246.5" rx="2.8" ry="5.8"/><ellipse cx="1026.8" cy="1184.3" rx="3.8" ry="2.5"/><ellipse cx="1079" cy="1187.2" rx="5.6" ry="4.4"/><ellipse cx="991.3" cy="1185.9" rx="4.4" ry="2.9"/><ellipse cx="1121.9" cy="1175.4" rx="4.1" ry="4.2"/><ellipse cx="966" cy="1230.6" rx="3.5" ry="4.6"/><ellipse cx="1043" cy="1191.4" rx="3.6" ry="2.3"/><ellipse cx="941.9" cy="1237.3" rx="3.3" ry="4.7"/><ellipse cx="924.2" cy="1212.8" rx="3.4" ry="4"/><ellipse cx="972.9" cy="1170.6" rx="3.2" ry="2.9"/><ellipse cx="928.7" cy="1225.9" rx="3.1" ry="3.6"/><ellipse cx="1131.4" cy="1230.9" rx="5.5" ry="5.4"/></g>
<path d="M919.29,1249.14 C923.83,1252.78 937.48,1257.78 946.57,1257.33 C955.67,1256.87 962.49,1249.6 973.86,1246.41 C985.22,1243.23 998.87,1238.68 1014.78,1238.23 C1030.7,1237.77 1051.16,1244.14 1069.35,1243.68 C1087.54,1243.23 1114.83,1238 1123.92,1235.5 C1133.02,1233 1158.03,1228.68 1123.92,1228.68 C1089.82,1228.68 953.39,1232.09 919.29,1235.5 C885.18,1238.91 914.74,1245.5 919.29,1249.14 Z" fill="#9a5ab0" filter="url(#mt3)" opacity="0.6"/>
<g stroke="#c8d0e0" stroke-linecap="round" fill="none"><path d="M933 1177.7h0M1057.2 1168.2h0M910.1 1154h0M1071.1 1184.9h0M911.8 1174.4h0M931.9 1226.2h0M1036 1175h0M989.5 1191.2h0M990.7 1166.8h0M962.9 1174.6h0M1111.4 1242.7h0M920.1 1218.8h0M1010.8 1247h0M910 1194h0M1040.8 1184.8h0M956.6 1207.3h0M1028.3 1208.8h0M1040.8 1227.5h0M910.9 1210.4h0M1037.2 1230.3h0M1045.3 1161.4h0M927.6 1230.1h0M1100.1 1153.5h0M1123.5 1208.9h0" stroke-width="1"/><path d="M1069.9 1216.4h0M962.1 1234.7h0M949.5 1180.3h0M944.9 1233.9h0M1079.2 1175.5h0M1108.6 1227.6h0M910.7 1235.4h0M1075.7 1230.6h0M1067.6 1173.8h0M935.5 1206.3h0M942.3 1216.7h0M928.6 1178.9h0M951.6 1156h0M949.3 1220.2h0M928.2 1182.4h0M1040.9 1160.9h0M1008.6 1169h0M980 1186.9h0M992.3 1233.1h0M1136.2 1199.4h0M939.4 1180h0M1113.8 1228.7h0M970.8 1216.2h0M1005.3 1183.9h0M941.1 1179.6h0M921.3 1182.4h0M1143.6 1246.2h0M1052.3 1179.7h0M993 1208.1h0M1032.5 1206.5h0M963.4 1159.5h0M962.9 1198.9h0M1002 1157.3h0M1094 1155.8h0M993.1 1151.5h0M1006.5 1238.9h0M1106.4 1162.3h0M1131.3 1217.5h0M1137.2 1151.4h0M1104.6 1218h0M998.4 1237.3h0M919 1182.9h0M942.4 1186.1h0M1044.3 1188.8h0" stroke-width="1.25"/><path d="M1003.1 1215.9h0M1128.2 1223.4h0M909.8 1181.1h0M1097.9 1171h0M1087.4 1158.6h0M998.4 1224.8h0M970.3 1159h0M1006 1243h0M1084.7 1233h0M1013.2 1155.4h0M1007.1 1201.2h0M1036.6 1246.9h0M977.6 1163.7h0M1028.8 1194.5h0M987.9 1179.9h0M1103.8 1204.8h0M1015.3 1226.6h0M902.7 1249.2h0M921 1221.7h0M902.1 1242h0M1056.9 1243.5h0M906.9 1227.4h0M974.1 1168.6h0M1096.2 1233h0M981.7 1168.5h0M910.3 1206.7h0M1104.9 1220.6h0M1080.7 1150.3h0M1066.5 1232.6h0M1142.8 1240.9h0M1102.8 1156h0M1138.2 1198.1h0M974.8 1184.3h0M907 1168.9h0M1011.8 1158.5h0M928.6 1168.1h0M1037 1161.2h0M1115.9 1205.1h0M1089.2 1161.5h0M1080.4 1160.2h0M998 1167.1h0M953.3 1180h0M1118 1206.3h0M1117.7 1166.8h0M985.3 1226.4h0M1084.3 1244.8h0M948.3 1194.7h0M1038.6 1179h0M995.2 1164.4h0M1034.6 1219h0M937.7 1200.2h0M1018.9 1165.8h0" stroke-width="1.5"/></g>
<path d="M893.36,1292.8 C894.59,1287.75 901.69,1278.88 905.64,1276.43 C909.6,1273.97 926.11,1269.88 932.93,1268.24 C939.75,1266.6 967.31,1261.69 973.86,1260.05 C980.4,1258.42 992.95,1252.28 998.41,1251.87 C1003.87,1251.46 1022.7,1256.23 1028.43,1255.96 C1034.16,1255.69 1048.89,1250.1 1055.71,1249.14 C1062.53,1248.19 1089.14,1246.55 1096.64,1246.41 C1104.14,1246.28 1124.74,1245.05 1130.74,1247.78 C1136.75,1250.5 1154.07,1265.78 1156.67,1273.7 C1159.26,1281.61 1183,1321.58 1156.67,1326.9 C1130.34,1332.22 919.69,1330.31 893.36,1326.9 C867.03,1323.49 892.14,1297.84 893.36,1292.8 Z" fill="url(#minttop)" filter="url(#bump)"/>
<path d="M893.36,1295.53 C895.96,1292.39 915.33,1297.44 919.29,1295.53 C923.24,1293.62 930.47,1279.15 932.93,1276.43 C935.38,1273.7 941.52,1268.24 943.84,1268.24 C946.16,1268.24 954.07,1273.42 956.12,1276.43 C958.17,1279.43 959.8,1296.89 964.31,1298.25 C968.81,1299.62 993.36,1292.25 1001.14,1290.07 C1008.92,1287.89 1033.88,1279.43 1042.07,1276.43 C1050.25,1273.42 1076.17,1262.37 1083,1260.05 C1089.82,1257.74 1104.82,1252.96 1110.28,1253.23 C1115.74,1253.51 1132.93,1260.46 1137.57,1262.78 C1142.2,1265.1 1154.76,1270.01 1156.67,1276.43 C1158.58,1282.84 1183,1321.86 1156.67,1326.9 C1130.34,1331.95 919.69,1330.04 893.36,1326.9 C867.03,1323.77 890.77,1298.66 893.36,1295.53 Z" fill="#0f6e50"/>
<path d="M1018.88,1328.27 C1009.19,1326.63 1042.48,1315.03 1048.89,1311.9 C1055.3,1308.76 1076.86,1297.71 1083,1296.89 C1089.14,1296.07 1105.51,1301.94 1110.28,1303.71 C1115.06,1305.48 1127.2,1312.17 1130.74,1314.62 C1134.29,1317.08 1156.94,1326.9 1145.75,1328.27 C1134.56,1329.63 1028.56,1329.9 1018.88,1328.27 Z" fill="#000"/>
<rect x="1086.4" y="1305.3" width="31.4" height="2.8" fill="#fff"/>
<text x="1102" y="1318.7" font-size="12" textLength="27.84" lengthAdjust="spacingAndGlyphs" text-anchor="middle" fill="#fff">50µm</text>
</g>
<g clip-path="url(#cl13)">
<g stroke="#d8d0cc" stroke-linecap="round" fill="none"><path d="M1169.5 1214.5h0M1324.4 1221.2h0M1399.8 1226.8h0M1258.7 1174.2h0M1242.7 1165.3h0M1221.9 1192.9h0M1384.3 1185.9h0M1268.1 1226.5h0M1182.2 1194.7h0M1346.9 1184.5h0M1330.4 1217.2h0M1232.8 1197.1h0M1371.2 1178.9h0M1205.2 1233.3h0M1363.7 1227.7h0M1201.5 1196.4h0M1348.7 1177.8h0M1268.8 1211.8h0M1408.3 1191.4h0M1230.9 1218.3h0M1368.9 1173.6h0M1226.7 1189.5h0M1345.4 1178h0M1363.7 1219.1h0M1178.8 1198.1h0M1260 1224.9h0M1343.6 1202.9h0M1232.8 1182.6h0M1269 1212.8h0M1185.8 1216.6h0M1225.5 1214.8h0M1223.2 1210.5h0M1400 1208.2h0M1185.1 1212.1h0M1192 1222.6h0M1310.8 1187.3h0M1383.7 1202.6h0M1188.8 1214.4h0M1349.2 1226.5h0M1353.6 1221.4h0M1376.6 1219.3h0M1197.8 1227h0M1404.6 1188.5h0M1381 1206.7h0M1343.3 1227.9h0M1364 1186.7h0M1181.2 1180.7h0M1247.3 1197.6h0M1232.3 1192.3h0M1406 1177h0M1233.6 1174.2h0M1269.9 1241.9h0M1201 1185.6h0M1319.3 1178h0M1202.3 1178h0M1177.8 1244.3h0M1323.5 1185.8h0M1343 1199.6h0M1214.9 1193.3h0M1323.7 1176.7h0M1280.4 1157.3h0M1375.8 1161.1h0M1366.3 1149.6h0M1368.5 1200h0M1377.9 1246.8h0M1230.4 1181.1h0M1353.9 1177.9h0M1364.3 1208.8h0M1183.8 1153h0M1407.5 1227.5h0M1358.1 1166.3h0M1297.6 1173.8h0M1381.6 1170.5h0M1186.4 1199.4h0M1218.7 1224.6h0M1350.9 1209.5h0M1315.7 1253.2h0M1176.9 1197.7h0M1414.9 1199.8h0M1168 1217.9h0M1202 1173.9h0M1182.1 1173.1h0M1231.1 1173.4h0M1297.4 1226.3h0M1268.3 1195.5h0M1347.2 1177.7h0M1169 1172.6h0M1343.6 1263.5h0M1250.8 1207.7h0M1271.1 1202.5h0M1252.4 1204h0M1397.5 1212.2h0M1363.4 1172.7h0M1331.9 1212.8h0M1215.6 1214.9h0M1324.6 1173.9h0M1244.9 1224.5h0M1364.2 1182.2h0M1298.7 1238.1h0M1263.6 1203h0M1398.7 1219.2h0M1280.6 1221.4h0M1358.4 1197.5h0M1201.4 1157.8h0M1251.7 1174.8h0M1379.1 1183.5h0M1352 1186h0M1233.7 1188.9h0M1255.2 1190.4h0M1252.1 1174.9h0M1383.9 1213.8h0M1362.9 1187.8h0M1217.8 1181.2h0M1291.6 1225.2h0M1398.4 1212.2h0M1316.7 1176.1h0M1231.1 1207h0M1357.3 1174.4h0M1401.4 1201.6h0M1254.9 1227.9h0M1267.2 1196.9h0M1303.7 1193.3h0M1325.9 1202.2h0M1232.4 1189.5h0M1204.3 1172.4h0M1380.1 1191.3h0M1409.3 1149.6h0M1264.6 1175.4h0" stroke-width="1.25"/><path d="M1173.1 1200.1h0M1254.3 1161.3h0M1399.5 1185.9h0M1359.3 1196.4h0M1184.7 1203.1h0M1214.5 1209.4h0M1236.7 1207.8h0M1412.4 1172.4h0M1395.6 1164.4h0M1325.1 1186.3h0M1281.6 1183.9h0M1382.7 1177.1h0M1386.2 1188.2h0M1195.6 1261.9h0M1169.3 1217.9h0M1227.5 1168.8h0M1178.7 1190.8h0M1189.7 1192.5h0M1263.2 1214.4h0M1297.9 1204.6h0M1282.2 1200.5h0M1270.5 1201.8h0M1197.2 1171.5h0M1312.2 1188.9h0M1395.8 1212.3h0M1406.9 1186.3h0M1400.6 1184.8h0M1383.3 1205.2h0M1296 1180h0M1368.2 1200.4h0M1222.3 1184.7h0M1383.1 1180.9h0M1299.3 1258.5h0M1362.5 1175.2h0M1226.5 1204.1h0M1189.5 1223.3h0M1251.9 1216.4h0M1277.2 1224.3h0M1387.8 1218.2h0M1265.4 1205h0M1257.8 1262.1h0M1326.4 1178.7h0M1409.6 1222.9h0M1335.1 1190.7h0M1208 1214h0M1392.5 1199h0M1306 1225.5h0M1236 1188.5h0M1232.2 1237.6h0M1307.9 1187.4h0M1296.7 1225.3h0M1270.1 1205.3h0M1309.7 1177.9h0M1370.8 1222.9h0M1278.1 1211.6h0M1313.4 1172.2h0M1208.4 1220.9h0M1360 1201.6h0M1348.9 1191.1h0M1218.8 1174.2h0M1183.5 1173.6h0M1224.5 1192.1h0M1397.8 1221.6h0M1232.9 1163.4h0M1387.7 1255h0M1321.1 1216.3h0M1175.6 1226.7h0M1410.3 1223.5h0M1258.7 1209.5h0M1393.7 1227.8h0M1219.7 1176.1h0M1252.6 1244.9h0M1212.6 1162.2h0M1223.1 1152.8h0M1195.5 1174.8h0M1238.5 1190.7h0M1285.8 1206.4h0M1297 1214.8h0M1387.4 1224.4h0M1404.4 1177.3h0M1271.8 1208.5h0M1405.7 1168.1h0M1225.5 1196.7h0M1219.2 1194.1h0M1256.8 1224.6h0M1242.3 1175.7h0M1345.1 1172.5h0M1206.9 1172.2h0M1259.8 1198.6h0M1180.7 1179.6h0M1301.2 1185.4h0M1280.6 1185.7h0M1287.6 1195h0M1190.8 1207.8h0M1173.8 1205.3h0M1375.1 1256h0M1277.3 1155.4h0M1255.6 1220.6h0M1335.3 1185.8h0M1290.4 1188.6h0M1254.4 1208.8h0M1263.6 1218.1h0M1236.1 1184.9h0M1318.5 1225.7h0" stroke-width="1.75"/><path d="M1235.3 1177.8h0M1232.7 1213.3h0M1404.4 1264.1h0M1324.9 1187.1h0M1279.9 1198.5h0M1208.6 1177.2h0M1322.7 1185.1h0M1315.7 1175.8h0M1301 1215.6h0M1351 1175.9h0M1182.9 1205.2h0M1194.6 1233h0M1267.3 1248.7h0M1336.6 1216.7h0M1292.7 1172.8h0M1246.2 1250.4h0M1233.4 1153.3h0M1170.6 1227.6h0M1302.4 1210.9h0M1266.6 1183.2h0M1361.6 1254h0M1248.1 1222.5h0M1246 1261.6h0M1378.8 1206.2h0M1413.7 1173.1h0M1351.6 1190.5h0M1265.2 1208.2h0M1335.3 1183.7h0M1346.2 1207.6h0M1298.6 1207.9h0M1371 1200.2h0M1366.4 1207.6h0M1339.7 1198.9h0M1336 1189h0M1227.7 1245.1h0M1344 1180.4h0M1276.6 1204h0M1371.7 1225.4h0M1338.7 1195.2h0M1203.9 1185.1h0M1380.1 1211.7h0M1231.5 1169.2h0M1260.3 1200.7h0M1180.6 1182.7h0M1291.1 1225.9h0M1402.9 1194.8h0M1176.1 1190.6h0M1381.4 1216.7h0M1279.1 1174.7h0M1191.2 1250.5h0M1208.5 1209.3h0M1363.4 1213.4h0M1183.3 1174.5h0M1271.4 1217.6h0M1189.7 1177.5h0M1186.7 1219.9h0M1404.6 1188.4h0M1324.1 1190.1h0M1336.8 1211.9h0M1203.7 1215.5h0M1179.5 1192.1h0M1239.9 1210.3h0M1298.7 1179.6h0M1332.9 1214.3h0M1220.6 1171.9h0M1175 1205.6h0M1183.6 1220.6h0M1312.5 1193h0M1249.4 1263.4h0M1201 1199.5h0M1216.6 1176.9h0M1371 1160.4h0M1185.5 1183.8h0M1386.7 1203.1h0M1312.6 1221.4h0M1181.3 1201.5h0M1371.5 1221.1h0M1169.7 1154h0M1315.9 1207.4h0M1268.6 1218.3h0M1400.9 1198h0M1371.9 1182.6h0M1207.8 1208.7h0M1276.2 1227.4h0M1326.9 1215.9h0M1269 1227.7h0M1330.8 1215.4h0M1262.6 1223.3h0M1230.2 1188.9h0M1262.9 1188.8h0M1284.5 1249.4h0M1343.7 1156.2h0M1210.9 1172.7h0M1396.3 1200.3h0M1291.3 1217.6h0M1400 1193.2h0M1405.4 1183.6h0M1280.2 1212.4h0M1312.6 1199.3h0M1367.3 1223.4h0M1196.8 1174.2h0M1351.1 1219.9h0M1334 1241h0M1390.3 1172.9h0M1326.6 1221.2h0M1313.4 1168.8h0M1190.6 1219.9h0M1272.6 1209h0M1239.8 1221.8h0M1282.1 1168.7h0M1296.8 1188.5h0M1199.9 1200.9h0M1239.3 1200.8h0M1368.8 1175.4h0M1351.8 1226.2h0M1224.1 1153.5h0M1217 1200.4h0M1198.8 1254.7h0M1271.8 1206.6h0M1207.8 1194.2h0M1267.6 1187.5h0M1304.9 1224.5h0M1174.6 1183.8h0M1254.7 1233.5h0M1363.4 1214.1h0" stroke-width="1.5"/><path d="M1236.1 1175.9h0M1413.7 1180.7h0M1312.6 1190.5h0M1239.9 1192.6h0M1333.7 1178.3h0M1374.6 1173.2h0M1252.8 1225.2h0M1211.3 1202.8h0M1207.6 1227.8h0" stroke-width="1"/></g>
<path d="M1165.52,1293.1 C1167.03,1287.72 1176.41,1276.55 1180.69,1273.79 C1184.97,1271.03 1202.76,1266.9 1208.28,1265.52 C1213.79,1264.14 1230.34,1261.52 1235.86,1260 C1241.38,1258.48 1258.62,1251.03 1263.45,1250.34 C1268.28,1249.66 1279.31,1253.24 1284.14,1253.1 C1288.97,1252.97 1304.83,1249.66 1311.72,1248.97 C1318.62,1248.28 1345.52,1246.48 1353.1,1246.21 C1360.69,1245.93 1381.38,1243.59 1387.59,1246.21 C1393.79,1248.83 1412,1264.28 1415.17,1272.41 C1418.34,1280.55 1444.28,1322.07 1419.31,1327.59 C1394.34,1333.1 1190.9,1331.03 1165.52,1327.59 C1140.14,1324.14 1164,1298.48 1165.52,1293.1 Z" fill="url(#minttop)" filter="url(#bump)"/>
<path d="M1165.52,1293.1 C1167.72,1289.93 1184,1297.79 1187.59,1295.86 C1191.17,1293.93 1198.62,1276.69 1201.38,1273.79 C1204.14,1270.9 1212.69,1266.48 1215.17,1266.9 C1217.66,1267.31 1224.14,1274.76 1226.21,1277.93 C1228.28,1281.1 1231.45,1297.24 1235.86,1298.62 C1240.28,1300 1264.14,1293.1 1270.34,1291.72 C1276.55,1290.34 1291.72,1287.86 1297.93,1284.83 C1304.14,1281.79 1326.21,1264.83 1332.41,1261.38 C1338.62,1257.93 1355.17,1251.45 1360,1250.34 C1364.83,1249.24 1375.17,1248 1380.69,1250.34 C1386.21,1252.69 1411.31,1266.07 1415.17,1273.79 C1419.03,1281.52 1444.28,1322.21 1419.31,1327.59 C1394.34,1332.97 1190.9,1331.03 1165.52,1327.59 C1140.14,1324.14 1163.31,1296.28 1165.52,1293.1 Z" fill="#0f6e50"/>
<path d="M1284.14,1328.97 C1274.9,1327.31 1312.41,1315.59 1318.62,1312.41 C1324.83,1309.24 1341.38,1298.07 1346.21,1297.24 C1351.03,1296.41 1362.07,1302.62 1366.9,1304.14 C1371.72,1305.66 1390.07,1309.93 1394.48,1312.41 C1398.9,1314.9 1422.07,1327.31 1411.03,1328.97 C1400,1330.62 1293.38,1330.62 1284.14,1328.97 Z" fill="#000"/>
<rect x="1347.6" y="1302.5" width="29.6" height="2.8" fill="#fff"/>
<text x="1362" y="1316.3" font-size="11.5" textLength="26.68" lengthAdjust="spacingAndGlyphs" text-anchor="middle" fill="#fff">50µm</text>
</g>
<g clip-path="url(#cl14)">
<path d="M1436.69,970.31 L1730.16,970.31 L1730.16,1141.96 L1436.69,1141.96 Z" fill="url(#hpur)"/>
<path d="M1436.69,996.61 C1447.31,986.22 1478.22,990.38 1500.37,989.69 C1522.52,988.99 1546.51,991.07 1569.58,992.45 C1592.66,993.84 1618.03,995.68 1638.8,997.99 C1659.56,1000.3 1678.94,1003.53 1694.17,1006.3 C1709.4,1009.07 1724.16,1005.84 1730.16,1014.6 C1736.16,1023.37 1743.08,1053.82 1730.16,1058.9 C1717.24,1063.97 1677.1,1048.75 1652.64,1045.06 C1628.19,1041.37 1606.5,1036.75 1583.43,1036.75 C1560.36,1036.75 1538.67,1042.52 1514.21,1045.06 C1489.76,1047.59 1449.61,1060.05 1436.69,1051.98 C1423.77,1043.9 1426.08,1006.99 1436.69,996.61 Z" fill="#8a22c8" filter="url(#vio)" opacity="0.85"/>
<path d="M1458.84,970.31 C1464.61,968 1479.61,975.38 1493.45,978.61 C1507.29,981.84 1526.9,986.46 1541.9,989.69 C1556.9,992.92 1569.58,997.53 1583.43,997.99 C1597.27,998.45 1613.42,993.84 1624.96,992.45 C1636.49,991.07 1642.26,987.84 1652.64,989.69 C1663.02,991.53 1676.87,997.76 1687.25,1003.53 C1697.63,1009.3 1710.32,1018.29 1714.93,1024.29 C1719.55,1030.29 1720.7,1038.83 1714.93,1039.52 C1709.17,1040.21 1695.32,1032.6 1680.33,1028.45 C1665.33,1024.29 1643.41,1017.6 1624.96,1014.6 C1606.5,1011.6 1588.04,1012.3 1569.58,1010.45 C1551.13,1008.6 1532.67,1006.53 1514.21,1003.53 C1495.76,1000.53 1468.07,997.99 1458.84,992.45 C1449.61,986.92 1453.07,972.61 1458.84,970.31 Z" fill="#e8642a" filter="url(#org)"/>
<path d="M1460.23,968.92 C1464.61,967.77 1476.38,974.23 1486.53,977.23 C1496.68,980.23 1517.67,983.69 1521.14,986.92 C1524.6,990.15 1515.37,995.45 1507.29,996.61 C1499.22,997.76 1480.53,995.91 1472.69,993.84 C1464.84,991.76 1462.3,988.3 1460.23,984.15 C1458.15,980 1455.84,970.07 1460.23,968.92 Z" fill="#f062b8" filter="url(#b2)"/>
<path d="M1539.13,975.84 C1540.51,973.3 1547.9,971.23 1550.2,973.07 C1552.51,974.92 1554.36,984.38 1552.97,986.92 C1551.59,989.45 1544.21,990.15 1541.9,988.3 C1539.59,986.46 1537.75,978.38 1539.13,975.84 Z" fill="#f06a3a" filter="url(#b2)"/>
<path d="M1522.52,973.07 C1524.37,970.54 1533.59,968.46 1536.36,970.31 C1539.13,972.15 1540.98,981.61 1539.13,984.15 C1537.28,986.69 1528.06,987.38 1525.29,985.53 C1522.52,983.69 1520.67,975.61 1522.52,973.07 Z" fill="#9a30d8" filter="url(#b2)"/>
<g stroke="#30c050" stroke-linecap="round" fill="none"><path d="M1681.2 995.2h0M1534.2 986.9h0M1534.8 1001h0M1687.9 994.7h0M1507.8 997.2h0M1662.2 1001.1h0M1486.1 996.6h0M1684.2 974.3h0M1541.2 1007.5h0M1500.3 991.5h0M1590.6 1004.6h0M1629.3 1000.6h0M1596.1 988h0M1650.1 994.8h0M1533.6 974.1h0M1545.7 995.4h0M1562.9 1008.9h0M1599.8 973.3h0M1455.4 980.5h0M1536.1 1008.8h0M1522.3 978.5h0M1545.3 1006.3h0M1605 1002.6h0M1467.1 988.6h0M1620.7 988.7h0M1585.2 1007.7h0M1492.2 984.3h0M1688.6 999.1h0M1672.3 997h0M1638.4 991.9h0M1509.9 987.7h0M1603.6 999.8h0M1524 1009.2h0M1577.6 985.5h0M1584.7 994.8h0M1560.9 997.6h0M1549.5 983.7h0M1642.1 980.9h0M1545.1 984.3h0M1648.2 1000.1h0M1522.9 975.3h0M1677.6 989.3h0M1533.7 1009h0M1683.6 988.8h0M1686.7 989.3h0" stroke-width="1.25"/><path d="M1554.9 1007.9h0M1453.2 1002.7h0M1585.9 973.2h0M1641.4 988.1h0M1687 1002.3h0M1610.8 978.9h0M1579.1 983.2h0M1548.3 1007h0M1676.5 987.8h0M1576.3 976.2h0M1656.3 982.3h0M1477.6 1006.8h0M1572.5 1003.4h0M1682.4 986.6h0M1704 982h0M1686.7 994.8h0M1668.4 976.8h0M1633.3 975.5h0M1624.1 1008.3h0M1648.8 982h0M1509.8 997.8h0M1569.7 991.6h0M1474.8 998.4h0M1593.2 1009.7h0M1662.3 983.8h0M1633.3 994.4h0M1463.8 999.5h0M1463 986.1h0M1711.1 984.8h0M1704 996.8h0M1626.3 1008.8h0M1637.1 1006.1h0M1493 983.4h0M1673.7 985.3h0" stroke-width="1.75"/><path d="M1689.9 993.8h0M1478.8 983.2h0M1489.7 998.1h0M1516.8 1003.2h0M1487.5 1003.1h0M1505.5 991.8h0M1637.4 973.1h0M1488.8 978.9h0M1559.3 993.1h0M1609 979.7h0M1473.4 985.3h0M1495.2 974.7h0M1475.8 1006.4h0M1564 978.8h0M1663.8 990.5h0M1481.4 984.9h0M1676.8 996.6h0M1678.7 999.5h0M1551 997.8h0M1511.6 985.5h0M1652.9 986.9h0M1606.8 982.4h0M1553.4 987h0" stroke-width="1"/><path d="M1497.5 987.2h0M1559.7 997.8h0M1700.4 1007.4h0M1665.5 1009.7h0M1473.6 1007.4h0M1490.8 1001.2h0M1694.7 976.2h0M1678.5 989.3h0M1518.7 1000h0M1477.4 991.3h0M1711.5 988.8h0M1574.9 977.4h0M1709 993h0M1573.9 999.6h0M1494.6 1007.4h0M1509.5 1006.5h0M1704.5 1001.5h0M1692 978.9h0M1487.6 990.4h0M1521.6 986.6h0M1707.2 978.2h0M1703.4 987.2h0M1484.2 983.5h0M1598.4 1008.1h0M1546.2 1008.1h0M1593.2 1004.9h0M1468.7 973.4h0M1669.6 997.8h0M1692.9 1009.7h0M1521.5 1005.6h0M1707.1 977.1h0M1710.3 996.1h0M1493.9 999.9h0M1582.7 994.3h0M1514.8 976.4h0M1552.8 985.4h0M1614.5 975.2h0M1539.2 976.8h0M1626.1 989h0M1539.1 982.8h0M1509.9 987.8h0M1478 991.6h0M1502.4 997.8h0M1577.8 977.7h0M1632.8 986.6h0M1452.9 976.4h0M1656.4 1005h0M1599.1 980.3h0M1524.1 991.6h0M1590.3 983.2h0M1635 1001.9h0M1516.7 1007.2h0M1636.3 1003.3h0M1512.8 1002h0M1627.8 996.5h0M1460.4 1008.6h0M1658.9 1000.3h0M1548 983h0" stroke-width="1.5"/></g>
<g filter="url(#bs)" stroke-linecap="round" fill="none"><path d="M1547.9 1064.3v11.6M1671.4 982.1v8.2M1493.6 970.8v14M1516.6 1006v13M1522.8 1074.8v7.4M1591.3 1001.3v13.9" stroke="#4a0c70" stroke-width="1" stroke-opacity="0.25"/><path d="M1505.4 1041v12.8M1673 999.3v12.3M1687.4 1085v13.3M1573.7 1033.2v10.4M1656.6 986.6v11.2M1496.4 1012.8v11M1506.7 1012v10.2M1654.9 981.4v10.6M1588 982.1v11.7M1478.6 1034.9v5.7" stroke="#6a18a0" stroke-width="1.5" stroke-opacity="0.25"/><path d="M1686.6 999.2v9.9M1476.1 981.7v9.4M1547.3 986v6.6M1456.1 1081.6v9.4M1558.2 1086v10.8M1467.1 983.7v10.5M1585.2 1012.6v9.8M1661.9 979.4v5.7M1511.1 969.1v12.1" stroke="#4a0c70" stroke-width="1" stroke-opacity="0.5"/><path d="M1559.4 1016.6v7.6M1579.4 1015.1v12.7M1589.8 1058.9v11.3M1490.1 1070.8v10M1538.8 980.2v6M1521.9 1091.2v6M1630.3 987.6v13.1M1558.7 1064.6v9.4M1697.8 1081.3v13M1485.8 1009.7v5.6M1571.2 1020.6v13.7M1577.7 1073.4v12.4M1631.2 974.7v5.7M1475.6 1055.4v6M1695.4 1049.4v7.6" stroke="#6a18a0" stroke-width="1" stroke-opacity="0.5"/><path d="M1661.1 1003.1v11.2M1694.2 1081.9v5.6M1607.3 1038.1v13.6M1503 1035.3v12.2M1707.4 1027v6.1M1613 1065.9v9.8M1534 1052v7.1M1601 993.2v11M1502.9 995.9v9.7M1528.4 1019.7v6.2M1496.9 1051.5v9.6M1598.2 1011.9v7.7M1500.5 1010.3v12.6M1510.4 1056.9v12.4M1627.8 1065v6.7M1551.3 1007v9.3M1679.1 1074v10.9M1681.7 1090.1v6.2" stroke="#4a0c70" stroke-width="1.5" stroke-opacity="0.25"/><path d="M1571.2 1044.8v10.2M1551.9 1069v11.9M1464.5 979.8v10.2M1660.5 983.4v12.1M1459 1032.6v10.7M1609.9 997.4v6.3M1619.6 1056.5v8.9M1514.1 1063.9v7.8M1548 1093.2v10.9M1538.6 970.1v12.8M1530.3 1056.6v11.9M1634.2 1020.1v7.9M1599.2 1049v10.2" stroke="#6a18a0" stroke-width="2" stroke-opacity="0.5"/><path d="M1689.1 1013.5v9.9M1570 1074.6v8.8M1586 1023v10.3M1659.3 992.9v7.9M1615.5 1075.5v7.2" stroke="#4a0c70" stroke-width="2" stroke-opacity="0.25"/><path d="M1681 1010.3v9.6M1484.6 1075.3v12.5M1525.9 1010.1v6.8M1476.5 1025.1v9.7M1684.4 1003.6v8.8M1478.3 1022.7v13.5M1660.5 1062.5v12M1704.4 971.9v9.5M1688.5 1056.5v13.1M1510.8 1091.7v8.8M1559.4 972.6v13.3M1636.7 974.2v6.3M1470.2 1007.1v8.2M1638 1006.8v5.8M1569.7 1012.5v6.4M1674.7 992.5v9M1628.8 994.5v9.9M1655.2 1027.9v13.1M1704.6 1072.1v8.9M1455.1 1024v10.9M1603.4 1082.1v6.9M1654.8 1051.7v12.4M1643.9 1086.8v12.1M1603.3 1001.7v6.1M1455.2 1018v9.8M1670.7 1006.4v13.3M1601.7 990.3v6M1663.4 983.4v8.5M1655.5 1060.9v6.7M1566.6 995.3v6.4M1567.1 1030v7.1M1616.3 1093.8v10.4" stroke="#4a0c70" stroke-width="1.5" stroke-opacity="0.5"/><path d="M1503 991.1v11M1487.1 1047.6v8M1592.9 1047.9v8.3M1620.4 983.4v9.9M1577.4 981.9v11M1585.9 1040.6v7.8M1700.8 1041.3v8.2M1576 1020.4v12.2M1679.6 972.5v7.3M1658.5 1043.8v12M1665.1 1083.7v6.5M1614.2 1043.7v13.4M1598.2 1083.7v10.9M1526.7 1055.2v6.1M1516.9 1039.4v6.9M1643 1086.4v8M1517.5 1034.6v5.8M1457.2 1096.3v6.4" stroke="#6a18a0" stroke-width="1.5" stroke-opacity="0.5"/><path d="M1513.6 994.9v5.8M1632.9 1052.5v12.9M1632.4 1029.3v7.5M1601.3 998.1v8.1M1476.7 1090.7v11.3M1482.4 1028.4v9.3M1690.5 990.7v6.9M1637.6 1016.4v10.6M1606.4 998.9v12.4M1500.5 1087.4v12.6M1566.9 1029.2v7.1M1578.4 1031.4v10.5M1535.3 1062.9v9.3M1482.6 978.9v7.8M1670.7 1072.8v9.2M1585.9 1042.3v11.2" stroke="#4a0c70" stroke-width="2" stroke-opacity="0.5"/><path d="M1697.8 992.1v13.1M1578.5 971.9v12M1499.5 1038.1v10.4M1481.2 1062.3v11.2M1476 1019.3v11.9" stroke="#6a18a0" stroke-width="1" stroke-opacity="0.25"/><path d="M1565.5 1066.3v8.1M1655.9 974.5v8.8M1579.2 1085.7v12.6" stroke="#6a18a0" stroke-width="2" stroke-opacity="0.25"/></g>
<path d="M1486.53,1141.96 C1456.63,1138.63 1487.91,1122.02 1493.45,1117.04 C1498.99,1112.06 1516.06,1107.72 1528.06,1104.58 C1540.05,1101.44 1568.66,1094.06 1583.43,1093.51 C1598.19,1092.95 1625.88,1098.58 1638.8,1100.43 C1651.72,1102.27 1669.99,1104.58 1680.33,1107.35 C1690.66,1110.12 1711.33,1116.58 1716.32,1121.19 C1721.3,1125.81 1748.34,1139.19 1717.7,1141.96 C1687.06,1144.72 1516.43,1145.28 1486.53,1141.96 Z" fill="#10a028" filter="url(#b2)" opacity="0.9"/>
<path d="M1486.53,1141.96 C1456.63,1138.63 1487.91,1122.02 1493.45,1117.04 C1498.99,1112.06 1516.06,1107.72 1528.06,1104.58 C1540.05,1101.44 1568.66,1094.06 1583.43,1093.51 C1598.19,1092.95 1625.88,1098.58 1638.8,1100.43 C1651.72,1102.27 1669.99,1104.58 1680.33,1107.35 C1690.66,1110.12 1711.33,1116.58 1716.32,1121.19 C1721.3,1125.81 1748.34,1139.19 1717.7,1141.96 C1687.06,1144.72 1516.43,1145.28 1486.53,1141.96 Z" fill="#28ec48" filter="url(#st2)"/>
<ellipse cx="1585.76" cy="1055.75" rx="5.43" ry="9.51" fill="#24ee48" filter="url(#b1)"/>
<ellipse cx="1597.17" cy="1057.11" rx="5.98" ry="10.33" fill="#24ee48" filter="url(#b1)"/>
<ellipse cx="1609.4" cy="1054.93" rx="5.98" ry="10.33" fill="#24ee48" filter="url(#b1)"/>
<ellipse cx="1643.91" cy="1076.13" rx="5.98" ry="14.95" fill="#24ee48" filter="url(#b1)"/>
<ellipse cx="1518.37" cy="1057.11" rx="2.72" ry="6.79" fill="#24ee48" filter="url(#b1)"/>
<ellipse cx="1698.26" cy="1100.59" rx="4.89" ry="5.98" fill="#24ee48" filter="url(#b1)"/>
<ellipse cx="1480.33" cy="1089.72" rx="2.72" ry="5.43" fill="#24ee48" filter="url(#b1)"/>
<ellipse cx="1648.8" cy="1096.51" rx="3.8" ry="5.43" fill="#24ee48" filter="url(#b1)"/>
<ellipse cx="1670.54" cy="1048.96" rx="2.72" ry="6.79" fill="#24ee48" filter="url(#b1)"/>
<ellipse cx="1477.61" cy="1070.7" rx="2.72" ry="5.43" fill="#24ee48" filter="url(#b1)"/>
<rect x="1462.3" y="1111.2" width="36.7" height="2.8" fill="#fff"/>
<text x="1480.6" y="1127.4" font-size="12" textLength="27.84" lengthAdjust="spacingAndGlyphs" text-anchor="middle" fill="#fff">50µm</text>
</g>
<g clip-path="url(#cl15)">
<g filter="url(#bs)" stroke-linecap="round" fill="none"><path d="M1834 990.1v2.3M1725.5 994.9v3.2M1939.2 981.2v4.3M1879.1 982.3v3.2M1904.4 999.4v3.6M1929.2 998v4.8" stroke="#1a6a90" stroke-width="2.5" stroke-opacity="0.75"/><path d="M1853.4 1006.5v3.4M1875 984.7v5.1" stroke="#1aa040" stroke-width="2.5" stroke-opacity="0.25"/><path d="M1742.7 986.8v4.4M1886.5 991.1v4.1M1776.2 1009.3v3.5M1845.9 984v2.5" stroke="#14903a" stroke-width="2.5" stroke-opacity="0.5"/><path d="M1862.2 976.5v2.5M1913.1 976.9v4.7" stroke="#1aa040" stroke-width="1.5" stroke-opacity="0.5"/><path d="M1762.2 1007.6v3.5M1812 1019.4v6.1M1758.1 996.8v3.9M1812.4 978.4v4.3M1958.1 1015.2v6.1" stroke="#1a6a90" stroke-width="1.5" stroke-opacity="0.5"/><path d="M1834.6 980.5v5.2M1967.3 1013.2v3.8M1892.6 976.1v3.8" stroke="#1aa040" stroke-width="2" stroke-opacity="0.25"/><path d="M1763.9 1022v5.1M1869.7 1004.3v3.2" stroke="#1a6a90" stroke-width="2.5" stroke-opacity="0.5"/><path d="M1935.5 1022.1v4.9" stroke="#1aa040" stroke-width="1.5" stroke-opacity="1"/><path d="M1862 1014.2v4.7M1779.4 1003.2v5M1767.9 1024.8v3.7M1956.3 984.9v6.2M1913.3 1011.4v6.1M1854.4 1020.2v3M1889.8 995.8v3M1783.2 1014.7v5.6M1780.3 988.3v2.2M1910.3 1020.4v2.2" stroke="#1aa040" stroke-width="2" stroke-opacity="0.5"/><path d="M1805.9 973.9v3.4M1745.1 993.8v5.3M1953.5 983.6v2.1" stroke="#14903a" stroke-width="2.5" stroke-opacity="0.75"/><path d="M1783.1 1018.6v4.5M1826.7 974.2v4.5M1796.5 1020.7v6.1M1840.1 1012.1v2.7M1818 976.4v3.5M1792.8 1014.4v2.6M1942 988v4.1M1823.9 1021.1v5.5M1791.4 1008.9v5.1M1740.8 1017.7v5.2" stroke="#1a6a90" stroke-width="1.5" stroke-opacity="0.75"/><path d="M1847.6 995.9v4.5M1801.8 1021.4v6M1783.9 1015.8v5.4M1767.8 988.8v3.9M1886.9 1002v4.9" stroke="#14903a" stroke-width="1.5" stroke-opacity="0.75"/><path d="M1919.9 1011.2v4.2M1967.5 998.3v3.4M1735.5 1018.2v5.9" stroke="#14903a" stroke-width="2" stroke-opacity="0.75"/><path d="M1836.5 1014.5v5.3M1979.2 980.1v5.2" stroke="#20c050" stroke-width="2" stroke-opacity="0.25"/><path d="M1758 1022.8v2.9M1899.2 1022.1v3M1759.6 1011.3v5.7M1863.6 981.2v4.9M1836.8 1014.3v6.2" stroke="#20c050" stroke-width="1.5" stroke-opacity="0.5"/><path d="M1767.5 1019.5v6.1M1853.2 996.1v5.4M1949.2 973.5v5.4M1867.1 1008v5.6M1768.2 989.7v5.9M1726.3 975.8v4.8M1728.5 1007.9v3.9" stroke="#1aa040" stroke-width="1.5" stroke-opacity="0.75"/><path d="M1903.4 987.8v5M1864.8 1020.8v3.7" stroke="#20c050" stroke-width="2.5" stroke-opacity="0.25"/><path d="M1784.6 1007.4v4.9M1865.4 974.9v3.5M1881.9 1011.4v3.5M1779.2 1001.7v2.6M1739.2 991.8v6.2" stroke="#14903a" stroke-width="1.5" stroke-opacity="0.5"/><path d="M1772.6 1014.6v2.3M1876.9 1005.2v3.9M1778.7 1019.2v5.8M1982.7 1021.9v5.8M1819.4 980.8v5" stroke="#14903a" stroke-width="2" stroke-opacity="0.5"/><path d="M1801.8 1011.1v3.5M1772.7 1005.1v3.4M1733.4 1013v3.5M1967.1 1009.6v6.2M1914.1 1015.7v5.7M1909.6 981.1v5" stroke="#1a6a90" stroke-width="2" stroke-opacity="0.75"/><path d="M1781 1022v5.4M1874.6 984v3.4" stroke="#1a6a90" stroke-width="2.5" stroke-opacity="0.25"/><path d="M1912.2 994.5v2.3M1895.8 989.3v4.3M1929 1016.6v4.8M1811.3 994.1v3.6M1932.6 992.9v3.9M1759.4 1025.2v2.4" stroke="#1aa040" stroke-width="2" stroke-opacity="0.75"/><path d="M1793.2 1003.6v2.7M1951.6 1000v2.7M1957 977.8v6.2M1895.3 994.3v2.9M1931.9 996.4v4.5M1974.5 995.6v5.4" stroke="#20c050" stroke-width="2" stroke-opacity="0.5"/><path d="M1722.9 1000.1v4.2M1933.7 1006.9v5.1" stroke="#1aa040" stroke-width="2" stroke-opacity="1"/><path d="M1832.4 990.5v3.6M1845.5 997.5v5.4M1876.1 991.4v3M1904.7 980.7v2.6M1764 996.1v6.3M1729.1 1007.3v3.8" stroke="#20c050" stroke-width="1.5" stroke-opacity="0.75"/><path d="M1862.7 985.4v3.1" stroke="#20c050" stroke-width="1.5" stroke-opacity="0.25"/><path d="M1782.1 976v4.1" stroke="#20c050" stroke-width="1" stroke-opacity="0.75"/><path d="M1953.1 1017.8v5.2M1949.1 1008.2v3.2M1903.2 980.7v2.8M1840.2 988.7v3.3M1882.3 1001.3v2.5" stroke="#20c050" stroke-width="2.5" stroke-opacity="0.5"/><path d="M1809.9 1006.4v4.9M1800.1 979.2v4.6M1735.6 973.8v3.7" stroke="#20c050" stroke-width="2.5" stroke-opacity="0.75"/><path d="M1832.8 1001.5v3.2M1801.7 981.1v5.5M1872.6 980.9v3.5M1805.5 982.7v3.5" stroke="#1a6a90" stroke-width="2" stroke-opacity="0.5"/><path d="M1800.2 1012.7v3.8" stroke="#14903a" stroke-width="1" stroke-opacity="0.75"/><path d="M1818.1 995.8v3.9M1825.9 1023v2.8" stroke="#14903a" stroke-width="2.5" stroke-opacity="1"/><path d="M1938.4 1008v5.6" stroke="#1a6a90" stroke-width="2" stroke-opacity="1"/><path d="M1751.9 976.7v2.4" stroke="#20c050" stroke-width="2" stroke-opacity="0.75"/><path d="M1908.9 992.9v6.2M1984.7 1006.7v6.1" stroke="#1a6a90" stroke-width="1.5" stroke-opacity="0.25"/><path d="M1766.7 1001.5v6.1M1770.7 1000.5v2.5" stroke="#1a6a90" stroke-width="2" stroke-opacity="0.25"/><path d="M1806.9 1014.3v4.2" stroke="#1aa040" stroke-width="2.5" stroke-opacity="0.75"/><path d="M1822.6 1010.7v3.3" stroke="#1aa040" stroke-width="1.5" stroke-opacity="0.25"/><path d="M1835.5 989.2v2.4" stroke="#1aa040" stroke-width="2.5" stroke-opacity="0.5"/><path d="M1953.3 1003.5v3.9" stroke="#14903a" stroke-width="1.5" stroke-opacity="0.25"/></g>
<path d="M1720.31,1141.96 C1684.68,1141.03 1715.88,1137.8 1720.31,1135.03 C1724.74,1132.27 1745.41,1124.88 1753.53,1121.19 C1761.65,1117.5 1771.99,1110.86 1781.21,1107.35 C1790.44,1103.84 1812.59,1097.47 1822.74,1094.89 C1832.89,1092.31 1848.12,1088.15 1857.35,1087.97 C1866.58,1087.78 1881.8,1091.29 1891.96,1093.51 C1902.11,1095.72 1920.84,1101.26 1933.48,1104.58 C1946.13,1107.9 1979.58,1113.44 1986.78,1118.42 C1993.98,1123.41 2023,1138.82 1987.47,1141.96 C1951.94,1145.09 1755.93,1142.88 1720.31,1141.96 Z" fill="#0a6a18" filter="url(#b2)" opacity="0.6"/>
<path d="M1774.29,1121.19 C1777.98,1117.5 1798.75,1111.5 1808.9,1108.73 C1819.05,1105.96 1837.51,1100.8 1850.43,1100.43 C1863.35,1100.06 1891.03,1103.75 1905.8,1105.96 C1920.56,1108.18 1951.94,1112.98 1961.17,1117.04 C1970.4,1121.1 1999.01,1133.83 1975.01,1136.42 C1951.02,1139 1807.98,1138.45 1781.21,1136.42 C1754.45,1134.39 1770.6,1124.88 1774.29,1121.19 Z" fill="#1ee840" filter="url(#gsp2)"/>
<ellipse cx="1584.81" cy="1057.51" rx="5.54" ry="9.69" fill="#24ee48" filter="url(#b1)"/>
<ellipse cx="1595.89" cy="1057.51" rx="6.23" ry="11.07" fill="#24ee48" filter="url(#b1)"/>
<ellipse cx="1609.73" cy="1056.13" rx="6.23" ry="11.07" fill="#24ee48" filter="url(#b1)"/>
<ellipse cx="1642.95" cy="1079.66" rx="6.23" ry="18" fill="#24ee48" filter="url(#b1)"/>
<ellipse cx="1518.37" cy="1057.51" rx="2.49" ry="6.23" fill="#24ee48" filter="url(#b1)"/>
<ellipse cx="1648.49" cy="1099.04" rx="4.15" ry="5.54" fill="#24ee48" filter="url(#b1)"/>
<ellipse cx="1698.32" cy="1100.43" rx="4.84" ry="5.54" fill="#24ee48" filter="url(#b1)"/>
<ellipse cx="1500.37" cy="1110.12" rx="2.77" ry="5.54" fill="#24ee48" filter="url(#b1)"/>
<ellipse cx="1479.61" cy="1090.74" rx="2.49" ry="5.54" fill="#24ee48" filter="url(#b1)"/>
<ellipse cx="1670.64" cy="1045.06" rx="2.08" ry="5.54" fill="#24ee48" filter="url(#b1)"/>
<rect x="1462.3" y="1111.2" width="36.7" height="2.8" fill="#fff"/>
<text x="1480.6" y="1127.4" font-size="12" textLength="27.84" lengthAdjust="spacingAndGlyphs" text-anchor="middle" fill="#fff">50µm</text>
</g>
<g clip-path="url(#cl16)">
<g filter="url(#bs)" stroke-linecap="round" fill="none"><path d="M1723.1 990.1v2.3M1889.7 1010.8v4.4M1845.2 980.5v3.1M1759.6 1008.1v4" stroke="#1a6a90" stroke-width="2" stroke-opacity="0.75"/><path d="M1897.2 972.8v6.2" stroke="#1aa040" stroke-width="1" stroke-opacity="1"/><path d="M1941.8 1020.5v6M1909.8 1003.2v4.1M1922.5 996.1v5.1M1763.4 1021.3v6.1M1954.4 987.4v6.1" stroke="#1a6a90" stroke-width="2.5" stroke-opacity="0.75"/><path d="M1915.5 1017.7v5.6M1853.6 1016.2v2.5M1735.9 978.1v3.2M1792.7 993.2v4.4" stroke="#20c050" stroke-width="2" stroke-opacity="0.5"/><path d="M1726.7 1024v2.1M1945.1 992.3v2.3M1878.5 1009.8v2.6M1957.4 993.6v5.2" stroke="#1aa040" stroke-width="2.5" stroke-opacity="0.75"/><path d="M1831.8 979.5v5.4M1900.4 1003.7v2.9M1801.6 1014v6M1807.6 977.8v4.8M1847.2 987.1v4" stroke="#14903a" stroke-width="2.5" stroke-opacity="0.75"/><path d="M1753.8 973.5v4.7M1774.4 992.8v3.8" stroke="#1aa040" stroke-width="2.5" stroke-opacity="0.5"/><path d="M1973.4 999.7v2.1M1975.4 978.6v3.5M1777.2 1007.9v3.7M1977.3 1021.4v5.9M1724.7 972.8v5.7M1847.3 975.9v2.3M1794.5 1000.5v3.6M1811.3 1013v2.4M1880.1 988.6v4.7M1808.2 977.2v5.7M1894 1018.7v2.5M1942.4 974.9v3.3" stroke="#20c050" stroke-width="1.5" stroke-opacity="0.5"/><path d="M1980.5 999v6M1861.5 1014.8v5.9M1830.4 1017.8v2.1M1769.8 993.6v5.9M1851.4 977.7v5.2M1972.7 985.9v2.9" stroke="#20c050" stroke-width="2.5" stroke-opacity="0.75"/><path d="M1982 976.1v5.6M1884.8 988.4v2.7M1754.9 1006.3v3.5M1946 1009.7v4.4M1952.3 1017.6v4M1908.2 991.6v4.7" stroke="#14903a" stroke-width="2" stroke-opacity="0.5"/><path d="M1917.8 1018.1v5.2M1979.2 990.6v4.9M1819.2 1004.4v4.8M1978 985.1v5.2" stroke="#20c050" stroke-width="1.5" stroke-opacity="0.75"/><path d="M1872.8 999.8v3.4" stroke="#14903a" stroke-width="1.5" stroke-opacity="0.25"/><path d="M1754.4 976.7v3M1877.6 1006.4v6.1M1756.4 1008.9v5.6M1778.4 1017.2v5.7" stroke="#1aa040" stroke-width="2" stroke-opacity="0.75"/><path d="M1949.5 1014.1v4.1M1849.3 977.5v4.1M1951.7 979.5v5.8" stroke="#20c050" stroke-width="2" stroke-opacity="1"/><path d="M1947.2 986.9v4.5M1914.1 977v5.7M1949.2 982.1v5.3M1794.9 995.8v2.5M1809.9 976.1v2.4M1951.3 982.7v5.9M1751.3 1025.5v2.1" stroke="#20c050" stroke-width="2" stroke-opacity="0.75"/><path d="M1764.3 983.4v4.1M1920.5 979.7v4.3M1742 997.5v5.5M1881.1 1020.4v5.6M1813.3 994.6v6M1770.2 1015.3v5.5M1954.2 1010v5.3" stroke="#1a6a90" stroke-width="1.5" stroke-opacity="0.75"/><path d="M1936.2 1017.8v3.5M1869.6 981.2v2.9M1818.4 982.4v4.6M1853.4 995.6v5M1884.3 989.4v5.4M1978.2 1001v2.9" stroke="#1a6a90" stroke-width="1.5" stroke-opacity="0.5"/><path d="M1760.6 1006.8v2.1M1742.9 980.1v3.8M1843.8 1019.7v3.3" stroke="#1a6a90" stroke-width="2" stroke-opacity="0.5"/><path d="M1842.3 986.2v4.2M1738.7 1009v4.5M1917.4 986.8v2.4" stroke="#14903a" stroke-width="2.5" stroke-opacity="0.25"/><path d="M1742 1022.8v4.5" stroke="#20c050" stroke-width="2" stroke-opacity="0.25"/><path d="M1783.5 998.4v2.8M1835.3 1003v5.1M1940.4 1018.4v3.1M1797.9 989v5.3M1776.7 1011.3v3.4M1944.3 988.3v2.4M1979.9 1019.6v2.3M1895 1023.4v2.2" stroke="#1aa040" stroke-width="2" stroke-opacity="0.5"/><path d="M1845.3 1018.6v3" stroke="#1a6a90" stroke-width="2" stroke-opacity="0.25"/><path d="M1826 1000v5.1M1937.8 982.9v3.5M1847.7 989v5.6M1874.9 1004.9v4.1M1733.9 1016v2.6M1821 1005.9v4.8" stroke="#20c050" stroke-width="2.5" stroke-opacity="0.5"/><path d="M1791.4 1016.4v4.2M1976.2 979.3v6.1" stroke="#14903a" stroke-width="2" stroke-opacity="0.25"/><path d="M1917.9 997.5v3.6M1828 1023.3v3.9" stroke="#14903a" stroke-width="1.5" stroke-opacity="0.75"/><path d="M1780.6 989.6v6.1M1862.2 1013.8v4.4M1949.9 1022.7v4.1M1794.3 981.3v3.3M1733.2 1002.1v5.1" stroke="#14903a" stroke-width="2" stroke-opacity="0.75"/><path d="M1982.5 1004.9v5.8" stroke="#1a6a90" stroke-width="2.5" stroke-opacity="0.25"/><path d="M1905.6 986v4.1M1930.3 1022.5v4.2M1790.7 1007.3v4.7M1821.7 1021.9v5.3M1828.8 974.9v5.8" stroke="#14903a" stroke-width="2.5" stroke-opacity="0.5"/><path d="M1972.8 981.5v4.4M1778.5 1008v3.8M1967.4 979.7v5.7M1873.7 990.8v4.4M1915.4 984.1v3" stroke="#1aa040" stroke-width="1.5" stroke-opacity="0.75"/><path d="M1981 976.8v5.4M1840.6 980.4v2.9M1730.4 978.6v3.4" stroke="#14903a" stroke-width="1.5" stroke-opacity="0.5"/><path d="M1965.4 988.3v2.5" stroke="#1aa040" stroke-width="1.5" stroke-opacity="0.25"/><path d="M1881.5 1012.5v4.8M1901 1010.2v5.7M1879 1014.6v5.6M1727.9 996.6v2.4" stroke="#1aa040" stroke-width="1.5" stroke-opacity="0.5"/><path d="M1875.1 993v5.8" stroke="#14903a" stroke-width="1" stroke-opacity="0.5"/><path d="M1819.6 993.4v3.4" stroke="#1aa040" stroke-width="1" stroke-opacity="0.75"/><path d="M1845.3 1005.6v6.1" stroke="#1a6a90" stroke-width="1" stroke-opacity="0.25"/><path d="M1825.4 993.7v4.4M1816 988.7v5" stroke="#20c050" stroke-width="1.5" stroke-opacity="0.25"/><path d="M1880.3 975.2v5.4" stroke="#1aa040" stroke-width="2" stroke-opacity="0.25"/><path d="M1945.5 986.2v5.7M1910.5 1008.5v4.1" stroke="#20c050" stroke-width="2.5" stroke-opacity="0.25"/><path d="M1802.4 978.9v3.4" stroke="#14903a" stroke-width="1.5" stroke-opacity="1"/><path d="M1780.6 1016v5M1820.1 998v2.4" stroke="#1a6a90" stroke-width="1" stroke-opacity="0.75"/><path d="M1941.5 1003v4.2" stroke="#1a6a90" stroke-width="1.5" stroke-opacity="0.25"/></g>
<path d="M1720.31,1141.96 C1684.68,1141.03 1715.88,1137.8 1720.31,1135.03 C1724.74,1132.27 1745.41,1124.88 1753.53,1121.19 C1761.65,1117.5 1771.99,1110.86 1781.21,1107.35 C1790.44,1103.84 1812.59,1097.47 1822.74,1094.89 C1832.89,1092.31 1848.12,1088.15 1857.35,1087.97 C1866.58,1087.78 1881.8,1091.29 1891.96,1093.51 C1902.11,1095.72 1920.84,1101.26 1933.48,1104.58 C1946.13,1107.9 1979.58,1113.44 1986.78,1118.42 C1993.98,1123.41 2023,1138.82 1987.47,1141.96 C1951.94,1145.09 1755.93,1142.88 1720.31,1141.96 Z" fill="#1ee840" filter="url(#gsp)"/>
<path d="M1767.37,1121.19 C1771.99,1116.95 1796.9,1108.09 1808.9,1104.58 C1820.9,1101.07 1844.43,1095.07 1857.35,1094.89 C1870.27,1094.71 1891.96,1100.24 1905.8,1103.2 C1919.64,1106.15 1951.94,1112.61 1961.17,1117.04 C1970.4,1121.47 1999.93,1133.83 1975.01,1136.42 C1950.1,1139 1801.98,1138.45 1774.29,1136.42 C1746.61,1134.39 1762.76,1125.44 1767.37,1121.19 Z" fill="#1ee840" filter="url(#gsp2)"/>
<ellipse cx="1853.2" cy="1056.13" rx="4.84" ry="9.69" fill="#24ee48" filter="url(#b1)"/>
<ellipse cx="1864.27" cy="1057.51" rx="6.23" ry="11.07" fill="#24ee48" filter="url(#b1)"/>
<ellipse cx="1876.73" cy="1054.75" rx="5.54" ry="11.07" fill="#24ee48" filter="url(#b1)"/>
<ellipse cx="1905.8" cy="1075.51" rx="6.23" ry="16.61" fill="#24ee48" filter="url(#b1)"/>
<ellipse cx="1929.33" cy="1047.83" rx="3.05" ry="6.23" fill="#24ee48" filter="url(#b1)"/>
<ellipse cx="1919.64" cy="1015.99" rx="6.23" ry="5.54" fill="#24ee48" filter="url(#b1)"/>
<ellipse cx="1891.96" cy="1011.83" rx="5.54" ry="5.54" fill="#24ee48" filter="url(#b1)"/>
<ellipse cx="1795.06" cy="1057.51" rx="2.49" ry="6.23" fill="#24ee48" filter="url(#b1)"/>
<ellipse cx="1955.63" cy="1094.89" rx="5.54" ry="5.54" fill="#24ee48" filter="url(#b1)"/>
<ellipse cx="1972.24" cy="1090.74" rx="4.84" ry="5.54" fill="#24ee48" filter="url(#b1)"/>
<ellipse cx="1779.83" cy="1103.2" rx="3.05" ry="5.54" fill="#24ee48" filter="url(#b1)"/>
<ellipse cx="1757.68" cy="1072.74" rx="2.08" ry="5.54" fill="#24ee48" filter="url(#b1)"/>
<ellipse cx="1872.58" cy="1029.83" rx="2.49" ry="4.15" fill="#24ee48" filter="url(#b1)"/>
<ellipse cx="1909.95" cy="1092.12" rx="4.15" ry="5.54" fill="#24ee48" filter="url(#b1)"/>
<rect x="1721" y="1111.2" width="32.5" height="2.8" fill="#fff"/>
<text x="1737" y="1128.8" font-size="12" textLength="27.84" lengthAdjust="spacingAndGlyphs" text-anchor="middle" fill="#fff">50µm</text>
</g>
<g clip-path="url(#cl17)">
<path d="M1451.92,1193.37 C1453.07,1182.99 1453.07,1190.14 1458.84,1189.22 C1464.61,1188.3 1480.99,1192.91 1486.53,1187.83 C1492.07,1182.76 1485.14,1161.07 1492.07,1158.76 C1498.99,1156.46 1517.44,1171.91 1528.06,1173.99 C1538.67,1176.07 1544.21,1170.76 1555.74,1171.22 C1567.28,1171.68 1586.89,1177.68 1597.27,1176.76 C1607.65,1175.84 1612.27,1168.92 1618.03,1165.69 C1623.8,1162.46 1627.26,1157.38 1631.88,1157.38 C1636.49,1157.38 1639.95,1162.46 1645.72,1165.69 C1651.49,1168.92 1658.41,1172.15 1666.48,1176.76 C1674.56,1181.37 1685.52,1186.91 1694.17,1193.37 C1702.82,1199.83 1714.36,1201.68 1718.39,1215.52 C1722.43,1229.36 1724.74,1265.81 1718.39,1276.43 C1712.05,1287.04 1691.29,1281.5 1680.33,1279.2 C1669.37,1276.89 1661.87,1266.97 1652.64,1262.58 C1643.41,1258.2 1634.18,1255.66 1624.96,1252.89 C1615.73,1250.13 1606.5,1246.2 1597.27,1245.97 C1588.04,1245.74 1578.81,1249.43 1569.58,1251.51 C1560.36,1253.59 1551.13,1255.89 1541.9,1258.43 C1532.67,1260.97 1523.44,1264.89 1514.21,1266.74 C1504.99,1268.58 1493.45,1267.2 1486.53,1269.51 C1479.61,1271.81 1477.3,1280.58 1472.69,1280.58 C1468.07,1280.58 1462.3,1274.35 1458.84,1269.51 C1455.38,1264.66 1453.07,1264.2 1451.92,1251.51 C1450.77,1238.82 1450.77,1203.75 1451.92,1193.37 Z" fill="#a87a60" filter="url(#b1)"/>
<path d="M1453.31,1207.21 C1456.07,1195.68 1466.23,1199.6 1472.69,1193.37 C1479.15,1187.14 1482.84,1171.91 1492.07,1169.84 C1501.29,1167.76 1517.44,1179.53 1528.06,1180.91 C1538.67,1182.3 1544.21,1177.68 1555.74,1178.14 C1567.28,1178.61 1586.89,1184.6 1597.27,1183.68 C1607.65,1182.76 1612.27,1174.91 1618.03,1172.61 C1623.8,1170.3 1626.11,1168.22 1631.88,1169.84 C1637.64,1171.45 1644.57,1176.76 1652.64,1182.3 C1660.72,1187.83 1671.1,1195.68 1680.33,1203.06 C1689.56,1210.44 1702.01,1215.52 1708.01,1226.59 C1714.01,1237.67 1720.93,1261.2 1716.32,1269.51 C1711.7,1277.81 1690.94,1277.81 1680.33,1276.43 C1669.71,1275.04 1661.87,1265.35 1652.64,1261.2 C1643.41,1257.05 1634.18,1254.28 1624.96,1251.51 C1615.73,1248.74 1606.5,1244.82 1597.27,1244.59 C1588.04,1244.36 1578.81,1248.05 1569.58,1250.13 C1560.36,1252.2 1551.13,1254.51 1541.9,1257.05 C1532.67,1259.59 1523.44,1263.51 1514.21,1265.35 C1504.99,1267.2 1493.45,1266.28 1486.53,1268.12 C1479.61,1269.97 1477.76,1277.35 1472.69,1276.43 C1467.61,1275.5 1459.3,1274.12 1456.07,1262.58 C1452.84,1251.05 1450.54,1218.75 1453.31,1207.21 Z" fill="#b474cc" filter="url(#b1)"/>
<path d="M1486.53,1207.21 C1495.76,1196.83 1523.44,1195.22 1541.9,1193.37 C1560.36,1191.53 1578.81,1194.99 1597.27,1196.14 C1615.73,1197.29 1635.34,1194.99 1652.64,1200.29 C1669.94,1205.6 1693.02,1217.6 1701.09,1227.98 C1709.17,1238.36 1709.17,1258.43 1701.09,1262.58 C1693.02,1266.74 1669.94,1257.05 1652.64,1252.89 C1635.34,1248.74 1615.73,1238.36 1597.27,1237.67 C1578.81,1236.98 1560.36,1245.74 1541.9,1248.74 C1523.44,1251.74 1495.76,1262.58 1486.53,1255.66 C1477.3,1248.74 1477.3,1217.6 1486.53,1207.21 Z" fill="#cc98dc" filter="url(#mt3)" opacity="0.6"/>
<path d="M1453.31,1200.29 C1455.61,1189.22 1468.07,1192.68 1472.69,1196.14 C1477.3,1199.6 1480.99,1209.98 1480.99,1221.06 C1480.99,1232.13 1476.38,1255.66 1472.69,1262.58 C1468.99,1269.51 1462.07,1272.97 1458.84,1262.58 C1455.61,1252.2 1451,1211.37 1453.31,1200.29 Z" fill="#5a3a50" filter="url(#b2)" opacity="0.6"/>
<g stroke="#d8d0cc" stroke-linecap="round" fill="none"><path d="M1702.4 1152.5h0M1561.3 1175.9h0M1691.5 1178.8h0M1546.2 1173.1h0M1560.8 1172h0M1674.8 1144.4h0M1517.4 1146.2h0M1636 1145.3h0M1597.5 1175.3h0M1506.8 1170.2h0M1545.6 1161.1h0M1574.4 1152.8h0M1512.4 1147h0M1507.3 1168.4h0M1702.8 1142.5h0M1511.3 1142.4h0M1580.1 1154.5h0M1585.7 1178.6h0M1503.6 1176.8h0M1616.6 1153.7h0M1676 1160.8h0M1621.1 1162.3h0M1512.6 1150h0M1552.7 1175.3h0M1592.3 1160.3h0M1478.5 1172.9h0M1537.6 1168.7h0M1684.9 1143.7h0M1523.3 1172.3h0M1578.7 1176.2h0M1526.6 1173.9h0M1670.1 1142.3h0M1702.4 1162.2h0M1479.4 1173.5h0M1492.6 1153.7h0M1574.7 1146.2h0M1492.8 1170.2h0M1540.4 1162.1h0M1617.4 1156.1h0M1567.5 1153.3h0M1660.4 1171.3h0M1597.2 1163.9h0M1488.7 1174.1h0M1492.1 1155.1h0" stroke-width="1.5"/><path d="M1654.7 1164.4h0M1674.1 1172.3h0M1632.8 1157h0M1601 1178h0M1597.6 1159h0M1696.8 1170.7h0M1559.9 1157.4h0M1583.2 1168.5h0M1705.4 1152.2h0M1591.9 1142.6h0M1590.3 1147.8h0M1690.7 1158.3h0M1612.4 1145.4h0M1625.2 1144.5h0M1538.9 1170h0M1475.9 1157.3h0M1579.2 1175h0M1649.8 1170.8h0M1617.8 1155.6h0M1673.8 1147.3h0M1676.6 1179.4h0M1520.8 1168.1h0M1543.9 1159.6h0M1651 1143.8h0M1526.2 1164h0M1533.8 1176.5h0M1713.6 1178.4h0M1647.4 1167.1h0M1587.2 1160.8h0M1637.8 1167.9h0M1579.2 1144h0M1663.5 1174.9h0M1697.5 1155.5h0M1488.1 1141.2h0M1487 1173.1h0M1641.2 1153.4h0M1608.1 1167.9h0M1603.6 1146.3h0M1526.2 1178.3h0M1712.5 1169.2h0M1676.7 1145.2h0M1476 1159.7h0M1615 1156.5h0" stroke-width="1.25"/><path d="M1597.6 1175.1h0M1463.4 1159.1h0M1550.1 1144.8h0M1582.4 1174.5h0M1628.9 1160.2h0M1704.5 1149.1h0M1691.9 1164.7h0M1595.3 1167h0M1501.2 1170.3h0M1491.6 1154.9h0M1604.1 1161.5h0M1541.8 1149.6h0M1606.2 1173.3h0M1644 1163.8h0M1536.7 1170.3h0M1528.6 1162.6h0M1697.9 1165.6h0M1606.2 1167h0M1573.1 1178.8h0M1704.2 1167.5h0M1581.1 1141.6h0M1685 1167.9h0M1531.9 1151.7h0" stroke-width="1"/></g>
<path d="M1522.52,1290.27 C1519.29,1287.04 1536.41,1278.69 1541.9,1276.43 C1547.39,1274.17 1561.51,1271.7 1569.58,1270.89 C1577.66,1270.08 1601.42,1268.86 1611.11,1269.51 C1620.8,1270.15 1642.95,1274 1652.64,1276.43 C1662.33,1278.85 1690.13,1287.04 1694.17,1290.27 C1698.21,1293.5 1701.78,1302.5 1687.25,1304.11 C1672.71,1305.73 1588.8,1305.73 1569.58,1304.11 C1550.37,1302.5 1525.75,1293.5 1522.52,1290.27 Z" fill="url(#cyantop)" filter="url(#bump)"/>
<path d="M1454.69,1322.11 C1428.32,1321.55 1451.51,1317.96 1454.69,1316.57 C1457.87,1315.19 1481.27,1310.9 1486.53,1308.27 C1491.79,1305.64 1503.83,1292.42 1507.29,1290.27 C1510.75,1288.12 1516.29,1286.81 1521.14,1286.81 C1525.98,1286.81 1548.13,1289.65 1555.74,1290.27 C1563.36,1290.89 1591.73,1291.93 1597.27,1293.04 C1602.81,1294.15 1608.34,1301.34 1611.11,1301.34 C1613.88,1301.34 1619.42,1293.73 1624.96,1293.04 C1630.49,1292.35 1657.14,1294.01 1666.48,1294.42 C1675.83,1294.84 1713.2,1294.42 1718.39,1297.19 C1723.59,1299.96 1744.76,1319.62 1718.39,1322.11 C1692.02,1324.6 1481.06,1322.66 1454.69,1322.11 Z" fill="#137a76"/>
<path d="M1528.06,1323.49 C1511.72,1322.25 1547.44,1312.42 1555.74,1311.03 C1564.05,1309.65 1600.04,1308.96 1611.11,1309.65 C1622.19,1310.34 1655.69,1316.85 1666.48,1317.96 C1677.28,1319.06 1713.83,1320.17 1719.09,1320.72 C1724.35,1321.28 1738.19,1323.22 1719.09,1323.49 C1699.98,1323.77 1544.39,1324.74 1528.06,1323.49 Z" fill="#000"/>
<rect x="1458.2" y="1301.7" width="32.5" height="2.8" fill="#fff"/>
<text x="1474.5" y="1315.2" font-size="12" textLength="27.84" lengthAdjust="spacingAndGlyphs" text-anchor="middle" fill="#fff">50µm</text>
</g>
<g clip-path="url(#cl18)">
<g stroke="#d8d0cc" stroke-linecap="round" fill="none"><path d="M1806 1148.3h0M1857.1 1141.9h0M1759.7 1181.3h0M1758.7 1172.4h0M1773.2 1186.2h0M1868.9 1146.4h0M1774.2 1170.2h0M1869.7 1150.1h0M1933.2 1182.1h0M1779.1 1174.9h0M1914.5 1144.8h0M1969.3 1182.8h0M1863 1143.8h0M1823.7 1264.9h0M1747.2 1175h0M1761.7 1197.4h0M1853.1 1192.7h0M1967.2 1190.7h0M1814.4 1256.1h0M1935.1 1146.3h0M1875.8 1156.3h0M1781.1 1171.8h0M1971.9 1146.2h0M1919.7 1214.5h0M1863.5 1176.8h0M1829.9 1247.2h0M1786.5 1205.7h0M1797.4 1175.8h0M1846 1143.6h0M1889.2 1146.8h0M1761.2 1168.1h0M1955.6 1148.9h0M1807 1256.5h0M1792.6 1144.7h0M1772.2 1176.1h0M1769.2 1191.2h0M1902.2 1167.7h0M1931.4 1189.2h0M1888 1254.3h0M1751.5 1147.1h0M1905.6 1194.2h0M1923.8 1164.2h0M1920.6 1208.2h0M1886.9 1170.5h0M1838.5 1140.3h0M1923.2 1164.6h0M1873.8 1145.4h0M1758.4 1181.9h0M1861.9 1158.1h0M1868.3 1225.4h0M1857.7 1147h0M1874.6 1169h0M1810 1147.5h0M1804.4 1163.4h0M1842.1 1143.8h0M1877.1 1173.9h0M1847.6 1176.2h0M1755.3 1167.9h0M1892.3 1263.1h0M1754.4 1176.2h0M1940.6 1203.4h0M1851.4 1228.1h0M1918.5 1162.3h0M1910.5 1172.3h0M1963.1 1168.9h0M1844.5 1165.6h0M1822.6 1173.3h0M1767.6 1168.7h0M1840.3 1151.7h0M1869.4 1166.5h0M1871.7 1173.9h0M1867.3 1145.4h0M1940.7 1208.8h0M1793.7 1177.6h0M1869.5 1221.9h0M1938.5 1248.5h0M1963.9 1194.2h0M1805.6 1140.2h0M1902.4 1175.8h0M1982.7 1182h0M1771.7 1175.3h0M1859.7 1183.9h0M1782.7 1151.2h0M1809.9 1150.6h0M1878.9 1189.9h0M1937.3 1209.3h0M1778.2 1171.1h0M1879.3 1215.6h0M1842.5 1172.5h0M1828.2 1142.9h0M1956.8 1228.2h0M1834.9 1167.1h0M1858.4 1180.2h0M1770.2 1172h0M1760.8 1170.2h0M1863.6 1183.2h0M1881.5 1189.2h0M1913.3 1197.3h0M1929.2 1190.6h0M1786.4 1177.8h0M1892.9 1143.9h0M1863.8 1142.3h0M1899.2 1143.5h0M1742.1 1150.7h0M1873 1173.4h0M1763.5 1165.9h0M1834.6 1169.7h0M1836.6 1264.4h0M1766.3 1161.3h0M1838.6 1161.6h0M1864.3 1162.2h0M1922.2 1156.3h0M1825.3 1144.8h0M1971.1 1145.3h0M1743.3 1169.9h0M1776.1 1150.8h0M1881.5 1219.6h0M1931.6 1141.7h0" stroke-width="1.25"/><path d="M1759.4 1152.9h0M1938.8 1150.2h0M1887.7 1147.6h0M1880.1 1149.7h0M1827.5 1161h0M1818.5 1232.3h0M1843.1 1247h0M1872.8 1164.7h0M1862.5 1181.9h0M1932.2 1201.5h0M1921.5 1204.9h0M1984.2 1157.3h0M1814.8 1152.9h0M1796.1 1172.8h0M1895.6 1159.3h0M1895.1 1140.7h0M1955.5 1157.5h0M1821.8 1167.6h0M1947.7 1190.1h0M1819.3 1140h0M1853.5 1151.4h0M1833.9 1246h0M1782 1184.3h0M1878 1142h0M1843.1 1159.9h0M1811.2 1149h0M1780.5 1157.6h0M1807.4 1184.1h0M1978 1173.8h0M1867.8 1153.3h0M1884.2 1149.9h0M1953.2 1150.9h0M1834.3 1148.2h0M1899.5 1218.3h0M1745.7 1184.7h0M1754.5 1140.1h0M1824.7 1157.5h0M1838.9 1168.6h0M1923.9 1194.1h0M1871.8 1237.2h0M1890.7 1161.6h0M1873.8 1175.5h0M1808.9 1166.9h0M1866.8 1167h0M1785.6 1144.2h0M1758.6 1171.4h0M1957.8 1152.4h0M1984.6 1178.2h0M1829.5 1200.2h0M1889.7 1169.1h0M1935.7 1260.8h0M1799.6 1145.6h0M1976.5 1204.4h0M1767.2 1163.6h0M1849 1169.6h0M1981.9 1188.2h0M1795.3 1153.7h0M1909.2 1146.7h0M1816.2 1253.5h0M1785.4 1170.7h0M1756 1218h0M1787.9 1173.6h0M1949.5 1143.1h0M1834.6 1157.7h0M1954.9 1182h0M1894.7 1201.2h0M1887.1 1148.4h0M1877.7 1181.7h0M1886.7 1147.6h0M1778.4 1182.5h0M1807 1143.7h0M1973.2 1220.1h0M1877.8 1157.2h0M1977.7 1164h0" stroke-width="1.75"/><path d="M1815.4 1162.2h0M1953.7 1176.7h0M1778.7 1145.4h0M1776.7 1151.4h0M1837.7 1222.2h0M1757.4 1177.5h0M1901.9 1190.6h0M1883.3 1172.1h0M1910.8 1196.1h0M1808.1 1243.6h0M1980 1187.5h0M1759.3 1170.4h0M1926.9 1206.2h0M1919 1196.4h0M1975.3 1250.7h0M1862.6 1237.8h0M1852.7 1173.8h0M1888 1150.5h0M1823.7 1168.8h0M1967.4 1175.4h0M1842.3 1175.5h0M1807.7 1156.7h0M1907.2 1235.3h0M1810.8 1140.4h0M1864.6 1188.5h0M1934.6 1201.8h0M1927.9 1187.6h0M1883.4 1144.2h0M1913.4 1167.2h0M1958.1 1214.5h0M1892.5 1184.2h0M1766.6 1145.5h0M1914 1156.7h0M1853 1163.4h0M1846.3 1258.9h0M1853.3 1146.5h0M1919.3 1172.8h0M1854.8 1185.2h0M1926.7 1154.7h0M1831 1160.8h0M1915.1 1221.9h0M1838.1 1162.8h0M1811.4 1142.9h0M1752.3 1161.1h0M1895.2 1154.6h0M1906.9 1150.5h0M1822 1160.8h0M1764.2 1199.3h0M1954 1146.6h0M1944.4 1196.9h0M1772.8 1183.6h0M1802.7 1145.9h0M1880.4 1190.9h0M1785.8 1141.5h0M1910.1 1175.6h0M1828.1 1180.5h0M1892.4 1181.2h0M1794.2 1184.4h0M1873.6 1182.6h0M1884.3 1184.3h0M1875.3 1167.8h0M1939.4 1206.7h0M1849.2 1163.4h0M1942.4 1221.7h0M1971.5 1194.8h0M1956.1 1158.1h0M1762.5 1145.9h0M1840.2 1159.4h0M1914.3 1174.2h0M1965.7 1159.9h0M1831.2 1148.1h0M1921.1 1179.5h0M1832.9 1183h0M1790.8 1178.4h0M1899.8 1166.8h0M1777.1 1170.5h0M1765.1 1169.7h0M1867.1 1157.6h0M1895.2 1208.2h0M1790.9 1142.6h0M1952.2 1192.5h0M1803.9 1153.1h0M1878.5 1167.6h0M1877.2 1178.1h0M1834.5 1158.5h0M1823.6 1142.3h0M1946.9 1210.8h0M1779.7 1145.8h0M1795.7 1164h0M1869.8 1143.7h0M1873.2 1182.3h0M1787.8 1152.5h0M1783.9 1217h0M1938.2 1140.3h0M1839.6 1182.3h0M1749.9 1174.6h0M1932.9 1175.5h0M1753.3 1213.3h0M1837.9 1189.3h0M1888.5 1182.7h0M1882.6 1183.1h0M1970.5 1174.5h0M1860.4 1181.6h0M1842.2 1173.1h0M1881.6 1173.2h0M1855.5 1178.8h0M1883.2 1151.1h0M1902.9 1156h0M1913.3 1193.6h0M1877.1 1170.9h0M1912.4 1170.5h0M1823.4 1172.2h0M1972.3 1151.9h0M1981.1 1264.1h0M1862.9 1183.7h0M1755.7 1184.4h0M1879.6 1156.2h0M1811.6 1146.8h0M1764.4 1173.1h0M1813.2 1161.4h0M1833.8 1164.1h0M1763.9 1249.9h0M1817.7 1149h0M1977.8 1179.6h0" stroke-width="1.5"/><path d="M1758.2 1168.1h0M1946.1 1187.5h0M1882.2 1146.8h0M1958.6 1191.3h0M1942.7 1198.6h0M1903.6 1206.8h0M1822.7 1140.4h0M1864.5 1173h0M1749.3 1157.8h0M1891.1 1145h0" stroke-width="1"/></g>
<path d="M1793.67,1280.58 C1790.44,1277.51 1803.89,1272.67 1808.9,1270.89 C1813.91,1269.11 1828.51,1266.16 1836.58,1265.35 C1844.66,1264.55 1870.04,1263.32 1878.11,1263.97 C1886.19,1264.61 1896.92,1268.47 1905.8,1270.89 C1914.68,1273.31 1948.6,1281.66 1954.25,1284.73 C1959.9,1287.8 1967.98,1295.74 1954.25,1297.19 C1940.52,1298.65 1855.32,1299.13 1836.58,1297.19 C1817.85,1295.25 1796.9,1283.65 1793.67,1280.58 Z" fill="url(#cyantop)" filter="url(#bump)"/>
<path d="M1725.84,1323.49 C1722.38,1321.55 1723.07,1306.74 1725.84,1304.11 C1728.61,1301.48 1748.68,1299.41 1753.53,1297.19 C1758.37,1294.98 1770.14,1283.63 1774.29,1281.96 C1778.45,1280.3 1788.83,1280.72 1795.06,1280.58 C1801.29,1280.44 1829.66,1279.61 1836.58,1280.58 C1843.51,1281.55 1860.12,1289.16 1864.27,1290.27 C1868.42,1291.38 1874.65,1292.21 1878.11,1291.65 C1881.57,1291.1 1894.03,1285.15 1898.88,1284.73 C1903.72,1284.32 1921.03,1287.22 1926.56,1287.5 C1932.1,1287.78 1948.71,1286.53 1954.25,1287.5 C1959.79,1288.47 1978.96,1294.56 1981.93,1297.19 C1984.91,1299.82 1986.09,1311.73 1984.01,1313.8 C1981.93,1315.88 1967.61,1318.23 1961.17,1317.96 C1954.73,1317.68 1927.95,1312.7 1919.64,1311.03 C1911.34,1309.37 1887.8,1302.04 1878.11,1301.34 C1868.42,1300.65 1832.43,1302.87 1822.74,1304.11 C1813.05,1305.36 1787.44,1311.86 1781.21,1313.8 C1774.98,1315.74 1765.99,1322.52 1760.45,1323.49 C1754.91,1324.46 1729.3,1325.43 1725.84,1323.49 Z" fill="#137a76"/>
<rect x="1738.3" y="1298.8" width="31.8" height="2.8" fill="#fff"/>
<text x="1754" y="1315.2" font-size="12" textLength="27.84" lengthAdjust="spacingAndGlyphs" text-anchor="middle" fill="#fff">50µm</text>
</g>
</svg>
</body></html>
